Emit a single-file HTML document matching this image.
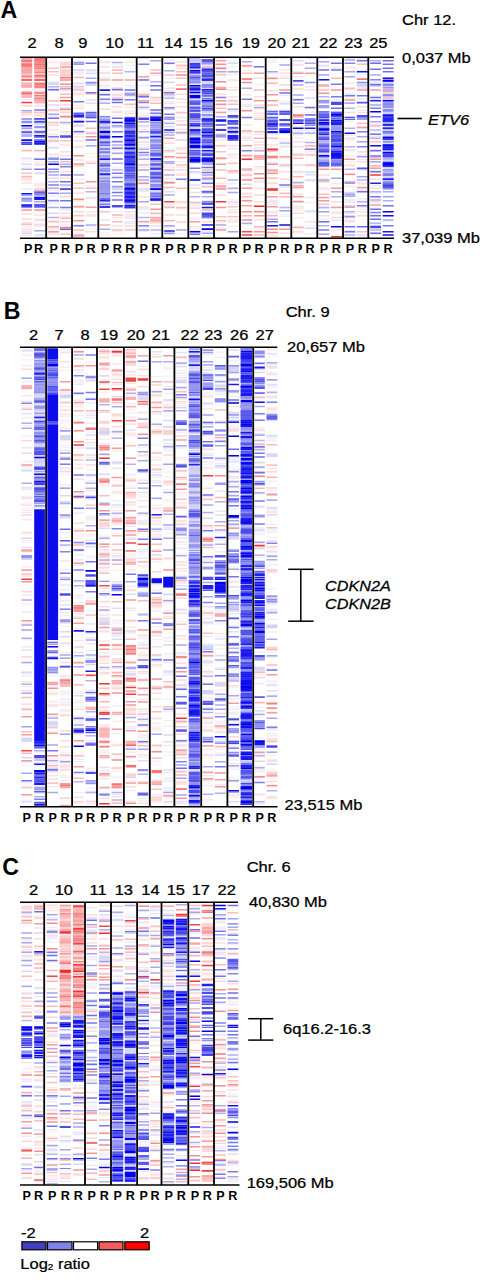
<!DOCTYPE html>
<html><head><meta charset="utf-8"><style>
html,body{margin:0;padding:0;background:#fff;width:486px;height:1280px;overflow:hidden}
svg{display:block;font-family:"Liberation Sans",sans-serif;fill:#000}
</style></head><body>
<svg width="486" height="1280" viewBox="0 0 486 1280"><defs><filter id="bl" x="0" y="0" width="1" height="1"><feGaussianBlur stdDeviation="0.3 0.55"/></filter></defs>
<g filter="url(#bl)"><path fill="#eaeafc" d="M21.3 63.1h10.9v1.6h-10.9zM21.3 69.2h10.9v1.0h-10.9zM21.3 72.4h10.9v1.6h-10.9zM21.3 99.1h10.9v1.0h-10.9zM21.3 102.0h10.9v1.6h-10.9zM21.3 158.6h10.9v1.0h-10.9zM21.3 188.5h10.9v1.6h-10.9zM34.2 69.1h10.8v1.3h-10.8zM34.2 78.7h10.8v1.3h-10.8zM34.2 85.4h10.8v1.0h-10.8zM34.2 89.7h10.8v1.3h-10.8zM34.2 93.2h10.8v1.0h-10.8zM34.2 140.2h10.8v1.0h-10.8zM34.2 149.2h10.8v1.6h-10.8zM34.2 158.7h10.8v1.6h-10.8zM34.2 182.7h10.8v1.0h-10.8zM48.2 87.5h10.8v1.3h-10.8zM48.2 147.4h10.8v1.6h-10.8zM48.2 156.7h10.8v1.0h-10.8zM48.2 172.3h10.8v1.0h-10.8zM48.2 199.1h10.8v1.0h-10.8zM48.2 220.3h10.8v1.6h-10.8zM48.2 231.7h10.8v1.6h-10.8zM60.0 107.0h11.0v1.3h-11.0zM60.0 208.8h11.0v1.6h-11.0zM73.5 63.2h10.7v1.0h-10.7zM73.5 133.5h10.7v1.6h-10.7zM85.6 112.1h10.9v1.6h-10.9zM85.6 117.6h10.9v1.3h-10.9zM85.6 190.9h10.9v1.3h-10.9zM85.6 205.9h10.9v1.3h-10.9zM99.6 77.6h10.6v1.6h-10.6zM99.6 85.0h10.6v1.0h-10.6zM99.6 93.1h10.6v1.3h-10.6zM99.6 133.1h10.6v1.0h-10.6zM99.6 143.1h10.6v1.6h-10.6zM99.6 147.6h10.6v1.6h-10.6zM99.6 168.9h10.6v1.0h-10.6zM99.6 204.1h10.6v1.0h-10.6zM111.8 65.8h11.0v1.3h-11.0zM111.8 93.2h11.0v1.6h-11.0zM111.8 167.5h11.0v1.0h-11.0zM111.8 228.9h11.0v1.3h-11.0zM124.5 86.6h10.8v1.0h-10.8zM124.5 95.7h10.8v1.3h-10.8zM124.5 155.7h10.8v1.6h-10.8zM124.5 165.3h10.8v1.6h-10.8zM124.5 172.7h10.8v1.0h-10.8zM124.5 216.1h10.8v1.6h-10.8zM124.5 218.0h10.8v1.0h-10.8zM138.4 78.6h10.8v1.3h-10.8zM138.4 84.7h10.8v1.6h-10.8zM138.4 106.5h10.8v1.6h-10.8zM138.4 109.1h10.8v1.0h-10.8zM138.4 142.3h10.8v1.0h-10.8zM138.4 146.5h10.8v1.6h-10.8zM138.4 155.9h10.8v1.3h-10.8zM138.4 158.2h10.8v1.0h-10.8zM138.4 167.0h10.8v1.0h-10.8zM138.4 181.4h10.8v1.3h-10.8zM138.4 183.7h10.8v1.0h-10.8zM138.4 212.1h10.8v1.3h-10.8zM138.4 225.9h10.8v1.6h-10.8zM138.4 231.0h10.8v1.0h-10.8zM138.4 236.9h10.8v0.6h-10.8zM150.2 74.7h11.0v1.0h-11.0zM150.2 80.8h11.0v1.0h-11.0zM150.2 89.2h11.0v1.0h-11.0zM150.2 130.1h11.0v1.0h-11.0zM150.2 154.7h11.0v1.3h-11.0zM150.2 159.0h11.0v1.6h-11.0zM150.2 191.8h11.0v1.0h-11.0zM150.2 233.0h11.0v1.3h-11.0zM150.2 236.6h11.0v0.9h-11.0zM164.2 77.7h10.5v1.3h-10.5zM164.2 90.0h10.5v1.6h-10.5zM164.2 96.1h10.5v1.6h-10.5zM164.2 124.6h10.5v1.0h-10.5zM164.2 130.4h10.5v1.3h-10.5zM164.2 166.7h10.5v1.6h-10.5zM164.2 178.0h10.5v1.3h-10.5zM164.2 194.5h10.5v1.0h-10.5zM164.2 205.9h10.5v1.3h-10.5zM164.2 224.9h10.5v1.0h-10.5zM164.2 226.2h10.5v1.6h-10.5zM175.8 124.0h10.9v1.0h-10.9zM189.7 60.0h10.7v1.3h-10.7zM189.7 71.6h10.7v1.3h-10.7zM189.7 82.2h10.7v1.0h-10.7zM189.7 103.2h10.7v1.3h-10.7zM189.7 106.4h10.7v1.3h-10.7zM189.7 131.4h10.7v1.6h-10.7zM189.7 178.5h10.7v1.6h-10.7zM189.7 204.5h10.7v1.6h-10.7zM189.7 218.9h10.7v1.0h-10.7zM189.7 233.5h10.7v1.0h-10.7zM201.7 62.2h11.3v1.6h-11.3zM201.7 98.2h11.3v1.3h-11.3zM201.7 125.1h11.3v1.6h-11.3zM201.7 127.0h11.3v1.0h-11.3zM201.7 179.0h11.3v1.3h-11.3zM201.7 207.2h11.3v1.3h-11.3zM201.7 230.5h11.3v1.6h-11.3zM215.6 100.8h10.7v1.3h-10.7zM215.6 104.7h10.7v1.0h-10.7zM215.6 120.6h10.7v1.6h-10.7zM215.6 124.1h10.7v1.3h-10.7zM215.6 227.6h10.7v1.3h-10.7zM227.5 73.8h10.9v1.3h-10.9zM227.5 110.6h10.9v1.6h-10.9zM227.5 123.9h10.9v1.0h-10.9zM227.5 138.4h10.9v1.0h-10.9zM227.5 199.5h10.9v1.0h-10.9zM227.5 203.4h10.9v1.3h-10.9zM241.6 157.9h10.6v1.3h-10.6zM241.6 194.1h10.6v1.0h-10.6zM267.2 58.0h10.7v1.3h-10.7zM267.2 61.9h10.7v1.0h-10.7zM267.2 201.7h10.7v1.3h-10.7zM267.2 212.4h10.7v1.6h-10.7zM279.3 94.7h10.9v1.3h-10.9zM279.3 103.5h10.9v1.6h-10.9zM279.3 109.6h10.9v1.3h-10.9zM279.3 120.6h10.9v1.6h-10.9zM279.3 144.4h10.9v1.0h-10.9zM279.3 186.3h10.9v1.6h-10.9zM279.3 195.7h10.9v1.6h-10.9zM293.0 70.9h10.6v1.3h-10.6zM293.0 76.0h10.6v1.3h-10.6zM293.0 114.6h10.6v1.3h-10.6zM293.0 116.9h10.6v1.0h-10.6zM293.0 129.9h10.6v1.6h-10.6zM293.0 134.0h10.6v1.6h-10.6zM293.0 137.5h10.6v1.3h-10.6zM293.0 195.2h10.6v1.6h-10.6zM293.0 200.0h10.6v1.6h-10.6zM304.7 130.0h10.9v1.6h-10.9zM304.7 132.6h10.9v1.0h-10.9zM304.7 164.2h10.9v1.3h-10.9zM304.7 180.8h10.9v1.0h-10.9zM318.7 58.0h10.6v1.0h-10.6zM318.7 88.7h10.6v1.6h-10.6zM318.7 99.6h10.6v1.3h-10.6zM318.7 114.0h10.6v1.6h-10.6zM318.7 137.2h10.6v1.3h-10.6zM318.7 153.7h10.6v1.6h-10.6zM318.7 156.3h10.6v1.3h-10.6zM318.7 166.7h10.6v1.6h-10.6zM318.7 168.9h10.6v1.0h-10.6zM318.7 178.5h10.6v1.6h-10.6zM318.7 218.4h10.6v1.3h-10.6zM331.0 67.9h10.8v1.3h-10.8zM331.0 111.3h10.8v1.3h-10.8zM331.0 140.4h10.8v1.6h-10.8zM331.0 182.9h10.8v1.6h-10.8zM331.0 206.0h10.8v1.0h-10.8zM344.5 58.0h10.7v1.0h-10.7zM344.5 93.1h10.7v1.6h-10.7zM344.5 97.9h10.7v1.0h-10.7zM344.5 120.8h10.7v1.3h-10.7zM344.5 134.6h10.7v1.3h-10.7zM344.5 155.3h10.7v1.3h-10.7zM344.5 181.4h10.7v1.3h-10.7zM344.5 194.6h10.7v1.6h-10.7zM344.5 215.2h10.7v1.0h-10.7zM344.5 220.1h10.7v1.3h-10.7zM344.5 231.7h10.7v1.0h-10.7zM344.5 236.5h10.7v1.0h-10.7zM356.8 58.0h10.9v1.6h-10.9zM356.8 63.5h10.9v1.3h-10.9zM356.8 70.2h10.9v1.6h-10.9zM356.8 98.3h10.9v1.6h-10.9zM356.8 102.5h10.9v1.6h-10.9zM356.8 109.7h10.9v1.3h-10.9zM356.8 116.8h10.9v1.6h-10.9zM356.8 128.3h10.9v1.0h-10.9zM356.8 168.8h10.9v1.6h-10.9zM356.8 188.3h10.9v1.6h-10.9zM356.8 200.8h10.9v1.6h-10.9zM356.8 208.9h10.9v1.0h-10.9zM356.8 214.8h10.9v1.0h-10.9zM356.8 234.6h10.9v1.3h-10.9zM370.2 81.2h10.8v1.6h-10.8zM370.2 83.8h10.8v1.0h-10.8zM370.2 105.5h10.8v1.0h-10.8zM370.2 123.6h10.8v1.6h-10.8zM370.2 126.2h10.8v1.3h-10.8zM370.2 164.7h10.8v1.0h-10.8zM370.2 167.6h10.8v1.6h-10.8zM370.2 174.4h10.8v1.6h-10.8zM370.2 184.9h10.8v1.6h-10.8zM370.2 218.1h10.8v1.3h-10.8zM370.2 225.1h10.8v1.0h-10.8zM382.7 97.5h10.9v1.3h-10.9zM382.7 130.9h10.9v1.6h-10.9zM382.7 139.9h10.9v1.3h-10.9zM382.7 141.5h10.9v1.3h-10.9zM382.7 143.4h10.9v1.6h-10.9zM382.7 160.1h10.9v1.6h-10.9zM382.7 162.0h10.9v1.3h-10.9zM382.7 186.5h10.9v1.6h-10.9zM382.7 205.7h10.9v1.3h-10.9zM21.3 350.6h10.9v1.3h-10.9zM21.3 408.6h10.9v1.3h-10.9zM21.3 446.8h10.9v1.6h-10.9zM21.3 465.7h10.9v1.6h-10.9zM21.3 469.8h10.9v1.0h-10.9zM21.3 498.3h10.9v1.0h-10.9zM34.2 358.1h10.7v1.3h-10.7zM34.2 360.0h10.7v1.6h-10.7zM34.2 374.1h10.7v1.3h-10.7zM34.2 413.5h10.7v1.6h-10.7zM34.2 419.3h10.7v1.6h-10.7zM34.2 463.7h10.7v1.6h-10.7zM34.2 476.5h10.7v1.3h-10.7zM34.2 486.5h10.7v1.0h-10.7zM34.2 489.1h10.7v1.3h-10.7zM34.2 490.7h10.7v1.0h-10.7zM34.2 494.9h10.7v1.3h-10.7zM34.2 497.2h10.7v1.0h-10.7zM47.3 355.4h10.8v1.6h-10.8zM47.3 361.3h10.8v1.6h-10.8zM47.3 378.3h10.8v1.6h-10.8zM47.3 385.7h10.8v1.0h-10.8zM47.3 408.4h10.8v1.3h-10.8zM47.3 449.7h10.8v1.0h-10.8zM47.3 466.1h10.8v1.3h-10.8zM47.3 498.7h10.8v1.3h-10.8zM59.8 348.3h10.7v1.0h-10.7zM59.8 366.8h10.7v1.0h-10.7zM59.8 393.4h10.7v1.6h-10.7zM59.8 406.3h10.7v1.0h-10.7zM73.5 384.0h10.4v1.0h-10.4zM73.5 393.7h10.4v1.3h-10.4zM73.5 414.6h10.4v1.0h-10.4zM73.5 474.8h10.4v1.3h-10.4zM73.5 493.0h10.4v1.6h-10.4zM73.5 495.2h10.4v1.3h-10.4zM85.5 379.2h10.3v1.0h-10.3zM85.5 402.3h10.3v1.3h-10.3zM85.5 422.5h10.3v1.6h-10.3zM85.5 448.4h10.3v1.0h-10.3zM85.5 469.3h10.3v1.0h-10.3zM85.5 475.9h10.3v1.3h-10.3zM85.5 482.0h10.3v1.0h-10.3zM85.5 487.9h10.3v1.3h-10.3zM85.5 499.0h10.3v1.3h-10.3zM34.2 542.2h10.7v1.6h-10.7zM34.2 581.9h10.7v1.3h-10.7zM34.2 607.4h10.7v1.6h-10.7zM34.2 617.5h10.7v1.3h-10.7zM34.2 631.0h10.7v1.6h-10.7zM34.2 640.0h10.7v1.6h-10.7zM47.3 520.2h10.8v1.0h-10.8zM47.3 542.7h10.8v1.0h-10.8zM47.3 594.7h10.8v1.0h-10.8zM59.8 516.3h10.7v1.0h-10.7zM59.8 569.0h10.7v1.3h-10.7zM59.8 583.8h10.7v1.3h-10.7zM59.8 585.4h10.7v1.0h-10.7zM59.8 592.9h10.7v1.6h-10.7zM59.8 599.9h10.7v1.6h-10.7zM59.8 608.3h10.7v1.6h-10.7zM59.8 612.1h10.7v1.3h-10.7zM59.8 657.0h10.7v0.5h-10.7zM73.5 507.9h10.4v1.6h-10.4zM73.5 512.4h10.4v1.6h-10.4zM73.5 558.8h10.4v1.6h-10.4zM73.5 564.2h10.4v1.6h-10.4zM85.5 519.5h10.3v1.0h-10.3zM85.5 579.9h10.3v1.3h-10.3zM85.5 601.2h10.3v1.3h-10.3zM85.5 623.1h10.3v1.6h-10.3zM85.5 633.2h10.3v1.0h-10.3zM85.5 637.0h10.3v1.6h-10.3zM85.5 639.6h10.3v1.0h-10.3zM85.5 643.1h10.3v1.3h-10.3zM85.5 649.9h10.3v1.3h-10.3zM85.5 655.8h10.3v1.0h-10.3zM21.3 707.7h10.9v1.6h-10.9zM21.3 782.3h10.9v1.3h-10.9zM34.2 657.5h10.7v1.0h-10.7zM34.2 679.8h10.7v1.0h-10.7zM34.2 699.1h10.7v1.3h-10.7zM34.2 720.6h10.7v1.6h-10.7zM34.2 745.3h10.7v1.3h-10.7zM34.2 763.9h10.7v1.3h-10.7zM34.2 770.9h10.7v1.6h-10.7zM34.2 775.7h10.7v1.0h-10.7zM34.2 778.9h10.7v1.6h-10.7zM34.2 792.7h10.7v1.0h-10.7zM47.3 657.5h10.8v1.3h-10.8zM47.3 706.0h10.8v1.3h-10.8zM47.3 722.4h10.8v1.3h-10.8zM47.3 767.0h10.8v1.0h-10.8zM59.8 690.4h10.7v1.0h-10.7zM59.8 698.2h10.7v1.6h-10.7zM73.5 720.6h10.4v1.0h-10.4zM73.5 758.4h10.4v1.6h-10.4zM73.5 791.9h10.4v1.0h-10.4zM85.5 689.4h10.3v1.6h-10.3zM85.5 727.2h10.3v1.0h-10.3zM85.5 740.0h10.3v1.0h-10.3zM85.5 790.6h10.3v1.6h-10.3zM85.5 805.5h10.3v0.3h-10.3zM99.2 380.9h10.5v1.6h-10.5zM99.2 438.5h10.5v1.3h-10.5zM99.2 462.1h10.5v1.3h-10.5zM99.2 465.6h10.5v1.0h-10.5zM111.6 350.5h10.7v1.0h-10.7zM111.6 460.8h10.7v1.0h-10.7zM125.6 348.3h10.5v1.0h-10.5zM125.6 418.8h10.5v1.6h-10.5zM125.6 475.5h10.5v1.0h-10.5zM137.6 398.7h10.6v1.3h-10.6zM137.6 435.2h10.6v1.0h-10.6zM151.5 413.2h10.4v1.6h-10.4zM151.5 459.0h10.4v1.6h-10.4zM151.5 470.0h10.4v1.3h-10.4zM151.5 480.0h10.4v1.3h-10.4zM163.2 392.8h10.1v1.3h-10.1zM163.2 400.5h10.1v1.0h-10.1zM163.2 442.6h10.1v1.3h-10.1zM163.2 476.5h10.1v1.0h-10.1zM99.2 510.0h10.5v1.0h-10.5zM99.2 535.5h10.5v1.3h-10.5zM99.2 566.7h10.5v1.6h-10.5zM99.2 594.6h10.5v1.0h-10.5zM111.6 513.2h10.7v1.6h-10.7zM111.6 552.8h10.7v1.3h-10.7zM111.6 582.9h10.7v1.3h-10.7zM111.6 590.9h10.7v1.3h-10.7zM111.6 633.2h10.7v1.6h-10.7zM111.6 635.1h10.7v1.6h-10.7zM125.6 536.8h10.5v1.0h-10.5zM125.6 609.7h10.5v1.3h-10.5zM125.6 650.0h10.5v1.0h-10.5zM137.6 520.0h10.6v1.3h-10.6zM137.6 523.5h10.6v1.6h-10.6zM137.6 548.8h10.6v1.6h-10.6zM137.6 550.7h10.6v1.6h-10.6zM137.6 591.2h10.6v1.0h-10.6zM137.6 642.2h10.6v1.3h-10.6zM151.5 589.5h10.4v1.3h-10.4zM163.2 549.6h10.1v1.3h-10.1zM163.2 594.2h10.1v1.3h-10.1zM163.2 612.0h10.1v1.6h-10.1zM163.2 653.3h10.1v1.3h-10.1zM111.6 776.5h10.7v1.3h-10.7zM125.6 678.7h10.5v1.0h-10.5zM125.6 725.9h10.5v1.6h-10.5zM125.6 728.1h10.5v1.3h-10.5zM125.6 745.1h10.5v1.6h-10.5zM125.6 755.0h10.5v1.3h-10.5zM137.6 681.4h10.6v1.0h-10.6zM137.6 688.9h10.6v1.6h-10.6zM137.6 698.7h10.6v1.3h-10.6zM137.6 711.3h10.6v1.3h-10.6zM137.6 734.7h10.6v1.6h-10.6zM137.6 798.0h10.6v1.0h-10.6zM151.5 718.4h10.4v1.0h-10.4zM151.5 793.9h10.4v1.0h-10.4zM163.2 670.1h10.1v1.3h-10.1zM163.2 672.0h10.1v1.6h-10.1zM163.2 674.2h10.1v1.3h-10.1zM163.2 751.4h10.1v1.0h-10.1zM163.2 771.7h10.1v1.6h-10.1zM163.2 781.0h10.1v1.0h-10.1zM163.2 787.4h10.1v1.6h-10.1zM163.2 790.0h10.1v1.3h-10.1zM176.0 372.4h10.8v1.6h-10.8zM176.0 388.4h10.8v1.3h-10.8zM176.0 445.5h10.8v1.3h-10.8zM176.0 467.0h10.8v1.3h-10.8zM176.0 470.9h10.8v1.3h-10.8zM188.8 350.2h11.0v1.0h-11.0zM188.8 354.8h11.0v1.6h-11.0zM188.8 370.5h11.0v1.3h-11.0zM188.8 385.5h11.0v1.3h-11.0zM188.8 397.5h11.0v1.0h-11.0zM188.8 439.7h11.0v1.0h-11.0zM188.8 452.1h11.0v1.3h-11.0zM188.8 465.6h11.0v1.6h-11.0zM188.8 469.4h11.0v1.3h-11.0zM188.8 483.5h11.0v1.6h-11.0zM188.8 494.0h11.0v1.3h-11.0zM188.8 501.7h11.0v0.8h-11.0zM202.6 353.7h10.7v1.6h-10.7zM202.6 380.1h10.7v1.6h-10.7zM202.6 382.3h10.7v1.0h-10.7zM202.6 385.5h10.7v1.3h-10.7zM202.6 388.4h10.7v1.0h-10.7zM202.6 393.6h10.7v1.0h-10.7zM202.6 403.9h10.7v1.3h-10.7zM202.6 414.2h10.7v1.6h-10.7zM202.6 421.6h10.7v1.6h-10.7zM202.6 445.4h10.7v1.3h-10.7zM202.6 448.6h10.7v1.6h-10.7zM202.6 455.1h10.7v1.0h-10.7zM214.8 368.7h11.0v1.3h-11.0zM214.8 383.9h11.0v1.6h-11.0zM214.8 389.4h11.0v1.0h-11.0zM214.8 393.7h11.0v1.6h-11.0zM214.8 430.6h11.0v1.0h-11.0zM214.8 438.3h11.0v1.0h-11.0zM214.8 441.9h11.0v1.0h-11.0zM214.8 459.1h11.0v1.6h-11.0zM214.8 463.0h11.0v1.6h-11.0zM214.8 490.3h11.0v1.6h-11.0zM228.3 365.8h10.7v1.6h-10.7zM228.3 369.9h10.7v1.3h-10.7zM228.3 392.5h10.7v1.3h-10.7zM228.3 396.0h10.7v1.0h-10.7zM228.3 401.2h10.7v1.0h-10.7zM228.3 426.2h10.7v1.0h-10.7zM228.3 477.7h10.7v1.3h-10.7zM228.3 480.0h10.7v1.3h-10.7zM228.3 493.7h10.7v1.0h-10.7zM240.7 374.1h11.3v1.6h-11.3zM240.7 376.7h11.3v1.3h-11.3zM240.7 378.6h11.3v1.3h-11.3zM240.7 382.1h11.3v1.3h-11.3zM240.7 386.9h11.3v1.0h-11.3zM240.7 398.4h11.3v1.6h-11.3zM240.7 406.6h11.3v1.3h-11.3zM240.7 410.8h11.3v1.0h-11.3zM240.7 413.4h11.3v1.6h-11.3zM240.7 419.5h11.3v1.6h-11.3zM240.7 431.1h11.3v1.0h-11.3zM240.7 460.0h11.3v1.3h-11.3zM240.7 465.4h11.3v1.0h-11.3zM240.7 467.4h11.3v1.3h-11.3zM240.7 482.2h11.3v1.0h-11.3zM240.7 483.5h11.3v1.6h-11.3zM240.7 485.4h11.3v1.0h-11.3zM240.7 488.9h11.3v1.6h-11.3zM240.7 500.7h11.3v1.3h-11.3zM176.0 521.3h10.8v1.0h-10.8zM176.0 541.1h10.8v1.6h-10.8zM176.0 547.6h10.8v1.6h-10.8zM176.0 576.0h10.8v1.0h-10.8zM176.0 577.6h10.8v1.0h-10.8zM176.0 578.9h10.8v1.3h-10.8zM176.0 654.4h10.8v1.0h-10.8zM188.8 527.7h11.0v1.0h-11.0zM188.8 534.1h11.0v1.3h-11.0zM188.8 538.3h11.0v1.3h-11.0zM188.8 552.9h11.0v1.0h-11.0zM188.8 558.4h11.0v1.6h-11.0zM188.8 575.1h11.0v1.6h-11.0zM188.8 577.0h11.0v1.6h-11.0zM188.8 600.3h11.0v1.0h-11.0zM188.8 626.0h11.0v1.6h-11.0zM188.8 630.2h11.0v1.0h-11.0zM202.6 527.3h10.7v1.3h-10.7zM202.6 543.6h10.7v1.6h-10.7zM202.6 558.1h10.7v1.3h-10.7zM202.6 565.9h10.7v1.0h-10.7zM202.6 576.5h10.7v1.0h-10.7zM202.6 615.0h10.7v1.0h-10.7zM202.6 617.0h10.7v1.0h-10.7zM202.6 622.8h10.7v1.6h-10.7zM202.6 635.7h10.7v1.6h-10.7zM202.6 643.5h10.7v1.6h-10.7zM202.6 646.1h10.7v1.6h-10.7zM202.6 655.1h10.7v1.6h-10.7zM214.8 510.3h11.0v1.6h-11.0zM214.8 589.1h11.0v1.6h-11.0zM214.8 597.2h11.0v1.3h-11.0zM214.8 609.7h11.0v1.6h-11.0zM214.8 620.0h11.0v1.3h-11.0zM228.3 506.0h10.7v1.0h-10.7zM228.3 508.6h10.7v1.3h-10.7zM228.3 524.8h10.7v1.6h-10.7zM228.3 532.8h10.7v1.0h-10.7zM228.3 566.4h10.7v1.0h-10.7zM228.3 597.0h10.7v1.6h-10.7zM228.3 613.1h10.7v1.6h-10.7zM228.3 624.9h10.7v1.3h-10.7zM228.3 650.7h10.7v1.6h-10.7zM240.7 537.3h11.3v1.6h-11.3zM240.7 543.9h11.3v1.3h-11.3zM240.7 549.7h11.3v1.3h-11.3zM240.7 559.3h11.3v1.3h-11.3zM240.7 580.8h11.3v1.6h-11.3zM240.7 588.3h11.3v1.3h-11.3zM240.7 592.5h11.3v1.0h-11.3zM240.7 596.0h11.3v1.6h-11.3zM240.7 607.9h11.3v1.0h-11.3zM240.7 616.9h11.3v1.3h-11.3zM240.7 644.2h11.3v1.3h-11.3zM176.0 687.3h10.8v1.6h-10.8zM176.0 719.5h10.8v1.0h-10.8zM176.0 741.7h10.8v1.3h-10.8zM176.0 774.6h10.8v1.3h-10.8zM188.8 687.4h11.0v1.6h-11.0zM188.8 697.0h11.0v1.6h-11.0zM188.8 705.7h11.0v1.0h-11.0zM188.8 713.7h11.0v1.3h-11.0zM188.8 717.2h11.0v1.3h-11.0zM188.8 743.7h11.0v1.6h-11.0zM188.8 774.7h11.0v1.3h-11.0zM188.8 801.7h11.0v1.6h-11.0zM202.6 659.8h10.7v1.3h-10.7zM202.6 707.0h10.7v1.6h-10.7zM202.6 716.0h10.7v1.3h-10.7zM202.6 720.8h10.7v1.3h-10.7zM202.6 775.0h10.7v1.3h-10.7zM202.6 784.9h10.7v1.0h-10.7zM214.8 659.4h11.0v1.0h-11.0zM214.8 667.3h11.0v1.0h-11.0zM214.8 683.3h11.0v1.3h-11.0zM214.8 689.4h11.0v1.0h-11.0zM214.8 712.9h11.0v1.6h-11.0zM214.8 728.3h11.0v1.0h-11.0zM214.8 731.8h11.0v1.6h-11.0zM214.8 752.4h11.0v1.0h-11.0zM214.8 784.0h11.0v1.6h-11.0zM228.3 673.0h10.7v1.3h-10.7zM228.3 697.9h10.7v1.6h-10.7zM228.3 708.2h10.7v1.6h-10.7zM228.3 711.7h10.7v1.6h-10.7zM228.3 722.6h10.7v1.3h-10.7zM228.3 728.4h10.7v1.0h-10.7zM228.3 739.9h10.7v1.0h-10.7zM228.3 741.5h10.7v1.0h-10.7zM228.3 746.1h10.7v1.6h-10.7zM228.3 759.6h10.7v1.0h-10.7zM228.3 762.9h10.7v1.0h-10.7zM240.7 665.5h11.3v1.3h-11.3zM240.7 703.5h11.3v1.0h-11.3zM240.7 729.5h11.3v1.6h-11.3zM240.7 774.6h11.3v1.3h-11.3zM240.7 795.5h11.3v1.3h-11.3zM254.5 398.2h10.3v1.0h-10.3zM254.5 427.3h10.3v1.3h-10.3zM254.5 479.9h10.3v1.3h-10.3zM254.5 493.5h10.3v1.3h-10.3zM254.5 514.0h10.3v1.6h-10.3zM254.5 527.2h10.3v1.0h-10.3zM254.5 528.5h10.3v1.0h-10.3zM254.5 532.4h10.3v1.0h-10.3zM254.5 547.5h10.3v1.0h-10.3zM254.5 562.6h10.3v1.6h-10.3zM254.5 576.0h10.3v1.0h-10.3zM266.5 363.6h10.8v1.6h-10.8zM266.5 367.7h10.8v1.0h-10.8zM266.5 386.5h10.8v1.3h-10.8zM266.5 411.6h10.8v1.0h-10.8zM266.5 417.8h10.8v1.0h-10.8zM266.5 464.1h10.8v1.0h-10.8zM266.5 487.0h10.8v1.6h-10.8zM266.5 493.1h10.8v1.0h-10.8zM266.5 529.0h10.8v1.3h-10.8zM266.5 556.5h10.8v1.3h-10.8zM254.5 593.4h10.3v1.6h-10.3zM254.5 607.9h10.3v1.0h-10.3zM254.5 609.5h10.3v1.0h-10.3zM254.5 651.4h10.3v1.3h-10.3zM254.5 668.1h10.3v1.6h-10.3zM254.5 676.2h10.3v1.6h-10.3zM254.5 720.8h10.3v1.6h-10.3zM254.5 748.6h10.3v1.0h-10.3zM254.5 769.0h10.3v1.3h-10.3zM254.5 775.7h10.3v1.3h-10.3zM266.5 618.9h10.8v1.0h-10.8zM266.5 638.8h10.8v1.3h-10.8zM266.5 680.4h10.8v1.3h-10.8zM266.5 711.8h10.8v1.0h-10.8zM266.5 733.0h10.8v1.3h-10.8zM266.5 760.6h10.8v1.3h-10.8zM266.5 805.7h10.8v0.1h-10.8zM21.3 1008.2h10.9v1.3h-10.9zM21.3 1016.9h10.9v1.0h-10.9zM21.3 1026.2h10.9v1.6h-10.9zM34.2 904.3h8.9v1.6h-8.9zM34.2 955.1h8.9v1.3h-8.9zM34.2 1010.1h8.9v1.0h-8.9zM34.2 1017.8h8.9v1.6h-8.9zM46.7 917.1h10.9v1.3h-10.9zM46.7 936.2h10.9v1.0h-10.9zM46.7 975.5h10.9v1.0h-10.9zM46.7 1002.3h10.9v1.0h-10.9zM46.7 1031.0h10.9v1.6h-10.9zM46.7 1033.6h10.9v1.6h-10.9zM59.7 909.8h11.1v1.0h-11.1zM59.7 911.1h11.1v1.3h-11.1zM59.7 980.5h11.1v1.0h-11.1zM59.7 1004.3h11.1v1.0h-11.1zM73.0 916.9h10.8v1.3h-10.8zM73.0 937.8h10.8v1.0h-10.8zM73.0 984.4h10.8v1.6h-10.8zM73.0 1008.0h10.8v1.0h-10.8zM73.0 1010.0h10.8v1.6h-10.8zM86.5 956.6h10.5v1.6h-10.5zM86.5 972.3h10.5v1.3h-10.5zM86.5 974.6h10.5v1.6h-10.5zM99.0 902.7h10.8v1.0h-10.8zM99.0 910.5h10.8v1.6h-10.8zM99.0 921.2h10.8v1.0h-10.8zM99.0 962.0h10.8v1.3h-10.8zM99.0 974.0h10.8v1.3h-10.8zM99.0 985.4h10.8v1.0h-10.8zM99.0 987.0h10.8v1.6h-10.8zM112.3 913.0h10.9v1.0h-10.9zM112.3 915.0h10.9v1.6h-10.9zM112.3 931.3h10.9v1.3h-10.9zM112.3 952.5h10.9v1.6h-10.9zM112.3 971.0h10.9v1.3h-10.9zM112.3 980.6h10.9v1.0h-10.9zM112.3 990.6h10.9v1.0h-10.9zM112.3 1005.4h10.9v1.0h-10.9zM112.3 1025.6h10.9v1.3h-10.9zM124.8 916.3h10.9v1.6h-10.9zM124.8 921.1h10.9v1.0h-10.9zM124.8 944.9h10.9v1.3h-10.9zM124.8 957.1h10.9v1.3h-10.9zM124.8 966.1h10.9v1.6h-10.9zM124.8 1031.4h10.9v1.3h-10.9zM124.8 1040.7h10.9v1.0h-10.9zM138.2 904.7h10.8v1.0h-10.8zM138.2 930.8h10.8v1.3h-10.8zM138.2 932.7h10.8v1.3h-10.8zM138.2 948.4h10.8v1.0h-10.8zM138.2 977.0h10.8v1.6h-10.8zM138.2 1001.2h10.8v1.6h-10.8zM138.2 1003.8h10.8v1.0h-10.8zM150.3 930.4h9.5v1.6h-9.5zM163.0 905.0h11.2v1.3h-11.2zM163.0 912.8h11.2v1.6h-11.2zM163.0 923.3h11.2v1.6h-11.2zM163.0 925.5h11.2v1.3h-11.2zM163.0 982.9h11.2v1.6h-11.2zM163.0 986.8h11.2v1.3h-11.2zM163.0 994.1h11.2v1.6h-11.2zM163.0 1015.2h11.2v1.3h-11.2zM163.0 1028.0h11.2v1.0h-11.2zM163.0 1035.4h11.2v1.0h-11.2zM163.0 1040.0h11.2v1.3h-11.2zM175.8 916.0h11.2v1.0h-11.2zM175.8 952.8h11.2v1.3h-11.2zM175.8 954.7h11.2v1.6h-11.2zM175.8 973.0h11.2v1.3h-11.2zM175.8 1022.7h11.2v1.3h-11.2zM175.8 1026.2h11.2v1.0h-11.2zM189.7 906.9h10.5v1.3h-10.5zM189.7 932.4h10.5v1.6h-10.5zM189.7 951.4h10.5v1.6h-10.5zM189.7 973.8h10.5v1.6h-10.5zM201.7 906.0h11.3v1.3h-11.3zM201.7 948.4h11.3v1.0h-11.3zM201.7 991.8h11.3v1.6h-11.3zM201.7 1040.0h11.3v1.6h-11.3zM215.0 909.8h10.8v1.3h-10.8zM215.0 915.0h10.8v1.3h-10.8zM215.0 928.1h10.8v1.3h-10.8zM215.0 939.3h10.8v1.3h-10.8zM215.0 953.9h10.8v1.6h-10.8zM215.0 1034.2h10.8v1.6h-10.8zM227.5 923.0h10.8v1.0h-10.8zM227.5 954.3h10.8v1.0h-10.8zM227.5 983.0h10.8v1.0h-10.8zM227.5 1030.2h10.8v1.0h-10.8zM227.5 1041.6h10.8v1.0h-10.8zM227.5 1047.1h10.8v1.6h-10.8zM21.3 1055.9h10.9v1.0h-10.9zM21.3 1080.4h10.9v1.6h-10.9zM21.3 1117.2h10.9v1.6h-10.9zM21.3 1124.6h10.9v1.3h-10.9zM21.3 1135.6h10.9v1.6h-10.9zM21.3 1147.2h10.9v1.6h-10.9zM34.2 1056.6h8.9v1.0h-8.9zM34.2 1068.0h8.9v1.0h-8.9zM34.2 1151.1h8.9v1.0h-8.9zM34.2 1171.6h8.9v1.3h-8.9zM34.2 1178.4h8.9v1.6h-8.9zM46.7 1056.2h10.9v1.3h-10.9zM46.7 1059.8h10.9v1.3h-10.9zM46.7 1098.7h10.9v1.3h-10.9zM46.7 1101.0h10.9v1.6h-10.9zM46.7 1111.6h10.9v1.0h-10.9zM46.7 1129.0h10.9v1.0h-10.9zM46.7 1137.9h10.9v1.6h-10.9zM46.7 1144.0h10.9v1.6h-10.9zM46.7 1150.4h10.9v1.0h-10.9zM46.7 1157.9h10.9v1.3h-10.9zM46.7 1181.0h10.9v1.3h-10.9zM59.7 1065.4h11.1v1.6h-11.1zM59.7 1170.2h11.1v1.0h-11.1zM59.7 1173.1h11.1v1.6h-11.1zM59.7 1180.7h11.1v1.6h-11.1zM73.0 1060.1h10.8v1.3h-10.8zM73.0 1085.1h10.8v1.0h-10.8zM73.0 1103.3h10.8v1.3h-10.8zM73.0 1175.2h10.8v1.0h-10.8zM86.5 1098.0h10.5v1.0h-10.5zM86.5 1105.4h10.5v1.3h-10.5zM86.5 1110.0h10.5v1.0h-10.5zM86.5 1133.2h10.5v1.3h-10.5zM86.5 1164.7h10.5v1.3h-10.5zM99.0 1144.5h10.8v1.6h-10.8zM99.0 1152.8h10.8v1.0h-10.8zM99.0 1154.4h10.8v1.3h-10.8zM99.0 1164.1h10.8v1.6h-10.8zM99.0 1170.6h10.8v1.0h-10.8zM112.3 1063.3h10.9v1.0h-10.9zM112.3 1076.6h10.9v1.0h-10.9zM112.3 1081.7h10.9v1.3h-10.9zM112.3 1086.5h10.9v1.3h-10.9zM112.3 1088.1h10.9v1.3h-10.9zM112.3 1091.6h10.9v1.0h-10.9zM112.3 1106.5h10.9v1.0h-10.9zM112.3 1118.8h10.9v1.0h-10.9zM124.8 1054.0h10.9v1.0h-10.9zM124.8 1056.0h10.9v1.3h-10.9zM124.8 1091.7h10.9v1.0h-10.9zM124.8 1105.6h10.9v1.6h-10.9zM124.8 1109.8h10.9v1.6h-10.9zM124.8 1115.5h10.9v1.3h-10.9zM124.8 1121.8h10.9v1.0h-10.9zM124.8 1128.8h10.9v1.6h-10.9zM124.8 1152.2h10.9v1.3h-10.9zM124.8 1178.8h10.9v1.6h-10.9zM138.2 1063.6h10.8v1.6h-10.8zM138.2 1095.8h10.8v1.3h-10.8zM138.2 1099.6h10.8v1.6h-10.8zM138.2 1107.5h10.8v1.3h-10.8zM138.2 1124.7h10.8v1.0h-10.8zM138.2 1148.2h10.8v1.6h-10.8zM138.2 1157.6h10.8v1.0h-10.8zM138.2 1165.4h10.8v1.6h-10.8zM150.3 1105.7h9.5v1.0h-9.5zM150.3 1121.6h9.5v1.6h-9.5zM150.3 1176.7h9.5v1.3h-9.5zM163.0 1059.2h11.2v1.6h-11.2zM163.0 1088.7h11.2v1.6h-11.2zM163.0 1101.2h11.2v1.6h-11.2zM163.0 1139.1h11.2v1.0h-11.2zM163.0 1156.4h11.2v1.0h-11.2zM163.0 1163.3h11.2v1.3h-11.2zM175.8 1059.4h11.2v1.3h-11.2zM175.8 1123.3h11.2v1.6h-11.2zM175.8 1125.5h11.2v1.6h-11.2zM175.8 1143.3h11.2v1.0h-11.2zM189.7 1060.0h10.5v1.6h-10.5zM189.7 1064.4h10.5v1.6h-10.5zM189.7 1077.7h10.5v1.6h-10.5zM189.7 1083.8h10.5v1.0h-10.5zM189.7 1144.2h10.5v1.0h-10.5zM189.7 1168.8h10.5v1.6h-10.5zM201.7 1082.4h11.3v1.6h-11.3zM215.0 1059.2h10.8v1.3h-10.8zM215.0 1128.9h10.8v1.6h-10.8zM215.0 1148.3h10.8v1.0h-10.8zM227.5 1062.8h10.8v1.3h-10.8zM227.5 1099.8h10.8v1.0h-10.8zM227.5 1110.6h10.8v1.0h-10.8zM227.5 1115.2h10.8v1.3h-10.8zM227.5 1141.6h10.8v1.6h-10.8zM227.5 1153.0h10.8v1.3h-10.8zM227.5 1180.5h10.8v1.6h-10.8z"/><path fill="#fce4e4" d="M21.3 75.0h10.9v1.6h-10.9zM21.3 126.5h10.9v1.0h-10.9zM21.3 130.1h10.9v1.3h-10.9zM21.3 148.9h10.9v1.3h-10.9zM21.3 177.5h10.9v1.6h-10.9zM21.3 181.7h10.9v1.0h-10.9zM21.3 222.1h10.9v1.3h-10.9zM21.3 225.6h10.9v1.0h-10.9zM21.3 231.1h10.9v1.3h-10.9zM21.3 234.6h10.9v1.3h-10.9zM34.2 62.9h10.8v1.6h-10.8zM34.2 67.1h10.8v1.0h-10.8zM34.2 71.0h10.8v1.3h-10.8zM34.2 202.4h10.8v1.0h-10.8zM34.2 218.7h10.8v1.0h-10.8zM34.2 220.0h10.8v1.3h-10.8zM48.2 61.6h10.8v1.6h-10.8zM48.2 89.1h10.8v1.6h-10.8zM48.2 100.3h10.8v1.6h-10.8zM48.2 116.4h10.8v1.6h-10.8zM48.2 118.3h10.8v1.0h-10.8zM48.2 121.8h10.8v1.6h-10.8zM48.2 129.2h10.8v1.6h-10.8zM48.2 134.1h10.8v1.3h-10.8zM48.2 137.6h10.8v1.6h-10.8zM48.2 189.8h10.8v1.0h-10.8zM48.2 227.9h10.8v1.6h-10.8zM60.0 62.5h11.0v1.6h-11.0zM60.0 69.6h11.0v1.0h-11.0zM60.0 79.1h11.0v1.0h-11.0zM60.0 87.4h11.0v1.6h-11.0zM60.0 110.2h11.0v1.6h-11.0zM60.0 122.1h11.0v1.6h-11.0zM60.0 135.4h11.0v1.6h-11.0zM60.0 165.4h11.0v1.6h-11.0zM60.0 215.8h11.0v1.0h-11.0zM60.0 229.2h11.0v1.0h-11.0zM73.5 69.1h10.7v1.6h-10.7zM73.5 84.5h10.7v1.6h-10.7zM73.5 86.7h10.7v1.0h-10.7zM73.5 94.0h10.7v1.6h-10.7zM73.5 122.0h10.7v1.3h-10.7zM73.5 123.9h10.7v1.6h-10.7zM73.5 136.1h10.7v1.3h-10.7zM73.5 146.3h10.7v1.3h-10.7zM73.5 200.2h10.7v1.6h-10.7zM73.5 206.2h10.7v1.3h-10.7zM73.5 224.6h10.7v1.0h-10.7zM85.6 142.6h10.9v1.0h-10.9zM85.6 180.6h10.9v1.6h-10.9zM85.6 187.4h10.9v1.6h-10.9zM85.6 211.0h10.9v1.6h-10.9zM85.6 215.1h10.9v1.6h-10.9zM99.6 151.8h10.6v1.6h-10.6zM99.6 156.6h10.6v1.6h-10.6zM99.6 193.9h10.6v1.0h-10.6zM111.8 79.6h11.0v1.3h-11.0zM111.8 110.5h11.0v1.6h-11.0zM111.8 146.6h11.0v1.3h-11.0zM111.8 159.5h11.0v1.0h-11.0zM111.8 199.0h11.0v1.0h-11.0zM124.5 61.5h10.8v1.3h-10.8zM124.5 110.8h10.8v1.3h-10.8zM138.4 95.9h10.8v1.6h-10.8zM138.4 104.9h10.8v1.0h-10.8zM138.4 114.9h10.8v1.6h-10.8zM138.4 129.0h10.8v1.3h-10.8zM150.2 112.2h11.0v1.0h-11.0zM150.2 113.5h11.0v1.3h-11.0zM150.2 131.4h11.0v1.0h-11.0zM150.2 138.6h11.0v1.0h-11.0zM150.2 221.7h11.0v1.3h-11.0zM164.2 106.8h10.5v1.3h-10.5zM164.2 115.9h10.5v1.3h-10.5zM164.2 157.2h10.5v1.3h-10.5zM164.2 164.7h10.5v1.0h-10.5zM164.2 204.6h10.5v1.0h-10.5zM164.2 230.7h10.5v1.3h-10.5zM175.8 64.1h10.9v1.3h-10.9zM175.8 74.1h10.9v1.3h-10.9zM175.8 101.7h10.9v1.6h-10.9zM175.8 112.0h10.9v1.6h-10.9zM175.8 147.1h10.9v1.6h-10.9zM175.8 149.3h10.9v1.3h-10.9zM175.8 156.8h10.9v1.6h-10.9zM175.8 207.9h10.9v1.6h-10.9zM189.7 145.3h10.7v1.3h-10.7zM189.7 150.7h10.7v1.0h-10.7zM201.7 87.0h11.3v1.3h-11.3zM201.7 88.9h11.3v1.0h-11.3zM201.7 151.8h11.3v1.6h-11.3zM215.6 58.0h10.7v1.3h-10.7zM215.6 69.3h10.7v1.0h-10.7zM215.6 73.2h10.7v1.3h-10.7zM215.6 88.2h10.7v1.3h-10.7zM215.6 133.1h10.7v1.6h-10.7zM215.6 137.0h10.7v1.0h-10.7zM215.6 182.6h10.7v1.6h-10.7zM227.5 71.2h10.9v1.6h-10.9zM227.5 87.1h10.9v1.0h-10.9zM227.5 157.2h10.9v1.0h-10.9zM227.5 188.3h10.9v1.3h-10.9zM227.5 208.9h10.9v1.0h-10.9zM227.5 216.3h10.9v1.3h-10.9zM241.6 66.8h10.6v1.0h-10.6zM241.6 70.3h10.6v1.0h-10.6zM241.6 79.3h10.6v1.0h-10.6zM241.6 103.4h10.6v1.3h-10.6zM241.6 132.1h10.6v1.3h-10.6zM241.6 135.7h10.6v1.0h-10.6zM241.6 154.1h10.6v1.3h-10.6zM241.6 187.3h10.6v1.0h-10.6zM241.6 197.6h10.6v1.0h-10.6zM241.6 223.0h10.6v1.0h-10.6zM241.6 224.3h10.6v1.0h-10.6zM253.8 89.9h10.7v1.0h-10.7zM253.8 106.4h10.7v1.0h-10.7zM253.8 108.0h10.7v1.6h-10.7zM253.8 112.5h10.7v1.6h-10.7zM253.8 114.7h10.7v1.0h-10.7zM253.8 116.7h10.7v1.3h-10.7zM253.8 141.3h10.7v1.6h-10.7zM253.8 143.9h10.7v1.0h-10.7zM253.8 147.1h10.7v1.6h-10.7zM253.8 210.0h10.7v1.3h-10.7zM253.8 211.9h10.7v1.3h-10.7zM267.2 73.2h10.7v1.0h-10.7zM267.2 79.3h10.7v1.0h-10.7zM267.2 90.3h10.7v1.0h-10.7zM267.2 105.2h10.7v1.3h-10.7zM267.2 118.8h10.7v1.0h-10.7zM267.2 120.4h10.7v1.6h-10.7zM267.2 126.4h10.7v1.3h-10.7zM267.2 192.8h10.7v1.0h-10.7zM267.2 199.8h10.7v1.3h-10.7zM267.2 235.7h10.7v1.0h-10.7zM279.3 69.3h10.9v1.3h-10.9zM279.3 84.4h10.9v1.3h-10.9zM279.3 128.9h10.9v1.6h-10.9zM279.3 157.9h10.9v1.3h-10.9zM279.3 210.0h10.9v1.6h-10.9zM293.0 87.9h10.6v1.6h-10.6zM293.0 132.1h10.6v1.3h-10.6zM293.0 152.7h10.6v1.6h-10.6zM293.0 183.0h10.6v1.6h-10.6zM293.0 185.2h10.6v1.6h-10.6zM293.0 193.6h10.6v1.3h-10.6zM293.0 208.3h10.6v1.3h-10.6zM293.0 217.4h10.6v1.0h-10.6zM293.0 226.1h10.6v1.6h-10.6zM304.7 108.2h10.9v1.0h-10.9zM304.7 151.2h10.9v1.3h-10.9zM318.7 64.4h10.6v1.6h-10.6zM318.7 237.1h10.6v0.4h-10.6zM331.0 66.6h10.8v1.0h-10.8zM331.0 159.7h10.8v1.0h-10.8zM331.0 191.5h10.8v1.0h-10.8zM331.0 225.8h10.8v1.6h-10.8zM344.5 66.8h10.7v1.6h-10.7zM344.5 82.4h10.7v1.6h-10.7zM344.5 88.5h10.7v1.6h-10.7zM344.5 165.2h10.7v1.3h-10.7zM344.5 210.7h10.7v1.3h-10.7zM344.5 216.5h10.7v1.3h-10.7zM356.8 126.4h10.9v1.6h-10.9zM356.8 135.7h10.9v1.0h-10.9zM356.8 154.3h10.9v1.6h-10.9zM356.8 158.9h10.9v1.3h-10.9zM356.8 190.5h10.9v1.3h-10.9zM356.8 204.7h10.9v1.3h-10.9zM356.8 236.5h10.9v1.0h-10.9zM370.2 61.9h10.8v1.0h-10.8zM370.2 135.8h10.8v1.3h-10.8zM370.2 170.2h10.8v1.3h-10.8zM370.2 223.2h10.8v1.3h-10.8zM370.2 233.9h10.8v1.0h-10.8zM382.7 82.7h10.9v1.6h-10.9zM21.3 354.5h10.9v1.0h-10.9zM21.3 395.1h10.9v1.3h-10.9zM21.3 400.5h10.9v1.6h-10.9zM21.3 404.7h10.9v1.0h-10.9zM59.8 413.8h10.7v1.6h-10.7zM59.8 419.9h10.7v1.0h-10.7zM59.8 427.4h10.7v1.3h-10.7zM59.8 451.4h10.7v1.6h-10.7zM59.8 456.3h10.7v1.3h-10.7zM59.8 470.4h10.7v1.0h-10.7zM73.5 359.0h10.4v1.0h-10.4zM73.5 365.8h10.4v1.6h-10.4zM73.5 369.3h10.4v1.6h-10.4zM73.5 380.2h10.4v1.3h-10.4zM73.5 399.5h10.4v1.6h-10.4zM73.5 405.9h10.4v1.3h-10.4zM73.5 430.7h10.4v1.3h-10.4zM73.5 454.0h10.4v1.3h-10.4zM73.5 463.4h10.4v1.6h-10.4zM73.5 467.6h10.4v1.3h-10.4zM85.5 348.3h10.3v1.0h-10.3zM85.5 361.5h10.3v1.0h-10.3zM85.5 417.0h10.3v1.3h-10.3zM85.5 438.9h10.3v1.0h-10.3zM85.5 456.7h10.3v1.3h-10.3zM85.5 489.8h10.3v1.6h-10.3zM21.3 509.8h10.9v1.0h-10.9zM21.3 518.9h10.9v1.6h-10.9zM21.3 550.9h10.9v1.6h-10.9zM21.3 575.2h10.9v1.6h-10.9zM21.3 594.4h10.9v1.3h-10.9zM21.3 603.5h10.9v1.0h-10.9zM21.3 612.0h10.9v1.0h-10.9zM21.3 624.4h10.9v1.6h-10.9zM21.3 629.2h10.9v1.0h-10.9zM21.3 655.7h10.9v1.3h-10.9zM34.2 521.3h10.7v1.0h-10.7zM34.2 654.9h10.7v1.0h-10.7zM47.3 563.6h10.8v1.6h-10.8zM59.8 559.9h10.7v1.0h-10.7zM59.8 572.9h10.7v1.3h-10.7zM59.8 652.2h10.7v1.0h-10.7zM73.5 528.3h10.4v1.3h-10.4zM73.5 550.2h10.4v1.6h-10.4zM73.5 594.7h10.4v1.3h-10.4zM73.5 613.1h10.4v1.3h-10.4zM73.5 640.1h10.4v1.3h-10.4zM73.5 646.9h10.4v1.6h-10.4zM85.5 517.3h10.3v1.6h-10.3zM85.5 555.8h10.3v1.0h-10.3zM85.5 578.0h10.3v1.6h-10.3zM21.3 675.5h10.9v1.0h-10.9zM21.3 681.0h10.9v1.6h-10.9zM21.3 709.9h10.9v1.0h-10.9zM34.2 727.7h10.7v1.6h-10.7zM47.3 669.6h10.8v1.0h-10.8zM47.3 694.3h10.8v1.0h-10.8zM47.3 771.0h10.8v1.6h-10.8zM47.3 774.8h10.8v1.6h-10.8zM47.3 778.3h10.8v1.6h-10.8zM47.3 786.1h10.8v1.0h-10.8zM59.8 657.5h10.7v1.0h-10.7zM59.8 666.3h10.7v1.6h-10.7zM59.8 676.3h10.7v1.0h-10.7zM59.8 694.3h10.7v1.0h-10.7zM59.8 709.6h10.7v1.3h-10.7zM59.8 715.0h10.7v1.6h-10.7zM59.8 759.8h10.7v1.3h-10.7zM59.8 764.1h10.7v1.6h-10.7zM59.8 775.4h10.7v1.0h-10.7zM59.8 786.0h10.7v1.6h-10.7zM73.5 662.7h10.4v1.6h-10.4zM73.5 702.3h10.4v1.0h-10.4zM73.5 726.8h10.4v1.0h-10.4zM73.5 734.3h10.4v1.0h-10.4zM73.5 801.8h10.4v1.6h-10.4zM85.5 719.1h10.3v1.3h-10.3zM85.5 743.6h10.3v1.0h-10.3zM85.5 767.7h10.3v1.0h-10.3zM85.5 803.2h10.3v1.3h-10.3zM99.2 357.7h10.5v1.3h-10.5zM99.2 382.8h10.5v1.6h-10.5zM99.2 442.7h10.5v1.6h-10.5zM99.2 454.2h10.5v1.6h-10.5zM99.2 464.0h10.5v1.3h-10.5zM99.2 481.2h10.5v1.0h-10.5zM99.2 484.8h10.5v1.3h-10.5zM111.6 363.2h10.7v1.3h-10.7zM111.6 374.9h10.7v1.6h-10.7zM111.6 383.9h10.7v1.6h-10.7zM111.6 414.0h10.7v1.3h-10.7zM111.6 421.5h10.7v1.3h-10.7zM111.6 493.2h10.7v1.0h-10.7zM125.6 383.1h10.5v1.0h-10.5zM125.6 394.4h10.5v1.3h-10.5zM125.6 397.9h10.5v1.3h-10.5zM125.6 416.6h10.5v1.6h-10.5zM125.6 432.4h10.5v1.6h-10.5zM125.6 434.6h10.5v1.3h-10.5zM137.6 348.3h10.6v1.0h-10.6zM137.6 454.0h10.6v1.0h-10.6zM137.6 479.6h10.6v1.6h-10.6zM137.6 487.0h10.6v1.0h-10.6zM137.6 500.1h10.6v1.3h-10.6zM151.5 400.9h10.4v1.3h-10.4zM151.5 403.2h10.4v1.3h-10.4zM151.5 431.9h10.4v1.6h-10.4zM151.5 451.5h10.4v1.6h-10.4zM151.5 464.2h10.4v1.6h-10.4zM151.5 471.9h10.4v1.0h-10.4zM163.2 367.4h10.1v1.3h-10.1zM163.2 385.8h10.1v1.3h-10.1zM163.2 406.0h10.1v1.0h-10.1zM163.2 433.3h10.1v1.6h-10.1zM163.2 444.5h10.1v1.6h-10.1zM163.2 483.9h10.1v1.6h-10.1zM163.2 499.4h10.1v1.0h-10.1zM99.2 523.3h10.5v1.0h-10.5zM99.2 537.8h10.5v1.6h-10.5zM99.2 560.3h10.5v1.0h-10.5zM99.2 572.7h10.5v1.3h-10.5zM99.2 580.4h10.5v1.3h-10.5zM99.2 610.0h10.5v1.6h-10.5zM99.2 630.3h10.5v1.3h-10.5zM99.2 640.3h10.5v1.3h-10.5zM99.2 645.9h10.5v1.0h-10.5zM99.2 651.7h10.5v1.0h-10.5zM111.6 506.7h10.7v1.0h-10.7zM111.6 510.0h10.7v1.3h-10.7zM111.6 522.7h10.7v1.3h-10.7zM111.6 524.6h10.7v1.0h-10.7zM111.6 627.5h10.7v1.6h-10.7zM111.6 631.0h10.7v1.6h-10.7zM111.6 643.8h10.7v1.3h-10.7zM125.6 502.5h10.5v1.0h-10.5zM125.6 532.2h10.5v1.3h-10.5zM125.6 553.8h10.5v1.0h-10.5zM125.6 585.8h10.5v1.3h-10.5zM125.6 590.4h10.5v1.0h-10.5zM125.6 626.4h10.5v1.6h-10.5zM137.6 514.2h10.6v1.3h-10.6zM137.6 566.6h10.6v1.0h-10.6zM137.6 580.3h10.6v1.3h-10.6zM151.5 514.9h10.4v1.0h-10.4zM151.5 521.6h10.4v1.0h-10.4zM151.5 523.6h10.4v1.6h-10.4zM151.5 527.8h10.4v1.0h-10.4zM151.5 533.9h10.4v1.0h-10.4zM151.5 535.5h10.4v1.3h-10.4zM151.5 557.0h10.4v1.3h-10.4zM151.5 578.6h10.4v1.0h-10.4zM151.5 591.8h10.4v1.6h-10.4zM151.5 605.1h10.4v1.6h-10.4zM151.5 607.3h10.4v1.3h-10.4zM151.5 634.4h10.4v1.6h-10.4zM163.2 602.0h10.1v1.0h-10.1zM163.2 615.8h10.1v1.3h-10.1zM163.2 640.5h10.1v1.3h-10.1zM99.2 659.8h10.5v1.3h-10.5zM99.2 668.9h10.5v1.3h-10.5zM99.2 673.7h10.5v1.0h-10.5zM99.2 706.3h10.5v1.0h-10.5zM99.2 709.5h10.5v1.3h-10.5zM99.2 714.0h10.5v1.0h-10.5zM99.2 723.9h10.5v1.3h-10.5zM99.2 725.8h10.5v1.6h-10.5zM99.2 751.7h10.5v1.0h-10.5zM99.2 774.6h10.5v1.0h-10.5zM99.2 775.9h10.5v1.0h-10.5zM99.2 777.9h10.5v1.6h-10.5zM99.2 805.2h10.5v0.6h-10.5zM111.6 668.1h10.7v1.0h-10.7zM111.6 672.7h10.7v1.3h-10.7zM111.6 676.5h10.7v1.6h-10.7zM111.6 680.4h10.7v1.3h-10.7zM111.6 684.3h10.7v1.3h-10.7zM111.6 686.2h10.7v1.6h-10.7zM111.6 688.8h10.7v1.0h-10.7zM111.6 733.3h10.7v1.0h-10.7zM111.6 743.7h10.7v1.3h-10.7zM111.6 745.3h10.7v1.0h-10.7zM111.6 771.3h10.7v1.0h-10.7zM111.6 801.5h10.7v1.6h-10.7zM111.6 805.4h10.7v0.4h-10.7zM125.6 660.4h10.5v1.6h-10.5zM125.6 670.7h10.5v1.6h-10.5zM125.6 711.9h10.5v1.3h-10.5zM125.6 721.1h10.5v1.6h-10.5zM125.6 747.3h10.5v1.3h-10.5zM125.6 751.5h10.5v1.3h-10.5zM125.6 800.7h10.5v1.3h-10.5zM137.6 672.9h10.6v1.3h-10.6zM137.6 725.6h10.6v1.3h-10.6zM137.6 736.6h10.6v1.6h-10.6zM137.6 740.5h10.6v1.3h-10.6zM137.6 742.8h10.6v1.0h-10.6zM137.6 770.6h10.6v1.6h-10.6zM137.6 780.9h10.6v1.0h-10.6zM151.5 729.7h10.4v1.0h-10.4zM151.5 743.9h10.4v1.0h-10.4zM151.5 750.4h10.4v1.0h-10.4zM151.5 772.0h10.4v1.0h-10.4zM151.5 795.5h10.4v1.6h-10.4zM151.5 799.3h10.4v1.6h-10.4zM163.2 708.8h10.1v1.0h-10.1zM163.2 744.9h10.1v1.0h-10.1zM163.2 777.5h10.1v1.6h-10.1zM163.2 796.5h10.1v1.3h-10.1zM176.0 356.2h10.8v1.0h-10.8zM176.0 363.7h10.8v1.6h-10.8zM176.0 398.5h10.8v1.3h-10.8zM176.0 402.7h10.8v1.0h-10.8zM176.0 463.1h10.8v1.0h-10.8zM176.0 478.4h10.8v1.3h-10.8zM176.0 492.3h10.8v1.3h-10.8zM202.6 467.1h10.7v1.0h-10.7zM202.6 468.4h10.7v1.0h-10.7zM214.8 351.5h11.0v1.0h-11.0zM228.3 367.7h10.7v1.6h-10.7zM228.3 379.8h10.7v1.6h-10.7zM228.3 406.0h10.7v1.3h-10.7zM228.3 456.5h10.7v1.6h-10.7zM176.0 502.5h10.8v1.3h-10.8zM176.0 522.9h10.8v1.0h-10.8zM176.0 524.2h10.8v1.6h-10.8zM176.0 553.4h10.8v1.3h-10.8zM176.0 564.1h10.8v1.6h-10.8zM176.0 567.9h10.8v1.0h-10.8zM176.0 582.1h10.8v1.6h-10.8zM176.0 608.4h10.8v1.3h-10.8zM176.0 638.5h10.8v1.3h-10.8zM176.0 656.0h10.8v1.3h-10.8zM188.8 606.8h11.0v1.6h-11.0zM214.8 529.0h11.0v1.6h-11.0zM214.8 551.2h11.0v1.3h-11.0zM214.8 632.9h11.0v1.3h-11.0zM228.3 616.9h10.7v1.6h-10.7zM176.0 783.5h10.8v1.6h-10.8zM176.0 802.9h10.8v1.3h-10.8zM188.8 683.5h11.0v1.0h-11.0zM202.6 662.1h10.7v1.6h-10.7zM202.6 670.5h10.7v1.3h-10.7zM202.6 749.0h10.7v1.3h-10.7zM214.8 745.3h11.0v1.0h-11.0zM240.7 688.6h11.3v1.3h-11.3zM254.5 471.0h10.3v1.0h-10.3zM254.5 541.7h10.3v1.3h-10.3zM266.5 372.3h10.8v1.3h-10.8zM266.5 391.9h10.8v1.0h-10.8zM266.5 409.0h10.8v1.6h-10.8zM266.5 467.6h10.8v1.6h-10.8zM266.5 489.2h10.8v1.3h-10.8zM266.5 509.6h10.8v1.0h-10.8zM266.5 569.5h10.8v1.6h-10.8zM254.5 615.3h10.3v1.6h-10.3zM254.5 637.9h10.3v1.3h-10.3zM254.5 672.0h10.3v1.3h-10.3zM254.5 673.9h10.3v1.3h-10.3zM254.5 683.0h10.3v1.3h-10.3zM254.5 724.9h10.3v1.3h-10.3zM254.5 802.9h10.3v1.6h-10.3zM266.5 685.3h10.8v1.0h-10.8zM266.5 745.5h10.8v1.3h-10.8zM266.5 751.2h10.8v1.3h-10.8zM266.5 795.7h10.8v1.6h-10.8zM21.3 915.4h10.9v1.3h-10.9zM21.3 948.9h10.9v1.3h-10.9zM21.3 954.4h10.9v1.0h-10.9zM21.3 976.0h10.9v1.0h-10.9zM21.3 986.4h10.9v1.3h-10.9zM21.3 1028.8h10.9v1.0h-10.9zM21.3 1033.0h10.9v1.3h-10.9zM34.2 932.1h8.9v1.6h-8.9zM34.2 995.7h8.9v1.6h-8.9zM34.2 1001.4h8.9v1.6h-8.9zM34.2 1035.7h8.9v1.6h-8.9zM46.7 927.1h10.9v1.0h-10.9zM46.7 948.5h10.9v1.6h-10.9zM46.7 952.3h10.9v1.6h-10.9zM46.7 977.5h10.9v1.0h-10.9zM46.7 992.4h10.9v1.6h-10.9zM46.7 1000.7h10.9v1.0h-10.9zM59.7 928.7h11.1v1.6h-11.1zM59.7 935.1h11.1v1.6h-11.1zM59.7 942.1h11.1v1.6h-11.1zM59.7 946.0h11.1v1.3h-11.1zM59.7 960.8h11.1v1.3h-11.1zM59.7 984.4h11.1v1.0h-11.1zM59.7 997.6h11.1v1.0h-11.1zM59.7 999.2h11.1v1.3h-11.1zM59.7 1021.5h11.1v1.0h-11.1zM59.7 1023.1h11.1v1.0h-11.1zM59.7 1039.5h11.1v1.6h-11.1zM59.7 1045.2h11.1v1.6h-11.1zM73.0 922.3h10.8v1.0h-10.8zM73.0 955.7h10.8v1.3h-10.8zM73.0 973.1h10.8v1.0h-10.8zM73.0 1017.8h10.8v1.6h-10.8zM73.0 1019.7h10.8v1.0h-10.8zM73.0 1046.3h10.8v1.3h-10.8zM73.0 1049.8h10.8v1.6h-10.8zM86.5 969.4h10.5v1.0h-10.5zM86.5 978.8h10.5v1.3h-10.5zM86.5 986.7h10.5v1.6h-10.5zM86.5 1027.3h10.5v1.6h-10.5zM99.0 908.9h10.8v1.3h-10.8zM99.0 933.2h10.8v1.0h-10.8zM99.0 953.6h10.8v1.3h-10.8zM99.0 1037.1h10.8v1.0h-10.8zM99.0 1050.0h10.8v1.3h-10.8zM112.3 940.1h10.9v1.3h-10.9zM112.3 954.7h10.9v1.3h-10.9zM112.3 1009.6h10.9v1.6h-10.9zM124.8 928.9h10.9v1.6h-10.9zM138.2 967.0h10.8v1.6h-10.8zM138.2 968.9h10.8v1.3h-10.8zM138.2 1007.3h10.8v1.0h-10.8zM138.2 1030.8h10.8v1.6h-10.8zM138.2 1044.9h10.8v1.3h-10.8zM150.3 944.2h9.5v1.0h-9.5zM150.3 961.6h9.5v1.0h-9.5zM163.0 947.7h11.2v1.3h-11.2zM163.0 1018.8h11.2v1.3h-11.2zM175.8 988.2h11.2v1.3h-11.2zM175.8 1040.3h11.2v1.3h-11.2zM189.7 913.1h10.5v1.3h-10.5zM189.7 943.4h10.5v1.6h-10.5zM189.7 985.6h10.5v1.6h-10.5zM189.7 1025.5h10.5v1.3h-10.5zM189.7 1039.1h10.5v1.3h-10.5zM201.7 943.2h11.3v1.6h-11.3zM201.7 952.3h11.3v1.6h-11.3zM201.7 954.5h11.3v1.3h-11.3zM201.7 988.2h11.3v1.0h-11.3zM201.7 1003.4h11.3v1.6h-11.3zM201.7 1007.9h11.3v1.6h-11.3zM201.7 1045.4h11.3v1.3h-11.3zM215.0 949.7h10.8v1.6h-10.8zM215.0 978.0h10.8v1.3h-10.8zM215.0 1038.4h10.8v1.0h-10.8zM215.0 1043.2h10.8v1.0h-10.8zM215.0 1046.8h10.8v1.3h-10.8zM227.5 989.6h10.8v1.0h-10.8zM227.5 998.7h10.8v1.6h-10.8zM21.3 1068.2h10.9v1.0h-10.9zM21.3 1071.4h10.9v1.0h-10.9zM21.3 1078.5h10.9v1.6h-10.9zM21.3 1126.5h10.9v1.3h-10.9zM21.3 1154.3h10.9v1.0h-10.9zM21.3 1176.8h10.9v1.0h-10.9zM34.2 1066.7h8.9v1.0h-8.9zM34.2 1111.0h8.9v1.0h-8.9zM34.2 1116.8h8.9v1.6h-8.9zM34.2 1120.6h8.9v1.0h-8.9zM34.2 1132.4h8.9v1.6h-8.9zM34.2 1144.3h8.9v1.6h-8.9zM34.2 1147.5h8.9v1.3h-8.9zM46.7 1072.9h10.9v1.0h-10.9zM46.7 1109.3h10.9v1.3h-10.9zM46.7 1118.7h10.9v1.6h-10.9zM46.7 1139.8h10.9v1.6h-10.9zM46.7 1168.1h10.9v1.6h-10.9zM46.7 1174.9h10.9v1.3h-10.9zM46.7 1178.8h10.9v1.6h-10.9zM59.7 1072.7h11.1v1.6h-11.1zM59.7 1081.4h11.1v1.6h-11.1zM59.7 1175.3h11.1v1.6h-11.1zM73.0 1078.9h10.8v1.0h-10.8zM73.0 1087.1h10.8v1.6h-10.8zM73.0 1104.9h10.8v1.0h-10.8zM73.0 1155.2h10.8v1.6h-10.8zM86.5 1107.7h10.5v1.3h-10.5zM86.5 1113.5h10.5v1.6h-10.5zM99.0 1100.4h10.8v1.0h-10.8zM99.0 1114.5h10.8v1.6h-10.8zM138.2 1101.8h10.8v1.3h-10.8zM138.2 1163.1h10.8v1.3h-10.8zM138.2 1170.8h10.8v1.3h-10.8zM150.3 1055.9h9.5v1.0h-9.5zM150.3 1067.4h9.5v1.0h-9.5zM150.3 1080.7h9.5v1.3h-9.5zM150.3 1101.2h9.5v1.6h-9.5zM150.3 1123.8h9.5v1.3h-9.5zM150.3 1131.1h9.5v1.6h-9.5zM150.3 1140.1h9.5v1.6h-9.5zM150.3 1145.5h9.5v1.6h-9.5zM150.3 1148.1h9.5v1.3h-9.5zM150.3 1158.7h9.5v1.0h-9.5zM150.3 1161.9h9.5v1.3h-9.5zM163.0 1094.1h11.2v1.3h-11.2zM163.0 1183.0h11.2v0.8h-11.2zM189.7 1100.6h10.5v1.3h-10.5zM189.7 1133.0h10.5v1.6h-10.5zM201.7 1106.3h11.3v1.6h-11.3zM201.7 1133.1h11.3v1.3h-11.3zM201.7 1139.2h11.3v1.0h-11.3zM201.7 1140.5h11.3v1.0h-11.3zM201.7 1155.8h11.3v1.0h-11.3zM201.7 1161.2h11.3v1.6h-11.3zM215.0 1111.6h10.8v1.0h-10.8zM215.0 1112.9h10.8v1.6h-10.8zM215.0 1146.4h10.8v1.3h-10.8zM215.0 1168.4h10.8v1.3h-10.8zM215.0 1176.4h10.8v1.6h-10.8zM227.5 1101.4h10.8v1.0h-10.8zM227.5 1178.3h10.8v1.6h-10.8z"/><path fill="#f0f0fc" d="M21.3 77.6h10.9v1.0h-10.9zM21.3 82.1h10.9v1.6h-10.9zM21.3 160.6h10.9v1.0h-10.9zM21.3 166.1h10.9v1.3h-10.9zM21.3 195.0h10.9v1.3h-10.9zM21.3 203.7h10.9v1.3h-10.9zM21.3 206.0h10.9v1.3h-10.9zM21.3 207.6h10.9v1.6h-10.9zM21.3 227.6h10.9v1.6h-10.9zM34.2 83.8h10.8v1.0h-10.8zM34.2 101.0h10.8v1.6h-10.8zM34.2 116.0h10.8v1.0h-10.8zM34.2 143.8h10.8v1.3h-10.8zM34.2 153.4h10.8v1.0h-10.8zM34.2 157.4h10.8v1.0h-10.8zM34.2 210.4h10.8v1.3h-10.8zM34.2 223.2h10.8v1.6h-10.8zM34.2 225.8h10.8v1.3h-10.8zM48.2 108.7h10.8v1.3h-10.8zM48.2 110.6h10.8v1.6h-10.8zM48.2 124.4h10.8v1.6h-10.8zM48.2 139.5h10.8v1.0h-10.8zM48.2 155.1h10.8v1.0h-10.8zM48.2 164.3h10.8v1.0h-10.8zM48.2 195.3h10.8v1.6h-10.8zM60.0 146.5h11.0v1.0h-11.0zM60.0 151.1h11.0v1.0h-11.0zM60.0 223.7h11.0v1.3h-11.0zM73.5 61.3h10.7v1.6h-10.7zM73.5 71.3h10.7v1.6h-10.7zM73.5 125.8h10.7v1.3h-10.7zM73.5 164.3h10.7v1.0h-10.7zM73.5 165.9h10.7v1.0h-10.7zM73.5 171.4h10.7v1.0h-10.7zM73.5 178.6h10.7v1.6h-10.7zM73.5 204.3h10.7v1.6h-10.7zM73.5 219.8h10.7v1.0h-10.7zM73.5 235.3h10.7v1.6h-10.7zM85.6 70.6h10.9v1.6h-10.9zM85.6 130.8h10.9v1.6h-10.9zM85.6 133.4h10.9v1.6h-10.9zM85.6 185.1h10.9v1.3h-10.9zM85.6 196.3h10.9v1.0h-10.9zM85.6 227.9h10.9v1.6h-10.9zM99.6 62.2h10.6v1.3h-10.6zM99.6 97.7h10.6v1.6h-10.6zM99.6 145.7h10.6v1.3h-10.6zM99.6 170.9h10.6v1.3h-10.6zM99.6 232.0h10.6v1.6h-10.6zM99.6 234.6h10.6v1.6h-10.6zM111.8 64.2h11.0v1.0h-11.0zM111.8 72.2h11.0v1.0h-11.0zM111.8 95.4h11.0v1.0h-11.0zM111.8 97.4h11.0v1.3h-11.0zM111.8 115.3h11.0v1.3h-11.0zM111.8 121.4h11.0v1.3h-11.0zM111.8 131.8h11.0v1.6h-11.0zM111.8 137.2h11.0v1.6h-11.0zM111.8 149.8h11.0v1.0h-11.0zM111.8 174.9h11.0v1.0h-11.0zM111.8 189.7h11.0v1.0h-11.0zM111.8 197.7h11.0v1.0h-11.0zM111.8 210.8h11.0v1.3h-11.0zM124.5 65.0h10.8v1.0h-10.8zM124.5 84.7h10.8v1.3h-10.8zM124.5 113.1h10.8v1.6h-10.8zM124.5 125.6h10.8v1.3h-10.8zM124.5 146.1h10.8v1.6h-10.8zM124.5 161.8h10.8v1.6h-10.8zM124.5 163.7h10.8v1.3h-10.8zM124.5 186.1h10.8v1.6h-10.8zM138.4 92.7h10.8v1.3h-10.8zM138.4 112.7h10.8v1.6h-10.8zM138.4 126.4h10.8v1.6h-10.8zM138.4 138.1h10.8v1.6h-10.8zM138.4 206.3h10.8v1.6h-10.8zM138.4 220.1h10.8v1.3h-10.8zM138.4 229.4h10.8v1.3h-10.8zM150.2 85.6h11.0v1.3h-11.0zM150.2 115.1h11.0v1.6h-11.0zM150.2 133.4h11.0v1.3h-11.0zM150.2 139.9h11.0v1.0h-11.0zM150.2 167.4h11.0v1.3h-11.0zM164.2 59.6h10.5v1.3h-10.5zM164.2 63.9h10.5v1.0h-10.5zM164.2 81.2h10.5v1.6h-10.5zM164.2 101.0h10.5v1.3h-10.5zM164.2 103.3h10.5v1.0h-10.5zM164.2 148.5h10.5v1.3h-10.5zM164.2 151.7h10.5v1.3h-10.5zM189.7 75.7h10.7v1.0h-10.7zM189.7 96.1h10.7v1.6h-10.7zM189.7 135.6h10.7v1.0h-10.7zM189.7 137.6h10.7v1.0h-10.7zM189.7 143.4h10.7v1.3h-10.7zM189.7 162.3h10.7v1.6h-10.7zM189.7 172.9h10.7v1.0h-10.7zM189.7 217.0h10.7v1.6h-10.7zM189.7 227.7h10.7v1.0h-10.7zM189.7 231.6h10.7v1.6h-10.7zM189.7 236.4h10.7v1.0h-10.7zM201.7 70.3h11.3v1.3h-11.3zM201.7 77.1h11.3v1.3h-11.3zM201.7 85.1h11.3v1.3h-11.3zM201.7 96.9h11.3v1.0h-11.3zM201.7 102.0h11.3v1.0h-11.3zM201.7 103.3h11.3v1.6h-11.3zM201.7 118.7h11.3v1.3h-11.3zM201.7 148.2h11.3v1.0h-11.3zM201.7 149.5h11.3v1.3h-11.3zM201.7 164.9h11.3v1.3h-11.3zM201.7 172.6h11.3v1.0h-11.3zM201.7 183.9h11.3v1.6h-11.3zM201.7 235.3h11.3v1.6h-11.3zM215.6 65.8h10.7v1.0h-10.7zM215.6 77.4h10.7v1.0h-10.7zM215.6 81.4h10.7v1.3h-10.7zM227.5 60.6h10.9v1.3h-10.9zM227.5 101.4h10.9v1.3h-10.9zM227.5 153.0h10.9v1.3h-10.9zM241.6 77.7h10.6v1.3h-10.6zM241.6 159.8h10.6v1.3h-10.6zM241.6 175.7h10.6v1.6h-10.6zM253.8 149.7h10.7v1.0h-10.7zM253.8 154.3h10.7v1.3h-10.7zM253.8 179.4h10.7v1.3h-10.7zM267.2 60.3h10.7v1.3h-10.7zM267.2 109.5h10.7v1.6h-10.7zM267.2 114.9h10.7v1.3h-10.7zM267.2 134.5h10.7v1.0h-10.7zM267.2 155.0h10.7v1.3h-10.7zM279.3 58.0h10.9v1.6h-10.9zM279.3 100.6h10.9v1.3h-10.9zM279.3 118.4h10.9v1.6h-10.9zM279.3 143.1h10.9v1.0h-10.9zM279.3 193.4h10.9v1.3h-10.9zM279.3 207.1h10.9v1.3h-10.9zM279.3 213.8h10.9v1.3h-10.9zM279.3 215.4h10.9v1.6h-10.9zM293.0 58.0h10.6v1.0h-10.6zM293.0 63.5h10.6v1.3h-10.6zM293.0 97.9h10.6v1.3h-10.6zM293.0 121.1h10.6v1.6h-10.6zM293.0 187.8h10.6v1.6h-10.6zM304.7 58.0h10.9v1.6h-10.9zM304.7 96.9h10.9v1.0h-10.9zM304.7 111.7h10.9v1.3h-10.9zM304.7 123.5h10.9v1.0h-10.9zM304.7 127.4h10.9v1.6h-10.9zM304.7 148.0h10.9v1.0h-10.9zM304.7 201.9h10.9v1.0h-10.9zM318.7 73.4h10.6v1.3h-10.6zM318.7 79.8h10.6v1.3h-10.6zM318.7 121.7h10.6v1.3h-10.6zM318.7 174.7h10.6v1.6h-10.6zM318.7 189.1h10.6v1.3h-10.6zM318.7 197.2h10.6v1.3h-10.6zM318.7 205.6h10.6v1.0h-10.6zM318.7 222.0h10.6v1.0h-10.6zM318.7 233.0h10.6v1.3h-10.6zM331.0 69.8h10.8v1.3h-10.8zM331.0 93.8h10.8v1.0h-10.8zM331.0 136.6h10.8v1.3h-10.8zM331.0 145.2h10.8v1.3h-10.8zM331.0 210.9h10.8v1.6h-10.8zM344.5 192.7h10.7v1.6h-10.7zM356.8 74.0h10.9v1.0h-10.9zM356.8 83.4h10.9v1.0h-10.9zM356.8 184.1h10.9v1.3h-10.9zM356.8 197.9h10.9v1.0h-10.9zM370.2 138.1h10.8v1.3h-10.8zM370.2 140.4h10.8v1.0h-10.8zM370.2 178.5h10.8v1.6h-10.8zM370.2 191.0h10.8v1.0h-10.8zM370.2 204.0h10.8v1.0h-10.8zM370.2 207.6h10.8v1.3h-10.8zM370.2 212.5h10.8v1.0h-10.8zM370.2 214.5h10.8v1.0h-10.8zM370.2 221.9h10.8v1.0h-10.8zM370.2 231.7h10.8v1.6h-10.8zM382.7 100.7h10.9v1.6h-10.9zM382.7 107.2h10.9v1.6h-10.9zM382.7 113.4h10.9v1.6h-10.9zM382.7 122.5h10.9v1.3h-10.9zM382.7 133.5h10.9v1.3h-10.9zM382.7 152.4h10.9v1.6h-10.9zM382.7 158.8h10.9v1.0h-10.9zM382.7 167.4h10.9v1.6h-10.9zM382.7 195.3h10.9v1.3h-10.9zM382.7 221.1h10.9v1.0h-10.9zM382.7 231.4h10.9v1.6h-10.9zM21.3 380.8h10.9v1.6h-10.9zM21.3 425.3h10.9v1.0h-10.9zM21.3 467.9h10.9v1.6h-10.9zM34.2 369.5h10.7v1.6h-10.7zM34.2 383.4h10.7v1.3h-10.7zM34.2 407.7h10.7v1.0h-10.7zM34.2 415.7h10.7v1.0h-10.7zM34.2 435.0h10.7v1.3h-10.7zM34.2 446.8h10.7v1.6h-10.7zM34.2 451.7h10.7v1.3h-10.7zM34.2 492.7h10.7v1.6h-10.7zM34.2 501.4h10.7v1.1h-10.7zM47.3 369.0h10.8v1.0h-10.8zM47.3 402.0h10.8v1.6h-10.8zM47.3 404.2h10.8v1.0h-10.8zM47.3 406.2h10.8v1.6h-10.8zM47.3 424.4h10.8v1.0h-10.8zM47.3 426.0h10.8v1.6h-10.8zM47.3 432.1h10.8v1.3h-10.8zM47.3 479.4h10.8v1.3h-10.8zM47.3 493.8h10.8v1.3h-10.8zM47.3 502.2h10.8v0.3h-10.8zM59.8 349.6h10.7v1.6h-10.7zM59.8 439.7h10.7v1.6h-10.7zM59.8 444.9h10.7v1.0h-10.7zM59.8 446.9h10.7v1.3h-10.7zM59.8 458.2h10.7v1.0h-10.7zM59.8 468.1h10.7v1.3h-10.7zM59.8 484.1h10.7v1.6h-10.7zM59.8 501.5h10.7v1.0h-10.7zM73.5 351.5h10.4v1.0h-10.4zM73.5 371.9h10.4v1.6h-10.4zM73.5 382.1h10.4v1.6h-10.4zM85.5 396.9h10.3v1.6h-10.3zM85.5 398.8h10.3v1.6h-10.3zM85.5 412.2h10.3v1.6h-10.3zM85.5 431.2h10.3v1.6h-10.3zM85.5 444.5h10.3v1.3h-10.3zM85.5 446.8h10.3v1.3h-10.3zM85.5 480.1h10.3v1.3h-10.3zM21.3 541.4h10.9v1.3h-10.9zM21.3 565.9h10.9v1.6h-10.9zM21.3 610.4h10.9v1.3h-10.9zM21.3 638.6h10.9v1.6h-10.9zM34.2 514.0h10.7v1.0h-10.7zM34.2 519.4h10.7v1.6h-10.7zM34.2 533.2h10.7v1.0h-10.7zM34.2 534.5h10.7v1.0h-10.7zM34.2 560.8h10.7v1.0h-10.7zM34.2 562.1h10.7v1.0h-10.7zM34.2 566.0h10.7v1.3h-10.7zM34.2 593.8h10.7v1.0h-10.7zM34.2 612.0h10.7v1.0h-10.7zM34.2 653.0h10.7v1.6h-10.7zM47.3 504.7h10.8v1.3h-10.8zM47.3 518.6h10.8v1.3h-10.8zM47.3 540.5h10.8v1.6h-10.8zM47.3 556.2h10.8v1.0h-10.8zM47.3 557.8h10.8v1.3h-10.8zM47.3 580.8h10.8v1.3h-10.8zM47.3 640.8h10.8v1.0h-10.8zM47.3 654.4h10.8v1.3h-10.8zM59.8 506.7h10.7v1.0h-10.7zM59.8 531.9h10.7v1.0h-10.7zM59.8 537.0h10.7v1.3h-10.7zM59.8 545.7h10.7v1.0h-10.7zM59.8 561.2h10.7v1.0h-10.7zM59.8 579.7h10.7v1.3h-10.7zM59.8 615.0h10.7v1.3h-10.7zM59.8 620.5h10.7v1.0h-10.7zM59.8 626.0h10.7v1.0h-10.7zM59.8 644.7h10.7v1.0h-10.7zM73.5 533.5h10.4v1.3h-10.4zM73.5 543.1h10.4v1.6h-10.4zM73.5 554.3h10.4v1.6h-10.4zM73.5 581.5h10.4v1.6h-10.4zM73.5 587.9h10.4v1.0h-10.4zM73.5 601.9h10.4v1.3h-10.4zM73.5 607.0h10.4v1.6h-10.4zM73.5 615.4h10.4v1.6h-10.4zM73.5 656.7h10.4v0.8h-10.4zM85.5 507.8h10.3v1.0h-10.3zM85.5 509.4h10.3v1.0h-10.3zM85.5 515.4h10.3v1.6h-10.3zM85.5 522.1h10.3v1.0h-10.3zM85.5 544.3h10.3v1.3h-10.3zM85.5 557.8h10.3v1.0h-10.3zM85.5 581.8h10.3v1.0h-10.3zM85.5 590.9h10.3v1.0h-10.3zM85.5 597.7h10.3v1.0h-10.3zM85.5 610.3h10.3v1.3h-10.3zM85.5 631.0h10.3v1.6h-10.3zM85.5 657.4h10.3v0.1h-10.3zM21.3 672.9h10.9v1.6h-10.9zM21.3 685.5h10.9v1.6h-10.9zM21.3 765.3h10.9v1.0h-10.9zM21.3 799.8h10.9v1.3h-10.9zM34.2 661.3h10.7v1.3h-10.7zM34.2 681.4h10.7v1.0h-10.7zM34.2 715.1h10.7v1.3h-10.7zM34.2 731.2h10.7v1.3h-10.7zM34.2 752.0h10.7v1.0h-10.7zM34.2 757.5h10.7v1.6h-10.7zM34.2 761.7h10.7v1.6h-10.7zM34.2 765.5h10.7v1.3h-10.7zM34.2 784.8h10.7v1.6h-10.7zM47.3 683.9h10.8v1.0h-10.8zM47.3 715.0h10.8v1.0h-10.8zM59.8 677.6h10.7v1.6h-10.7zM59.8 700.4h10.7v1.0h-10.7zM59.8 711.2h10.7v1.0h-10.7zM59.8 752.0h10.7v1.0h-10.7zM59.8 776.7h10.7v1.3h-10.7zM59.8 779.9h10.7v1.3h-10.7zM73.5 690.5h10.4v1.0h-10.4zM73.5 700.0h10.4v1.3h-10.4zM73.5 705.5h10.4v1.3h-10.4zM73.5 722.2h10.4v1.0h-10.4zM85.5 693.2h10.3v1.6h-10.3zM85.5 721.0h10.3v1.3h-10.3zM85.5 769.3h10.3v1.3h-10.3zM85.5 787.4h10.3v1.3h-10.3zM85.5 792.8h10.3v1.0h-10.3zM85.5 800.0h10.3v1.3h-10.3zM99.2 350.2h10.5v1.6h-10.5zM99.2 379.0h10.5v1.6h-10.5zM111.6 443.5h10.7v1.3h-10.7zM111.6 485.7h10.7v1.3h-10.7zM137.6 369.4h10.6v1.0h-10.6zM137.6 446.6h10.6v1.3h-10.6zM151.5 348.3h10.4v1.0h-10.4zM151.5 375.9h10.4v1.0h-10.4zM151.5 498.7h10.4v1.3h-10.4zM163.2 375.5h10.1v1.0h-10.1zM163.2 411.2h10.1v1.0h-10.1zM163.2 419.1h10.1v1.3h-10.1zM163.2 447.7h10.1v1.6h-10.1zM163.2 449.9h10.1v1.6h-10.1zM163.2 488.7h10.1v1.6h-10.1zM163.2 501.4h10.1v1.0h-10.1zM99.2 568.6h10.5v1.3h-10.5zM99.2 653.3h10.5v1.0h-10.5zM99.2 656.2h10.5v1.0h-10.5zM111.6 515.4h10.7v1.3h-10.7zM111.6 621.0h10.7v1.3h-10.7zM111.6 623.3h10.7v1.3h-10.7zM111.6 653.5h10.7v1.6h-10.7zM125.6 530.6h10.5v1.0h-10.5zM137.6 554.5h10.6v1.0h-10.6zM137.6 565.0h10.6v1.3h-10.6zM137.6 592.5h10.6v1.0h-10.6zM137.6 637.6h10.6v1.6h-10.6zM151.5 518.1h10.4v1.0h-10.4zM151.5 544.2h10.4v1.0h-10.4zM151.5 617.0h10.4v1.6h-10.4zM151.5 638.9h10.4v1.0h-10.4zM151.5 655.5h10.4v1.6h-10.4zM163.2 532.8h10.1v1.0h-10.1zM163.2 585.6h10.1v1.3h-10.1zM163.2 632.5h10.1v1.0h-10.1zM163.2 655.6h10.1v1.0h-10.1zM99.2 757.6h10.5v1.0h-10.5zM111.6 705.1h10.7v1.6h-10.7zM125.6 696.4h10.5v1.6h-10.5zM125.6 785.7h10.5v1.0h-10.5zM137.6 677.2h10.6v1.6h-10.6zM137.6 709.0h10.6v1.3h-10.6zM137.6 715.9h10.6v1.6h-10.6zM137.6 721.3h10.6v1.3h-10.6zM137.6 732.7h10.6v1.0h-10.6zM137.6 738.5h10.6v1.0h-10.6zM137.6 748.9h10.6v1.6h-10.6zM137.6 799.6h10.6v1.6h-10.6zM151.5 662.6h10.4v1.0h-10.4zM151.5 692.4h10.4v1.3h-10.4zM151.5 784.8h10.4v1.0h-10.4zM163.2 661.7h10.1v1.3h-10.1zM163.2 698.8h10.1v1.3h-10.1zM163.2 710.8h10.1v1.6h-10.1zM163.2 725.2h10.1v1.6h-10.1zM163.2 755.0h10.1v1.0h-10.1zM163.2 779.7h10.1v1.0h-10.1zM176.0 348.3h10.8v1.6h-10.8zM176.0 362.1h10.8v1.0h-10.8zM176.0 369.8h10.8v1.6h-10.8zM176.0 394.2h10.8v1.3h-10.8zM176.0 404.7h10.8v1.3h-10.8zM176.0 431.7h10.8v1.3h-10.8zM176.0 447.1h10.8v1.6h-10.8zM176.0 485.9h10.8v1.3h-10.8zM188.8 352.2h11.0v1.6h-11.0zM188.8 357.0h11.0v1.6h-11.0zM188.8 392.9h11.0v1.0h-11.0zM188.8 394.9h11.0v1.6h-11.0zM188.8 409.9h11.0v1.6h-11.0zM188.8 415.9h11.0v1.0h-11.0zM188.8 420.1h11.0v1.6h-11.0zM188.8 423.9h11.0v1.6h-11.0zM188.8 472.6h11.0v1.6h-11.0zM202.6 350.2h10.7v1.0h-10.7zM202.6 363.9h10.7v1.0h-10.7zM202.6 367.1h10.7v1.0h-10.7zM202.6 432.5h10.7v1.0h-10.7zM202.6 452.5h10.7v1.0h-10.7zM202.6 463.5h10.7v1.3h-10.7zM202.6 477.2h10.7v1.0h-10.7zM202.6 478.8h10.7v1.3h-10.7zM202.6 494.2h10.7v1.3h-10.7zM202.6 499.7h10.7v1.6h-10.7zM214.8 348.3h11.0v1.3h-11.0zM214.8 370.6h11.0v1.3h-11.0zM214.8 374.1h11.0v1.6h-11.0zM214.8 404.6h11.0v1.0h-11.0zM214.8 409.7h11.0v1.3h-11.0zM214.8 420.0h11.0v1.6h-11.0zM214.8 456.9h11.0v1.6h-11.0zM228.3 359.7h10.7v1.6h-10.7zM228.3 417.4h10.7v1.0h-10.7zM228.3 424.6h10.7v1.0h-10.7zM228.3 427.5h10.7v1.3h-10.7zM228.3 460.6h10.7v1.6h-10.7zM228.3 466.4h10.7v1.0h-10.7zM228.3 468.4h10.7v1.3h-10.7zM228.3 484.1h10.7v1.3h-10.7zM240.7 348.3h11.3v1.3h-11.3zM240.7 353.5h11.3v1.3h-11.3zM240.7 357.4h11.3v1.3h-11.3zM240.7 366.7h11.3v1.3h-11.3zM240.7 380.2h11.3v1.3h-11.3zM240.7 383.7h11.3v1.3h-11.3zM240.7 391.7h11.3v1.6h-11.3zM240.7 393.9h11.3v1.6h-11.3zM240.7 422.1h11.3v1.3h-11.3zM240.7 480.6h11.3v1.0h-11.3zM240.7 490.8h11.3v1.0h-11.3zM176.0 562.2h10.8v1.3h-10.8zM176.0 569.2h10.8v1.6h-10.8zM176.0 612.3h10.8v1.6h-10.8zM176.0 623.9h10.8v1.0h-10.8zM188.8 508.3h11.0v1.3h-11.0zM188.8 525.5h11.0v1.6h-11.0zM188.8 542.2h11.0v1.0h-11.0zM188.8 548.0h11.0v1.6h-11.0zM188.8 554.2h11.0v1.6h-11.0zM188.8 571.5h11.0v1.0h-11.0zM188.8 578.9h11.0v1.6h-11.0zM188.8 616.0h11.0v1.6h-11.0zM188.8 627.9h11.0v1.3h-11.0zM188.8 636.4h11.0v1.3h-11.0zM188.8 642.6h11.0v1.3h-11.0zM188.8 647.2h11.0v1.3h-11.0zM188.8 651.1h11.0v1.0h-11.0zM202.6 512.4h10.7v1.3h-10.7zM202.6 529.2h10.7v1.0h-10.7zM202.6 559.7h10.7v1.0h-10.7zM202.6 593.4h10.7v1.0h-10.7zM202.6 620.9h10.7v1.3h-10.7zM214.8 532.5h11.0v1.0h-11.0zM214.8 539.4h11.0v1.3h-11.0zM214.8 547.0h11.0v1.0h-11.0zM214.8 572.7h11.0v1.3h-11.0zM214.8 605.8h11.0v1.0h-11.0zM214.8 611.9h11.0v1.3h-11.0zM214.8 623.5h11.0v1.0h-11.0zM214.8 636.1h11.0v1.0h-11.0zM228.3 528.6h10.7v1.0h-10.7zM228.3 534.1h10.7v1.0h-10.7zM228.3 590.3h10.7v1.0h-10.7zM228.3 602.4h10.7v1.3h-10.7zM228.3 637.2h10.7v1.0h-10.7zM240.7 502.5h11.3v1.0h-11.3zM240.7 531.5h11.3v1.3h-11.3zM240.7 557.4h11.3v1.3h-11.3zM240.7 571.0h11.3v1.6h-11.3zM240.7 587.0h11.3v1.0h-11.3zM240.7 599.8h11.3v1.0h-11.3zM240.7 614.0h11.3v1.0h-11.3zM240.7 641.3h11.3v1.0h-11.3zM240.7 646.5h11.3v1.0h-11.3zM176.0 689.5h10.8v1.0h-10.8zM176.0 694.1h10.8v1.3h-10.8zM176.0 753.4h10.8v1.3h-10.8zM176.0 769.8h10.8v1.6h-10.8zM188.8 657.5h11.0v1.6h-11.0zM188.8 669.7h11.0v1.3h-11.0zM188.8 685.5h11.0v1.3h-11.0zM188.8 691.5h11.0v1.0h-11.0zM188.8 715.3h11.0v1.3h-11.0zM188.8 727.0h11.0v1.0h-11.0zM188.8 756.0h11.0v1.6h-11.0zM188.8 759.5h11.0v1.3h-11.0zM188.8 771.1h11.0v1.3h-11.0zM188.8 781.8h11.0v1.3h-11.0zM188.8 783.7h11.0v1.3h-11.0zM188.8 795.6h11.0v1.6h-11.0zM188.8 803.6h11.0v1.6h-11.0zM202.6 664.7h10.7v1.0h-10.7zM202.6 691.5h10.7v1.6h-10.7zM202.6 697.3h10.7v1.6h-10.7zM202.6 726.0h10.7v1.6h-10.7zM202.6 745.4h10.7v1.0h-10.7zM202.6 799.1h10.7v1.6h-10.7zM214.8 661.4h11.0v1.0h-11.0zM214.8 695.5h11.0v1.6h-11.0zM214.8 697.4h11.0v1.0h-11.0zM214.8 720.6h11.0v1.3h-11.0zM214.8 738.6h11.0v1.6h-11.0zM228.3 661.7h10.7v1.6h-10.7zM228.3 670.1h10.7v1.0h-10.7zM228.3 674.6h10.7v1.3h-10.7zM228.3 705.9h10.7v1.3h-10.7zM228.3 768.4h10.7v1.6h-10.7zM228.3 778.4h10.7v1.6h-10.7zM228.3 796.9h10.7v1.3h-10.7zM240.7 664.2h11.3v1.0h-11.3zM240.7 677.1h11.3v1.0h-11.3zM240.7 716.3h11.3v1.0h-11.3zM240.7 725.0h11.3v1.3h-11.3zM240.7 734.4h11.3v1.3h-11.3zM240.7 749.3h11.3v1.6h-11.3zM240.7 767.7h11.3v1.6h-11.3zM240.7 787.5h11.3v1.3h-11.3zM240.7 793.2h11.3v1.3h-11.3zM240.7 805.1h11.3v0.7h-11.3zM254.5 352.5h10.3v1.0h-10.3zM254.5 367.3h10.3v1.0h-10.3zM254.5 391.5h10.3v1.0h-10.3zM254.5 456.8h10.3v1.0h-10.3zM254.5 462.6h10.3v1.3h-10.3zM254.5 467.5h10.3v1.6h-10.3zM254.5 505.7h10.3v1.0h-10.3zM254.5 534.0h10.3v1.3h-10.3zM254.5 556.5h10.3v1.6h-10.3zM266.5 355.7h10.8v1.0h-10.8zM266.5 365.8h10.8v1.3h-10.8zM266.5 384.9h10.8v1.3h-10.8zM266.5 401.2h10.8v1.0h-10.8zM266.5 437.2h10.8v1.6h-10.8zM266.5 439.4h10.8v1.6h-10.8zM266.5 455.4h10.8v1.6h-10.8zM266.5 480.5h10.8v1.6h-10.8zM266.5 531.3h10.8v1.6h-10.8zM266.5 536.4h10.8v1.3h-10.8zM266.5 552.3h10.8v1.3h-10.8zM266.5 564.1h10.8v1.6h-10.8zM254.5 641.4h10.3v1.6h-10.3zM254.5 670.7h10.3v1.0h-10.3zM254.5 706.7h10.3v1.3h-10.3zM254.5 712.4h10.3v1.6h-10.3zM254.5 716.9h10.3v1.0h-10.3zM254.5 737.7h10.3v1.3h-10.3zM254.5 765.8h10.3v1.0h-10.3zM254.5 794.2h10.3v1.3h-10.3zM266.5 588.3h10.8v1.3h-10.8zM266.5 610.6h10.8v1.6h-10.8zM266.5 668.0h10.8v1.0h-10.8zM266.5 700.6h10.8v1.0h-10.8zM266.5 726.2h10.8v1.3h-10.8zM266.5 783.7h10.8v1.3h-10.8zM266.5 789.8h10.8v1.0h-10.8zM21.3 902.7h10.9v1.6h-10.9zM21.3 919.6h10.9v1.6h-10.9zM21.3 925.4h10.9v1.0h-10.9zM21.3 938.4h10.9v1.6h-10.9zM21.3 957.3h10.9v1.3h-10.9zM21.3 961.1h10.9v1.0h-10.9zM21.3 979.9h10.9v1.0h-10.9zM34.2 951.5h8.9v1.3h-8.9zM34.2 1037.6h8.9v1.3h-8.9zM46.7 904.6h10.9v1.3h-10.9zM46.7 933.0h10.9v1.3h-10.9zM46.7 941.4h10.9v1.3h-10.9zM46.7 950.7h10.9v1.0h-10.9zM46.7 1011.5h10.9v1.0h-10.9zM73.0 951.3h10.8v1.6h-10.8zM73.0 959.2h10.8v1.3h-10.8zM86.5 920.0h10.5v1.6h-10.5zM86.5 982.6h10.5v1.6h-10.5zM86.5 984.8h10.5v1.3h-10.5zM99.0 915.4h10.8v1.0h-10.8zM99.0 947.7h10.8v1.3h-10.8zM99.0 950.0h10.8v1.0h-10.8zM99.0 972.7h10.8v1.0h-10.8zM99.0 983.1h10.8v1.3h-10.8zM99.0 1007.8h10.8v1.6h-10.8zM99.0 1032.6h10.8v1.6h-10.8zM99.0 1053.9h10.8v0.1h-10.8zM112.3 919.5h10.9v1.6h-10.9zM112.3 978.7h10.9v1.6h-10.9zM112.3 1033.0h10.9v1.6h-10.9zM124.8 902.7h10.9v1.6h-10.9zM124.8 914.3h10.9v1.0h-10.9zM124.8 922.7h10.9v1.3h-10.9zM124.8 982.9h10.9v1.3h-10.9zM124.8 1010.3h10.9v1.3h-10.9zM124.8 1021.5h10.9v1.6h-10.9zM124.8 1029.5h10.9v1.3h-10.9zM124.8 1044.9h10.9v1.3h-10.9zM138.2 908.9h10.8v1.3h-10.8zM138.2 925.7h10.8v1.3h-10.8zM138.2 929.2h10.8v1.0h-10.8zM138.2 936.2h10.8v1.3h-10.8zM138.2 990.6h10.8v1.3h-10.8zM138.2 996.7h10.8v1.3h-10.8zM150.3 926.8h9.5v1.3h-9.5zM150.3 936.9h9.5v1.3h-9.5zM150.3 951.3h9.5v1.0h-9.5zM150.3 957.8h9.5v1.6h-9.5zM150.3 963.2h9.5v1.6h-9.5zM150.3 992.0h9.5v1.6h-9.5zM163.0 914.7h11.2v1.3h-11.2zM163.0 937.9h11.2v1.0h-11.2zM163.0 963.5h11.2v1.3h-11.2zM163.0 972.7h11.2v1.6h-11.2zM163.0 1022.0h11.2v1.6h-11.2zM163.0 1037.4h11.2v1.6h-11.2zM163.0 1042.3h11.2v1.6h-11.2zM175.8 920.8h11.2v1.0h-11.2zM175.8 926.3h11.2v1.3h-11.2zM175.8 933.3h11.2v1.6h-11.2zM175.8 938.1h11.2v1.0h-11.2zM175.8 964.3h11.2v1.3h-11.2zM175.8 986.0h11.2v1.6h-11.2zM175.8 993.9h11.2v1.0h-11.2zM175.8 1021.1h11.2v1.3h-11.2zM175.8 1030.1h11.2v1.3h-11.2zM175.8 1036.8h11.2v1.0h-11.2zM175.8 1044.5h11.2v1.3h-11.2zM175.8 1046.1h11.2v1.3h-11.2zM189.7 902.7h10.5v1.0h-10.5zM189.7 976.0h10.5v1.3h-10.5zM189.7 1037.2h10.5v1.6h-10.5zM201.7 931.5h11.3v1.6h-11.3zM201.7 950.0h11.3v1.3h-11.3zM201.7 965.6h11.3v1.3h-11.3zM201.7 970.2h11.3v1.3h-11.3zM201.7 997.3h11.3v1.3h-11.3zM201.7 1044.1h11.3v1.0h-11.3zM201.7 1047.3h11.3v1.3h-11.3zM215.0 916.6h10.8v1.6h-10.8zM215.0 919.8h10.8v1.3h-10.8zM215.0 926.2h10.8v1.6h-10.8zM215.0 1045.2h10.8v1.3h-10.8zM227.5 943.6h10.8v1.6h-10.8zM227.5 981.0h10.8v1.0h-10.8zM227.5 1001.3h10.8v1.6h-10.8zM227.5 1043.2h10.8v1.6h-10.8zM227.5 1049.0h10.8v1.0h-10.8zM21.3 1072.7h10.9v1.3h-10.9zM21.3 1170.1h10.9v1.6h-10.9zM34.2 1106.6h8.9v1.6h-8.9zM34.2 1140.8h8.9v1.0h-8.9zM46.7 1081.5h10.9v1.3h-10.9zM46.7 1113.6h10.9v1.6h-10.9zM46.7 1148.1h10.9v1.3h-10.9zM46.7 1159.5h10.9v1.6h-10.9zM46.7 1177.2h10.9v1.0h-10.9zM59.7 1078.8h11.1v1.0h-11.1zM59.7 1084.0h11.1v1.6h-11.1zM59.7 1112.3h11.1v1.3h-11.1zM59.7 1141.4h11.1v1.6h-11.1zM86.5 1082.8h10.5v1.6h-10.5zM86.5 1140.7h10.5v1.3h-10.5zM86.5 1159.9h10.5v1.0h-10.5zM99.0 1054.0h10.8v1.3h-10.8zM99.0 1058.9h10.8v1.3h-10.8zM99.0 1066.9h10.8v1.6h-10.8zM99.0 1093.7h10.8v1.6h-10.8zM99.0 1106.3h10.8v1.0h-10.8zM99.0 1156.7h10.8v1.6h-10.8zM99.0 1159.3h10.8v1.0h-10.8zM99.0 1162.5h10.8v1.3h-10.8zM99.0 1168.6h10.8v1.0h-10.8zM99.0 1172.2h10.8v1.3h-10.8zM112.3 1083.3h10.9v1.6h-10.9zM112.3 1094.5h10.9v1.6h-10.9zM112.3 1122.3h10.9v1.3h-10.9zM112.3 1128.1h10.9v1.6h-10.9zM112.3 1164.7h10.9v1.3h-10.9zM124.8 1086.0h10.9v1.0h-10.9zM124.8 1096.3h10.9v1.6h-10.9zM124.8 1102.4h10.9v1.0h-10.9zM124.8 1103.7h10.9v1.3h-10.9zM124.8 1126.6h10.9v1.6h-10.9zM124.8 1154.5h10.9v1.3h-10.9zM124.8 1159.6h10.9v1.0h-10.9zM124.8 1182.7h10.9v1.1h-10.9zM138.2 1061.6h10.8v1.0h-10.8zM138.2 1080.2h10.8v1.0h-10.8zM138.2 1105.6h10.8v1.6h-10.8zM138.2 1118.6h10.8v1.6h-10.8zM138.2 1144.3h10.8v1.3h-10.8zM138.2 1155.6h10.8v1.0h-10.8zM138.2 1179.6h10.8v1.6h-10.8zM150.3 1082.6h9.5v1.6h-9.5zM150.3 1149.7h9.5v1.0h-9.5zM163.0 1063.4h11.2v1.3h-11.2zM163.0 1105.3h11.2v1.0h-11.2zM163.0 1110.5h11.2v1.0h-11.2zM163.0 1116.6h11.2v1.6h-11.2zM163.0 1126.6h11.2v1.3h-11.2zM163.0 1148.7h11.2v1.6h-11.2zM163.0 1172.6h11.2v1.3h-11.2zM175.8 1091.9h11.2v1.6h-11.2zM175.8 1157.5h11.2v1.6h-11.2zM189.7 1102.5h10.5v1.3h-10.5zM201.7 1066.6h11.3v1.3h-11.3zM201.7 1137.2h11.3v1.0h-11.3zM215.0 1067.3h10.8v1.6h-10.8zM215.0 1076.9h10.8v1.0h-10.8zM215.0 1078.5h10.8v1.6h-10.8zM215.0 1144.8h10.8v1.0h-10.8zM215.0 1159.7h10.8v1.0h-10.8zM215.0 1172.2h10.8v1.0h-10.8zM227.5 1070.2h10.8v1.6h-10.8zM227.5 1093.3h10.8v1.3h-10.8zM227.5 1094.9h10.8v1.3h-10.8zM227.5 1122.0h10.8v1.3h-10.8z"/><path fill="#fcf0f0" d="M21.3 144.0h10.9v1.0h-10.9zM21.3 174.9h10.9v1.6h-10.9zM21.3 209.8h10.9v1.6h-10.9zM34.2 114.1h10.8v1.3h-10.8zM34.2 161.3h10.8v1.6h-10.8zM34.2 200.2h10.8v1.6h-10.8zM48.2 181.7h10.8v1.3h-10.8zM60.0 132.8h11.0v1.6h-11.0zM60.0 161.2h11.0v1.6h-11.0zM60.0 189.6h11.0v1.0h-11.0zM124.5 93.4h10.8v1.3h-10.8zM138.4 119.5h10.8v1.0h-10.8zM138.4 136.5h10.8v1.0h-10.8zM138.4 177.5h10.8v1.0h-10.8zM164.2 120.7h10.5v1.3h-10.5zM175.8 165.4h10.9v1.0h-10.9zM189.7 234.8h10.7v1.3h-10.7zM215.6 96.3h10.7v1.6h-10.7zM215.6 222.1h10.7v1.0h-10.7zM227.5 66.3h10.9v1.6h-10.9zM241.6 129.9h10.6v1.6h-10.6zM253.8 99.3h10.7v1.3h-10.7zM267.2 187.3h10.7v1.6h-10.7zM279.3 75.1h10.9v1.6h-10.9zM279.3 139.5h10.9v1.0h-10.9zM279.3 190.1h10.9v1.0h-10.9zM293.0 83.7h10.6v1.6h-10.6zM293.0 123.0h10.6v1.6h-10.6zM293.0 173.1h10.6v1.3h-10.6zM293.0 210.2h10.6v1.0h-10.6zM293.0 232.5h10.6v1.6h-10.6zM304.7 165.8h10.9v1.3h-10.9zM304.7 225.3h10.9v1.0h-10.9zM318.7 228.9h10.6v1.6h-10.6zM344.5 206.5h10.7v1.3h-10.7zM21.3 359.3h10.9v1.3h-10.9zM21.3 435.0h10.9v1.6h-10.9zM59.8 395.3h10.7v1.6h-10.7zM59.8 421.9h10.7v1.6h-10.7zM73.5 402.1h10.4v1.6h-10.4zM85.5 442.5h10.3v1.0h-10.3zM21.3 502.5h10.9v1.3h-10.9zM21.3 549.6h10.9v1.0h-10.9zM21.3 579.4h10.9v1.0h-10.9zM73.5 633.9h10.4v1.6h-10.4zM85.5 535.6h10.3v1.0h-10.3zM21.3 682.9h10.9v1.6h-10.9zM34.2 738.0h10.7v1.6h-10.7zM47.3 675.5h10.8v1.0h-10.8zM47.3 732.5h10.8v1.6h-10.8zM47.3 758.6h10.8v1.3h-10.8zM59.8 668.5h10.7v1.0h-10.7zM73.5 683.2h10.4v1.3h-10.4zM73.5 742.3h10.4v1.0h-10.4zM73.5 746.6h10.4v1.0h-10.4zM85.5 665.6h10.3v1.0h-10.3zM99.2 391.6h10.5v1.3h-10.5zM99.2 486.4h10.5v1.0h-10.5zM111.6 402.3h10.7v1.3h-10.7zM111.6 433.6h10.7v1.3h-10.7zM111.6 479.7h10.7v1.0h-10.7zM125.6 408.9h10.5v1.6h-10.5zM125.6 412.7h10.5v1.3h-10.5zM125.6 442.6h10.5v1.0h-10.5zM125.6 485.4h10.5v1.0h-10.5zM137.6 456.0h10.6v1.0h-10.6zM137.6 496.0h10.6v1.6h-10.6zM151.5 384.0h10.4v1.3h-10.4zM151.5 444.7h10.4v1.0h-10.4zM163.2 479.7h10.1v1.3h-10.1zM99.2 590.4h10.5v1.6h-10.5zM111.6 533.0h10.7v1.0h-10.7zM111.6 570.0h10.7v1.0h-10.7zM125.6 618.4h10.5v1.6h-10.5zM137.6 533.2h10.6v1.0h-10.6zM137.6 651.9h10.6v1.0h-10.6zM137.6 653.2h10.6v1.6h-10.6zM137.6 655.8h10.6v1.6h-10.6zM163.2 610.1h10.1v1.6h-10.1zM99.2 697.7h10.5v1.6h-10.5zM111.6 785.9h10.7v1.3h-10.7zM125.6 756.9h10.5v1.6h-10.5zM137.6 657.5h10.6v1.3h-10.6zM151.5 685.4h10.4v1.6h-10.4zM151.5 764.0h10.4v1.0h-10.4zM176.0 375.0h10.8v1.0h-10.8zM176.0 429.8h10.8v1.3h-10.8zM176.0 494.6h10.8v1.6h-10.8zM188.8 491.8h11.0v1.6h-11.0zM202.6 392.0h10.7v1.3h-10.7zM176.0 543.7h10.8v1.3h-10.8zM214.8 654.2h11.0v1.6h-11.0zM176.0 665.7h10.8v1.3h-10.8zM176.0 699.9h10.8v1.0h-10.8zM228.3 686.4h10.7v1.6h-10.7zM228.3 766.2h10.7v1.6h-10.7zM254.5 419.2h10.3v1.6h-10.3zM266.5 548.4h10.8v1.0h-10.8zM254.5 626.5h10.3v1.0h-10.3zM266.5 651.3h10.8v1.3h-10.8zM266.5 682.7h10.8v1.6h-10.8zM266.5 768.7h10.8v1.0h-10.8zM266.5 770.7h10.8v1.3h-10.8zM21.3 950.5h10.9v1.3h-10.9zM21.3 1013.1h10.9v1.0h-10.9zM34.2 953.1h8.9v1.0h-8.9zM34.2 1023.0h8.9v1.6h-8.9zM46.7 929.1h10.9v1.0h-10.9zM46.7 965.3h10.9v1.0h-10.9zM46.7 981.0h10.9v1.6h-10.9zM59.7 921.7h11.1v1.3h-11.1zM59.7 949.9h11.1v1.0h-11.1zM59.7 967.3h11.1v1.6h-11.1zM73.0 927.5h10.8v1.0h-10.8zM86.5 935.4h10.5v1.6h-10.5zM86.5 999.9h10.5v1.6h-10.5zM99.0 989.6h10.8v1.6h-10.8zM112.3 969.1h10.9v1.3h-10.9zM124.8 950.7h10.9v1.6h-10.9zM150.3 1039.6h9.5v1.6h-9.5zM163.0 979.4h11.2v1.6h-11.2zM189.7 1015.1h10.5v1.0h-10.5zM189.7 1017.1h10.5v1.6h-10.5zM189.7 1042.9h10.5v1.0h-10.5zM215.0 951.9h10.8v1.0h-10.8zM215.0 964.2h10.8v1.0h-10.8zM227.5 992.8h10.8v1.0h-10.8zM227.5 1007.7h10.8v1.0h-10.8zM227.5 1010.6h10.8v1.0h-10.8zM227.5 1014.9h10.8v1.0h-10.8zM21.3 1074.3h10.9v1.3h-10.9zM34.2 1093.0h8.9v1.0h-8.9zM46.7 1065.4h10.9v1.3h-10.9zM46.7 1130.6h10.9v1.3h-10.9zM46.7 1151.7h10.9v1.3h-10.9zM59.7 1089.8h11.1v1.0h-11.1zM59.7 1121.3h11.1v1.3h-11.1zM73.0 1111.4h10.8v1.0h-10.8zM86.5 1059.2h10.5v1.3h-10.5zM99.0 1071.1h10.8v1.0h-10.8zM138.2 1126.3h10.8v1.6h-10.8zM150.3 1059.8h9.5v1.3h-9.5zM150.3 1061.7h9.5v1.3h-9.5zM150.3 1065.2h9.5v1.6h-9.5zM150.3 1109.6h9.5v1.3h-9.5zM150.3 1182.5h9.5v1.3h-9.5zM163.0 1178.8h11.2v1.3h-11.2zM201.7 1147.8h11.3v1.6h-11.3zM215.0 1092.9h10.8v1.6h-10.8zM215.0 1109.0h10.8v1.6h-10.8zM215.0 1164.9h10.8v1.3h-10.8zM227.5 1056.6h10.8v1.6h-10.8zM227.5 1117.1h10.8v1.6h-10.8z"/><path fill="#fceaea" d="M21.3 183.0h10.9v1.3h-10.9zM21.3 198.5h10.9v1.0h-10.9zM21.3 217.8h10.9v1.3h-10.9zM21.3 236.9h10.9v0.6h-10.9zM34.2 110.6h10.8v1.3h-10.8zM34.2 120.9h10.8v1.3h-10.8zM34.2 133.8h10.8v1.3h-10.8zM34.2 163.2h10.8v1.3h-10.8zM34.2 173.6h10.8v1.0h-10.8zM34.2 187.3h10.8v1.6h-10.8zM34.2 236.5h10.8v1.0h-10.8zM48.2 158.0h10.8v1.3h-10.8zM48.2 187.5h10.8v1.3h-10.8zM48.2 202.6h10.8v1.6h-10.8zM60.0 71.6h11.0v1.3h-11.0zM60.0 124.0h11.0v1.0h-11.0zM60.0 186.1h11.0v1.0h-11.0zM60.0 187.4h11.0v1.6h-11.0zM60.0 236.9h11.0v0.6h-11.0zM73.5 103.5h10.7v1.0h-10.7zM73.5 105.1h10.7v1.0h-10.7zM73.5 115.0h10.7v1.0h-10.7zM73.5 118.2h10.7v1.6h-10.7zM73.5 130.0h10.7v1.6h-10.7zM73.5 173.4h10.7v1.6h-10.7zM73.5 214.6h10.7v1.3h-10.7zM85.6 73.2h10.9v1.3h-10.9zM85.6 145.9h10.9v1.6h-10.9zM85.6 152.7h10.9v1.3h-10.9zM85.6 156.6h10.9v1.0h-10.9zM85.6 160.2h10.9v1.6h-10.9zM85.6 225.6h10.9v1.3h-10.9zM99.6 86.3h10.6v1.3h-10.6zM99.6 100.3h10.6v1.6h-10.6zM99.6 190.0h10.6v1.0h-10.6zM99.6 197.1h10.6v1.6h-10.6zM111.8 153.4h11.0v1.6h-11.0zM111.8 233.4h11.0v1.0h-11.0zM124.5 104.3h10.8v1.3h-10.8zM124.5 106.6h10.8v1.6h-10.8zM124.5 148.0h10.8v1.6h-10.8zM138.4 121.5h10.8v1.3h-10.8zM138.4 143.9h10.8v1.6h-10.8zM150.2 110.3h11.0v1.6h-11.0zM164.2 202.6h10.5v1.0h-10.5zM175.8 67.9h10.9v1.3h-10.9zM175.8 105.9h10.9v1.6h-10.9zM175.8 153.2h10.9v1.0h-10.9zM175.8 160.9h10.9v1.3h-10.9zM175.8 173.1h10.9v1.0h-10.9zM175.8 179.6h10.9v1.0h-10.9zM175.8 222.3h10.9v1.3h-10.9zM175.8 228.8h10.9v1.6h-10.9zM175.8 233.3h10.9v1.0h-10.9zM189.7 206.7h10.7v1.6h-10.7zM189.7 229.7h10.7v1.6h-10.7zM201.7 90.2h11.3v1.0h-11.3zM201.7 128.3h11.3v1.0h-11.3zM201.7 132.1h11.3v1.3h-11.3zM201.7 175.8h11.3v1.0h-11.3zM215.6 110.6h10.7v1.0h-10.7zM215.6 127.6h10.7v1.6h-10.7zM227.5 121.9h10.9v1.0h-10.9zM227.5 170.7h10.9v1.0h-10.9zM227.5 183.1h10.9v1.3h-10.9zM227.5 210.5h10.9v1.3h-10.9zM227.5 225.4h10.9v1.6h-10.9zM241.6 58.0h10.6v1.0h-10.6zM241.6 94.1h10.6v1.6h-10.6zM241.6 109.5h10.6v1.3h-10.6zM241.6 124.1h10.6v1.6h-10.6zM241.6 177.9h10.6v1.3h-10.6zM241.6 199.6h10.6v1.3h-10.6zM241.6 219.8h10.6v1.0h-10.6zM241.6 230.5h10.6v1.3h-10.6zM253.8 83.8h10.7v1.0h-10.7zM253.8 104.4h10.7v1.0h-10.7zM253.8 168.3h10.7v1.3h-10.7zM253.8 228.4h10.7v1.0h-10.7zM267.2 113.3h10.7v1.0h-10.7zM267.2 148.6h10.7v1.0h-10.7zM267.2 157.3h10.7v1.6h-10.7zM279.3 88.9h10.9v1.0h-10.9zM279.3 138.2h10.9v1.0h-10.9zM279.3 226.3h10.9v1.3h-10.9zM293.0 81.8h10.6v1.6h-10.6zM293.0 105.9h10.6v1.3h-10.6zM293.0 125.6h10.6v1.3h-10.6zM304.7 145.8h10.9v1.6h-10.9zM304.7 233.0h10.9v1.6h-10.9zM318.7 69.8h10.6v1.0h-10.6zM318.7 141.1h10.6v1.3h-10.6zM318.7 163.8h10.6v1.0h-10.6zM331.0 99.6h10.8v1.6h-10.8zM331.0 118.2h10.8v1.0h-10.8zM344.5 138.8h10.7v1.6h-10.7zM344.5 149.8h10.7v1.6h-10.7zM344.5 160.7h10.7v1.6h-10.7zM344.5 174.0h10.7v1.6h-10.7zM344.5 185.6h10.7v1.6h-10.7zM344.5 212.6h10.7v1.6h-10.7zM344.5 218.8h10.7v1.0h-10.7zM356.8 142.1h10.9v1.0h-10.9zM356.8 181.8h10.9v1.3h-10.9zM356.8 199.2h10.9v1.0h-10.9zM356.8 207.0h10.9v1.3h-10.9zM370.2 95.2h10.8v1.6h-10.8zM370.2 103.6h10.8v1.3h-10.8zM21.3 365.0h10.9v1.6h-10.9zM21.3 406.7h10.9v1.3h-10.9zM21.3 417.2h10.9v1.3h-10.9zM21.3 460.9h10.9v1.3h-10.9zM21.3 495.7h10.9v1.6h-10.9zM34.2 459.8h10.7v1.3h-10.7zM59.8 370.0h10.7v1.0h-10.7zM59.8 391.5h10.7v1.6h-10.7zM59.8 416.0h10.7v1.0h-10.7zM59.8 463.3h10.7v1.3h-10.7zM59.8 474.3h10.7v1.0h-10.7zM73.5 404.3h10.4v1.3h-10.4zM73.5 447.3h10.4v1.6h-10.4zM73.5 456.3h10.4v1.3h-10.4zM21.3 508.2h10.9v1.0h-10.9zM21.3 539.8h10.9v1.0h-10.9zM21.3 622.5h10.9v1.6h-10.9zM21.3 630.5h10.9v1.0h-10.9zM21.3 646.0h10.9v1.6h-10.9zM34.2 531.3h10.7v1.6h-10.7zM47.3 539.2h10.8v1.0h-10.8zM73.5 535.4h10.4v1.0h-10.4zM73.5 537.4h10.4v1.3h-10.4zM73.5 562.6h10.4v1.0h-10.4zM73.5 597.0h10.4v1.6h-10.4zM73.5 605.4h10.4v1.0h-10.4zM73.5 628.0h10.4v1.3h-10.4zM85.5 533.7h10.3v1.6h-10.3zM21.3 662.6h10.9v1.0h-10.9zM21.3 670.7h10.9v1.6h-10.9zM21.3 703.6h10.9v1.6h-10.9zM21.3 713.4h10.9v1.0h-10.9zM47.3 700.2h10.8v1.0h-10.8zM47.3 701.5h10.8v1.3h-10.8zM47.3 730.9h10.8v1.3h-10.8zM47.3 762.8h10.8v1.6h-10.8zM47.3 782.2h10.8v1.3h-10.8zM59.8 675.0h10.7v1.0h-10.7zM59.8 692.0h10.7v1.3h-10.7zM59.8 702.0h10.7v1.6h-10.7zM59.8 762.1h10.7v1.0h-10.7zM59.8 768.3h10.7v1.6h-10.7zM59.8 803.8h10.7v1.6h-10.7zM73.5 715.5h10.4v1.3h-10.4zM73.5 761.0h10.4v1.3h-10.4zM73.5 805.6h10.4v0.2h-10.4zM85.5 676.1h10.3v1.3h-10.3zM99.2 399.0h10.5v1.0h-10.5zM99.2 456.8h10.5v1.0h-10.5zM99.2 467.6h10.5v1.0h-10.5zM111.6 354.5h10.7v1.0h-10.7zM111.6 389.7h10.7v1.6h-10.7zM111.6 404.2h10.7v1.0h-10.7zM111.6 417.6h10.7v1.0h-10.7zM111.6 430.0h10.7v1.3h-10.7zM111.6 432.3h10.7v1.0h-10.7zM111.6 449.7h10.7v1.6h-10.7zM111.6 483.5h10.7v1.6h-10.7zM111.6 500.0h10.7v1.6h-10.7zM125.6 351.5h10.5v1.0h-10.5zM125.6 374.1h10.5v1.6h-10.5zM125.6 379.2h10.5v1.6h-10.5zM125.6 402.8h10.5v1.0h-10.5zM125.6 404.4h10.5v1.3h-10.5zM125.6 444.6h10.5v1.3h-10.5zM125.6 467.7h10.5v1.0h-10.5zM125.6 473.6h10.5v1.3h-10.5zM137.6 365.8h10.6v1.0h-10.6zM137.6 417.7h10.6v1.3h-10.6zM137.6 423.9h10.6v1.6h-10.6zM137.6 426.5h10.6v1.0h-10.6zM137.6 459.2h10.6v1.0h-10.6zM137.6 494.4h10.6v1.0h-10.6zM151.5 353.5h10.4v1.6h-10.4zM151.5 361.8h10.4v1.0h-10.4zM151.5 390.5h10.4v1.6h-10.4zM151.5 426.0h10.4v1.3h-10.4zM151.5 456.7h10.4v1.3h-10.4zM151.5 476.5h10.4v1.6h-10.4zM163.2 403.8h10.1v1.6h-10.1zM163.2 408.0h10.1v1.0h-10.1zM163.2 415.5h10.1v1.0h-10.1zM163.2 427.2h10.1v1.3h-10.1zM163.2 471.4h10.1v1.0h-10.1zM99.2 514.6h10.5v1.3h-10.5zM99.2 524.6h10.5v1.6h-10.5zM99.2 570.5h10.5v1.6h-10.5zM99.2 654.9h10.5v1.0h-10.5zM111.6 517.3h10.7v1.6h-10.7zM111.6 557.0h10.7v1.3h-10.7zM111.6 597.7h10.7v1.0h-10.7zM111.6 619.4h10.7v1.0h-10.7zM111.6 646.1h10.7v1.3h-10.7zM111.6 651.5h10.7v1.0h-10.7zM125.6 510.3h10.5v1.3h-10.5zM125.6 524.0h10.5v1.0h-10.5zM125.6 555.8h10.5v1.6h-10.5zM125.6 569.3h10.5v1.6h-10.5zM137.6 529.0h10.6v1.3h-10.6zM137.6 633.4h10.6v1.0h-10.6zM151.5 504.5h10.4v1.3h-10.4zM151.5 509.4h10.4v1.0h-10.4zM151.5 519.7h10.4v1.3h-10.4zM151.5 529.4h10.4v1.3h-10.4zM151.5 537.1h10.4v1.3h-10.4zM151.5 549.0h10.4v1.3h-10.4zM151.5 561.2h10.4v1.3h-10.4zM151.5 576.6h10.4v1.0h-10.4zM151.5 583.8h10.4v1.6h-10.4zM151.5 610.2h10.4v1.3h-10.4zM151.5 626.0h10.4v1.0h-10.4zM151.5 632.2h10.4v1.6h-10.4zM163.2 583.7h10.1v1.3h-10.1zM163.2 598.8h10.1v1.0h-10.1zM99.2 657.5h10.5v1.3h-10.5zM99.2 695.4h10.5v1.3h-10.5zM99.2 737.4h10.5v1.3h-10.5zM99.2 739.7h10.5v1.0h-10.5zM99.2 741.0h10.5v1.0h-10.5zM99.2 749.8h10.5v1.3h-10.5zM99.2 770.1h10.5v1.6h-10.5zM111.6 665.5h10.7v1.0h-10.7zM111.6 712.7h10.7v1.3h-10.7zM111.6 720.5h10.7v1.6h-10.7zM125.6 672.6h10.5v1.3h-10.5zM125.6 684.8h10.5v1.6h-10.5zM125.6 706.4h10.5v1.3h-10.5zM125.6 708.3h10.5v1.0h-10.5zM125.6 760.7h10.5v1.0h-10.5zM125.6 764.3h10.5v1.0h-10.5zM125.6 780.2h10.5v1.3h-10.5zM125.6 790.0h10.5v1.6h-10.5zM137.6 719.4h10.6v1.6h-10.6zM137.6 756.4h10.6v1.6h-10.6zM137.6 784.4h10.6v1.0h-10.6zM151.5 664.2h10.4v1.0h-10.4zM151.5 666.2h10.4v1.3h-10.4zM151.5 698.1h10.4v1.6h-10.4zM151.5 722.7h10.4v1.6h-10.4zM151.5 726.2h10.4v1.0h-10.4zM151.5 727.8h10.4v1.6h-10.4zM151.5 760.8h10.4v1.0h-10.4zM163.2 720.0h10.1v1.3h-10.1zM163.2 794.2h10.1v1.3h-10.1zM176.0 380.4h10.8v1.3h-10.8zM176.0 414.3h10.8v1.0h-10.8zM176.0 456.7h10.8v1.6h-10.8zM176.0 458.6h10.8v1.3h-10.8zM202.6 394.9h10.7v1.3h-10.7zM202.6 408.1h10.7v1.3h-10.7zM202.6 460.9h10.7v1.6h-10.7zM214.8 356.8h11.0v1.3h-11.0zM214.8 391.4h11.0v1.3h-11.0zM176.0 504.8h10.8v1.3h-10.8zM176.0 571.1h10.8v1.0h-10.8zM176.0 574.7h10.8v1.0h-10.8zM176.0 621.0h10.8v1.0h-10.8zM176.0 628.4h10.8v1.0h-10.8zM202.6 581.6h10.7v1.0h-10.7zM202.6 610.5h10.7v1.6h-10.7zM202.6 612.7h10.7v1.3h-10.7zM202.6 618.6h10.7v1.3h-10.7zM202.6 653.2h10.7v1.6h-10.7zM214.8 530.9h11.0v1.3h-11.0zM214.8 648.3h11.0v1.3h-11.0zM176.0 685.4h10.8v1.6h-10.8zM176.0 744.0h10.8v1.6h-10.8zM176.0 755.0h10.8v1.3h-10.8zM176.0 780.3h10.8v1.3h-10.8zM176.0 787.3h10.8v1.6h-10.8zM202.6 672.4h10.7v1.3h-10.7zM202.6 728.6h10.7v1.6h-10.7zM202.6 757.3h10.7v1.0h-10.7zM214.8 722.2h11.0v1.6h-11.0zM214.8 748.8h11.0v1.0h-11.0zM228.3 776.4h10.7v1.0h-10.7zM228.3 795.6h10.7v1.0h-10.7zM254.5 414.3h10.3v1.3h-10.3zM266.5 348.3h10.8v1.0h-10.8zM266.5 349.6h10.8v1.0h-10.8zM266.5 395.1h10.8v1.0h-10.8zM266.5 402.5h10.8v1.3h-10.8zM266.5 523.8h10.8v1.3h-10.8zM254.5 741.2h10.3v1.3h-10.3zM254.5 770.9h10.3v1.3h-10.3zM266.5 595.8h10.8v1.6h-10.8zM266.5 631.2h10.8v1.6h-10.8zM266.5 734.9h10.8v1.6h-10.8zM266.5 754.4h10.8v1.3h-10.8zM266.5 778.2h10.8v1.0h-10.8zM21.3 910.5h10.9v1.6h-10.9zM21.3 940.3h10.9v1.3h-10.9zM21.3 991.9h10.9v1.6h-10.9zM34.2 947.3h8.9v1.6h-8.9zM34.2 963.9h8.9v1.6h-8.9zM34.2 1053.6h8.9v0.4h-8.9zM46.7 906.9h10.9v1.6h-10.9zM46.7 913.6h10.9v1.0h-10.9zM46.7 961.1h10.9v1.3h-10.9zM59.7 906.3h11.1v1.0h-11.1zM59.7 923.6h11.1v1.6h-11.1zM59.7 978.6h11.1v1.6h-11.1zM59.7 981.8h11.1v1.6h-11.1zM59.7 995.0h11.1v1.6h-11.1zM59.7 1047.8h11.1v1.6h-11.1zM73.0 990.6h10.8v1.6h-10.8zM73.0 993.2h10.8v1.6h-10.8zM86.5 916.5h10.5v1.6h-10.5zM86.5 1037.9h10.5v1.3h-10.5zM99.0 916.7h10.8v1.0h-10.8zM99.0 963.6h10.8v1.0h-10.8zM99.0 991.8h10.8v1.0h-10.8zM99.0 1003.3h10.8v1.0h-10.8zM99.0 1044.8h10.8v1.0h-10.8zM112.3 958.5h10.9v1.0h-10.9zM124.8 924.6h10.9v1.3h-10.9zM124.8 946.5h10.9v1.6h-10.9zM124.8 960.7h10.9v1.3h-10.9zM124.8 978.8h10.9v1.6h-10.9zM124.8 1049.0h10.9v1.0h-10.9zM138.2 953.5h10.8v1.6h-10.8zM138.2 988.0h10.8v1.6h-10.8zM150.3 945.8h9.5v1.0h-9.5zM150.3 983.3h9.5v1.0h-9.5zM150.3 987.2h9.5v1.6h-9.5zM150.3 993.9h9.5v1.6h-9.5zM150.3 1004.5h9.5v1.6h-9.5zM150.3 1034.7h9.5v1.3h-9.5zM163.0 968.9h11.2v1.3h-11.2zM163.0 1002.1h11.2v1.6h-11.2zM189.7 949.5h10.5v1.6h-10.5zM189.7 988.2h10.5v1.0h-10.5zM189.7 992.4h10.5v1.0h-10.5zM189.7 999.7h10.5v1.3h-10.5zM201.7 974.4h11.3v1.0h-11.3zM201.7 1011.7h11.3v1.0h-11.3zM201.7 1051.2h11.3v1.3h-11.3zM215.0 972.9h10.8v1.6h-10.8zM215.0 1003.0h10.8v1.6h-10.8zM227.5 951.7h10.8v1.6h-10.8zM227.5 969.5h10.8v1.6h-10.8zM34.2 1086.2h8.9v1.0h-8.9zM34.2 1114.9h8.9v1.3h-8.9zM34.2 1136.2h8.9v1.3h-8.9zM34.2 1142.1h8.9v1.6h-8.9zM34.2 1165.2h8.9v1.6h-8.9zM34.2 1169.4h8.9v1.6h-8.9zM46.7 1075.8h10.9v1.0h-10.9zM46.7 1087.0h10.9v1.3h-10.9zM59.7 1137.5h11.1v1.3h-11.1zM73.0 1055.6h10.8v1.6h-10.8zM73.0 1099.8h10.8v1.0h-10.8zM73.0 1106.2h10.8v1.0h-10.8zM73.0 1121.7h10.8v1.6h-10.8zM73.0 1125.2h10.8v1.3h-10.8zM73.0 1147.2h10.8v1.6h-10.8zM86.5 1078.9h10.5v1.0h-10.5zM86.5 1080.2h10.5v1.6h-10.5zM86.5 1172.3h10.5v1.6h-10.5zM99.0 1092.1h10.8v1.3h-10.8zM99.0 1183.5h10.8v0.3h-10.8zM138.2 1141.0h10.8v1.0h-10.8zM138.2 1151.7h10.8v1.3h-10.8zM150.3 1103.4h9.5v1.3h-9.5zM150.3 1160.3h9.5v1.3h-9.5zM150.3 1172.6h9.5v1.6h-9.5zM175.8 1087.9h11.2v1.0h-11.2zM189.7 1094.5h10.5v1.3h-10.5zM189.7 1112.9h10.5v1.3h-10.5zM189.7 1117.5h10.5v1.6h-10.5zM189.7 1150.0h10.5v1.3h-10.5zM189.7 1157.7h10.5v1.3h-10.5zM189.7 1178.8h10.5v1.0h-10.5zM201.7 1077.0h11.3v1.6h-11.3zM201.7 1110.8h11.3v1.6h-11.3zM201.7 1124.0h11.3v1.0h-11.3zM201.7 1135.0h11.3v1.6h-11.3zM215.0 1071.4h10.8v1.0h-10.8zM215.0 1122.1h10.8v1.0h-10.8zM215.0 1130.8h10.8v1.3h-10.8zM227.5 1081.4h10.8v1.6h-10.8zM227.5 1126.2h10.8v1.6h-10.8zM227.5 1136.5h10.8v1.0h-10.8zM227.5 1164.2h10.8v1.6h-10.8z"/><path fill="#e4e4fc" d="M21.3 200.5h10.9v1.0h-10.9zM34.2 189.9h10.8v1.0h-10.8zM48.2 114.8h10.8v1.0h-10.8zM48.2 140.8h10.8v1.6h-10.8zM73.5 73.2h10.7v1.0h-10.7zM73.5 88.0h10.7v1.0h-10.7zM99.6 71.8h10.6v1.0h-10.6zM99.6 120.6h10.6v1.0h-10.6zM99.6 121.9h10.6v1.3h-10.6zM99.6 224.6h10.6v1.3h-10.6zM111.8 69.3h11.0v1.3h-11.0zM111.8 135.9h11.0v1.0h-11.0zM111.8 139.8h11.0v1.3h-11.0zM111.8 148.5h11.0v1.0h-11.0zM111.8 230.5h11.0v1.0h-11.0zM124.5 90.1h10.8v1.0h-10.8zM124.5 144.8h10.8v1.0h-10.8zM124.5 221.2h10.8v1.0h-10.8zM124.5 222.5h10.8v1.3h-10.8zM138.4 58.0h10.8v1.3h-10.8zM138.4 208.5h10.8v1.3h-10.8zM150.2 214.3h11.0v1.0h-11.0zM150.2 220.1h11.0v1.0h-11.0zM164.2 182.2h10.5v1.0h-10.5zM175.8 166.7h10.9v1.0h-10.9zM189.7 77.0h10.7v1.6h-10.7zM189.7 152.3h10.7v1.3h-10.7zM189.7 171.0h10.7v1.6h-10.7zM189.7 201.9h10.7v1.6h-10.7zM201.7 95.3h11.3v1.0h-11.3zM201.7 169.1h11.3v1.3h-11.3zM201.7 180.6h11.3v1.0h-11.3zM201.7 209.1h11.3v1.6h-11.3zM227.5 80.0h10.9v1.3h-10.9zM227.5 134.2h10.9v1.3h-10.9zM227.5 148.2h10.9v1.0h-10.9zM227.5 201.5h10.9v1.6h-10.9zM227.5 219.2h10.9v1.3h-10.9zM241.6 105.3h10.6v1.6h-10.6zM241.6 139.9h10.6v1.0h-10.6zM253.8 133.8h10.7v1.3h-10.7zM267.2 124.5h10.7v1.3h-10.7zM267.2 161.7h10.7v1.6h-10.7zM267.2 203.6h10.7v1.3h-10.7zM279.3 165.7h10.9v1.6h-10.9zM279.3 184.4h10.9v1.6h-10.9zM304.7 86.3h10.9v1.3h-10.9zM304.7 172.5h10.9v1.0h-10.9zM304.7 174.1h10.9v1.6h-10.9zM304.7 209.9h10.9v1.6h-10.9zM318.7 112.4h10.6v1.0h-10.6zM318.7 115.9h10.6v1.6h-10.6zM318.7 126.8h10.6v1.3h-10.6zM318.7 207.2h10.6v1.6h-10.6zM331.0 116.9h10.8v1.0h-10.8zM331.0 219.4h10.8v1.6h-10.8zM344.5 101.9h10.7v1.3h-10.7zM344.5 201.6h10.7v1.3h-10.7zM344.5 229.7h10.7v1.0h-10.7zM356.8 87.3h10.9v1.6h-10.9zM356.8 151.1h10.9v1.3h-10.9zM370.2 85.8h10.8v1.3h-10.8zM370.2 99.1h10.8v1.6h-10.8zM370.2 149.3h10.8v1.6h-10.8zM370.2 166.0h10.8v1.3h-10.8zM370.2 192.3h10.8v1.3h-10.8zM370.2 196.2h10.8v1.0h-10.8zM382.7 155.0h10.9v1.6h-10.9zM21.3 412.8h10.9v1.6h-10.9zM21.3 488.6h10.9v1.3h-10.9zM34.2 363.8h10.7v1.6h-10.7zM34.2 366.0h10.7v1.3h-10.7zM34.2 381.5h10.7v1.3h-10.7zM34.2 425.9h10.7v1.3h-10.7zM34.2 487.8h10.7v1.0h-10.7zM47.3 367.1h10.8v1.6h-10.8zM47.3 455.2h10.8v1.6h-10.8zM47.3 487.7h10.8v1.6h-10.8zM59.8 389.2h10.7v1.3h-10.7zM59.8 449.8h10.7v1.3h-10.7zM59.8 486.7h10.7v1.0h-10.7zM85.5 414.4h10.3v1.6h-10.3zM85.5 454.5h10.3v1.6h-10.3zM85.5 495.5h10.3v1.0h-10.3zM21.3 511.8h10.9v1.0h-10.9zM34.2 544.4h10.7v1.3h-10.7zM34.2 564.1h10.7v1.3h-10.7zM47.3 575.7h10.8v1.0h-10.8zM47.3 588.6h10.8v1.6h-10.8zM47.3 617.0h10.8v1.3h-10.8zM47.3 618.9h10.8v1.3h-10.8zM59.8 589.3h10.7v1.0h-10.7zM59.8 604.1h10.7v1.6h-10.7zM59.8 643.1h10.7v1.0h-10.7zM85.5 539.5h10.3v1.6h-10.3zM21.3 690.0h10.9v1.0h-10.9zM21.3 761.4h10.9v1.0h-10.9zM34.2 709.9h10.7v1.0h-10.7zM34.2 739.9h10.7v1.0h-10.7zM34.2 741.5h10.7v1.6h-10.7zM34.2 749.8h10.7v1.6h-10.7zM34.2 772.8h10.7v1.0h-10.7zM34.2 782.8h10.7v1.0h-10.7zM47.3 685.2h10.8v1.0h-10.8zM47.3 716.3h10.8v1.6h-10.8zM47.3 720.8h10.8v1.3h-10.8zM59.8 679.8h10.7v1.6h-10.7zM59.8 755.2h10.7v1.6h-10.7zM59.8 797.0h10.7v1.6h-10.7zM73.5 692.5h10.4v1.0h-10.4zM73.5 719.0h10.4v1.3h-10.4zM73.5 796.4h10.4v1.6h-10.4zM85.5 716.2h10.3v1.3h-10.3zM99.2 401.6h10.5v1.0h-10.5zM99.2 542.9h10.5v1.3h-10.5zM99.2 551.8h10.5v1.0h-10.5zM99.2 616.7h10.5v1.0h-10.5zM125.6 526.0h10.5v1.0h-10.5zM137.6 521.6h10.6v1.3h-10.6zM137.6 557.4h10.6v1.6h-10.6zM137.6 629.2h10.6v1.3h-10.6zM151.5 531.0h10.4v1.0h-10.4zM163.2 527.1h10.1v1.0h-10.1zM163.2 625.3h10.1v1.6h-10.1zM163.2 637.3h10.1v1.0h-10.1zM111.6 794.0h10.7v1.0h-10.7zM137.6 713.6h10.6v1.3h-10.6zM176.0 378.8h10.8v1.0h-10.8zM176.0 428.2h10.8v1.3h-10.8zM176.0 435.9h10.8v1.3h-10.8zM188.8 367.0h11.0v1.6h-11.0zM188.8 474.5h11.0v1.0h-11.0zM188.8 487.6h11.0v1.0h-11.0zM202.6 372.3h10.7v1.6h-10.7zM202.6 423.5h10.7v1.6h-10.7zM202.6 453.8h10.7v1.0h-10.7zM202.6 495.8h10.7v1.0h-10.7zM214.8 376.0h11.0v1.3h-11.0zM228.3 458.7h10.7v1.3h-10.7zM240.7 372.2h11.3v1.6h-11.3zM240.7 389.8h11.3v1.6h-11.3zM240.7 400.6h11.3v1.6h-11.3zM240.7 447.8h11.3v1.3h-11.3zM240.7 476.4h11.3v1.6h-11.3zM176.0 507.1h10.8v1.6h-10.8zM176.0 588.5h10.8v1.6h-10.8zM176.0 652.2h10.8v1.6h-10.8zM188.8 530.9h11.0v1.0h-11.0zM188.8 540.6h11.0v1.0h-11.0zM188.8 545.7h11.0v1.3h-11.0zM188.8 560.6h11.0v1.6h-11.0zM188.8 588.1h11.0v1.3h-11.0zM188.8 654.7h11.0v1.0h-11.0zM188.8 656.0h11.0v1.0h-11.0zM214.8 561.2h11.0v1.3h-11.0zM214.8 564.8h11.0v1.0h-11.0zM214.8 638.1h11.0v1.6h-11.0zM214.8 644.2h11.0v1.6h-11.0zM228.3 502.5h10.7v1.0h-10.7zM228.3 526.7h10.7v1.6h-10.7zM228.3 535.7h10.7v1.3h-10.7zM228.3 642.3h10.7v1.3h-10.7zM228.3 652.6h10.7v1.6h-10.7zM240.7 564.9h11.3v1.6h-11.3zM240.7 609.5h11.3v1.0h-11.3zM240.7 615.3h11.3v1.0h-11.3zM176.0 739.5h10.8v1.6h-10.8zM176.0 757.3h10.8v1.6h-10.8zM202.6 682.6h10.7v1.3h-10.7zM202.6 717.6h10.7v1.3h-10.7zM202.6 770.8h10.7v1.0h-10.7zM228.3 713.6h10.7v1.0h-10.7zM228.3 743.5h10.7v1.6h-10.7zM228.3 781.0h10.7v1.0h-10.7zM240.7 657.5h11.3v1.3h-11.3zM240.7 671.3h11.3v1.0h-11.3zM240.7 701.9h11.3v1.0h-11.3zM240.7 732.1h11.3v1.3h-11.3zM240.7 737.6h11.3v1.0h-11.3zM240.7 745.1h11.3v1.0h-11.3zM240.7 746.7h11.3v1.6h-11.3zM240.7 756.5h11.3v1.3h-11.3zM254.5 428.9h10.3v1.6h-10.3zM254.5 433.1h10.3v1.6h-10.3zM254.5 444.1h10.3v1.6h-10.3zM254.5 475.8h10.3v1.6h-10.3zM266.5 353.1h10.8v1.6h-10.8zM266.5 396.4h10.8v1.0h-10.8zM266.5 507.7h10.8v1.6h-10.8zM266.5 540.3h10.8v1.6h-10.8zM254.5 658.2h10.3v1.6h-10.3zM254.5 753.1h10.3v1.3h-10.3zM266.5 608.7h10.8v1.6h-10.8zM266.5 655.8h10.8v1.6h-10.8zM266.5 694.7h10.8v1.0h-10.8zM266.5 729.4h10.8v1.0h-10.8zM266.5 741.3h10.8v1.3h-10.8zM21.3 913.1h10.9v1.3h-10.9zM21.3 1043.7h10.9v1.3h-10.9zM34.2 1020.4h8.9v1.6h-8.9zM34.2 1050.4h8.9v1.3h-8.9zM46.7 937.5h10.9v1.3h-10.9zM73.0 1027.4h10.8v1.3h-10.8zM73.0 1038.2h10.8v1.0h-10.8zM86.5 906.9h10.5v1.3h-10.5zM86.5 929.6h10.5v1.6h-10.5zM86.5 959.2h10.5v1.0h-10.5zM86.5 1008.6h10.5v1.3h-10.5zM86.5 1041.7h10.5v1.3h-10.5zM86.5 1051.6h10.5v1.3h-10.5zM99.0 918.3h10.8v1.3h-10.8zM99.0 931.2h10.8v1.0h-10.8zM99.0 945.8h10.8v1.3h-10.8zM112.3 959.8h10.9v1.6h-10.9zM124.8 941.4h10.9v1.3h-10.9zM124.8 954.5h10.9v1.6h-10.9zM124.8 1015.4h10.9v1.3h-10.9zM124.8 1050.3h10.9v1.3h-10.9zM138.2 921.6h10.8v1.6h-10.8zM138.2 972.7h10.8v1.0h-10.8zM138.2 974.7h10.8v1.3h-10.8zM138.2 985.7h10.8v1.3h-10.8zM150.3 906.9h9.5v1.3h-9.5zM150.3 908.5h9.5v1.0h-9.5zM150.3 913.0h9.5v1.3h-9.5zM150.3 985.3h9.5v1.3h-9.5zM150.3 1009.0h9.5v1.3h-9.5zM163.0 930.0h11.2v1.6h-11.2zM163.0 1026.1h11.2v1.3h-11.2zM163.0 1048.1h11.2v1.0h-11.2zM175.8 1004.6h11.2v1.6h-11.2zM175.8 1007.2h11.2v1.3h-11.2zM175.8 1038.1h11.2v1.6h-11.2zM189.7 955.5h10.5v1.3h-10.5zM189.7 1052.0h10.5v1.0h-10.5zM201.7 910.5h11.3v1.6h-11.3zM201.7 961.7h11.3v1.0h-11.3zM215.0 1040.0h10.8v1.3h-10.8zM227.5 1003.9h10.8v1.3h-10.8zM21.3 1094.8h10.9v1.6h-10.9zM21.3 1103.6h10.9v1.3h-10.9zM21.3 1105.9h10.9v1.3h-10.9zM21.3 1108.2h10.9v1.3h-10.9zM34.2 1080.1h8.9v1.3h-8.9zM34.2 1091.4h8.9v1.3h-8.9zM34.2 1173.9h8.9v1.3h-8.9zM46.7 1183.3h10.9v0.5h-10.9zM59.7 1113.9h11.1v1.3h-11.1zM73.0 1095.6h10.8v1.6h-10.8zM73.0 1131.7h10.8v1.3h-10.8zM73.0 1133.6h10.8v1.3h-10.8zM86.5 1064.7h10.5v1.3h-10.5zM86.5 1137.4h10.5v1.0h-10.5zM99.0 1062.7h10.8v1.6h-10.8zM99.0 1177.0h10.8v1.3h-10.8zM112.3 1064.9h10.9v1.0h-10.9zM112.3 1144.8h10.9v1.3h-10.9zM124.8 1099.8h10.9v1.0h-10.9zM124.8 1113.9h10.9v1.0h-10.9zM124.8 1172.0h10.9v1.3h-10.9zM138.2 1057.8h10.8v1.6h-10.8zM138.2 1082.2h10.8v1.3h-10.8zM138.2 1088.4h10.8v1.3h-10.8zM138.2 1128.5h10.8v1.3h-10.8zM138.2 1130.4h10.8v1.0h-10.8zM163.0 1065.0h11.2v1.0h-11.2zM163.0 1122.4h11.2v1.3h-11.2zM175.8 1067.8h11.2v1.0h-11.2zM175.8 1169.0h11.2v1.6h-11.2zM189.7 1076.4h10.5v1.0h-10.5zM215.0 1085.2h10.8v1.6h-10.8zM215.0 1139.7h10.8v1.3h-10.8zM215.0 1162.9h10.8v1.0h-10.8zM227.5 1138.1h10.8v1.3h-10.8z"/><path fill="#9c9cf0" d="M99.6 118.3h10.6v1.8h-10.6zM99.6 125.5h10.6v1.8h-10.6zM99.6 179.5h10.6v1.8h-10.6zM99.6 189.6h10.6v2.4h-10.6zM124.5 132.1h10.8v2.0h-10.8zM124.5 139.5h10.8v1.8h-10.8zM124.5 147.0h10.8v1.5h-10.8zM124.5 180.6h10.8v2.0h-10.8zM124.5 182.6h10.8v1.8h-10.8zM124.5 186.2h10.8v1.8h-10.8zM124.5 199.9h10.8v1.2h-10.8zM124.5 203.1h10.8v2.4h-10.8zM150.2 115.8h11.0v2.4h-11.0zM150.2 139.0h11.0v1.2h-11.0zM150.2 141.4h11.0v1.5h-11.0zM150.2 146.9h11.0v1.5h-11.0zM150.2 153.1h11.0v1.2h-11.0zM150.2 157.8h11.0v2.4h-11.0zM150.2 160.2h11.0v2.4h-11.0zM150.2 187.5h11.0v2.0h-11.0zM189.7 63.4h10.7v1.2h-10.7zM189.7 67.0h10.7v2.4h-10.7zM189.7 86.9h10.7v1.2h-10.7zM189.7 107.9h10.7v1.2h-10.7zM189.7 144.6h10.7v1.2h-10.7zM201.7 102.5h11.3v1.8h-11.3zM201.7 138.1h11.3v1.2h-11.3zM201.7 147.0h11.3v1.5h-11.3zM318.7 114.4h10.6v1.2h-10.6zM318.7 133.8h10.6v2.0h-10.6zM318.7 138.0h10.6v2.0h-10.6zM318.7 144.3h10.6v1.5h-10.6zM318.7 161.1h10.6v2.0h-10.6zM318.7 165.5h10.6v1.2h-10.6zM331.0 111.7h10.8v1.5h-10.8zM331.0 114.7h10.8v1.2h-10.8zM331.0 119.5h10.8v2.4h-10.8zM331.0 123.9h10.8v2.4h-10.8zM331.0 128.3h10.8v2.0h-10.8zM331.0 158.9h10.8v1.2h-10.8zM382.7 80.2h10.9v1.2h-10.9zM382.7 90.2h10.9v1.5h-10.9zM382.7 102.0h10.9v2.4h-10.9zM382.7 110.6h10.9v1.5h-10.9zM382.7 122.3h10.9v1.5h-10.9zM382.7 126.8h10.9v1.2h-10.9zM382.7 130.7h10.9v2.0h-10.9zM382.7 135.9h10.9v2.4h-10.9zM382.7 147.3h10.9v1.8h-10.9zM382.7 149.1h10.9v1.8h-10.9zM382.7 156.4h10.9v2.0h-10.9zM382.7 165.5h10.9v1.2h-10.9zM382.7 170.3h10.9v1.5h-10.9zM382.7 182.9h10.9v1.8h-10.9zM34.2 352.5h10.7v2.0h-10.7zM34.2 360.4h10.7v1.2h-10.7zM34.2 374.1h10.7v1.5h-10.7zM34.2 381.6h10.7v1.2h-10.7zM34.2 387.0h10.7v2.0h-10.7zM34.2 406.7h10.7v2.4h-10.7zM34.2 416.3h10.7v2.0h-10.7zM34.2 420.1h10.7v1.8h-10.7zM34.2 427.1h10.7v1.8h-10.7zM34.2 446.5h10.7v1.8h-10.7zM34.2 449.8h10.7v1.5h-10.7zM34.2 466.2h10.7v1.8h-10.7zM34.2 468.0h10.7v1.2h-10.7zM34.2 470.7h10.7v1.5h-10.7zM34.2 480.3h10.7v2.0h-10.7zM34.2 482.3h10.7v2.0h-10.7zM34.2 500.7h10.7v1.8h-10.7zM188.8 348.3h11.0v1.8h-11.0zM188.8 350.7h11.0v2.0h-11.0zM188.8 378.2h11.0v1.5h-11.0zM188.8 408.2h11.0v1.2h-11.0zM188.8 417.2h11.0v1.2h-11.0zM188.8 426.2h11.0v2.4h-11.0zM188.8 439.0h11.0v1.5h-11.0zM188.8 443.8h11.0v1.5h-11.0zM188.8 447.3h11.0v1.5h-11.0zM188.8 459.6h11.0v1.8h-11.0zM188.8 469.8h11.0v1.2h-11.0zM188.8 474.3h11.0v1.5h-11.0zM188.8 475.8h11.0v1.5h-11.0zM240.7 463.8h11.3v2.4h-11.3zM188.8 509.0h11.0v2.4h-11.0zM188.8 516.6h11.0v1.5h-11.0zM188.8 526.1h11.0v1.2h-11.0zM188.8 534.1h11.0v2.4h-11.0zM188.8 536.5h11.0v1.8h-11.0zM188.8 538.3h11.0v2.4h-11.0zM188.8 540.7h11.0v2.0h-11.0zM188.8 545.7h11.0v1.5h-11.0zM188.8 567.6h11.0v2.0h-11.0zM188.8 569.6h11.0v1.8h-11.0zM188.8 571.4h11.0v1.5h-11.0zM188.8 592.2h11.0v1.8h-11.0zM188.8 610.0h11.0v1.2h-11.0zM188.8 614.8h11.0v2.4h-11.0zM188.8 622.0h11.0v2.0h-11.0zM188.8 634.5h11.0v2.0h-11.0zM188.8 637.3h11.0v1.2h-11.0zM188.8 640.0h11.0v1.2h-11.0zM240.7 526.3h11.3v2.0h-11.3zM240.7 535.4h11.3v2.0h-11.3zM240.7 549.1h11.3v1.5h-11.3zM240.7 579.4h11.3v1.8h-11.3zM240.7 596.7h11.3v2.4h-11.3zM240.7 603.6h11.3v1.2h-11.3zM240.7 644.9h11.3v1.8h-11.3zM240.7 651.2h11.3v1.5h-11.3zM188.8 663.1h11.0v2.0h-11.0zM188.8 670.2h11.0v2.0h-11.0zM188.8 682.1h11.0v2.4h-11.0zM188.8 691.3h11.0v1.2h-11.0zM188.8 697.9h11.0v1.5h-11.0zM188.8 708.4h11.0v2.0h-11.0zM188.8 710.4h11.0v2.4h-11.0zM188.8 715.5h11.0v1.8h-11.0zM188.8 723.4h11.0v2.4h-11.0zM188.8 740.1h11.0v1.5h-11.0zM188.8 786.6h11.0v1.5h-11.0zM188.8 796.3h11.0v2.4h-11.0zM188.8 799.3h11.0v1.2h-11.0zM188.8 801.7h11.0v1.5h-11.0zM240.7 710.3h11.3v2.0h-11.3zM240.7 750.9h11.3v2.0h-11.3zM240.7 755.3h11.3v1.2h-11.3zM240.7 764.5h11.3v1.5h-11.3zM240.7 779.3h11.3v2.4h-11.3zM99.0 1026.8h10.8v2.0h-10.8zM99.0 1037.2h10.8v2.4h-10.8zM99.0 1043.1h10.8v2.0h-10.8zM99.0 1047.8h10.8v1.2h-10.8zM99.0 1052.8h10.8v1.2h-10.8zM112.3 1040.5h10.9v2.0h-10.9zM112.3 1043.7h10.9v1.8h-10.9zM112.3 1048.8h10.9v1.5h-10.9zM124.8 1003.4h10.9v2.4h-10.9zM124.8 1009.0h10.9v2.0h-10.9zM124.8 1016.8h10.9v1.2h-10.9zM124.8 1026.4h10.9v1.2h-10.9zM124.8 1032.4h10.9v1.2h-10.9zM163.0 991.7h11.2v2.0h-11.2zM163.0 998.2h11.2v1.5h-11.2zM163.0 1012.5h11.2v1.5h-11.2zM163.0 1021.4h11.2v1.5h-11.2zM163.0 1022.9h11.2v2.4h-11.2zM163.0 1025.3h11.2v1.8h-11.2zM175.8 920.7h11.2v1.5h-11.2zM175.8 926.4h11.2v2.4h-11.2zM175.8 934.9h11.2v1.5h-11.2zM175.8 944.3h11.2v1.5h-11.2zM175.8 950.0h11.2v1.2h-11.2zM175.8 951.2h11.2v2.4h-11.2zM175.8 992.0h11.2v2.0h-11.2zM175.8 994.0h11.2v2.0h-11.2zM175.8 1004.9h11.2v1.5h-11.2zM175.8 1008.3h11.2v1.5h-11.2zM175.8 1012.0h11.2v1.2h-11.2zM175.8 1022.0h11.2v2.0h-11.2zM175.8 1033.4h11.2v1.5h-11.2zM175.8 1042.7h11.2v1.8h-11.2zM175.8 1048.5h11.2v2.0h-11.2zM175.8 1050.9h11.2v1.8h-11.2zM59.7 1056.0h11.1v1.8h-11.1zM59.7 1057.8h11.1v1.2h-11.1zM59.7 1078.3h11.1v1.2h-11.1zM59.7 1079.5h11.1v2.0h-11.1zM99.0 1066.7h10.8v2.0h-10.8zM99.0 1088.3h10.8v2.4h-10.8zM112.3 1054.0h10.9v0.8h-10.9zM112.3 1057.2h10.9v2.4h-10.9zM112.3 1063.5h10.9v1.8h-10.9zM112.3 1078.6h10.9v2.4h-10.9zM112.3 1144.4h10.9v1.8h-10.9zM112.3 1147.4h10.9v1.5h-10.9zM112.3 1150.4h10.9v2.4h-10.9zM112.3 1156.1h10.9v2.4h-10.9zM112.3 1158.5h10.9v1.2h-10.9zM112.3 1159.7h10.9v1.8h-10.9zM112.3 1163.9h10.9v2.0h-10.9zM112.3 1176.0h10.9v2.0h-10.9zM112.3 1181.6h10.9v0.1h-10.9zM124.8 1054.1h10.9v2.4h-10.9zM124.8 1057.7h10.9v1.5h-10.9zM124.8 1063.2h10.9v2.0h-10.9zM124.8 1065.2h10.9v1.5h-10.9zM124.8 1083.9h10.9v1.8h-10.9zM124.8 1087.2h10.9v1.5h-10.9zM124.8 1091.1h10.9v1.2h-10.9zM124.8 1100.3h10.9v1.2h-10.9zM124.8 1106.6h10.9v1.8h-10.9zM124.8 1130.6h10.9v1.8h-10.9zM124.8 1135.4h10.9v2.4h-10.9zM124.8 1139.0h10.9v1.5h-10.9zM124.8 1156.9h10.9v1.8h-10.9zM124.8 1164.3h10.9v1.2h-10.9zM163.0 1068.4h11.2v1.5h-11.2zM163.0 1125.5h11.2v1.2h-11.2zM163.0 1126.7h11.2v2.4h-11.2zM163.0 1129.9h11.2v2.0h-11.2zM163.0 1133.4h11.2v2.4h-11.2zM175.8 1054.0h11.2v1.9h-11.2zM175.8 1055.9h11.2v1.5h-11.2zM175.8 1063.3h11.2v1.2h-11.2zM175.8 1066.5h11.2v1.2h-11.2zM175.8 1084.6h11.2v1.8h-11.2zM175.8 1134.0h11.2v2.4h-11.2z"/><path fill="#d2d2f6" d="M99.6 120.1h10.6v1.5h-10.6zM99.6 123.1h10.6v2.4h-10.6zM99.6 128.8h10.6v2.4h-10.6zM99.6 139.6h10.6v1.2h-10.6zM99.6 145.9h10.6v2.4h-10.6zM99.6 160.0h10.6v1.8h-10.6zM99.6 161.8h10.6v2.0h-10.6zM99.6 169.6h10.6v2.0h-10.6zM99.6 176.0h10.6v1.5h-10.6zM99.6 177.5h10.6v2.0h-10.6zM99.6 184.9h10.6v2.0h-10.6zM99.6 186.9h10.6v1.2h-10.6zM99.6 188.1h10.6v1.5h-10.6zM99.6 200.0h10.6v2.4h-10.6zM99.6 203.6h10.6v2.4h-10.6zM150.2 121.2h11.0v2.4h-11.0zM150.2 124.8h11.0v1.5h-11.0zM150.2 137.8h11.0v1.2h-11.0zM150.2 142.9h11.0v2.0h-11.0zM150.2 156.3h11.0v1.5h-11.0zM150.2 162.6h11.0v2.0h-11.0zM150.2 165.4h11.0v1.2h-11.0zM150.2 168.4h11.0v2.4h-11.0zM150.2 182.5h11.0v2.0h-11.0zM150.2 184.5h11.0v1.5h-11.0zM150.2 191.9h11.0v2.0h-11.0zM150.2 200.2h11.0v1.4h-11.0zM189.7 62.2h10.7v1.2h-10.7zM189.7 69.4h10.7v2.0h-10.7zM189.7 71.4h10.7v1.2h-10.7zM189.7 80.0h10.7v1.5h-10.7zM189.7 83.0h10.7v1.5h-10.7zM189.7 91.6h10.7v1.8h-10.7zM189.7 95.4h10.7v1.5h-10.7zM189.7 96.9h10.7v2.4h-10.7zM189.7 99.3h10.7v2.0h-10.7zM189.7 103.1h10.7v1.8h-10.7zM189.7 109.1h10.7v1.2h-10.7zM189.7 119.8h10.7v1.2h-10.7zM189.7 128.1h10.7v1.5h-10.7zM189.7 147.8h10.7v2.4h-10.7zM189.7 161.2h10.7v1.2h-10.7zM201.7 61.0h11.3v1.5h-11.3zM201.7 62.5h11.3v2.4h-11.3zM201.7 65.5h11.3v2.0h-11.3zM201.7 80.2h11.3v2.4h-11.3zM201.7 96.4h11.3v1.8h-11.3zM201.7 99.4h11.3v1.5h-11.3zM201.7 106.1h11.3v2.0h-11.3zM201.7 111.1h11.3v2.4h-11.3zM201.7 115.9h11.3v2.0h-11.3zM201.7 128.9h11.3v2.4h-11.3zM201.7 136.1h11.3v2.0h-11.3zM201.7 141.1h11.3v1.5h-11.3zM201.7 156.1h11.3v1.5h-11.3zM318.7 117.6h10.6v1.8h-10.6zM318.7 120.0h10.6v1.5h-10.6zM318.7 121.5h10.6v2.0h-10.6zM318.7 132.3h10.6v1.5h-10.6zM318.7 141.6h10.6v1.2h-10.6zM318.7 153.7h10.6v2.4h-10.6zM318.7 158.1h10.6v1.2h-10.6zM382.7 78.2h10.9v2.0h-10.9zM382.7 81.4h10.9v2.4h-10.9zM382.7 88.4h10.9v1.8h-10.9zM382.7 91.7h10.9v2.0h-10.9zM382.7 96.1h10.9v1.2h-10.9zM382.7 97.3h10.9v2.0h-10.9zM382.7 99.3h10.9v1.5h-10.9zM382.7 112.1h10.9v2.0h-10.9zM382.7 117.6h10.9v2.0h-10.9zM382.7 129.5h10.9v1.2h-10.9zM382.7 133.9h10.9v2.0h-10.9zM382.7 138.3h10.9v1.5h-10.9zM382.7 139.8h10.9v1.2h-10.9zM382.7 143.4h10.9v1.5h-10.9zM382.7 159.6h10.9v2.0h-10.9zM382.7 161.6h10.9v2.4h-10.9zM382.7 166.7h10.9v1.8h-10.9zM382.7 171.8h10.9v1.2h-10.9zM382.7 179.6h10.9v1.5h-10.9zM382.7 186.7h10.9v1.2h-10.9zM382.7 189.4h10.9v0.6h-10.9zM34.2 350.7h10.7v1.8h-10.7zM34.2 357.7h10.7v1.2h-10.7zM34.2 358.9h10.7v1.5h-10.7zM34.2 361.6h10.7v1.2h-10.7zM34.2 365.2h10.7v2.4h-10.7zM34.2 371.4h10.7v1.5h-10.7zM34.2 379.8h10.7v1.8h-10.7zM34.2 385.2h10.7v1.8h-10.7zM34.2 394.8h10.7v1.2h-10.7zM34.2 404.3h10.7v2.4h-10.7zM34.2 409.1h10.7v2.4h-10.7zM34.2 412.1h10.7v1.8h-10.7zM34.2 413.9h10.7v2.4h-10.7zM34.2 422.5h10.7v1.8h-10.7zM34.2 428.9h10.7v1.2h-10.7zM34.2 435.7h10.7v2.4h-10.7zM34.2 440.5h10.7v1.2h-10.7zM34.2 441.7h10.7v2.4h-10.7zM34.2 444.1h10.7v2.4h-10.7zM34.2 451.3h10.7v1.8h-10.7zM34.2 458.2h10.7v2.0h-10.7zM34.2 462.6h10.7v1.2h-10.7zM34.2 469.2h10.7v1.5h-10.7zM34.2 477.9h10.7v2.0h-10.7zM34.2 484.3h10.7v1.2h-10.7zM34.2 485.5h10.7v1.8h-10.7zM34.2 493.3h10.7v1.2h-10.7zM34.2 494.5h10.7v1.8h-10.7zM34.2 497.5h10.7v2.0h-10.7zM34.2 499.5h10.7v1.2h-10.7zM188.8 357.4h11.0v1.2h-11.0zM188.8 366.0h11.0v1.5h-11.0zM188.8 369.6h11.0v1.5h-11.0zM188.8 372.9h11.0v1.8h-11.0zM188.8 376.7h11.0v1.5h-11.0zM188.8 379.7h11.0v1.8h-11.0zM188.8 389.9h11.0v2.0h-11.0zM188.8 393.4h11.0v2.0h-11.0zM188.8 395.4h11.0v1.8h-11.0zM188.8 397.2h11.0v2.0h-11.0zM188.8 401.6h11.0v2.4h-11.0zM188.8 406.4h11.0v1.8h-11.0zM188.8 424.2h11.0v2.0h-11.0zM188.8 428.6h11.0v1.5h-11.0zM188.8 432.5h11.0v1.8h-11.0zM188.8 435.1h11.0v1.5h-11.0zM188.8 436.6h11.0v2.4h-11.0zM188.8 449.6h11.0v2.0h-11.0zM188.8 454.2h11.0v1.5h-11.0zM188.8 457.2h11.0v2.4h-11.0zM188.8 465.4h11.0v1.8h-11.0zM188.8 471.0h11.0v1.5h-11.0zM188.8 472.5h11.0v1.8h-11.0zM188.8 480.9h11.0v2.0h-11.0zM188.8 488.9h11.0v1.5h-11.0zM188.8 490.4h11.0v1.2h-11.0zM188.8 493.4h11.0v1.8h-11.0zM188.8 501.4h11.0v1.1h-11.0zM188.8 504.2h11.0v2.4h-11.0zM188.8 506.6h11.0v2.4h-11.0zM188.8 521.7h11.0v2.4h-11.0zM188.8 527.3h11.0v2.4h-11.0zM188.8 531.7h11.0v2.4h-11.0zM188.8 542.7h11.0v1.5h-11.0zM188.8 559.4h11.0v1.8h-11.0zM188.8 563.2h11.0v2.4h-11.0zM188.8 574.1h11.0v1.8h-11.0zM188.8 575.9h11.0v2.4h-11.0zM188.8 578.3h11.0v2.0h-11.0zM188.8 599.8h11.0v1.8h-11.0zM188.8 608.0h11.0v2.0h-11.0zM188.8 611.2h11.0v1.8h-11.0zM188.8 613.0h11.0v1.8h-11.0zM188.8 624.0h11.0v1.2h-11.0zM188.8 627.2h11.0v1.2h-11.0zM188.8 628.4h11.0v1.5h-11.0zM188.8 632.3h11.0v1.8h-11.0zM188.8 645.9h11.0v2.4h-11.0zM188.8 661.5h11.0v1.2h-11.0zM188.8 665.1h11.0v1.5h-11.0zM188.8 666.6h11.0v1.8h-11.0zM188.8 689.3h11.0v2.0h-11.0zM188.8 702.2h11.0v2.4h-11.0zM188.8 719.1h11.0v1.5h-11.0zM188.8 728.2h11.0v2.0h-11.0zM188.8 732.9h11.0v2.4h-11.0zM188.8 735.3h11.0v1.2h-11.0zM188.8 738.9h11.0v1.2h-11.0zM188.8 741.6h11.0v2.4h-11.0zM188.8 745.8h11.0v1.5h-11.0zM188.8 750.4h11.0v2.4h-11.0zM188.8 760.6h11.0v1.5h-11.0zM188.8 762.1h11.0v2.0h-11.0zM188.8 771.0h11.0v2.0h-11.0zM188.8 777.3h11.0v2.4h-11.0zM188.8 792.5h11.0v1.2h-11.0zM188.8 800.5h11.0v1.2h-11.0zM99.0 1009.7h10.8v2.4h-10.8zM99.0 1014.5h10.8v2.4h-10.8zM99.0 1024.8h10.8v2.0h-10.8zM99.0 1028.8h10.8v2.4h-10.8zM99.0 1032.0h10.8v1.2h-10.8zM99.0 1034.4h10.8v1.2h-10.8zM99.0 1041.6h10.8v1.5h-10.8zM99.0 1045.1h10.8v1.2h-10.8zM99.0 1046.3h10.8v1.5h-10.8zM99.0 1049.0h10.8v1.2h-10.8zM112.3 991.3h10.9v2.0h-10.9zM112.3 996.9h10.9v1.5h-10.9zM112.3 998.4h10.9v1.8h-10.9zM112.3 1011.0h10.9v1.2h-10.9zM112.3 1014.2h10.9v1.2h-10.9zM112.3 1019.3h10.9v2.4h-10.9zM112.3 1028.3h10.9v1.2h-10.9zM112.3 1029.5h10.9v1.2h-10.9zM112.3 1030.7h10.9v2.0h-10.9zM112.3 1047.3h10.9v1.5h-10.9zM112.3 1050.3h10.9v2.4h-10.9zM112.3 1052.7h10.9v1.3h-10.9zM124.8 990.5h10.9v1.5h-10.9zM124.8 992.0h10.9v1.2h-10.9zM124.8 996.8h10.9v1.8h-10.9zM124.8 998.6h10.9v1.2h-10.9zM124.8 1002.2h10.9v1.2h-10.9zM124.8 1011.0h10.9v1.5h-10.9zM124.8 1012.5h10.9v1.5h-10.9zM124.8 1014.0h10.9v2.0h-10.9zM124.8 1020.0h10.9v1.8h-10.9zM124.8 1029.4h10.9v1.8h-10.9zM124.8 1031.2h10.9v1.2h-10.9zM124.8 1035.4h10.9v2.0h-10.9zM124.8 1037.4h10.9v2.4h-10.9zM124.8 1046.6h10.9v1.5h-10.9zM124.8 1050.1h10.9v2.4h-10.9zM163.0 925.3h11.2v2.4h-11.2zM163.0 940.5h11.2v2.0h-11.2zM163.0 942.5h11.2v1.5h-11.2zM163.0 993.7h11.2v1.5h-11.2zM163.0 1001.2h11.2v2.4h-11.2zM163.0 1003.6h11.2v1.8h-11.2zM163.0 1008.6h11.2v1.2h-11.2zM163.0 1014.0h11.2v1.2h-11.2zM163.0 1018.4h11.2v1.2h-11.2zM163.0 1042.8h11.2v2.0h-11.2zM163.0 1049.0h11.2v2.4h-11.2zM175.8 919.2h11.2v1.5h-11.2zM175.8 922.2h11.2v1.8h-11.2zM175.8 924.0h11.2v2.4h-11.2zM175.8 940.4h11.2v1.5h-11.2zM175.8 941.9h11.2v2.4h-11.2zM175.8 947.6h11.2v2.4h-11.2zM175.8 955.4h11.2v2.0h-11.2zM175.8 957.4h11.2v2.0h-11.2zM175.8 990.5h11.2v1.5h-11.2zM175.8 999.0h11.2v2.0h-11.2zM175.8 1003.7h11.2v1.2h-11.2zM175.8 1015.2h11.2v1.2h-11.2zM175.8 1029.8h11.2v2.4h-11.2zM175.8 1034.9h11.2v1.8h-11.2zM175.8 1041.2h11.2v1.5h-11.2zM175.8 1044.9h11.2v1.8h-11.2zM175.8 1052.7h11.2v1.3h-11.2zM59.7 1060.6h11.1v1.8h-11.1zM59.7 1063.9h11.1v1.5h-11.1zM59.7 1065.4h11.1v2.4h-11.1zM59.7 1072.6h11.1v1.5h-11.1zM59.7 1074.1h11.1v1.8h-11.1zM59.7 1081.5h11.1v1.0h-11.1zM99.0 1057.2h10.8v1.8h-10.8zM99.0 1062.3h10.8v2.4h-10.8zM99.0 1079.8h10.8v1.2h-10.8zM99.0 1085.6h10.8v1.5h-10.8zM112.3 1060.0h10.9v1.5h-10.9zM112.3 1065.3h10.9v2.0h-10.9zM112.3 1077.0h10.9v1.2h-10.9zM112.3 1089.9h10.9v1.5h-10.9zM112.3 1098.8h10.9v2.0h-10.9zM112.3 1106.5h10.9v2.4h-10.9zM112.3 1108.9h10.9v1.5h-10.9zM112.3 1112.8h10.9v1.8h-10.9zM112.3 1114.6h10.9v2.0h-10.9zM112.3 1118.4h10.9v2.4h-10.9zM112.3 1123.6h10.9v2.0h-10.9zM112.3 1128.0h10.9v1.5h-10.9zM112.3 1129.5h10.9v1.5h-10.9zM112.3 1146.2h10.9v1.2h-10.9zM112.3 1148.9h10.9v1.5h-10.9zM112.3 1165.9h10.9v2.4h-10.9zM112.3 1170.5h10.9v2.0h-10.9zM112.3 1174.5h10.9v1.5h-10.9zM124.8 1056.5h10.9v1.2h-10.9zM124.8 1059.2h10.9v2.0h-10.9zM124.8 1069.5h10.9v1.8h-10.9zM124.8 1071.7h10.9v1.5h-10.9zM124.8 1073.2h10.9v1.5h-10.9zM124.8 1074.7h10.9v2.0h-10.9zM124.8 1081.5h10.9v2.4h-10.9zM124.8 1085.7h10.9v1.5h-10.9zM124.8 1095.5h10.9v1.5h-10.9zM124.8 1101.5h10.9v1.5h-10.9zM124.8 1116.0h10.9v1.5h-10.9zM124.8 1120.2h10.9v2.0h-10.9zM124.8 1125.4h10.9v2.4h-10.9zM124.8 1128.6h10.9v2.0h-10.9zM124.8 1132.4h10.9v1.8h-10.9zM124.8 1137.8h10.9v1.2h-10.9zM124.8 1140.5h10.9v1.8h-10.9zM124.8 1142.3h10.9v1.5h-10.9zM124.8 1148.0h10.9v2.0h-10.9zM124.8 1158.7h10.9v1.5h-10.9zM124.8 1176.7h10.9v1.2h-10.9zM163.0 1061.5h11.2v1.5h-11.2zM163.0 1066.6h11.2v1.8h-11.2zM163.0 1072.3h11.2v1.8h-11.2zM163.0 1079.9h11.2v2.4h-11.2zM163.0 1082.9h11.2v1.8h-11.2zM163.0 1115.3h11.2v1.8h-11.2zM163.0 1123.5h11.2v2.0h-11.2zM163.0 1131.9h11.2v1.5h-11.2zM163.0 1135.8h11.2v1.2h-11.2zM163.0 1143.8h11.2v0.4h-11.2zM175.8 1057.8h11.2v2.0h-11.2zM175.8 1059.8h11.2v2.0h-11.2zM175.8 1067.7h11.2v1.2h-11.2zM175.8 1068.9h11.2v2.4h-11.2zM175.8 1071.9h11.2v1.8h-11.2zM175.8 1078.8h11.2v2.0h-11.2zM175.8 1080.8h11.2v2.0h-11.2zM175.8 1082.8h11.2v1.8h-11.2zM175.8 1086.4h11.2v1.9h-11.2zM175.8 1120.2h11.2v2.4h-11.2zM175.8 1126.8h11.2v2.4h-11.2zM175.8 1144.3h11.2v1.5h-11.2z"/><path fill="#9090f0" d="M99.6 121.6h10.6v1.5h-10.6zM99.6 127.3h10.6v1.5h-10.6zM99.6 148.3h10.6v1.2h-10.6zM99.6 157.6h10.6v2.4h-10.6zM99.6 166.0h10.6v1.5h-10.6zM99.6 197.8h10.6v1.8h-10.6zM99.6 206.6h10.6v0.9h-10.6zM124.5 116.7h10.8v1.5h-10.8zM124.5 122.2h10.8v2.0h-10.8zM124.5 130.1h10.8v2.0h-10.8zM124.5 134.7h10.8v1.2h-10.8zM124.5 141.7h10.8v1.8h-10.8zM124.5 152.9h10.8v2.4h-10.8zM124.5 162.5h10.8v2.4h-10.8zM124.5 164.9h10.8v2.4h-10.8zM124.5 177.1h10.8v2.0h-10.8zM124.5 195.5h10.8v2.0h-10.8zM150.2 119.4h11.0v1.8h-11.0zM150.2 129.1h11.0v1.5h-11.0zM150.2 130.6h11.0v1.2h-11.0zM150.2 132.2h11.0v2.0h-11.0zM150.2 140.2h11.0v1.2h-11.0zM150.2 149.6h11.0v2.0h-11.0zM150.2 180.1h11.0v1.2h-11.0zM150.2 186.0h11.0v1.5h-11.0zM150.2 198.7h11.0v1.5h-11.0zM189.7 58.3h10.7v1.2h-10.7zM189.7 72.6h10.7v1.8h-10.7zM189.7 76.2h10.7v1.5h-10.7zM189.7 77.7h10.7v1.5h-10.7zM189.7 90.1h10.7v1.5h-10.7zM189.7 110.3h10.7v1.8h-10.7zM189.7 137.4h10.7v2.4h-10.7zM189.7 154.6h10.7v2.0h-10.7zM201.7 84.1h11.3v1.2h-11.3zM201.7 85.3h11.3v1.5h-11.3zM201.7 109.6h11.3v1.5h-11.3zM201.7 117.9h11.3v1.8h-11.3zM201.7 124.1h11.3v1.5h-11.3zM201.7 131.3h11.3v2.4h-11.3zM201.7 157.6h11.3v2.0h-11.3zM201.7 161.4h11.3v2.4h-11.3zM318.7 111.7h10.6v1.5h-10.6zM318.7 123.5h10.6v2.0h-10.6zM318.7 125.5h10.6v1.2h-10.6zM318.7 128.5h10.6v1.8h-10.6zM318.7 136.2h10.6v1.8h-10.6zM318.7 142.8h10.6v1.5h-10.6zM318.7 147.8h10.6v1.2h-10.6zM318.7 163.1h10.6v2.4h-10.6zM331.0 126.3h10.8v2.0h-10.8zM331.0 137.1h10.8v2.0h-10.8zM331.0 139.1h10.8v2.0h-10.8zM331.0 147.3h10.8v2.0h-10.8zM331.0 150.5h10.8v1.8h-10.8zM382.7 93.7h10.9v2.4h-10.9zM382.7 104.4h10.9v2.0h-10.9zM382.7 106.4h10.9v1.8h-10.9zM382.7 119.6h10.9v1.5h-10.9zM382.7 121.1h10.9v1.2h-10.9zM382.7 123.8h10.9v1.2h-10.9zM382.7 128.0h10.9v1.5h-10.9zM382.7 132.7h10.9v1.2h-10.9zM382.7 141.0h10.9v1.8h-10.9zM382.7 145.3h10.9v2.0h-10.9zM382.7 158.4h10.9v1.2h-10.9zM382.7 173.0h10.9v2.4h-10.9zM382.7 181.1h10.9v1.8h-10.9zM34.2 348.3h10.7v2.4h-10.7zM34.2 354.5h10.7v1.2h-10.7zM34.2 389.0h10.7v2.0h-10.7zM34.2 396.0h10.7v2.0h-10.7zM34.2 398.0h10.7v2.4h-10.7zM34.2 431.9h10.7v2.0h-10.7zM34.2 433.9h10.7v1.8h-10.7zM34.2 438.1h10.7v2.4h-10.7zM34.2 453.1h10.7v2.4h-10.7zM34.2 457.0h10.7v1.2h-10.7zM34.2 460.8h10.7v1.8h-10.7zM34.2 496.3h10.7v1.2h-10.7zM188.8 356.2h11.0v1.2h-11.0zM188.8 360.4h11.0v2.0h-11.0zM188.8 363.6h11.0v2.4h-11.0zM188.8 374.7h11.0v2.0h-11.0zM188.8 381.5h11.0v1.8h-11.0zM188.8 383.3h11.0v1.2h-11.0zM188.8 384.5h11.0v1.8h-11.0zM188.8 386.3h11.0v1.8h-11.0zM188.8 388.7h11.0v1.2h-11.0zM188.8 409.4h11.0v1.2h-11.0zM188.8 410.6h11.0v1.2h-11.0zM188.8 411.8h11.0v1.5h-11.0zM188.8 431.3h11.0v1.2h-11.0zM188.8 442.0h11.0v1.8h-11.0zM188.8 445.3h11.0v2.0h-11.0zM188.8 452.2h11.0v2.0h-11.0zM188.8 491.6h11.0v1.8h-11.0zM188.8 499.6h11.0v1.8h-11.0zM240.7 365.7h11.3v1.8h-11.3zM240.7 369.9h11.3v1.8h-11.3zM240.7 373.5h11.3v1.5h-11.3zM240.7 375.8h11.3v1.8h-11.3zM240.7 377.6h11.3v1.8h-11.3zM240.7 387.7h11.3v1.8h-11.3zM240.7 398.0h11.3v1.5h-11.3zM240.7 408.1h11.3v2.4h-11.3zM240.7 427.1h11.3v1.8h-11.3zM240.7 439.7h11.3v1.5h-11.3zM240.7 456.0h11.3v2.0h-11.3zM240.7 489.7h11.3v2.0h-11.3zM240.7 496.4h11.3v1.2h-11.3zM188.8 502.5h11.0v1.7h-11.0zM188.8 524.1h11.0v2.0h-11.0zM188.8 551.7h11.0v1.2h-11.0zM188.8 553.5h11.0v1.5h-11.0zM188.8 565.6h11.0v2.0h-11.0zM188.8 597.1h11.0v1.2h-11.0zM188.8 603.4h11.0v2.4h-11.0zM188.8 605.8h11.0v1.8h-11.0zM188.8 619.6h11.0v2.4h-11.0zM188.8 625.2h11.0v2.0h-11.0zM188.8 629.9h11.0v2.4h-11.0zM188.8 644.7h11.0v1.2h-11.0zM188.8 656.4h11.0v1.1h-11.0zM240.7 509.6h11.3v2.0h-11.3zM240.7 550.6h11.3v2.0h-11.3zM240.7 576.2h11.3v1.2h-11.3zM240.7 592.1h11.3v2.0h-11.3zM240.7 606.8h11.3v2.4h-11.3zM240.7 618.5h11.3v1.2h-11.3zM240.7 623.0h11.3v1.2h-11.3zM188.8 657.5h11.0v1.0h-11.0zM188.8 692.5h11.0v2.4h-11.0zM188.8 694.9h11.0v1.5h-11.0zM188.8 699.8h11.0v2.4h-11.0zM188.8 714.3h11.0v1.2h-11.0zM188.8 721.0h11.0v2.4h-11.0zM188.8 744.0h11.0v1.8h-11.0zM188.8 747.3h11.0v1.2h-11.0zM188.8 755.2h11.0v2.4h-11.0zM188.8 783.0h11.0v1.2h-11.0zM188.8 784.2h11.0v2.4h-11.0zM188.8 788.1h11.0v2.0h-11.0zM188.8 790.5h11.0v2.0h-11.0zM188.8 803.2h11.0v1.2h-11.0zM240.7 658.0h11.3v1.5h-11.3zM240.7 659.5h11.3v2.4h-11.3zM240.7 679.3h11.3v1.5h-11.3zM240.7 680.8h11.3v1.8h-11.3zM240.7 684.6h11.3v1.2h-11.3zM240.7 695.6h11.3v1.2h-11.3zM240.7 707.7h11.3v1.8h-11.3zM240.7 724.3h11.3v2.0h-11.3zM240.7 760.9h11.3v2.4h-11.3zM240.7 774.0h11.3v2.0h-11.3zM240.7 784.3h11.3v1.8h-11.3zM240.7 790.0h11.3v1.5h-11.3zM240.7 797.6h11.3v2.4h-11.3zM99.0 1018.9h10.8v2.4h-10.8zM99.0 1023.3h10.8v1.5h-10.8zM99.0 1050.2h10.8v2.0h-10.8zM112.3 1008.6h10.9v2.4h-10.9zM112.3 1012.2h10.9v2.0h-10.9zM112.3 1016.9h10.9v1.8h-10.9zM112.3 1022.5h10.9v1.2h-10.9zM112.3 1035.1h10.9v1.5h-10.9zM112.3 1042.5h10.9v1.2h-10.9zM124.8 1006.6h10.9v2.0h-10.9zM124.8 1018.0h10.9v2.0h-10.9zM124.8 1044.2h10.9v2.4h-10.9zM163.0 922.9h11.2v2.4h-11.2zM163.0 927.7h11.2v2.0h-11.2zM163.0 933.3h11.2v2.0h-11.2zM163.0 938.5h11.2v2.0h-11.2zM163.0 944.0h11.2v1.2h-11.2zM163.0 948.6h11.2v0.2h-11.2zM163.0 997.0h11.2v1.2h-11.2zM163.0 1011.3h11.2v1.2h-11.2zM163.0 1031.0h11.2v2.0h-11.2zM163.0 1047.8h11.2v1.2h-11.2zM163.0 1052.2h11.2v1.8h-11.2zM175.8 931.6h11.2v1.8h-11.2zM175.8 945.8h11.2v1.8h-11.2zM175.8 1001.0h11.2v1.5h-11.2zM175.8 1013.2h11.2v2.0h-11.2zM175.8 1016.4h11.2v2.0h-11.2zM175.8 1018.4h11.2v1.2h-11.2zM175.8 1027.9h11.2v1.5h-11.2zM175.8 1039.7h11.2v1.5h-11.2zM59.7 1059.0h11.1v1.2h-11.1zM99.0 1054.0h10.8v2.4h-10.8zM99.0 1064.7h10.8v1.2h-10.8zM99.0 1069.9h10.8v1.8h-10.8zM99.0 1077.4h10.8v2.4h-10.8zM99.0 1082.2h10.8v1.2h-10.8zM99.0 1090.7h10.8v1.2h-10.8zM99.0 1091.9h10.8v1.2h-10.8zM99.0 1093.1h10.8v1.5h-10.8zM99.0 1094.6h10.8v1.8h-10.8zM99.0 1096.4h10.8v2.4h-10.8zM112.3 1054.8h10.9v2.4h-10.9zM112.3 1061.5h10.9v2.0h-10.9zM112.3 1068.8h10.9v2.4h-10.9zM112.3 1075.2h10.9v1.2h-10.9zM112.3 1081.0h10.9v1.2h-10.9zM112.3 1096.8h10.9v2.0h-10.9zM112.3 1100.8h10.9v1.5h-10.9zM112.3 1102.3h10.9v1.8h-10.9zM112.3 1132.2h10.9v2.4h-10.9zM112.3 1134.6h10.9v2.0h-10.9zM112.3 1139.4h10.9v2.4h-10.9zM112.3 1142.4h10.9v2.0h-10.9zM112.3 1161.5h10.9v2.4h-10.9zM112.3 1168.7h10.9v1.8h-10.9zM112.3 1172.5h10.9v2.0h-10.9zM112.3 1178.0h10.9v1.8h-10.9zM124.8 1068.3h10.9v1.2h-10.9zM124.8 1097.0h10.9v1.8h-10.9zM124.8 1098.8h10.9v1.5h-10.9zM124.8 1117.5h10.9v1.5h-10.9zM124.8 1119.0h10.9v1.2h-10.9zM124.8 1143.8h10.9v1.2h-10.9zM124.8 1146.5h10.9v1.5h-10.9zM124.8 1160.2h10.9v1.8h-10.9zM124.8 1162.0h10.9v1.5h-10.9zM124.8 1167.5h10.9v2.4h-10.9zM163.0 1063.0h11.2v1.8h-11.2zM163.0 1137.6h11.2v2.4h-11.2zM175.8 1064.5h11.2v2.0h-11.2zM175.8 1074.5h11.2v2.4h-11.2zM175.8 1077.3h11.2v1.5h-11.2zM175.8 1122.6h11.2v1.8h-11.2zM175.8 1140.8h11.2v1.5h-11.2z"/><path fill="#d8d8f6" d="M99.6 131.2h10.6v1.2h-10.6zM99.6 132.4h10.6v1.8h-10.6zM99.6 136.0h10.6v1.8h-10.6zM99.6 143.9h10.6v2.0h-10.6zM99.6 149.5h10.6v1.5h-10.6zM99.6 152.8h10.6v2.4h-10.6zM99.6 167.5h10.6v1.5h-10.6zM99.6 171.6h10.6v2.4h-10.6zM99.6 181.3h10.6v1.8h-10.6zM99.6 202.4h10.6v1.2h-10.6zM150.2 123.6h11.0v1.2h-11.0zM150.2 127.1h11.0v2.0h-11.0zM150.2 148.4h11.0v1.2h-11.0zM150.2 154.3h11.0v2.0h-11.0zM150.2 170.8h11.0v2.4h-11.0zM150.2 173.2h11.0v2.0h-11.0zM150.2 181.3h11.0v1.2h-11.0zM150.2 189.5h11.0v2.4h-11.0zM150.2 195.9h11.0v2.0h-11.0zM189.7 74.4h10.7v1.8h-10.7zM189.7 104.9h10.7v1.8h-10.7zM189.7 112.1h10.7v1.8h-10.7zM189.7 124.2h10.7v2.4h-10.7zM189.7 126.6h10.7v1.5h-10.7zM189.7 135.0h10.7v2.4h-10.7zM189.7 150.2h10.7v1.8h-10.7zM189.7 156.6h10.7v1.8h-10.7zM189.7 162.4h10.7v0.9h-10.7zM201.7 76.2h11.3v1.8h-11.3zM201.7 82.6h11.3v1.5h-11.3zM201.7 88.0h11.3v2.4h-11.3zM201.7 139.3h11.3v1.8h-11.3zM201.7 148.5h11.3v2.0h-11.3zM201.7 150.5h11.3v1.8h-11.3zM318.7 113.2h10.6v1.2h-10.6zM318.7 115.6h10.6v2.0h-10.6zM318.7 131.1h10.6v1.2h-10.6zM318.7 140.4h10.6v1.2h-10.6zM318.7 145.8h10.6v2.0h-10.6zM318.7 151.3h10.6v2.4h-10.6zM318.7 159.9h10.6v1.2h-10.6zM382.7 76.7h10.9v1.5h-10.9zM382.7 85.0h10.9v1.2h-10.9zM382.7 100.8h10.9v1.2h-10.9zM382.7 108.2h10.9v2.4h-10.9zM382.7 114.1h10.9v1.5h-10.9zM382.7 115.6h10.9v2.0h-10.9zM382.7 125.0h10.9v1.8h-10.9zM382.7 150.9h10.9v2.0h-10.9zM382.7 152.9h10.9v2.0h-10.9zM382.7 154.9h10.9v1.5h-10.9zM382.7 175.4h10.9v2.4h-10.9zM34.2 355.7h10.7v2.0h-10.7zM34.2 362.8h10.7v2.4h-10.7zM34.2 367.6h10.7v2.0h-10.7zM34.2 369.6h10.7v1.8h-10.7zM34.2 383.4h10.7v1.8h-10.7zM34.2 400.4h10.7v2.4h-10.7zM34.2 402.8h10.7v1.5h-10.7zM34.2 418.3h10.7v1.8h-10.7zM34.2 448.3h10.7v1.5h-10.7zM34.2 455.5h10.7v1.5h-10.7zM34.2 463.8h10.7v2.4h-10.7zM34.2 472.2h10.7v1.5h-10.7zM34.2 475.9h10.7v2.0h-10.7zM34.2 489.3h10.7v2.0h-10.7zM34.2 491.3h10.7v2.0h-10.7zM188.8 352.7h11.0v2.0h-11.0zM188.8 354.7h11.0v1.5h-11.0zM188.8 362.4h11.0v1.2h-11.0zM188.8 368.1h11.0v1.5h-11.0zM188.8 404.0h11.0v2.4h-11.0zM188.8 413.7h11.0v1.5h-11.0zM188.8 419.2h11.0v1.8h-11.0zM188.8 421.8h11.0v2.4h-11.0zM188.8 440.5h11.0v1.5h-11.0zM188.8 463.8h11.0v1.2h-11.0zM188.8 477.3h11.0v1.2h-11.0zM188.8 487.1h11.0v1.8h-11.0zM188.8 518.1h11.0v1.2h-11.0zM188.8 519.3h11.0v2.4h-11.0zM188.8 582.9h11.0v1.2h-11.0zM188.8 591.0h11.0v1.2h-11.0zM188.8 594.4h11.0v1.5h-11.0zM188.8 595.9h11.0v1.2h-11.0zM188.8 617.2h11.0v2.4h-11.0zM188.8 668.4h11.0v1.8h-11.0zM188.8 672.2h11.0v1.2h-11.0zM188.8 673.4h11.0v2.4h-11.0zM188.8 675.8h11.0v1.2h-11.0zM188.8 677.0h11.0v1.5h-11.0zM188.8 678.5h11.0v1.8h-11.0zM188.8 680.3h11.0v1.8h-11.0zM188.8 686.0h11.0v1.5h-11.0zM188.8 687.5h11.0v1.8h-11.0zM188.8 696.4h11.0v1.5h-11.0zM188.8 704.6h11.0v2.0h-11.0zM188.8 717.3h11.0v1.2h-11.0zM188.8 731.4h11.0v1.5h-11.0zM188.8 736.5h11.0v2.0h-11.0zM188.8 752.8h11.0v2.4h-11.0zM188.8 759.1h11.0v1.5h-11.0zM188.8 764.1h11.0v1.5h-11.0zM188.8 768.6h11.0v2.4h-11.0zM188.8 773.0h11.0v2.4h-11.0zM188.8 775.8h11.0v1.5h-11.0zM99.0 1012.1h10.8v2.4h-10.8zM99.0 1016.9h10.8v2.0h-10.8zM99.0 1033.2h10.8v1.2h-10.8zM112.3 994.5h10.9v2.4h-10.9zM112.3 1002.2h10.9v2.0h-10.9zM112.3 1004.2h10.9v1.2h-10.9zM112.3 1006.6h10.9v2.0h-10.9zM112.3 1023.7h10.9v2.0h-10.9zM112.3 1026.3h10.9v2.0h-10.9zM112.3 1045.5h10.9v1.8h-10.9zM124.8 1022.6h10.9v2.0h-10.9zM124.8 1024.6h10.9v1.8h-10.9zM124.8 1027.6h10.9v1.8h-10.9zM124.8 1041.8h10.9v2.4h-10.9zM124.8 1048.1h10.9v2.0h-10.9zM124.8 1052.5h10.9v1.5h-10.9zM163.0 929.7h11.2v1.2h-11.2zM163.0 935.3h11.2v2.4h-11.2zM163.0 945.2h11.2v1.2h-11.2zM163.0 995.2h11.2v1.8h-11.2zM163.0 1015.2h11.2v2.4h-11.2zM163.0 1019.6h11.2v1.8h-11.2zM163.0 1027.1h11.2v1.5h-11.2zM163.0 1029.8h11.2v1.2h-11.2zM163.0 1038.9h11.2v1.5h-11.2zM163.0 1040.4h11.2v2.4h-11.2zM163.0 1045.4h11.2v2.4h-11.2zM175.8 918.0h11.2v1.2h-11.2zM175.8 929.6h11.2v1.2h-11.2zM175.8 936.4h11.2v1.2h-11.2zM175.8 938.4h11.2v2.0h-11.2zM175.8 953.6h11.2v1.8h-11.2zM175.8 961.8h11.2v1.5h-11.2zM175.8 963.9h11.2v1.5h-11.2zM175.8 1002.5h11.2v1.2h-11.2zM175.8 1006.4h11.2v1.5h-11.2zM175.8 1010.2h11.2v1.8h-11.2zM175.8 1036.7h11.2v1.8h-11.2zM59.7 1054.0h11.1v1.6h-11.1zM59.7 1062.4h11.1v1.5h-11.1zM59.7 1067.8h11.1v2.4h-11.1zM59.7 1070.2h11.1v2.4h-11.1zM59.7 1075.9h11.1v2.4h-11.1zM99.0 1059.0h10.8v1.5h-10.8zM99.0 1068.7h10.8v1.2h-10.8zM99.0 1071.7h10.8v1.8h-10.8zM99.0 1081.0h10.8v1.2h-10.8zM99.0 1098.8h10.8v2.4h-10.8zM99.0 1101.6h10.8v1.7h-10.8zM112.3 1071.2h10.9v1.2h-10.9zM112.3 1072.4h10.9v2.4h-10.9zM112.3 1082.2h10.9v2.4h-10.9zM112.3 1104.1h10.9v2.4h-10.9zM112.3 1110.4h10.9v1.2h-10.9zM112.3 1116.6h10.9v1.8h-10.9zM112.3 1125.6h10.9v2.4h-10.9zM112.3 1131.0h10.9v1.2h-10.9zM112.3 1136.6h10.9v2.4h-10.9zM112.3 1152.8h10.9v1.8h-10.9zM112.3 1154.6h10.9v1.5h-10.9zM124.8 1066.7h10.9v1.2h-10.9zM124.8 1076.7h10.9v2.4h-10.9zM124.8 1088.7h10.9v2.4h-10.9zM124.8 1092.3h10.9v2.4h-10.9zM124.8 1103.0h10.9v1.2h-10.9zM124.8 1104.2h10.9v2.4h-10.9zM124.8 1111.6h10.9v2.4h-10.9zM124.8 1124.2h10.9v1.2h-10.9zM124.8 1150.0h10.9v2.4h-10.9zM124.8 1154.5h10.9v2.4h-10.9zM124.8 1165.5h10.9v2.0h-10.9zM124.8 1169.9h10.9v1.8h-10.9zM124.8 1172.9h10.9v2.0h-10.9zM124.8 1177.9h10.9v2.0h-10.9zM163.0 1057.9h11.2v2.4h-11.2zM163.0 1064.8h11.2v1.8h-11.2zM163.0 1074.1h11.2v1.2h-11.2zM163.0 1076.1h11.2v1.8h-11.2zM163.0 1077.9h11.2v2.0h-11.2zM163.0 1112.5h11.2v1.2h-11.2zM163.0 1114.1h11.2v1.2h-11.2zM163.0 1117.9h11.2v1.2h-11.2zM163.0 1120.3h11.2v1.2h-11.2zM163.0 1121.5h11.2v2.0h-11.2zM163.0 1142.0h11.2v1.8h-11.2zM175.8 1061.8h11.2v1.5h-11.2zM175.8 1115.8h11.2v2.4h-11.2zM175.8 1118.2h11.2v2.0h-11.2zM175.8 1131.6h11.2v2.4h-11.2zM175.8 1142.3h11.2v2.0h-11.2z"/><path fill="#9696f0" d="M99.6 134.2h10.6v1.8h-10.6zM99.6 137.8h10.6v1.8h-10.6zM99.6 140.8h10.6v1.5h-10.6zM99.6 151.0h10.6v1.8h-10.6zM99.6 155.2h10.6v2.0h-10.6zM99.6 183.1h10.6v1.8h-10.6zM99.6 192.6h10.6v2.4h-10.6zM124.5 120.2h10.8v2.0h-10.8zM124.5 124.2h10.8v2.0h-10.8zM124.5 127.7h10.8v2.4h-10.8zM124.5 150.3h10.8v1.8h-10.8zM124.5 170.9h10.8v1.5h-10.8zM124.5 197.5h10.8v2.4h-10.8zM124.5 206.7h10.8v1.7h-10.8zM150.2 118.2h11.0v1.2h-11.0zM150.2 144.9h11.0v2.0h-11.0zM150.2 151.6h11.0v1.5h-11.0zM150.2 166.6h11.0v1.8h-11.0zM150.2 175.8h11.0v2.4h-11.0zM150.2 178.2h11.0v1.5h-11.0zM189.7 64.6h10.7v2.4h-10.7zM189.7 139.8h10.7v1.8h-10.7zM201.7 86.8h11.3v1.2h-11.3zM201.7 94.0h11.3v1.8h-11.3zM201.7 119.7h11.3v2.4h-11.3zM201.7 122.1h11.3v2.0h-11.3zM201.7 125.6h11.3v1.5h-11.3zM201.7 142.6h11.3v2.4h-11.3zM318.7 126.7h10.6v1.8h-10.6zM318.7 149.0h10.6v1.5h-10.6zM318.7 156.1h10.6v2.0h-10.6zM331.0 113.2h10.8v1.5h-10.8zM331.0 116.5h10.8v1.8h-10.8zM331.0 130.3h10.8v2.4h-10.8zM331.0 152.3h10.8v2.4h-10.8zM382.7 86.6h10.9v1.8h-10.9zM382.7 164.0h10.9v1.5h-10.9zM382.7 169.1h10.9v1.2h-10.9zM382.7 177.8h10.9v1.8h-10.9zM382.7 187.9h10.9v1.5h-10.9zM34.2 372.9h10.7v1.2h-10.7zM34.2 375.6h10.7v1.8h-10.7zM34.2 377.4h10.7v2.4h-10.7zM34.2 424.3h10.7v2.4h-10.7zM188.8 358.6h11.0v1.8h-11.0zM188.8 371.1h11.0v1.8h-11.0zM188.8 391.9h11.0v1.5h-11.0zM188.8 399.2h11.0v2.4h-11.0zM188.8 430.1h11.0v1.2h-11.0zM188.8 455.7h11.0v1.5h-11.0zM188.8 485.3h11.0v1.8h-11.0zM188.8 495.2h11.0v2.4h-11.0zM188.8 497.6h11.0v2.0h-11.0zM240.7 367.5h11.3v2.4h-11.3zM240.7 379.8h11.3v2.4h-11.3zM240.7 422.3h11.3v2.4h-11.3zM240.7 430.4h11.3v1.8h-11.3zM240.7 433.7h11.3v2.4h-11.3zM240.7 450.4h11.3v1.2h-11.3zM240.7 469.5h11.3v1.8h-11.3zM240.7 477.5h11.3v1.8h-11.3zM240.7 487.7h11.3v2.0h-11.3zM240.7 493.2h11.3v1.2h-11.3zM188.8 512.2h11.0v2.4h-11.0zM188.8 514.6h11.0v2.0h-11.0zM188.8 529.7h11.0v2.0h-11.0zM188.8 544.2h11.0v1.5h-11.0zM188.8 547.2h11.0v2.4h-11.0zM188.8 549.6h11.0v1.5h-11.0zM188.8 555.0h11.0v2.4h-11.0zM188.8 557.4h11.0v2.0h-11.0zM188.8 561.2h11.0v2.0h-11.0zM188.8 572.9h11.0v1.2h-11.0zM188.8 580.9h11.0v2.0h-11.0zM188.8 584.5h11.0v2.4h-11.0zM188.8 589.5h11.0v1.5h-11.0zM188.8 601.6h11.0v1.8h-11.0zM188.8 638.5h11.0v1.5h-11.0zM188.8 641.2h11.0v1.5h-11.0zM188.8 643.5h11.0v1.2h-11.0zM188.8 652.5h11.0v2.4h-11.0zM240.7 534.2h11.3v1.2h-11.3zM240.7 542.2h11.3v1.8h-11.3zM240.7 557.3h11.3v2.0h-11.3zM240.7 577.4h11.3v2.0h-11.3zM240.7 585.2h11.3v1.8h-11.3zM240.7 588.8h11.3v1.8h-11.3zM240.7 600.9h11.3v1.2h-11.3zM240.7 654.5h11.3v1.8h-11.3zM188.8 684.5h11.0v1.5h-11.0zM188.8 706.6h11.0v1.8h-11.0zM188.8 712.8h11.0v1.5h-11.0zM188.8 725.8h11.0v2.4h-11.0zM188.8 730.2h11.0v1.2h-11.0zM188.8 748.9h11.0v1.5h-11.0zM188.8 767.1h11.0v1.5h-11.0zM188.8 781.5h11.0v1.5h-11.0zM188.8 793.7h11.0v1.8h-11.0zM240.7 663.7h11.3v2.4h-11.3zM240.7 668.1h11.3v2.0h-11.3zM240.7 690.5h11.3v2.4h-11.3zM240.7 718.5h11.3v1.8h-11.3zM240.7 731.1h11.3v1.2h-11.3zM240.7 746.5h11.3v1.8h-11.3zM240.7 769.2h11.3v2.4h-11.3zM99.0 1035.6h10.8v1.2h-10.8zM99.0 1040.4h10.8v1.2h-10.8zM112.3 1005.4h10.9v1.2h-10.9zM112.3 1015.4h10.9v1.5h-10.9zM112.3 1032.7h10.9v2.4h-10.9zM112.3 1036.6h10.9v1.5h-10.9zM112.3 1038.1h10.9v2.4h-10.9zM124.8 995.6h10.9v1.2h-10.9zM124.8 999.8h10.9v2.4h-10.9zM163.0 918.8h11.2v2.0h-11.2zM163.0 920.8h11.2v1.5h-11.2zM163.0 999.7h11.2v1.5h-11.2zM163.0 1006.2h11.2v2.0h-11.2zM163.0 1035.0h11.2v2.4h-11.2zM163.0 1037.4h11.2v1.5h-11.2zM175.8 933.4h11.2v1.5h-11.2zM175.8 965.4h11.2v2.4h-11.2zM175.8 967.8h11.2v0.2h-11.2zM175.8 1019.6h11.2v2.4h-11.2zM175.8 1024.0h11.2v2.4h-11.2zM175.8 1032.2h11.2v1.2h-11.2zM175.8 1038.5h11.2v1.2h-11.2zM175.8 1046.7h11.2v1.8h-11.2zM99.0 1060.5h10.8v1.8h-10.8zM99.0 1075.9h10.8v1.5h-10.8zM99.0 1083.4h10.8v1.8h-10.8zM99.0 1087.1h10.8v1.2h-10.8zM112.3 1084.6h10.9v1.8h-10.9zM112.3 1086.4h10.9v1.5h-10.9zM112.3 1091.4h10.9v1.5h-10.9zM112.3 1092.9h10.9v2.4h-10.9zM112.3 1111.6h10.9v1.2h-10.9zM112.3 1179.8h10.9v1.8h-10.9zM124.8 1061.2h10.9v2.0h-10.9zM124.8 1108.4h10.9v1.2h-10.9zM124.8 1109.6h10.9v2.0h-10.9zM124.8 1122.2h10.9v1.2h-10.9zM124.8 1174.9h10.9v1.2h-10.9zM124.8 1180.7h10.9v1.0h-10.9zM163.0 1060.3h11.2v1.2h-11.2zM163.0 1069.9h11.2v2.4h-11.2zM163.0 1087.7h11.2v1.5h-11.2zM163.0 1140.0h11.2v2.0h-11.2zM175.8 1124.4h11.2v2.4h-11.2zM175.8 1129.2h11.2v2.4h-11.2zM175.8 1136.4h11.2v1.8h-11.2z"/><path fill="#ccccf6" d="M99.6 142.3h10.6v1.2h-10.6zM150.2 136.0h11.0v1.8h-11.0zM189.7 93.4h10.7v2.0h-10.7zM189.7 121.0h10.7v2.0h-10.7zM201.7 127.1h11.3v1.8h-11.3zM382.7 184.7h10.9v2.0h-10.9zM34.2 392.8h10.7v2.0h-10.7zM34.2 430.1h10.7v1.8h-10.7zM188.8 415.2h11.0v2.0h-11.0zM188.8 654.9h11.0v1.5h-11.0zM188.8 804.4h11.0v0.6h-11.0zM124.8 1039.8h10.9v2.0h-10.9zM163.0 946.4h11.2v1.8h-11.2zM163.0 1028.6h11.2v1.2h-11.2zM175.8 959.4h11.2v2.4h-11.2zM99.0 1073.5h10.8v2.4h-10.8zM124.8 1114.0h10.9v2.0h-10.9zM124.8 1171.7h10.9v1.2h-10.9zM163.0 1084.7h11.2v2.4h-11.2z"/><path fill="#8a8af0" d="M99.6 164.2h10.6v1.8h-10.6zM124.5 174.7h10.8v2.4h-10.8zM150.2 193.9h11.0v2.0h-11.0zM201.7 104.3h11.3v1.8h-11.3zM331.0 141.1h10.8v2.4h-10.8zM382.7 83.8h10.9v1.2h-10.9zM34.2 391.0h10.7v1.8h-10.7zM34.2 473.7h10.7v1.8h-10.7zM34.2 487.3h10.7v2.0h-10.7zM188.8 467.8h11.0v2.0h-11.0zM188.8 478.5h11.0v2.4h-11.0zM188.8 482.9h11.0v2.4h-11.0zM240.7 444.4h11.3v2.4h-11.3zM188.8 587.7h11.0v1.8h-11.0zM188.8 598.3h11.0v1.5h-11.0zM188.8 648.3h11.0v2.4h-11.0zM188.8 650.7h11.0v1.2h-11.0zM240.7 564.1h11.3v2.0h-11.3zM188.8 659.1h11.0v2.4h-11.0zM188.8 757.6h11.0v1.5h-11.0zM188.8 765.6h11.0v1.5h-11.0zM188.8 779.7h11.0v1.8h-11.0zM240.7 670.1h11.3v2.4h-11.3zM240.7 672.5h11.3v1.5h-11.3zM99.0 1021.3h10.8v2.0h-10.8zM112.3 993.3h10.9v1.2h-10.9zM112.3 1000.2h10.9v2.0h-10.9zM124.8 1033.6h10.9v1.8h-10.9zM163.0 930.9h11.2v2.4h-11.2zM163.0 989.7h11.2v2.0h-11.2zM163.0 1009.8h11.2v1.5h-11.2zM163.0 1033.0h11.2v2.0h-11.2zM175.8 1026.4h11.2v1.5h-11.2zM112.3 1088.7h10.9v1.2h-10.9zM112.3 1095.3h10.9v1.5h-10.9zM124.8 1079.1h10.9v2.4h-10.9zM124.8 1145.0h10.9v1.5h-10.9zM163.0 1119.1h11.2v1.2h-11.2zM175.8 1138.2h11.2v1.8h-11.2z"/><path fill="#a2a2f0" d="M99.6 174.0h10.6v2.0h-10.6zM99.6 195.8h10.6v2.0h-10.6zM124.5 118.2h10.8v2.0h-10.8zM124.5 145.0h10.8v2.0h-10.8zM150.2 134.8h11.0v1.2h-11.0zM201.7 152.3h11.3v2.0h-11.3zM188.8 461.4h11.0v2.4h-11.0zM240.7 449.2h11.3v1.2h-11.3zM240.7 483.8h11.3v1.5h-11.3zM240.7 626.2h11.3v2.4h-11.3zM124.8 993.2h10.9v2.4h-10.9zM175.8 996.0h11.2v2.4h-11.2zM112.3 1067.3h10.9v1.5h-10.9zM112.3 1121.6h10.9v2.0h-10.9zM124.8 1134.2h10.9v1.2h-10.9zM124.8 1152.4h10.9v1.5h-10.9zM163.0 1054.0h11.2v1.1h-11.2zM163.0 1055.9h11.2v2.0h-11.2z"/><path fill="#4848ea" d="M124.5 126.2h10.8v1.5h-10.8zM124.5 156.5h10.8v2.4h-10.8zM124.5 169.1h10.8v1.8h-10.8zM124.5 172.4h10.8v1.5h-10.8zM124.5 179.1h10.8v1.5h-10.8zM124.5 201.1h10.8v2.0h-10.8zM189.7 115.9h10.7v2.4h-10.7zM189.7 141.6h10.7v1.2h-10.7zM189.7 145.8h10.7v2.0h-10.7zM201.7 90.4h11.3v1.8h-11.3zM201.7 101.3h11.3v1.2h-11.3zM201.7 154.3h11.3v1.8h-11.3zM201.7 164.6h11.3v0.4h-11.3zM331.0 118.3h10.8v1.2h-10.8zM331.0 121.9h10.8v2.0h-10.8zM331.0 145.3h10.8v2.0h-10.8zM240.7 442.0h11.3v1.2h-11.3zM240.7 460.0h11.3v1.2h-11.3zM240.7 471.3h11.3v1.2h-11.3zM240.7 531.5h11.3v1.2h-11.3zM240.7 537.4h11.3v2.4h-11.3zM240.7 570.3h11.3v2.4h-11.3zM240.7 582.0h11.3v2.4h-11.3zM240.7 587.0h11.3v1.2h-11.3zM240.7 621.2h11.3v1.8h-11.3zM240.7 641.0h11.3v1.8h-11.3zM240.7 642.8h11.3v1.5h-11.3zM240.7 653.3h11.3v1.2h-11.3zM240.7 682.6h11.3v2.0h-11.3zM240.7 688.5h11.3v1.2h-11.3zM240.7 692.9h11.3v1.2h-11.3zM240.7 694.1h11.3v1.5h-11.3zM240.7 699.5h11.3v2.0h-11.3z"/><path fill="#5454ea" d="M124.5 135.9h10.8v1.2h-10.8zM124.5 143.5h10.8v1.5h-10.8zM124.5 155.3h10.8v1.2h-10.8zM124.5 158.9h10.8v1.8h-10.8zM124.5 160.7h10.8v1.8h-10.8zM124.5 184.4h10.8v1.8h-10.8zM189.7 88.1h10.7v2.0h-10.7zM189.7 101.3h10.7v1.8h-10.7zM189.7 118.3h10.7v1.5h-10.7zM189.7 133.5h10.7v1.5h-10.7zM189.7 152.6h10.7v2.0h-10.7zM201.7 70.7h11.3v2.0h-11.3zM201.7 98.2h11.3v1.2h-11.3zM331.0 132.7h10.8v1.2h-10.8zM240.7 362.4h11.3v1.8h-11.3zM240.7 371.7h11.3v1.8h-11.3zM240.7 391.0h11.3v2.0h-11.3zM240.7 401.9h11.3v2.4h-11.3zM240.7 414.1h11.3v2.4h-11.3zM240.7 418.5h11.3v1.8h-11.3zM240.7 428.9h11.3v1.5h-11.3zM240.7 481.4h11.3v1.8h-11.3zM240.7 485.3h11.3v2.4h-11.3zM240.7 512.8h11.3v1.8h-11.3zM240.7 517.9h11.3v2.4h-11.3zM240.7 545.5h11.3v2.0h-11.3zM240.7 547.5h11.3v1.2h-11.3zM240.7 572.7h11.3v1.5h-11.3zM240.7 624.2h11.3v2.0h-11.3zM240.7 629.4h11.3v2.0h-11.3zM240.7 646.7h11.3v1.5h-11.3zM240.7 648.2h11.3v1.2h-11.3zM240.7 685.8h11.3v1.5h-11.3zM240.7 687.3h11.3v1.2h-11.3zM240.7 698.3h11.3v1.2h-11.3zM240.7 748.3h11.3v1.8h-11.3zM240.7 752.9h11.3v2.4h-11.3zM240.7 791.9h11.3v1.8h-11.3zM240.7 795.2h11.3v2.4h-11.3zM240.7 800.0h11.3v1.2h-11.3z"/><path fill="#6060f0" d="M124.5 137.1h10.8v2.4h-10.8zM124.5 167.3h10.8v1.8h-10.8zM124.5 205.5h10.8v1.2h-10.8zM189.7 113.9h10.7v2.0h-10.7zM189.7 123.0h10.7v1.2h-10.7zM189.7 130.8h10.7v1.5h-10.7zM189.7 142.8h10.7v1.8h-10.7zM201.7 72.7h11.3v1.5h-11.3zM201.7 78.0h11.3v1.8h-11.3zM201.7 114.1h11.3v1.8h-11.3zM201.7 159.6h11.3v1.8h-11.3zM331.0 143.5h10.8v1.8h-10.8zM240.7 353.7h11.3v1.5h-11.3zM240.7 382.2h11.3v1.2h-11.3zM240.7 503.0h11.3v2.4h-11.3zM240.7 516.1h11.3v1.8h-11.3zM240.7 590.6h11.3v1.5h-11.3zM240.7 599.1h11.3v1.2h-11.3zM240.7 609.8h11.3v1.2h-11.3zM240.7 617.3h11.3v1.2h-11.3zM240.7 772.0h11.3v2.0h-11.3zM240.7 801.2h11.3v1.2h-11.3z"/><path fill="#6666f0" d="M124.5 148.5h10.8v1.8h-10.8zM124.5 193.6h10.8v1.5h-10.8zM189.7 60.7h10.7v1.5h-10.7zM189.7 158.4h10.7v2.4h-10.7zM240.7 364.2h11.3v1.5h-11.3zM240.7 437.9h11.3v1.8h-11.3zM240.7 532.7h11.3v1.5h-11.3z"/><path fill="#4e4eea" d="M124.5 188.0h10.8v1.8h-10.8zM124.5 189.8h10.8v1.8h-10.8zM189.7 59.5h10.7v1.2h-10.7zM189.7 85.3h10.7v1.2h-10.7zM189.7 132.3h10.7v1.2h-10.7zM201.7 59.2h11.3v1.8h-11.3zM201.7 74.2h11.3v2.0h-11.3zM201.7 92.2h11.3v1.8h-11.3zM201.7 134.3h11.3v1.8h-11.3zM331.0 134.7h10.8v2.4h-10.8zM331.0 149.3h10.8v1.2h-10.8zM240.7 384.2h11.3v1.5h-11.3zM240.7 420.3h11.3v2.0h-11.3zM240.7 479.9h11.3v1.5h-11.3zM240.7 511.6h11.3v1.2h-11.3zM240.7 528.3h11.3v2.0h-11.3zM240.7 614.9h11.3v1.2h-11.3zM240.7 633.2h11.3v1.8h-11.3zM240.7 677.8h11.3v1.5h-11.3zM240.7 728.7h11.3v2.4h-11.3zM240.7 732.3h11.3v1.8h-11.3zM240.7 739.8h11.3v1.2h-11.3z"/><path fill="#5a5aea" d="M124.5 191.6h10.8v2.0h-10.8zM189.7 81.5h10.7v1.5h-10.7zM189.7 106.7h10.7v1.2h-10.7zM331.0 155.1h10.8v1.8h-10.8zM331.0 161.9h10.8v1.8h-10.8zM331.0 163.7h10.8v1.3h-10.8zM240.7 351.9h11.3v1.8h-11.3zM240.7 355.6h11.3v2.4h-11.3zM240.7 411.7h11.3v2.4h-11.3zM240.7 451.6h11.3v2.0h-11.3zM240.7 495.2h11.3v1.2h-11.3zM240.7 574.2h11.3v2.0h-11.3zM240.7 611.0h11.3v1.5h-11.3zM240.7 661.9h11.3v1.8h-11.3zM240.7 696.8h11.3v1.5h-11.3zM240.7 744.5h11.3v2.0h-11.3zM240.7 776.0h11.3v1.5h-11.3z"/><path fill="#4242ea" d="M189.7 129.6h10.7v1.2h-10.7zM201.7 108.1h11.3v1.5h-11.3zM331.0 157.7h10.8v1.2h-10.8zM331.0 160.1h10.8v1.8h-10.8zM240.7 358.0h11.3v2.4h-11.3zM240.7 360.4h11.3v2.0h-11.3zM240.7 649.4h11.3v1.8h-11.3zM240.7 722.3h11.3v2.0h-11.3z"/><path fill="#6060ea" d="M201.7 67.5h11.3v2.4h-11.3zM201.7 145.0h11.3v2.0h-11.3zM240.7 523.5h11.3v2.0h-11.3zM240.7 720.3h11.3v2.0h-11.3z"/><path fill="#0c0cf0" d="M240.7 348.3h11.3v1.2h-11.3zM240.7 395.4h11.3v2.0h-11.3zM240.7 404.9h11.3v1.2h-11.3zM240.7 406.1h11.3v2.0h-11.3zM240.7 424.7h11.3v2.4h-11.3zM240.7 436.1h11.3v1.8h-11.3zM240.7 453.6h11.3v2.4h-11.3zM240.7 604.8h11.3v2.0h-11.3zM240.7 612.5h11.3v2.4h-11.3zM240.7 631.4h11.3v1.8h-11.3zM240.7 675.8h11.3v2.0h-11.3zM240.7 705.7h11.3v2.0h-11.3zM240.7 803.9h11.3v1.1h-11.3z"/><path fill="#0000ea" d="M240.7 349.5h11.3v2.4h-11.3zM240.7 400.1h11.3v1.8h-11.3zM240.7 432.2h11.3v1.5h-11.3zM240.7 458.0h11.3v2.0h-11.3zM240.7 466.2h11.3v1.5h-11.3zM240.7 507.2h11.3v2.4h-11.3zM240.7 522.3h11.3v1.2h-11.3zM240.7 544.0h11.3v1.5h-11.3zM240.7 566.1h11.3v2.4h-11.3zM240.7 638.6h11.3v2.4h-11.3zM240.7 656.3h11.3v1.2h-11.3zM240.7 666.1h11.3v2.0h-11.3zM240.7 715.3h11.3v2.0h-11.3zM240.7 717.3h11.3v1.2h-11.3zM240.7 726.3h11.3v2.4h-11.3zM240.7 734.1h11.3v2.4h-11.3zM240.7 768.0h11.3v1.2h-11.3zM240.7 777.5h11.3v1.8h-11.3zM240.7 787.9h11.3v1.5h-11.3z"/><path fill="#1212f0" d="M240.7 385.7h11.3v2.0h-11.3zM240.7 505.4h11.3v1.8h-11.3zM240.7 520.3h11.3v2.0h-11.3zM240.7 616.1h11.3v1.2h-11.3zM240.7 702.7h11.3v1.2h-11.3zM240.7 712.3h11.3v1.5h-11.3zM240.7 738.0h11.3v1.8h-11.3zM240.7 782.5h11.3v1.8h-11.3z"/><path fill="#2424f0" d="M240.7 389.5h11.3v1.5h-11.3zM240.7 393.0h11.3v2.4h-11.3zM240.7 499.7h11.3v2.4h-11.3zM240.7 559.3h11.3v1.8h-11.3zM240.7 568.5h11.3v1.8h-11.3zM240.7 594.1h11.3v2.0h-11.3zM240.7 635.0h11.3v1.8h-11.3zM240.7 743.0h11.3v1.5h-11.3zM240.7 766.0h11.3v2.0h-11.3z"/><path fill="#0606f0" d="M240.7 410.5h11.3v1.2h-11.3zM240.7 461.2h11.3v1.8h-11.3zM240.7 539.8h11.3v2.4h-11.3zM240.7 554.6h11.3v1.2h-11.3zM240.7 555.8h11.3v1.5h-11.3zM240.7 562.9h11.3v1.2h-11.3zM240.7 619.7h11.3v1.5h-11.3zM240.7 674.6h11.3v1.2h-11.3zM240.7 701.5h11.3v1.2h-11.3z"/><path fill="#1e1ef0" d="M240.7 416.5h11.3v2.0h-11.3zM240.7 475.7h11.3v1.8h-11.3zM240.7 497.6h11.3v1.5h-11.3zM240.7 514.6h11.3v1.5h-11.3zM240.7 530.3h11.3v1.2h-11.3zM240.7 602.1h11.3v1.5h-11.3zM240.7 736.5h11.3v1.5h-11.3zM240.7 758.9h11.3v2.0h-11.3zM240.7 786.1h11.3v1.8h-11.3z"/><path fill="#0000f0" d="M240.7 443.2h11.3v1.2h-11.3zM240.7 446.8h11.3v2.4h-11.3zM240.7 472.5h11.3v2.0h-11.3zM240.7 491.7h11.3v1.5h-11.3zM240.7 502.1h11.3v0.4h-11.3zM240.7 502.5h11.3v0.5h-11.3zM240.7 552.6h11.3v2.0h-11.3zM240.7 741.0h11.3v2.0h-11.3zM240.7 802.4h11.3v1.5h-11.3z"/><path fill="#1818f0" d="M240.7 467.7h11.3v1.8h-11.3zM240.7 474.5h11.3v1.2h-11.3zM240.7 561.1h11.3v1.8h-11.3zM240.7 636.8h11.3v1.8h-11.3zM240.7 703.9h11.3v1.8h-11.3zM240.7 713.8h11.3v1.5h-11.3zM240.7 756.5h11.3v2.4h-11.3zM240.7 763.3h11.3v1.2h-11.3zM240.7 793.7h11.3v1.5h-11.3z"/><path fill="#fcd8d8" d="M59.7 904.7h11.1v1.5h-11.1zM59.7 906.6h11.1v1.8h-11.1zM59.7 917.3h11.1v2.0h-11.1zM59.7 919.3h11.1v1.5h-11.1zM59.7 924.7h11.1v2.0h-11.1zM59.7 926.7h11.1v1.8h-11.1zM59.7 934.5h11.1v1.8h-11.1zM59.7 943.2h11.1v1.5h-11.1zM59.7 944.7h11.1v1.5h-11.1zM59.7 946.2h11.1v2.0h-11.1zM59.7 957.8h11.1v2.4h-11.1zM59.7 964.4h11.1v1.5h-11.1zM59.7 965.9h11.1v1.2h-11.1zM59.7 967.1h11.1v1.8h-11.1zM59.7 968.9h11.1v1.8h-11.1zM59.7 974.2h11.1v1.5h-11.1zM59.7 980.9h11.1v2.0h-11.1zM59.7 992.6h11.1v2.4h-11.1zM59.7 995.0h11.1v2.0h-11.1z"/><path fill="#fcaeae" d="M59.7 908.8h11.1v2.0h-11.1zM59.7 920.8h11.1v1.5h-11.1zM59.7 930.9h11.1v1.5h-11.1zM59.7 960.2h11.1v1.8h-11.1zM59.7 997.0h11.1v2.0h-11.1zM59.7 1005.9h11.1v1.8h-11.1z"/><path fill="#fcb4b4" d="M59.7 910.8h11.1v1.8h-11.1zM59.7 914.1h11.1v2.0h-11.1zM59.7 916.1h11.1v1.2h-11.1zM59.7 955.8h11.1v2.0h-11.1zM59.7 1011.6h11.1v2.0h-11.1z"/><path fill="#fcd2d2" d="M59.7 912.6h11.1v1.5h-11.1zM59.7 922.3h11.1v2.4h-11.1zM59.7 928.5h11.1v1.8h-11.1zM59.7 937.8h11.1v2.4h-11.1zM59.7 940.2h11.1v1.2h-11.1zM59.7 941.4h11.1v1.8h-11.1zM59.7 950.6h11.1v2.0h-11.1zM59.7 952.6h11.1v2.4h-11.1zM59.7 962.0h11.1v1.8h-11.1zM59.7 970.7h11.1v1.2h-11.1zM59.7 979.7h11.1v1.2h-11.1zM59.7 983.3h11.1v1.5h-11.1zM59.7 987.2h11.1v1.5h-11.1zM59.7 999.0h11.1v1.5h-11.1zM59.7 1000.5h11.1v1.8h-11.1zM59.7 1002.3h11.1v1.2h-11.1zM59.7 1003.5h11.1v1.2h-11.1zM59.7 1004.7h11.1v1.2h-11.1zM59.7 1007.7h11.1v2.4h-11.1zM59.7 1010.1h11.1v1.5h-11.1zM59.7 1013.6h11.1v1.1h-11.1z"/><path fill="#f6a8a8" d="M59.7 932.4h11.1v1.5h-11.1zM59.7 948.2h11.1v1.2h-11.1zM59.7 949.4h11.1v1.2h-11.1zM59.7 972.7h11.1v1.5h-11.1zM59.7 976.1h11.1v1.8h-11.1zM59.7 977.9h11.1v1.8h-11.1zM59.7 984.8h11.1v2.4h-11.1zM59.7 988.7h11.1v1.5h-11.1z"/><path fill="#f6a2a2" d="M59.7 936.3h11.1v1.5h-11.1zM59.7 990.2h11.1v2.4h-11.1z"/><path fill="#f6a8a8" d="M21.3 58.0h10.9v1.5h-10.9zM21.3 67.3h10.9v1.8h-10.9zM21.3 69.1h10.9v1.5h-10.9zM21.3 70.6h10.9v2.0h-10.9zM21.3 72.6h10.9v1.2h-10.9zM21.3 84.3h10.9v2.4h-10.9zM21.3 93.7h10.9v2.0h-10.9zM34.2 76.8h10.8v1.5h-10.8zM34.2 96.2h10.8v1.5h-10.8zM34.2 99.5h10.8v1.8h-10.8zM73.5 234.2h10.7v1.5h-10.7zM73.5 235.7h10.7v1.0h-10.7zM150.2 216.7h11.0v2.0h-11.0zM150.2 219.3h11.0v2.4h-11.0zM215.6 86.7h10.7v2.4h-10.7zM215.6 187.4h10.7v1.5h-10.7zM215.6 188.9h10.7v1.1h-10.7zM227.5 172.6h10.9v0.7h-10.9zM253.8 157.0h10.7v1.2h-10.7zM267.2 169.2h10.7v2.4h-10.7zM293.0 116.2h10.6v1.3h-10.6zM318.7 86.0h10.6v0.7h-10.6zM21.3 388.3h10.9v0.9h-10.9zM73.5 365.0h10.4v1.7h-10.4zM21.3 551.2h10.9v0.5h-10.9zM73.5 530.0h10.4v1.2h-10.4zM85.5 602.4h10.3v1.8h-10.3zM85.5 604.2h10.3v0.8h-10.3zM47.3 681.7h10.8v1.2h-10.8zM47.3 682.9h10.8v1.8h-10.8zM47.3 684.7h10.8v0.3h-10.8zM59.8 681.0h10.7v2.4h-10.7zM59.8 683.4h10.7v1.2h-10.7zM59.8 685.8h10.7v0.9h-10.7zM59.8 786.0h10.7v2.0h-10.7zM59.8 788.0h10.7v0.3h-10.7zM85.5 706.7h10.3v2.0h-10.3zM99.2 350.4h10.5v1.5h-10.5zM99.2 445.0h10.5v1.5h-10.5zM99.2 449.7h10.5v1.1h-10.5zM99.2 478.3h10.5v2.0h-10.5zM125.6 354.8h10.5v1.2h-10.5zM125.6 356.0h10.5v2.0h-10.5zM125.6 396.7h10.5v2.0h-10.5zM137.6 355.0h10.6v1.5h-10.6zM163.2 433.9h10.1v0.3h-10.1zM99.2 519.2h10.5v1.8h-10.5zM99.2 556.5h10.5v1.0h-10.5zM99.2 564.3h10.5v0.7h-10.5zM111.6 519.5h10.7v2.4h-10.7zM125.6 516.7h10.5v2.0h-10.5zM125.6 561.9h10.5v1.5h-10.5zM125.6 647.0h10.5v1.5h-10.5zM125.6 654.7h10.5v0.3h-10.5zM151.5 601.4h10.4v2.0h-10.4zM151.5 630.8h10.4v2.4h-10.4zM163.2 509.5h10.1v2.2h-10.1zM163.2 559.0h10.1v0.2h-10.1zM99.2 755.0h10.5v1.5h-10.5zM99.2 786.7h10.5v1.7h-10.5zM111.6 661.7h10.7v1.5h-10.7zM111.6 680.0h10.7v1.2h-10.7zM111.6 682.7h10.7v1.2h-10.7zM111.6 711.7h10.7v1.8h-10.7zM111.6 785.3h10.7v1.2h-10.7zM125.6 661.7h10.5v1.7h-10.5zM125.6 740.8h10.5v2.0h-10.5zM151.5 783.2h10.4v1.8h-10.4zM214.8 613.3h11.0v2.4h-11.0zM176.0 720.8h10.8v1.5h-10.8zM176.0 749.2h10.8v2.4h-10.8zM34.2 905.5h8.9v2.0h-8.9zM59.7 923.3h11.1v2.4h-11.1zM59.7 925.7h11.1v1.4h-11.1zM59.7 928.8h11.1v2.4h-11.1zM59.7 940.2h11.1v1.2h-11.1zM59.7 941.4h11.1v2.4h-11.1zM59.7 951.3h11.1v0.8h-11.1zM59.7 981.0h11.1v0.4h-11.1zM59.7 983.8h11.1v2.0h-11.1zM59.7 993.8h11.1v2.0h-11.1zM73.0 915.5h10.8v2.4h-10.8zM73.0 924.9h10.8v1.5h-10.8zM73.0 932.7h10.8v1.5h-10.8zM73.0 935.7h10.8v2.4h-10.8zM73.0 965.7h10.8v2.4h-10.8zM73.0 973.7h10.8v1.5h-10.8zM73.0 978.8h10.8v1.2h-10.8zM73.0 980.0h10.8v2.0h-10.8zM73.0 997.3h10.8v1.8h-10.8zM73.0 1008.0h10.8v1.2h-10.8zM73.0 1009.2h10.8v1.8h-10.8zM73.0 1011.0h10.8v1.2h-10.8zM73.0 1012.2h10.8v1.8h-10.8zM201.7 927.0h11.3v2.4h-11.3zM201.7 932.4h11.3v1.8h-11.3zM201.7 953.1h11.3v2.4h-11.3zM201.7 1090.0h11.3v1.2h-11.3zM201.7 1145.8h11.3v2.0h-11.3zM201.7 1175.0h11.3v2.4h-11.3z"/><path fill="#f67878" d="M21.3 59.5h10.9v2.4h-10.9zM21.3 86.7h10.9v0.8h-10.9zM34.2 58.0h10.8v2.0h-10.8zM34.2 60.0h10.8v1.8h-10.8zM34.2 82.5h10.8v2.4h-10.8zM34.2 95.0h10.8v1.2h-10.8zM215.6 89.1h10.7v0.9h-10.7zM215.6 158.7h10.7v0.5h-10.7zM241.6 79.8h10.6v0.2h-10.6zM356.8 78.3h10.9v1.7h-10.9zM85.5 427.5h10.3v2.4h-10.3zM73.5 610.3h10.4v1.4h-10.4zM59.8 784.8h10.7v1.2h-10.7zM99.2 448.5h10.5v1.2h-10.5zM111.6 352.6h10.7v0.7h-10.7zM99.2 745.8h10.5v1.2h-10.5zM111.6 787.7h10.7v0.6h-10.7zM125.6 677.5h10.5v1.5h-10.5zM125.6 680.8h10.5v0.9h-10.5zM151.5 770.0h10.4v1.8h-10.4zM151.5 771.8h10.4v1.5h-10.4zM176.0 483.3h10.8v1.7h-10.8zM202.6 537.5h10.7v1.2h-10.7zM176.0 788.3h10.8v1.7h-10.8zM59.7 962.2h11.1v2.0h-11.1zM73.0 923.7h10.8v1.2h-10.8zM73.0 928.8h10.8v1.5h-10.8zM73.0 939.3h10.8v2.0h-10.8zM73.0 964.2h10.8v1.5h-10.8zM73.0 993.8h10.8v2.0h-10.8zM73.0 1006.8h10.8v1.2h-10.8zM175.8 915.6h11.2v1.5h-11.2zM201.7 951.3h11.3v1.8h-11.3zM201.7 956.1h11.3v0.2h-11.3zM201.7 1104.2h11.3v1.2h-11.3zM201.7 1164.7h11.3v0.3h-11.3z"/><path fill="#f67e7e" d="M21.3 62.5h10.9v1.2h-10.9zM21.3 64.9h10.9v2.4h-10.9zM34.2 67.7h10.8v1.5h-10.8zM34.2 85.3h10.8v2.0h-10.8zM60.0 76.7h11.0v1.8h-11.0zM215.6 67.5h10.7v1.5h-10.7zM215.6 157.5h10.7v1.2h-10.7zM293.0 114.2h10.6v2.0h-10.6zM73.5 605.0h10.4v1.5h-10.4zM59.8 783.3h10.7v1.5h-10.7zM99.2 446.5h10.5v2.0h-10.5zM99.2 480.3h10.5v2.4h-10.5zM125.6 550.0h10.5v1.7h-10.5zM99.2 740.8h10.5v2.0h-10.5zM99.2 747.0h10.5v0.5h-10.5zM111.6 683.9h10.7v0.3h-10.7zM202.6 538.7h10.7v1.8h-10.7zM266.5 702.6h10.8v1.8h-10.8zM59.7 974.7h11.1v1.8h-11.1zM59.7 995.8h11.1v1.5h-11.1zM59.7 999.7h11.1v0.8h-11.1zM73.0 938.1h10.8v1.2h-10.8zM73.0 950.8h10.8v2.0h-10.8zM73.0 968.1h10.8v1.8h-10.8zM73.0 995.8h10.8v1.5h-10.8z"/><path fill="#f67272" d="M21.3 63.7h10.9v1.2h-10.9zM34.2 63.3h10.8v2.4h-10.8zM34.2 74.4h10.8v2.4h-10.8zM34.2 87.3h10.8v1.0h-10.8zM34.2 93.7h10.8v0.5h-10.8zM60.0 117.0h11.0v0.5h-11.0zM175.8 88.3h10.9v1.7h-10.9zM241.6 78.3h10.6v1.5h-10.6zM73.5 421.7h10.4v1.7h-10.4zM111.6 398.3h10.7v2.4h-10.7zM137.6 400.8h10.6v1.2h-10.6zM125.6 648.5h10.5v2.0h-10.5zM99.2 773.3h10.5v1.2h-10.5zM111.6 783.3h10.7v2.0h-10.7zM111.6 786.5h10.7v1.2h-10.7zM125.6 765.0h10.5v1.5h-10.5zM125.6 766.5h10.5v1.0h-10.5zM214.8 615.7h11.0v0.9h-11.0zM59.7 1005.5h11.1v1.5h-11.1zM73.0 914.3h10.8v1.2h-10.8zM73.0 930.3h10.8v2.4h-10.8zM201.7 911.5h11.3v1.5h-11.3zM201.7 931.2h11.3v1.2h-11.3zM34.2 1179.2h8.9v1.8h-8.9zM201.7 1163.2h11.3v1.5h-11.3z"/><path fill="#fcaeae" d="M21.3 74.2h10.9v1.2h-10.9zM21.3 82.5h10.9v1.8h-10.9zM21.3 91.3h10.9v1.2h-10.9zM34.2 69.2h10.8v2.4h-10.8zM34.2 101.3h10.8v1.8h-10.8zM60.0 65.8h11.0v2.4h-11.0zM175.8 202.8h10.9v0.5h-10.9zM215.6 185.0h10.7v2.4h-10.7zM241.6 168.3h10.6v2.4h-10.6zM241.6 170.7h10.6v0.1h-10.6zM253.8 155.0h10.7v2.0h-10.7zM293.0 226.7h10.6v1.5h-10.6zM318.7 84.2h10.6v1.8h-10.6zM21.3 385.0h10.9v1.5h-10.9zM85.5 429.9h10.3v0.1h-10.3zM59.8 684.6h10.7v1.2h-10.7zM73.5 662.9h10.4v0.5h-10.4zM85.5 708.7h10.3v1.3h-10.3zM99.2 364.9h10.5v0.9h-10.5zM99.2 398.3h10.5v2.0h-10.5zM99.2 400.3h10.5v2.2h-10.5zM99.2 410.0h10.5v1.2h-10.5zM99.2 482.7h10.5v0.6h-10.5zM125.6 349.2h10.5v1.2h-10.5zM125.6 360.8h10.5v2.4h-10.5zM125.6 389.0h10.5v1.2h-10.5zM125.6 390.2h10.5v0.6h-10.5zM125.6 480.3h10.5v1.3h-10.5zM125.6 491.7h10.5v2.0h-10.5zM137.6 356.5h10.6v0.2h-10.6zM137.6 426.7h10.6v1.5h-10.6zM151.5 430.7h10.4v2.0h-10.4zM99.2 553.3h10.5v2.4h-10.5zM125.6 519.5h10.5v2.0h-10.5zM125.6 524.7h10.5v0.3h-10.5zM151.5 598.7h10.4v1.5h-10.4zM151.5 633.2h10.4v0.1h-10.4zM163.2 507.5h10.1v1.2h-10.1zM99.2 756.5h10.5v1.8h-10.5zM99.2 774.5h10.5v1.3h-10.5zM111.6 768.7h10.7v0.5h-10.7zM125.6 690.0h10.5v2.4h-10.5zM125.6 692.4h10.5v0.1h-10.5zM151.5 781.2h10.4v2.0h-10.4zM163.2 685.8h10.1v1.2h-10.1zM176.0 476.7h10.8v1.2h-10.8zM176.0 754.0h10.8v1.0h-10.8zM214.8 725.0h11.0v2.0h-11.0zM266.5 649.0h10.8v1.2h-10.8zM266.5 741.2h10.8v0.9h-10.8zM266.5 776.2h10.8v0.7h-10.8zM21.3 947.3h10.9v0.7h-10.9zM34.2 907.5h8.9v2.2h-8.9zM59.7 933.6h11.1v0.2h-11.1zM59.7 979.5h11.1v1.5h-11.1zM73.0 910.1h10.8v2.4h-10.8zM73.0 917.9h10.8v1.2h-10.8zM73.0 919.1h10.8v1.2h-10.8zM73.0 934.2h10.8v1.5h-10.8zM73.0 952.8h10.8v1.8h-10.8zM73.0 957.3h10.8v1.2h-10.8zM73.0 969.9h10.8v1.8h-10.8zM73.0 972.5h10.8v1.2h-10.8zM189.7 1027.9h10.5v0.1h-10.5zM201.7 929.4h11.3v1.8h-11.3zM227.5 912.2h10.8v1.2h-10.8zM21.3 1091.7h10.9v1.8h-10.9zM201.7 1066.7h11.3v1.7h-11.3zM201.7 1091.2h11.3v0.5h-11.3zM201.7 1132.4h11.3v0.9h-11.3zM201.7 1151.0h11.3v0.6h-11.3z"/><path fill="#f68a8a" d="M21.3 75.4h10.9v2.0h-10.9zM60.0 108.4h11.0v1.6h-11.0zM111.6 371.2h10.7v0.5h-10.7zM125.6 645.0h10.5v2.0h-10.5zM99.2 742.8h10.5v0.5h-10.5zM111.6 759.2h10.7v1.6h-10.7zM254.5 475.5h10.3v1.6h-10.3zM254.5 776.0h10.3v1.2h-10.3zM46.7 922.5h10.9v1.6h-10.9zM73.0 941.3h10.8v2.0h-10.8zM73.0 986.6h10.8v1.5h-10.8zM73.0 1005.0h10.8v1.8h-10.8zM124.8 978.9h10.9v1.6h-10.9zM150.3 960.5h9.5v1.6h-9.5zM201.7 1106.2h11.3v0.5h-11.3z"/><path fill="#f6a2a2" d="M21.3 77.4h10.9v0.9h-10.9zM48.2 225.9h10.8v1.6h-10.8zM73.5 163.3h10.7v1.8h-10.7zM85.6 206.5h10.9v1.6h-10.9zM124.5 79.2h10.8v1.6h-10.8zM150.2 72.5h11.0v1.6h-11.0zM241.6 155.0h10.6v1.6h-10.6zM241.6 205.0h10.6v1.6h-10.6zM293.0 187.0h10.6v1.3h-10.6zM370.2 204.2h10.8v1.6h-10.8zM21.3 386.5h10.9v1.8h-10.9zM21.3 549.2h10.9v2.0h-10.9zM73.5 661.7h10.4v1.2h-10.4zM99.2 362.5h10.5v2.4h-10.5zM111.6 369.2h10.7v2.0h-10.7zM151.5 380.9h10.4v1.6h-10.4zM125.6 521.5h10.5v2.4h-10.5zM125.6 650.5h10.5v2.4h-10.5zM111.6 681.2h10.7v1.5h-10.7zM111.6 714.3h10.7v0.7h-10.7zM151.5 678.3h10.4v1.7h-10.4zM151.5 687.3h10.4v1.8h-10.4zM176.0 439.2h10.8v1.6h-10.8zM202.6 717.5h10.7v1.6h-10.7zM214.8 778.9h11.0v1.6h-11.0zM266.5 650.2h10.8v0.1h-10.8zM266.5 774.7h10.8v1.5h-10.8zM73.0 904.7h10.8v1.5h-10.8zM73.0 982.0h10.8v1.2h-10.8zM189.7 1025.5h10.5v2.4h-10.5zM201.7 917.2h11.3v1.6h-11.3zM34.2 1133.4h8.9v1.6h-8.9zM59.7 1113.0h11.1v1.6h-11.1zM201.7 1075.0h11.3v1.3h-11.3z"/><path fill="#f03636" d="M21.3 79.2h10.9v1.6h-10.9zM34.2 79.2h10.8v1.6h-10.8zM60.0 100.0h11.0v1.6h-11.0zM331.0 235.9h10.8v1.6h-10.8zM73.5 444.2h10.4v1.6h-10.4zM137.6 378.3h10.6v1.8h-10.6zM99.2 713.2h10.5v1.5h-10.5zM99.2 802.9h10.5v1.6h-10.5zM202.6 475.0h10.7v1.6h-10.7zM176.0 717.5h10.8v1.6h-10.8zM254.5 544.7h10.3v1.3h-10.3zM59.7 931.2h11.1v2.4h-11.1zM73.0 922.2h10.8v1.6h-10.8zM73.0 949.7h10.8v1.6h-10.8zM138.2 975.9h10.8v1.3h-10.8zM189.7 980.5h10.5v1.6h-10.5zM201.7 904.7h11.3v1.6h-11.3z"/><path fill="#f04242" d="M21.3 92.5h10.9v1.2h-10.9zM21.3 101.7h10.9v1.6h-10.9zM370.2 174.2h10.8v1.6h-10.8zM21.3 750.0h10.9v1.6h-10.9zM85.5 674.5h10.3v1.6h-10.3zM125.6 381.1h10.5v0.6h-10.5zM99.2 644.2h10.5v1.6h-10.5zM137.6 543.4h10.6v1.6h-10.6zM99.2 714.7h10.5v0.3h-10.5zM176.0 593.4h10.8v1.3h-10.8zM124.8 920.0h10.9v1.3h-10.9zM138.2 991.7h10.8v1.3h-10.8zM201.7 964.7h11.3v1.6h-11.3zM215.0 1109.5h10.8v1.3h-10.8z"/><path fill="#fcb4b4" d="M21.3 95.7h10.9v2.4h-10.9zM34.2 150.0h10.8v1.6h-10.8zM34.2 189.2h10.8v1.6h-10.8zM60.0 72.5h11.0v0.9h-11.0zM60.0 78.5h11.0v0.7h-11.0zM60.0 217.5h11.0v1.6h-11.0zM73.5 76.7h10.7v1.6h-10.7zM73.5 89.2h10.7v1.6h-10.7zM85.6 132.5h10.9v1.6h-10.9zM99.6 79.2h10.6v1.6h-10.6zM99.6 224.2h10.6v1.6h-10.6zM111.8 214.2h11.0v1.6h-11.0zM138.4 164.2h10.8v1.6h-10.8zM164.2 169.2h10.5v1.6h-10.5zM164.2 186.7h10.5v1.6h-10.5zM164.2 206.7h10.5v1.6h-10.5zM164.2 220.0h10.5v1.6h-10.5zM175.8 187.5h10.9v1.6h-10.9zM189.7 201.7h10.7v1.6h-10.7zM201.7 66.7h11.3v1.6h-11.3zM227.5 170.0h10.9v1.8h-10.9zM241.6 130.0h10.6v1.7h-10.6zM241.6 174.2h10.6v1.6h-10.6zM253.8 137.5h10.7v1.6h-10.7zM253.8 158.2h10.7v1.8h-10.7zM253.8 225.9h10.7v1.6h-10.7zM253.8 234.2h10.7v1.6h-10.7zM267.2 82.5h10.7v1.6h-10.7zM267.2 171.6h10.7v0.1h-10.7zM267.2 215.0h10.7v1.6h-10.7zM293.0 185.0h10.6v2.0h-10.6zM304.7 145.0h10.9v1.6h-10.9zM73.5 410.0h10.4v1.6h-10.4zM73.5 454.2h10.4v1.6h-10.4zM73.5 531.2h10.4v0.5h-10.4zM99.2 411.8h10.5v0.7h-10.5zM125.6 352.2h10.5v1.8h-10.5zM125.6 399.1h10.5v0.9h-10.5zM125.6 405.9h10.5v1.6h-10.5zM137.6 402.0h10.6v2.0h-10.6zM137.6 428.2h10.6v0.1h-10.6zM151.5 401.7h10.4v1.6h-10.4zM163.2 482.6h10.1v0.7h-10.1zM99.2 545.9h10.5v1.6h-10.5zM99.2 562.5h10.5v1.8h-10.5zM111.6 518.3h10.7v1.2h-10.7zM111.6 563.4h10.7v1.6h-10.7zM125.6 563.4h10.5v1.6h-10.5zM125.6 638.4h10.5v1.6h-10.5zM137.6 560.9h10.6v1.6h-10.6zM151.5 603.4h10.4v1.2h-10.4zM99.2 700.9h10.5v1.6h-10.5zM99.2 727.9h10.5v2.4h-10.5zM99.2 730.3h10.5v2.4h-10.5zM99.2 733.1h10.5v2.4h-10.5zM99.2 735.5h10.5v2.0h-10.5zM111.6 671.7h10.7v1.6h-10.7zM125.6 742.8h10.5v1.8h-10.5zM163.2 687.0h10.1v1.3h-10.1zM214.8 436.7h11.0v1.6h-11.0zM214.8 496.7h11.0v1.6h-11.0zM176.0 506.7h10.8v1.6h-10.8zM202.6 546.7h10.7v1.6h-10.7zM202.6 612.5h10.7v1.6h-10.7zM214.8 525.0h11.0v1.6h-11.0zM202.6 779.2h10.7v1.3h-10.7zM254.5 487.4h10.3v1.6h-10.3zM266.5 476.4h10.8v1.6h-10.8zM254.5 671.5h10.3v1.6h-10.3zM254.5 701.8h10.3v1.6h-10.3zM266.5 773.2h10.8v1.5h-10.8zM21.3 997.2h10.9v1.6h-10.9zM21.3 1015.5h10.9v1.6h-10.9zM34.2 963.0h8.9v1.6h-8.9zM34.2 967.2h8.9v1.6h-8.9zM46.7 969.7h10.9v1.6h-10.9zM46.7 980.5h10.9v1.6h-10.9zM59.7 921.3h11.1v2.0h-11.1zM59.7 937.8h11.1v2.4h-11.1zM59.7 997.9h11.1v1.8h-11.1zM59.7 1007.4h11.1v0.6h-11.1zM73.0 908.1h10.8v2.0h-10.8zM73.0 926.4h10.8v2.4h-10.8zM73.0 943.3h10.8v2.4h-10.8zM73.0 977.0h10.8v1.8h-10.8zM73.0 983.6h10.8v1.2h-10.8zM73.0 1014.0h10.8v0.7h-10.8zM99.0 944.7h10.8v1.6h-10.8zM99.0 968.0h10.8v1.6h-10.8zM124.8 938.5h10.9v1.6h-10.9zM150.3 1031.4h9.5v1.6h-9.5zM163.0 905.5h11.2v1.6h-11.2zM189.7 954.7h10.5v1.6h-10.5zM189.7 983.9h10.5v1.6h-10.5zM227.5 928.9h10.8v1.6h-10.8zM21.3 1157.5h10.9v1.6h-10.9zM34.2 1181.4h8.9v0.3h-8.9zM73.0 1113.4h10.8v1.6h-10.8zM73.0 1118.4h10.8v1.6h-10.8zM86.5 1172.5h10.5v1.6h-10.5zM163.0 1106.7h11.2v1.6h-11.2zM175.8 1180.9h11.2v1.6h-11.2zM189.7 1074.2h10.5v1.6h-10.5zM201.7 1085.0h11.3v1.3h-11.3zM201.7 1120.9h11.3v1.6h-11.3zM201.7 1177.4h11.3v2.4h-11.3zM201.7 1180.2h11.3v1.5h-11.3zM215.0 1119.2h10.8v1.6h-10.8zM227.5 1085.3h10.8v1.3h-10.8z"/><path fill="#fcd8d8" d="M21.3 105.0h10.9v1.6h-10.9zM34.2 114.2h10.8v1.6h-10.8zM34.2 219.2h10.8v1.6h-10.8zM34.2 224.2h10.8v1.6h-10.8zM48.2 124.2h10.8v1.6h-10.8zM60.0 61.7h11.0v1.8h-11.0zM60.0 111.7h11.0v1.6h-11.0zM60.0 130.9h11.0v1.6h-11.0zM60.0 170.9h11.0v1.6h-11.0zM60.0 195.9h11.0v1.6h-11.0zM60.0 220.9h11.0v1.6h-11.0zM73.5 145.9h10.7v1.6h-10.7zM73.5 165.1h10.7v1.5h-10.7zM73.5 210.9h10.7v1.6h-10.7zM85.6 99.2h10.9v1.6h-10.9zM85.6 197.5h10.9v1.6h-10.9zM85.6 230.9h10.9v1.6h-10.9zM99.6 108.4h10.6v1.6h-10.6zM111.8 94.2h11.0v1.6h-11.0zM111.8 111.7h11.0v1.6h-11.0zM150.2 99.2h11.0v1.6h-11.0zM164.2 142.5h10.5v1.6h-10.5zM164.2 214.2h10.5v1.6h-10.5zM175.8 93.4h10.9v1.6h-10.9zM175.8 169.2h10.9v1.6h-10.9zM175.8 174.2h10.9v1.6h-10.9zM175.8 200.8h10.9v2.0h-10.9zM175.8 220.9h10.9v1.6h-10.9zM189.7 187.5h10.7v1.6h-10.7zM189.7 191.7h10.7v1.6h-10.7zM189.7 207.5h10.7v1.6h-10.7zM189.7 212.5h10.7v1.6h-10.7zM201.7 220.9h11.3v1.6h-11.3zM227.5 89.2h10.9v1.6h-10.9zM241.6 137.5h10.6v1.6h-10.6zM253.8 144.2h10.7v1.6h-10.7zM253.8 194.2h10.7v1.6h-10.7zM267.2 182.5h10.7v1.6h-10.7zM279.3 77.5h10.9v1.6h-10.9zM279.3 178.4h10.9v1.6h-10.9zM293.0 64.2h10.6v1.6h-10.6zM293.0 145.9h10.6v1.6h-10.6zM293.0 164.2h10.6v1.6h-10.6zM331.0 200.9h10.8v1.6h-10.8zM331.0 216.7h10.8v1.6h-10.8zM344.5 111.7h10.7v1.6h-10.7zM356.8 105.9h10.9v1.6h-10.9zM356.8 150.9h10.9v1.6h-10.9zM356.8 215.0h10.9v1.6h-10.9zM382.7 92.5h10.9v1.6h-10.9zM21.3 440.0h10.9v1.6h-10.9zM21.3 452.5h10.9v1.6h-10.9zM21.3 497.5h10.9v1.6h-10.9zM59.8 409.2h10.7v1.6h-10.7zM85.5 464.2h10.3v1.6h-10.3zM21.3 515.4h10.9v0.5h-10.9zM21.3 531.7h10.9v1.8h-10.9zM21.3 534.1h10.9v0.1h-10.9zM21.3 590.8h10.9v1.7h-10.9zM21.3 655.9h10.9v1.6h-10.9zM59.8 642.5h10.7v1.6h-10.7zM73.5 522.5h10.4v1.6h-10.4zM73.5 645.9h10.4v1.6h-10.4zM21.3 690.0h10.9v1.6h-10.9zM47.3 704.2h10.8v1.6h-10.8zM47.3 725.0h10.8v1.8h-10.8zM59.8 714.2h10.7v1.6h-10.7zM59.8 730.0h10.7v1.6h-10.7zM59.8 769.2h10.7v1.6h-10.7zM59.8 797.5h10.7v1.6h-10.7zM73.5 800.9h10.4v1.6h-10.4zM85.5 800.9h10.3v1.6h-10.3zM99.2 349.2h10.5v1.2h-10.5zM99.2 351.9h10.5v1.5h-10.5zM99.2 353.4h10.5v0.8h-10.5zM99.2 369.9h10.5v0.1h-10.5zM99.2 422.0h10.5v1.2h-10.5zM99.2 434.6h10.5v1.2h-10.5zM111.6 373.4h10.7v1.6h-10.7zM111.6 413.3h10.7v2.0h-10.7zM111.6 415.3h10.7v1.3h-10.7zM111.6 425.9h10.7v1.6h-10.7zM125.6 350.4h10.5v1.8h-10.5zM125.6 387.5h10.5v1.5h-10.5zM125.6 478.3h10.5v2.0h-10.5zM125.6 496.1h10.5v2.3h-10.5zM137.6 385.9h10.6v1.6h-10.6zM137.6 422.5h10.6v2.4h-10.6zM151.5 355.9h10.4v1.6h-10.4zM151.5 384.2h10.4v1.6h-10.4zM151.5 394.2h10.4v2.0h-10.4zM151.5 429.2h10.4v1.5h-10.4zM151.5 432.7h10.4v1.2h-10.4zM163.2 454.2h10.1v1.6h-10.1zM99.2 521.6h10.5v2.4h-10.5zM99.2 566.7h10.5v1.6h-10.5zM99.2 600.8h10.5v1.5h-10.5zM99.2 602.3h10.5v0.2h-10.5zM99.2 619.5h10.5v2.0h-10.5zM111.6 521.9h10.7v1.4h-10.7zM111.6 555.0h10.7v1.6h-10.7zM125.6 560.7h10.5v1.2h-10.5zM125.6 589.2h10.5v1.6h-10.5zM125.6 630.0h10.5v2.0h-10.5zM151.5 570.9h10.4v1.6h-10.4zM151.5 604.6h10.4v1.2h-10.4zM163.2 557.5h10.1v1.5h-10.1zM163.2 617.5h10.1v1.6h-10.1zM99.2 671.7h10.5v1.2h-10.5zM99.2 706.7h10.5v1.6h-10.5zM99.2 726.7h10.5v1.2h-10.5zM111.6 659.5h10.7v1.8h-10.7zM111.6 663.2h10.7v0.1h-10.7zM111.6 687.5h10.7v1.6h-10.7zM125.6 710.1h10.5v1.5h-10.5zM125.6 720.9h10.5v1.6h-10.5zM137.6 670.9h10.6v1.6h-10.6zM137.6 708.4h10.6v1.6h-10.6zM151.5 689.1h10.4v0.9h-10.4zM151.5 796.7h10.4v2.4h-10.4zM151.5 799.1h10.4v1.2h-10.4zM151.5 800.3h10.4v1.2h-10.4zM176.0 477.9h10.8v2.1h-10.8zM202.6 448.4h10.7v1.6h-10.7zM228.3 428.3h10.7v1.2h-10.7zM228.3 429.5h10.7v1.5h-10.7zM176.0 662.5h10.8v1.6h-10.8zM176.0 679.2h10.8v1.6h-10.8zM176.0 733.4h10.8v1.6h-10.8zM202.6 670.9h10.7v1.6h-10.7zM202.6 731.2h10.7v0.5h-10.7zM202.6 754.2h10.7v1.6h-10.7zM214.8 712.5h11.0v1.6h-11.0zM228.3 735.9h10.7v1.6h-10.7zM266.5 366.2h10.8v1.6h-10.8zM266.5 470.9h10.8v1.6h-10.8zM266.5 546.1h10.8v1.6h-10.8zM266.5 550.7h10.8v1.6h-10.8zM266.5 571.0h10.8v1.5h-10.8zM266.5 572.5h10.8v0.2h-10.8zM266.5 738.4h10.8v2.4h-10.8zM266.5 759.6h10.8v1.6h-10.8zM266.5 771.4h10.8v1.8h-10.8zM266.5 780.7h10.8v1.6h-10.8zM21.3 905.5h10.9v1.8h-10.9zM21.3 907.3h10.9v1.8h-10.9zM21.3 909.1h10.9v0.6h-10.9zM21.3 945.5h10.9v1.8h-10.9zM34.2 916.3h8.9v1.8h-8.9zM34.2 918.1h8.9v1.2h-8.9zM34.2 971.4h8.9v1.6h-8.9zM34.2 1011.4h8.9v1.6h-8.9zM46.7 904.7h10.9v1.6h-10.9zM46.7 988.0h10.9v1.6h-10.9zM46.7 1016.4h10.9v1.6h-10.9zM46.7 1035.5h10.9v1.6h-10.9zM59.7 936.3h11.1v1.5h-11.1zM59.7 947.3h11.1v2.0h-11.1zM59.7 957.8h11.1v1.0h-11.1zM59.7 987.3h11.1v0.7h-11.1zM59.7 1002.2h11.1v1.6h-11.1zM73.0 949.6h10.8v1.2h-10.8zM73.0 954.6h10.8v1.2h-10.8zM73.0 955.8h10.8v1.5h-10.8zM73.0 962.4h10.8v1.8h-10.8zM73.0 975.2h10.8v1.8h-10.8zM73.0 989.3h10.8v1.2h-10.8zM99.0 904.7h10.8v1.6h-10.8zM112.3 975.5h10.9v1.6h-10.9zM124.8 925.5h10.9v1.6h-10.9zM150.3 952.2h9.5v1.6h-9.5zM150.3 1003.9h9.5v1.6h-9.5zM163.0 959.7h11.2v1.6h-11.2zM163.0 970.5h11.2v1.6h-11.2zM189.7 947.2h10.5v1.6h-10.5zM189.7 972.2h10.5v1.6h-10.5zM189.7 992.2h10.5v1.6h-10.5zM201.7 942.2h11.3v1.6h-11.3zM227.5 983.0h10.8v1.6h-10.8zM21.3 1093.9h10.9v0.3h-10.9zM21.3 1140.5h10.9v1.6h-10.9zM34.2 1065.9h8.9v1.6h-8.9zM34.2 1079.2h8.9v1.6h-8.9zM34.2 1099.2h8.9v1.6h-8.9zM34.2 1140.9h8.9v1.6h-8.9zM34.2 1153.9h8.9v1.6h-8.9zM46.7 1091.7h10.9v1.6h-10.9zM59.7 1177.5h11.1v1.6h-11.1zM73.0 1147.5h10.8v1.6h-10.8zM73.0 1173.4h10.8v1.6h-10.8zM86.5 1148.4h10.5v1.6h-10.5zM99.0 1112.5h10.8v1.6h-10.8zM163.0 1177.5h11.2v1.6h-11.2zM201.7 1095.9h11.3v1.6h-11.3zM201.7 1130.0h11.3v2.4h-11.3zM201.7 1147.8h11.3v1.2h-11.3zM201.7 1149.0h11.3v2.0h-11.3zM215.0 1090.9h10.8v1.6h-10.8zM215.0 1129.2h10.8v1.6h-10.8zM215.0 1135.9h10.8v1.6h-10.8z"/><path fill="#a2a2f0" d="M21.3 109.9h10.9v1.6h-10.9zM150.2 126.7h11.0v1.2h-11.0zM164.2 131.7h10.5v1.6h-10.5zM164.2 225.0h10.5v1.6h-10.5zM201.7 114.2h11.3v1.6h-11.3zM267.2 118.2h10.7v1.8h-10.7zM318.7 159.2h10.6v2.4h-10.6zM318.7 210.9h10.6v1.6h-10.6zM356.8 155.9h10.9v1.6h-10.9zM356.8 175.9h10.9v1.6h-10.9zM370.2 160.9h10.8v1.6h-10.8zM34.2 412.5h10.7v1.6h-10.7zM59.8 452.5h10.7v1.6h-10.7zM59.8 487.5h10.7v1.6h-10.7zM21.3 725.9h10.9v1.6h-10.9zM47.3 770.0h10.8v1.3h-10.8zM59.8 733.4h10.7v1.6h-10.7zM59.8 760.9h10.7v1.6h-10.7zM99.2 453.4h10.5v1.6h-10.5zM137.6 450.9h10.6v1.6h-10.6zM151.5 390.9h10.4v1.6h-10.4zM163.2 388.4h10.1v1.6h-10.1zM163.2 463.4h10.1v1.6h-10.1zM111.6 559.2h10.7v1.6h-10.7zM111.6 629.2h10.7v1.6h-10.7zM125.6 580.9h10.5v1.6h-10.5zM151.5 528.4h10.4v1.6h-10.4zM163.2 524.2h10.1v1.6h-10.1zM163.2 549.2h10.1v1.6h-10.1zM99.2 794.7h10.5v1.3h-10.5zM125.6 666.7h10.5v2.0h-10.5zM125.6 748.4h10.5v1.6h-10.5zM137.6 748.4h10.6v1.6h-10.6zM176.0 396.7h10.8v1.6h-10.8zM188.8 391.0h11.0v1.2h-11.0zM188.8 478.4h11.0v1.6h-11.0zM188.8 501.7h11.0v0.8h-11.0zM202.6 561.7h10.7v1.6h-10.7zM214.8 602.5h11.0v1.6h-11.0zM228.3 520.0h10.7v1.6h-10.7zM228.3 523.4h10.7v1.6h-10.7zM228.3 568.4h10.7v1.6h-10.7zM240.7 635.0h11.3v2.4h-11.3zM176.0 777.5h10.8v1.6h-10.8zM228.3 765.0h10.7v1.6h-10.7zM228.3 780.0h10.7v1.6h-10.7zM266.5 379.1h10.8v1.6h-10.8zM21.3 959.7h10.9v1.6h-10.9zM46.7 1012.5h10.9v0.5h-10.9zM86.5 973.8h10.5v1.3h-10.5zM138.2 917.0h10.8v1.3h-10.8zM138.2 1008.8h10.8v1.5h-10.8zM150.3 934.7h9.5v1.6h-9.5zM150.3 1007.2h9.5v1.6h-9.5zM163.0 962.2h11.2v1.6h-11.2zM189.7 911.4h10.5v1.6h-10.5zM189.7 988.9h10.5v1.6h-10.5zM215.0 933.9h10.8v1.6h-10.8zM215.0 958.7h10.8v0.2h-10.8zM227.5 918.0h10.8v1.6h-10.8zM46.7 1061.7h10.9v1.6h-10.9zM46.7 1183.0h10.9v0.8h-10.9zM73.0 1060.0h10.8v1.8h-10.8zM86.5 1110.0h10.5v1.6h-10.5zM112.3 1147.8h10.9v1.5h-10.9zM150.3 1112.5h9.5v1.6h-9.5zM150.3 1129.2h9.5v1.6h-9.5zM150.3 1150.0h9.5v1.3h-9.5zM189.7 1072.5h10.5v1.6h-10.5zM215.0 1062.5h10.8v1.3h-10.8zM215.0 1110.8h10.8v1.3h-10.8zM227.5 1162.3h10.8v1.3h-10.8z"/><path fill="#fcc0c0" d="M21.3 111.9h10.9v1.6h-10.9zM21.3 172.5h10.9v1.6h-10.9zM34.2 111.7h10.8v1.6h-10.8zM48.2 67.5h10.8v1.6h-10.8zM48.2 70.9h10.8v1.6h-10.8zM48.2 121.7h10.8v1.6h-10.8zM60.0 89.2h11.0v1.3h-11.0zM60.0 140.0h11.0v1.6h-11.0zM60.0 160.9h11.0v1.6h-11.0zM60.0 233.4h11.0v1.6h-11.0zM73.5 215.0h10.7v1.6h-10.7zM85.6 162.5h10.9v1.6h-10.9zM99.6 210.9h10.6v1.6h-10.6zM111.8 72.5h11.0v1.6h-11.0zM111.8 87.5h11.0v1.6h-11.0zM111.8 229.2h11.0v1.6h-11.0zM150.2 96.7h11.0v1.6h-11.0zM164.2 74.2h10.5v1.6h-10.5zM164.2 94.2h10.5v1.6h-10.5zM175.8 65.0h10.9v1.6h-10.9zM175.8 77.5h10.9v1.6h-10.9zM175.8 84.2h10.9v1.6h-10.9zM175.8 111.7h10.9v1.6h-10.9zM175.8 152.5h10.9v1.6h-10.9zM175.8 164.2h10.9v1.6h-10.9zM201.7 169.2h11.3v1.6h-11.3zM201.7 177.0h11.3v1.3h-11.3zM215.6 74.2h10.7v1.6h-10.7zM215.6 107.5h10.7v1.6h-10.7zM215.6 145.0h10.7v1.6h-10.7zM215.6 150.9h10.7v1.6h-10.7zM215.6 215.9h10.7v1.6h-10.7zM227.5 100.0h10.9v1.6h-10.9zM227.5 162.5h10.9v1.6h-10.9zM227.5 205.9h10.9v1.6h-10.9zM227.5 215.9h10.9v1.6h-10.9zM241.6 72.5h10.6v1.6h-10.6zM241.6 195.9h10.6v1.6h-10.6zM253.8 89.2h10.7v1.6h-10.7zM253.8 118.4h10.7v1.6h-10.7zM318.7 89.2h10.6v1.6h-10.6zM318.7 203.4h10.6v1.6h-10.6zM356.8 63.4h10.9v1.6h-10.9zM356.8 230.9h10.9v1.6h-10.9zM370.2 140.9h10.8v1.6h-10.8zM21.3 408.4h10.9v1.6h-10.9zM59.8 401.7h10.7v1.6h-10.7zM73.5 459.2h10.4v1.6h-10.4zM21.3 573.4h10.9v1.6h-10.9zM21.3 730.9h10.9v1.6h-10.9zM21.3 786.7h10.9v1.6h-10.9zM47.3 782.5h10.8v1.6h-10.8zM59.8 754.2h10.7v1.6h-10.7zM73.5 684.2h10.4v1.6h-10.4zM125.6 445.0h10.5v1.6h-10.5zM151.5 452.5h10.4v1.6h-10.4zM151.5 468.4h10.4v1.6h-10.4zM163.2 380.9h10.1v1.6h-10.1zM163.2 406.7h10.1v1.6h-10.1zM99.2 572.5h10.5v1.6h-10.5zM99.2 655.9h10.5v1.6h-10.5zM111.6 535.0h10.7v1.6h-10.7zM111.6 543.4h10.7v1.6h-10.7zM111.6 549.2h10.7v1.6h-10.7zM111.6 632.5h10.7v1.6h-10.7zM111.6 648.4h10.7v1.6h-10.7zM125.6 620.0h10.5v1.6h-10.5zM151.5 543.4h10.4v1.6h-10.4zM151.5 558.4h10.4v1.6h-10.4zM151.5 654.2h10.4v1.6h-10.4zM99.2 687.5h10.5v1.6h-10.5zM111.6 802.5h10.7v1.6h-10.7zM125.6 713.4h10.5v1.6h-10.5zM137.6 713.4h10.6v1.6h-10.6zM151.5 745.0h10.4v1.6h-10.4zM151.5 757.5h10.4v1.6h-10.4zM151.5 788.4h10.4v1.6h-10.4zM163.2 680.9h10.1v1.6h-10.1zM176.0 390.9h10.8v1.6h-10.8zM176.0 470.0h10.8v1.6h-10.8zM176.0 498.4h10.8v1.6h-10.8zM202.6 498.4h10.7v1.6h-10.7zM214.8 409.2h11.0v1.6h-11.0zM176.0 580.0h10.8v1.6h-10.8zM176.0 623.4h10.8v1.6h-10.8zM202.6 632.5h10.7v1.6h-10.7zM176.0 725.9h10.8v1.6h-10.8zM176.0 770.9h10.8v1.6h-10.8zM266.5 464.4h10.8v1.6h-10.8zM266.5 526.9h10.8v1.6h-10.8zM21.3 915.9h10.9v1.6h-10.9zM21.3 1005.2h10.9v1.6h-10.9zM21.3 1011.4h10.9v1.6h-10.9zM34.2 945.5h8.9v1.6h-8.9zM34.2 953.9h8.9v1.6h-8.9zM46.7 1030.5h10.9v1.6h-10.9zM86.5 926.4h10.5v1.6h-10.5zM86.5 1010.5h10.5v1.6h-10.5zM99.0 973.0h10.8v1.6h-10.8zM112.3 938.9h10.9v1.6h-10.9zM124.8 958.0h10.9v1.6h-10.9zM138.2 961.4h10.8v1.6h-10.8zM138.2 988.9h10.8v1.6h-10.8zM138.2 996.4h10.8v1.6h-10.8zM150.3 925.5h9.5v1.6h-9.5zM150.3 930.5h9.5v1.6h-9.5zM163.0 975.5h11.2v1.6h-11.2zM189.7 904.7h10.5v1.6h-10.5zM189.7 997.2h10.5v1.6h-10.5zM189.7 1008.0h10.5v1.6h-10.5zM189.7 1039.7h10.5v1.6h-10.5zM189.7 1049.7h10.5v1.6h-10.5zM201.7 968.9h11.3v1.6h-11.3zM201.7 979.7h11.3v1.3h-11.3zM215.0 963.9h10.8v1.6h-10.8zM21.3 1105.0h10.9v1.6h-10.9zM34.2 1120.0h8.9v1.6h-8.9zM34.2 1173.4h8.9v1.6h-8.9zM46.7 1055.5h10.9v1.6h-10.9zM46.7 1075.9h10.9v1.6h-10.9zM46.7 1081.7h10.9v1.6h-10.9zM46.7 1171.7h10.9v1.6h-10.9zM59.7 1121.2h11.1v1.6h-11.1zM59.7 1172.9h11.1v1.6h-11.1zM73.0 1098.9h10.8v1.6h-10.8zM73.0 1140.8h10.8v1.3h-10.8zM99.0 1119.2h10.8v1.6h-10.8zM99.0 1170.0h10.8v1.6h-10.8zM138.2 1177.5h10.8v1.6h-10.8zM150.3 1059.2h9.5v1.6h-9.5zM150.3 1120.0h9.5v1.6h-9.5zM150.3 1177.5h9.5v1.6h-9.5zM189.7 1110.0h10.5v1.6h-10.5zM189.7 1180.0h10.5v1.6h-10.5zM201.7 1108.4h11.3v1.6h-11.3zM215.0 1061.2h10.8v1.3h-10.8zM215.0 1154.2h10.8v1.6h-10.8zM227.5 1075.9h10.8v1.6h-10.8zM227.5 1080.0h10.8v1.6h-10.8zM227.5 1161.0h10.8v1.3h-10.8z"/><path fill="#fcdede" d="M21.3 114.2h10.9v1.6h-10.9zM21.3 179.2h10.9v1.6h-10.9zM21.3 213.4h10.9v1.6h-10.9zM21.3 218.4h10.9v1.6h-10.9zM21.3 229.2h10.9v1.6h-10.9zM34.2 105.0h10.8v1.6h-10.8zM34.2 164.2h10.8v1.6h-10.8zM34.2 184.2h10.8v1.6h-10.8zM34.2 214.2h10.8v1.6h-10.8zM48.2 74.2h10.8v1.6h-10.8zM48.2 153.4h10.8v1.6h-10.8zM48.2 233.4h10.8v1.6h-10.8zM60.0 104.2h11.0v1.6h-11.0zM60.0 144.2h11.0v1.6h-11.0zM60.0 150.9h11.0v1.6h-11.0zM60.0 155.0h11.0v1.6h-11.0zM60.0 177.5h11.0v1.6h-11.0zM60.0 212.5h11.0v1.6h-11.0zM73.5 92.5h10.7v1.6h-10.7zM73.5 107.5h10.7v1.6h-10.7zM73.5 140.0h10.7v1.6h-10.7zM73.5 159.2h10.7v1.6h-10.7zM73.5 192.5h10.7v1.6h-10.7zM85.6 214.2h10.9v1.6h-10.9zM99.6 60.9h10.6v1.6h-10.6zM99.6 65.9h10.6v1.6h-10.6zM99.6 72.5h10.6v1.6h-10.6zM99.6 219.2h10.6v1.6h-10.6zM111.8 66.7h11.0v1.6h-11.0zM111.8 105.9h11.0v1.6h-11.0zM111.8 216.7h11.0v1.6h-11.0zM111.8 225.0h11.0v1.6h-11.0zM124.5 112.5h10.8v1.6h-10.8zM124.5 210.9h10.8v1.6h-10.8zM124.5 214.2h10.8v1.6h-10.8zM124.5 225.0h10.8v1.6h-10.8zM138.4 140.9h10.8v1.6h-10.8zM138.4 195.9h10.8v1.6h-10.8zM138.4 206.7h10.8v1.6h-10.8zM150.2 225.0h11.0v1.6h-11.0zM164.2 87.5h10.5v1.6h-10.5zM164.2 102.5h10.5v1.6h-10.5zM175.8 60.9h10.9v1.6h-10.9zM175.8 67.5h10.9v1.6h-10.9zM175.8 98.4h10.9v1.6h-10.9zM175.8 105.9h10.9v1.6h-10.9zM175.8 116.7h10.9v1.6h-10.9zM175.8 120.0h10.9v1.6h-10.9zM175.8 128.4h10.9v1.6h-10.9zM175.8 147.5h10.9v1.6h-10.9zM175.8 214.2h10.9v1.6h-10.9zM189.7 225.9h10.7v1.6h-10.7zM215.6 93.4h10.7v1.6h-10.7zM215.6 139.2h10.7v1.6h-10.7zM215.6 194.2h10.7v1.6h-10.7zM227.5 79.2h10.9v1.6h-10.9zM227.5 95.9h10.9v1.6h-10.9zM227.5 145.0h10.9v1.6h-10.9zM227.5 154.2h10.9v1.6h-10.9zM227.5 200.9h10.9v1.6h-10.9zM227.5 211.7h10.9v1.6h-10.9zM227.5 220.9h10.9v1.6h-10.9zM241.6 192.5h10.6v1.6h-10.6zM253.8 77.5h10.7v1.6h-10.7zM253.8 95.9h10.7v1.6h-10.7zM253.8 104.2h10.7v1.6h-10.7zM253.8 165.9h10.7v1.6h-10.7zM253.8 180.9h10.7v1.6h-10.7zM253.8 187.5h10.7v1.6h-10.7zM253.8 200.9h10.7v1.6h-10.7zM253.8 219.2h10.7v1.6h-10.7zM267.2 90.0h10.7v1.6h-10.7zM267.2 144.2h10.7v1.6h-10.7zM267.2 200.9h10.7v1.6h-10.7zM267.2 210.9h10.7v1.6h-10.7zM267.2 234.2h10.7v1.6h-10.7zM279.3 72.5h10.9v1.6h-10.9zM279.3 145.9h10.9v1.6h-10.9zM279.3 170.9h10.9v1.6h-10.9zM279.3 232.5h10.9v1.6h-10.9zM293.0 88.4h10.6v1.6h-10.6zM293.0 105.9h10.6v1.6h-10.6zM293.0 140.9h10.6v1.6h-10.6zM293.0 205.9h10.6v1.6h-10.6zM293.0 212.5h10.6v1.6h-10.6zM293.0 230.9h10.6v1.6h-10.6zM304.7 89.2h10.9v1.6h-10.9zM304.7 196.7h10.9v1.6h-10.9zM304.7 220.9h10.9v1.6h-10.9zM318.7 174.2h10.6v1.6h-10.6zM318.7 187.5h10.6v1.6h-10.6zM318.7 215.0h10.6v1.6h-10.6zM331.0 212.5h10.8v1.6h-10.8zM331.0 229.2h10.8v1.6h-10.8zM344.5 137.5h10.7v1.6h-10.7zM344.5 149.2h10.7v1.6h-10.7zM344.5 164.2h10.7v1.6h-10.7zM344.5 199.2h10.7v1.6h-10.7zM344.5 220.9h10.7v1.6h-10.7zM356.8 111.7h10.9v1.6h-10.9zM356.8 160.9h10.9v1.6h-10.9zM356.8 182.5h10.9v1.6h-10.9zM356.8 210.9h10.9v1.6h-10.9zM370.2 178.4h10.8v1.6h-10.8zM370.2 187.5h10.8v1.6h-10.8zM370.2 200.9h10.8v1.6h-10.8zM21.3 368.4h10.9v1.6h-10.9zM21.3 486.7h10.9v1.6h-10.9zM59.8 351.7h10.7v1.6h-10.7zM59.8 360.9h10.7v1.6h-10.7zM59.8 467.5h10.7v1.6h-10.7zM73.5 357.5h10.4v1.6h-10.4zM73.5 478.4h10.4v1.6h-10.4zM85.5 441.7h10.3v1.6h-10.3zM85.5 454.2h10.3v1.6h-10.3zM21.3 504.2h10.9v1.6h-10.9zM21.3 703.4h10.9v1.6h-10.9zM47.3 692.5h10.8v1.6h-10.8zM59.8 661.7h10.7v1.6h-10.7zM59.8 704.2h10.7v1.6h-10.7zM59.8 740.0h10.7v1.6h-10.7zM59.8 745.9h10.7v1.6h-10.7zM59.8 765.9h10.7v1.6h-10.7zM73.5 708.4h10.4v1.6h-10.4zM99.2 355.9h10.5v1.6h-10.5zM111.6 355.0h10.7v1.6h-10.7zM111.6 378.4h10.7v1.6h-10.7zM111.6 467.5h10.7v1.6h-10.7zM111.6 490.9h10.7v1.6h-10.7zM125.6 370.9h10.5v1.6h-10.5zM125.6 423.4h10.5v1.6h-10.5zM125.6 487.5h10.5v1.6h-10.5zM137.6 368.4h10.6v1.6h-10.6zM137.6 375.0h10.6v1.6h-10.6zM137.6 411.7h10.6v1.6h-10.6zM137.6 455.0h10.6v1.6h-10.6zM151.5 481.7h10.4v1.6h-10.4zM99.2 549.2h10.5v1.6h-10.5zM99.2 587.5h10.5v1.6h-10.5zM99.2 605.9h10.5v1.6h-10.5zM99.2 614.2h10.5v1.6h-10.5zM99.2 630.9h10.5v1.6h-10.5zM111.6 614.2h10.7v1.6h-10.7zM125.6 504.2h10.5v1.6h-10.5zM125.6 607.5h10.5v1.6h-10.5zM137.6 505.9h10.6v1.6h-10.6zM137.6 523.4h10.6v1.6h-10.6zM137.6 635.0h10.6v1.6h-10.6zM137.6 654.2h10.6v1.6h-10.6zM151.5 507.5h10.4v1.6h-10.4zM151.5 635.0h10.4v1.6h-10.4zM151.5 645.9h10.4v1.6h-10.4zM99.2 662.5h10.5v1.6h-10.5zM99.2 797.5h10.5v1.6h-10.5zM111.6 744.2h10.7v1.6h-10.7zM111.6 795.9h10.7v1.6h-10.7zM125.6 785.9h10.5v1.6h-10.5zM137.6 754.2h10.6v1.6h-10.6zM137.6 802.5h10.6v1.6h-10.6zM151.5 664.2h10.4v1.6h-10.4zM151.5 692.5h10.4v1.6h-10.4zM151.5 705.9h10.4v1.6h-10.4zM151.5 717.5h10.4v1.6h-10.4zM176.0 376.7h10.8v1.6h-10.8zM176.0 400.9h10.8v1.6h-10.8zM176.0 435.0h10.8v1.6h-10.8zM202.6 395.9h10.7v1.6h-10.7zM202.6 487.5h10.7v1.6h-10.7zM228.3 475.9h10.7v1.6h-10.7zM176.0 520.0h10.8v1.6h-10.8zM176.0 537.5h10.8v1.6h-10.8zM176.0 560.9h10.8v1.6h-10.8zM176.0 597.5h10.8v1.6h-10.8zM176.0 612.5h10.8v1.6h-10.8zM176.0 635.0h10.8v1.6h-10.8zM228.3 580.9h10.7v1.6h-10.7zM176.0 713.4h10.8v1.6h-10.8zM176.0 745.0h10.8v1.6h-10.8zM202.6 722.5h10.7v1.6h-10.7zM214.8 730.9h11.0v1.6h-11.0zM228.3 685.0h10.7v1.6h-10.7zM228.3 794.2h10.7v1.6h-10.7zM254.5 429.6h10.3v1.6h-10.3zM266.5 373.6h10.8v1.6h-10.8zM266.5 396.5h10.8v1.6h-10.8zM266.5 407.5h10.8v1.6h-10.8zM266.5 487.0h10.8v1.6h-10.8zM266.5 511.3h10.8v1.6h-10.8zM254.5 793.6h10.3v1.6h-10.3zM266.5 797.3h10.8v1.6h-10.8zM21.3 955.5h10.9v1.6h-10.9zM21.3 1000.5h10.9v1.6h-10.9zM34.2 927.2h8.9v1.6h-8.9zM34.2 938.0h8.9v1.6h-8.9zM34.2 958.9h8.9v1.6h-8.9zM34.2 978.9h8.9v1.6h-8.9zM46.7 909.7h10.9v1.6h-10.9zM46.7 934.7h10.9v1.6h-10.9zM46.7 1041.4h10.9v1.6h-10.9zM86.5 913.9h10.5v1.6h-10.5zM86.5 938.0h10.5v1.6h-10.5zM86.5 942.2h10.5v1.6h-10.5zM86.5 1030.5h10.5v1.6h-10.5zM99.0 938.0h10.8v1.6h-10.8zM112.3 925.5h10.9v1.6h-10.9zM112.3 958.9h10.9v1.6h-10.9zM138.2 938.9h10.8v1.6h-10.8zM138.2 985.5h10.8v1.6h-10.8zM150.3 997.2h9.5v1.6h-9.5zM150.3 1044.7h9.5v1.6h-9.5zM150.3 1051.4h9.5v1.6h-9.5zM163.0 978.9h11.2v1.6h-11.2zM189.7 1018.9h10.5v1.6h-10.5zM201.7 973.0h11.3v1.6h-11.3zM215.0 921.4h10.8v1.6h-10.8zM215.0 942.2h10.8v1.6h-10.8zM215.0 1048.0h10.8v1.6h-10.8zM21.3 1061.7h10.9v1.6h-10.9zM21.3 1177.5h10.9v1.6h-10.9zM34.2 1105.0h8.9v1.6h-8.9zM59.7 1117.5h11.1v1.6h-11.1zM73.0 1087.5h10.8v1.6h-10.8zM86.5 1091.7h10.5v1.6h-10.5zM86.5 1137.5h10.5v1.6h-10.5zM150.3 1084.2h9.5v1.6h-9.5zM150.3 1125.9h9.5v1.6h-9.5zM150.3 1148.7h9.5v1.3h-9.5zM150.3 1174.2h9.5v1.6h-9.5zM175.8 1155.0h11.2v1.6h-11.2zM189.7 1122.5h10.5v1.6h-10.5zM201.7 1135.9h11.3v1.6h-11.3zM215.0 1065.9h10.8v1.6h-10.8zM227.5 1089.2h10.8v1.6h-10.8zM227.5 1095.9h10.8v1.6h-10.8zM227.5 1153.4h10.8v1.6h-10.8zM227.5 1159.7h10.8v1.3h-10.8z"/><path fill="#8484f0" d="M21.3 118.2h10.9v1.6h-10.9zM48.2 168.4h10.8v1.6h-10.8zM48.2 200.0h10.8v1.6h-10.8zM60.0 165.9h11.0v1.6h-11.0zM99.6 180.9h10.6v1.6h-10.6zM111.8 176.7h11.0v1.6h-11.0zM138.4 225.0h10.8v1.6h-10.8zM150.2 180.9h11.0v1.6h-11.0zM201.7 178.3h11.3v1.3h-11.3zM241.6 150.0h10.6v1.6h-10.6zM344.5 62.5h10.7v1.6h-10.7zM356.8 145.9h10.9v1.6h-10.9zM370.2 78.9h10.8v1.6h-10.8zM370.2 211.7h10.8v1.6h-10.8zM21.3 402.5h10.9v1.6h-10.9zM73.5 375.0h10.4v1.6h-10.4zM59.8 550.9h10.7v1.6h-10.7zM59.8 592.9h10.7v1.3h-10.7zM59.8 608.4h10.7v1.6h-10.7zM73.5 541.7h10.4v1.6h-10.4zM111.6 527.9h10.7v1.6h-10.7zM202.6 601.7h10.7v1.6h-10.7zM214.8 620.0h11.0v1.6h-11.0zM176.0 760.9h10.8v1.6h-10.8zM214.8 715.9h11.0v1.6h-11.0zM266.5 401.5h10.8v1.6h-10.8zM266.5 542.5h10.8v1.6h-10.8zM266.5 669.3h10.8v1.6h-10.8zM46.7 1022.2h10.9v1.6h-10.9zM86.5 1035.5h10.5v1.6h-10.5zM99.0 1025.5h10.8v1.6h-10.8zM138.2 1005.5h10.8v1.3h-10.8zM175.8 953.9h11.2v1.6h-11.2zM215.0 948.0h10.8v1.6h-10.8zM227.5 973.0h10.8v1.6h-10.8zM46.7 1169.2h10.9v1.3h-10.9zM59.7 1157.9h11.1v1.3h-11.1zM99.0 1108.4h10.8v1.6h-10.8zM138.2 1090.0h10.8v1.6h-10.8zM189.7 1060.0h10.5v1.3h-10.5zM215.0 1069.2h10.8v1.6h-10.8zM215.0 1177.5h10.8v1.6h-10.8z"/><path fill="#9090f0" d="M21.3 120.8h10.9v1.5h-10.9zM21.3 122.3h10.9v1.0h-10.9zM21.3 197.5h10.9v1.5h-10.9zM21.3 200.5h10.9v1.2h-10.9zM34.2 193.7h10.8v2.1h-10.8zM48.2 157.5h10.8v1.5h-10.8zM48.2 159.0h10.8v1.0h-10.8zM85.6 81.7h10.9v2.0h-10.9zM85.6 113.2h10.9v1.2h-10.9zM99.6 126.5h10.6v1.2h-10.6zM99.6 127.7h10.6v0.6h-10.6zM99.6 169.5h10.6v1.2h-10.6zM99.6 185.0h10.6v1.5h-10.6zM150.2 128.5h11.0v1.8h-11.0zM189.7 100.0h10.7v1.2h-10.7zM189.7 116.5h10.7v0.1h-10.7zM201.7 143.1h11.3v0.3h-11.3zM201.7 200.8h11.3v1.8h-11.3zM304.7 81.7h10.9v1.5h-10.9zM318.7 146.9h10.6v2.4h-10.6zM356.8 81.7h10.9v1.2h-10.9zM370.2 155.0h10.8v1.5h-10.8zM370.2 156.5h10.8v1.0h-10.8zM34.2 360.0h10.7v1.2h-10.7zM34.2 362.5h10.7v1.5h-10.7zM34.2 391.9h10.7v1.4h-10.7zM34.2 431.7h10.7v2.0h-10.7zM34.2 492.2h10.7v2.0h-10.7zM34.2 497.0h10.7v1.5h-10.7zM59.8 457.5h10.7v2.4h-10.7zM85.5 375.8h10.3v1.8h-10.3zM21.3 555.0h10.9v2.0h-10.9zM59.8 579.1h10.7v0.9h-10.7zM73.5 550.7h10.4v0.2h-10.4zM21.3 741.4h10.9v0.3h-10.9zM47.3 666.7h10.8v1.5h-10.8zM47.3 671.4h10.8v1.8h-10.8zM85.5 659.9h10.3v2.0h-10.3zM85.5 661.9h10.3v1.2h-10.3zM85.5 700.5h10.3v1.2h-10.3zM99.2 463.7h10.5v1.3h-10.5zM137.6 393.7h10.6v1.2h-10.6zM111.6 584.2h10.7v1.5h-10.7zM137.6 594.3h10.6v1.5h-10.6zM137.6 595.8h10.6v0.9h-10.6zM176.0 383.2h10.8v0.1h-10.8zM176.0 420.0h10.8v2.0h-10.8zM188.8 389.2h11.0v1.8h-11.0zM188.8 425.8h11.0v2.0h-11.0zM188.8 436.5h11.0v2.0h-11.0zM214.8 366.5h11.0v1.2h-11.0zM214.8 388.0h11.0v1.8h-11.0zM214.8 400.1h11.0v1.2h-11.0zM214.8 401.3h11.0v1.2h-11.0zM228.3 365.0h10.7v1.8h-10.7zM228.3 378.3h10.7v1.8h-10.7zM228.3 380.1h10.7v0.7h-10.7zM228.3 470.8h10.7v1.7h-10.7zM240.7 395.7h11.3v2.4h-11.3zM240.7 404.9h11.3v1.2h-11.3zM240.7 438.3h11.3v1.2h-11.3zM240.7 460.8h11.3v1.5h-11.3zM176.0 527.5h10.8v1.8h-10.8zM176.0 529.3h10.8v2.0h-10.8zM176.0 576.7h10.8v2.0h-10.8zM176.0 578.7h10.8v0.5h-10.8zM188.8 516.8h11.0v1.5h-11.0zM188.8 532.0h11.0v2.4h-11.0zM188.8 577.8h11.0v0.5h-11.0zM214.8 567.9h11.0v1.5h-11.0zM214.8 571.2h11.0v1.2h-11.0zM228.3 553.3h10.7v2.4h-10.7zM240.7 511.5h11.3v2.0h-11.3zM240.7 535.8h11.3v1.2h-11.3zM240.7 561.8h11.3v2.4h-11.3zM240.7 566.8h11.3v1.5h-11.3zM240.7 572.3h11.3v1.0h-11.3zM240.7 605.4h11.3v2.4h-11.3zM188.8 727.2h11.0v2.4h-11.0zM188.8 751.9h11.0v1.5h-11.0zM188.8 762.9h11.0v2.1h-11.0zM228.3 657.5h10.7v1.8h-10.7zM228.3 673.3h10.7v1.5h-10.7zM228.3 674.8h10.7v2.4h-10.7zM240.7 669.1h11.3v0.9h-11.3zM240.7 703.5h11.3v1.5h-11.3zM240.7 774.4h11.3v0.6h-11.3zM254.5 350.5h10.3v1.8h-10.3zM254.5 352.3h10.3v1.8h-10.3zM254.5 480.9h10.3v1.5h-10.3zM254.5 484.5h10.3v1.0h-10.3zM254.5 560.7h10.3v1.5h-10.3zM266.5 413.8h10.8v1.5h-10.8zM254.5 620.6h10.3v2.0h-10.3zM254.5 622.6h10.3v0.2h-10.3zM254.5 659.9h10.3v0.5h-10.3zM254.5 720.0h10.3v1.5h-10.3zM254.5 723.0h10.3v1.5h-10.3zM254.5 724.5h10.3v2.4h-10.3zM266.5 598.6h10.8v1.8h-10.8zM21.3 1050.5h10.9v2.4h-10.9zM46.7 930.5h10.9v1.5h-10.9zM59.7 1016.7h11.1v2.0h-11.1zM59.7 1052.1h11.1v1.2h-11.1zM73.0 1015.5h10.8v2.4h-10.8zM86.5 1000.9h10.5v1.2h-10.5zM99.0 1018.5h10.8v2.4h-10.8zM99.0 1030.9h10.8v2.0h-10.8zM99.0 1032.9h10.8v2.4h-10.8zM112.3 921.2h10.9v0.1h-10.9zM112.3 999.9h10.9v1.4h-10.9zM112.3 1027.8h10.9v1.5h-10.9zM112.3 1050.6h10.9v2.0h-10.9zM124.8 1004.5h10.9v1.8h-10.9zM124.8 1035.2h10.9v1.2h-10.9zM163.0 1010.8h11.2v2.0h-11.2zM163.0 1030.8h11.2v0.5h-11.2zM163.0 1042.5h11.2v1.5h-11.2zM163.0 1045.8h11.2v1.2h-11.2zM201.7 1002.7h11.3v1.2h-11.3zM201.7 1039.9h11.3v1.4h-11.3zM201.7 1045.9h11.3v1.2h-11.3zM215.0 957.2h10.8v1.5h-10.8zM227.5 964.8h10.8v2.0h-10.8zM227.5 1014.5h10.8v2.0h-10.8zM59.7 1065.8h11.1v2.4h-11.1zM59.7 1080.0h11.1v1.7h-11.1zM73.0 1061.8h10.8v0.7h-10.8zM99.0 1054.0h10.8v1.3h-10.8zM99.0 1064.7h10.8v2.4h-10.8zM99.0 1071.0h10.8v0.7h-10.8zM99.0 1084.0h10.8v1.8h-10.8zM99.0 1095.7h10.8v2.0h-10.8zM112.3 1075.9h10.9v1.8h-10.9zM112.3 1102.8h10.9v1.8h-10.9zM112.3 1108.8h10.9v2.0h-10.9zM112.3 1125.3h10.9v2.4h-10.9zM112.3 1127.7h10.9v0.7h-10.9zM112.3 1140.0h10.9v1.2h-10.9zM112.3 1141.2h10.9v1.5h-10.9zM112.3 1163.7h10.9v1.3h-10.9zM138.2 1134.5h10.8v1.2h-10.8zM138.2 1159.7h10.8v0.3h-10.8zM163.0 1081.0h11.2v1.5h-11.2zM163.0 1121.5h11.2v1.8h-11.2zM175.8 1090.8h11.2v2.0h-11.2zM175.8 1109.2h11.2v1.2h-11.2z"/><path fill="#0000ea" d="M21.3 124.9h10.9v1.6h-10.9zM21.3 143.5h10.9v1.2h-10.9zM34.2 119.5h10.8v0.5h-10.8zM34.2 136.5h10.8v1.0h-10.8zM73.5 116.9h10.7v0.6h-10.7zM99.6 132.0h10.6v1.3h-10.6zM124.5 119.9h10.8v1.8h-10.8zM124.5 139.8h10.8v1.2h-10.8zM124.5 143.4h10.8v2.0h-10.8zM124.5 145.4h10.8v0.4h-10.8zM124.5 187.5h10.8v2.0h-10.8zM124.5 199.2h10.8v2.4h-10.8zM150.2 118.2h11.0v2.0h-11.0zM150.2 120.2h11.0v0.7h-11.0zM150.2 158.3h11.0v1.5h-11.0zM150.2 188.3h11.0v1.7h-11.0zM150.2 200.7h11.0v0.1h-11.0zM189.7 85.0h10.7v1.2h-10.7zM189.7 95.0h10.7v2.4h-10.7zM189.7 97.4h10.7v0.9h-10.7zM189.7 129.2h10.7v1.6h-10.7zM189.7 137.5h10.7v1.5h-10.7zM189.7 139.0h10.7v1.2h-10.7zM189.7 145.0h10.7v1.8h-10.7zM189.7 146.8h10.7v1.5h-10.7zM201.7 79.2h11.3v1.6h-11.3zM201.7 136.5h11.3v1.0h-11.3zM201.7 159.9h11.3v1.8h-11.3zM201.7 228.3h11.3v1.7h-11.3zM215.6 129.2h10.7v1.6h-10.7zM227.5 121.2h10.9v1.2h-10.9zM293.0 119.5h10.6v1.3h-10.6zM293.0 122.5h10.6v1.6h-10.6zM293.0 127.5h10.6v1.6h-10.6zM318.7 122.0h10.6v1.8h-10.6zM318.7 155.0h10.6v1.6h-10.6zM331.0 116.5h10.8v0.2h-10.8zM331.0 145.7h10.8v1.5h-10.8zM370.2 110.9h10.8v1.6h-10.8zM382.7 80.1h10.9v1.6h-10.9zM382.7 100.0h10.9v1.6h-10.9zM382.7 124.2h10.9v1.6h-10.9zM382.7 144.2h10.9v2.4h-10.9zM382.7 165.3h10.9v1.4h-10.9zM47.3 645.9h10.8v1.6h-10.8zM85.5 570.0h10.3v1.7h-10.3zM34.2 745.1h10.7v1.5h-10.7zM85.5 729.8h10.3v1.5h-10.3zM137.6 577.5h10.6v1.2h-10.6zM137.6 578.7h10.6v1.8h-10.6zM188.8 453.4h11.0v1.6h-11.0zM228.3 402.2h10.7v1.6h-10.7zM228.3 455.0h10.7v1.6h-10.7zM240.7 373.5h11.3v0.7h-11.3zM240.7 423.6h11.3v2.0h-11.3zM240.7 462.3h11.3v2.4h-11.3zM240.7 469.2h11.3v1.5h-11.3zM240.7 482.0h11.3v1.8h-11.3zM240.7 487.5h11.3v2.0h-11.3zM240.7 491.9h11.3v1.5h-11.3zM240.7 495.8h11.3v1.5h-11.3zM188.8 590.5h11.0v1.8h-11.0zM214.8 578.7h11.0v1.2h-11.0zM214.8 592.5h11.0v0.9h-11.0zM188.8 706.3h11.0v1.5h-11.0zM188.8 787.0h11.0v1.3h-11.0zM188.8 795.0h11.0v1.6h-11.0zM240.7 685.7h11.3v2.4h-11.3zM240.7 696.6h11.3v1.2h-11.3zM240.7 718.6h11.3v0.6h-11.3zM240.7 723.2h11.3v2.4h-11.3zM240.7 743.9h11.3v1.8h-11.3zM240.7 754.1h11.3v1.2h-11.3zM240.7 792.7h11.3v0.7h-11.3zM240.7 800.8h11.3v2.4h-11.3zM254.5 587.2h10.3v2.0h-10.3zM254.5 594.6h10.3v0.6h-10.3zM254.5 601.9h10.3v1.5h-10.3zM254.5 604.6h10.3v1.6h-10.3zM254.5 622.7h10.3v2.0h-10.3zM254.5 631.1h10.3v2.4h-10.3zM254.5 740.2h10.3v1.8h-10.3zM21.3 1028.7h10.9v2.0h-10.9zM34.2 1026.3h8.9v2.4h-8.9zM34.2 1032.8h8.9v1.2h-8.9zM73.0 1027.5h10.8v0.5h-10.8zM73.0 1029.7h10.8v1.8h-10.8zM99.0 1039.2h10.8v2.4h-10.8zM112.3 992.2h10.9v1.8h-10.9zM112.3 1018.1h10.9v1.2h-10.9zM112.3 1019.3h10.9v0.4h-10.9zM112.3 1041.3h10.9v2.0h-10.9zM124.8 997.5h10.9v2.0h-10.9zM124.8 1021.3h10.9v1.5h-10.9zM124.8 1029.1h10.9v0.5h-10.9zM138.2 1004.2h10.8v1.3h-10.8zM163.0 919.7h11.2v2.4h-11.2zM163.0 943.7h11.2v1.2h-11.2zM163.0 999.7h11.2v1.5h-11.2zM163.0 1002.4h11.2v2.0h-11.2zM163.0 1035.0h11.2v2.4h-11.2zM175.8 993.6h11.2v1.5h-11.2zM175.8 1021.6h11.2v2.4h-11.2zM175.8 1042.8h11.2v2.0h-11.2zM189.7 960.5h10.5v1.6h-10.5zM34.2 1055.0h8.9v1.5h-8.9zM59.7 1056.7h11.1v1.6h-11.1zM73.0 1058.6h10.8v1.4h-10.8zM73.0 1062.5h10.8v1.5h-10.8zM73.0 1071.6h10.8v0.1h-10.8zM99.0 1058.9h10.8v2.0h-10.8zM99.0 1094.2h10.8v1.5h-10.8zM112.3 1060.0h10.9v2.4h-10.9zM112.3 1081.3h10.9v1.8h-10.9zM112.3 1085.3h10.9v2.0h-10.9zM112.3 1130.0h10.9v1.5h-10.9zM112.3 1136.3h10.9v2.0h-10.9zM112.3 1156.1h10.9v1.5h-10.9zM112.3 1166.7h10.9v1.5h-10.9zM124.8 1056.2h10.9v2.0h-10.9zM124.8 1078.6h10.9v2.4h-10.9zM124.8 1106.7h10.9v2.0h-10.9zM124.8 1121.7h10.9v2.4h-10.9zM124.8 1124.1h10.9v0.1h-10.9zM124.8 1138.0h10.9v2.0h-10.9zM124.8 1150.7h10.9v2.4h-10.9zM124.8 1171.7h10.9v2.0h-10.9zM124.8 1173.7h10.9v1.8h-10.9zM124.8 1175.5h10.9v1.5h-10.9zM163.0 1086.9h11.2v1.5h-11.2zM163.0 1141.4h11.2v1.8h-11.2zM175.8 1061.8h11.2v1.6h-11.2zM175.8 1126.5h11.2v1.5h-11.2zM175.8 1130.3h11.2v1.2h-11.2zM175.8 1131.5h11.2v1.2h-11.2zM175.8 1134.2h11.2v0.8h-11.2zM189.7 1095.5h10.5v1.6h-10.5zM201.7 1073.7h11.3v1.3h-11.3zM227.5 1121.2h10.8v1.6h-10.8z"/><path fill="#9c9cf0" d="M21.3 127.5h10.9v1.7h-10.9zM21.3 135.4h10.9v1.3h-10.9zM21.3 199.0h10.9v1.5h-10.9zM73.5 61.7h10.7v1.8h-10.7zM85.6 118.0h10.9v0.4h-10.9zM99.6 119.2h10.6v1.2h-10.6zM99.6 143.2h10.6v2.0h-10.6zM99.6 179.9h10.6v0.1h-10.6zM111.8 125.0h11.0v1.8h-11.0zM111.8 185.8h11.0v2.0h-11.0zM124.5 92.5h10.8v1.2h-10.8zM150.2 123.2h11.0v1.5h-11.0zM150.2 141.2h11.0v1.5h-11.0zM215.6 134.2h10.7v1.2h-10.7zM215.6 135.4h10.7v1.5h-10.7zM215.6 136.9h10.7v0.6h-10.7zM279.3 142.9h10.9v0.5h-10.9zM304.7 115.4h10.9v0.5h-10.9zM318.7 105.0h10.6v1.8h-10.6zM318.7 106.8h10.6v1.5h-10.6zM318.7 166.6h10.6v0.1h-10.6zM331.0 126.7h10.8v1.8h-10.8zM331.0 162.4h10.8v0.9h-10.8zM344.5 193.5h10.7v2.0h-10.7zM356.8 117.4h10.9v2.4h-10.9zM382.7 105.3h10.9v1.3h-10.9zM34.2 361.2h10.7v0.5h-10.7zM34.2 365.8h10.7v1.5h-10.7zM34.2 369.7h10.7v1.2h-10.7zM34.2 370.9h10.7v0.8h-10.7zM34.2 382.3h10.7v1.5h-10.7zM34.2 387.5h10.7v2.4h-10.7zM34.2 389.9h10.7v2.0h-10.7zM34.2 433.7h10.7v1.8h-10.7zM34.2 478.5h10.7v1.5h-10.7zM59.8 430.0h10.7v1.7h-10.7zM85.5 495.8h10.3v1.2h-10.3zM34.2 502.5h10.7v1.4h-10.7zM34.2 503.9h10.7v0.3h-10.7zM47.3 643.5h10.8v1.5h-10.8zM59.8 502.5h10.7v1.2h-10.7zM59.8 621.0h10.7v1.5h-10.7zM34.2 786.7h10.7v1.5h-10.7zM47.3 670.2h10.8v1.2h-10.8zM47.3 673.2h10.8v0.2h-10.8zM137.6 391.7h10.6v2.0h-10.6zM137.6 471.6h10.6v0.9h-10.6zM111.6 589.6h10.7v1.3h-10.7zM137.6 592.5h10.6v1.8h-10.6zM163.2 600.0h10.1v1.2h-10.1zM137.6 794.9h10.6v1.2h-10.6zM188.8 376.3h11.0v1.2h-11.0zM188.8 384.2h11.0v2.0h-11.0zM188.8 401.7h11.0v1.8h-11.0zM188.8 410.6h11.0v1.1h-11.0zM188.8 438.5h11.0v1.5h-11.0zM202.6 351.8h10.7v1.5h-10.7zM202.6 375.7h10.7v1.5h-10.7zM202.6 377.2h10.7v1.8h-10.7zM202.6 382.5h10.7v1.5h-10.7zM202.6 384.0h10.7v1.8h-10.7zM214.8 369.7h11.0v0.3h-11.0zM214.8 380.8h11.0v1.7h-11.0zM214.8 482.5h11.0v1.5h-11.0zM214.8 484.0h11.0v1.0h-11.0zM228.3 371.9h10.7v1.4h-10.7zM228.3 390.0h10.7v1.5h-10.7zM228.3 391.5h10.7v1.0h-10.7zM228.3 413.8h10.7v2.0h-10.7zM240.7 349.5h11.3v1.3h-11.3zM240.7 406.1h11.3v2.2h-11.3zM240.7 439.5h11.3v1.8h-11.3zM240.7 441.3h11.3v1.5h-11.3zM240.7 445.2h11.3v1.4h-11.3zM176.0 533.7h10.8v1.8h-10.8zM188.8 529.2h11.0v2.0h-11.0zM188.8 545.4h11.0v1.2h-11.0zM188.8 557.5h11.0v1.2h-11.0zM188.8 561.5h11.0v1.2h-11.0zM188.8 565.0h11.0v2.4h-11.0zM188.8 583.8h11.0v1.2h-11.0zM202.6 566.7h10.7v2.4h-10.7zM214.8 560.0h11.0v2.0h-11.0zM228.3 534.5h10.7v1.8h-10.7zM228.3 549.2h10.7v1.2h-10.7zM228.3 557.2h10.7v2.0h-10.7zM228.3 596.5h10.7v1.5h-10.7zM228.3 601.7h10.7v1.2h-10.7zM228.3 608.5h10.7v1.2h-10.7zM240.7 570.3h11.3v2.0h-11.3zM240.7 619.2h11.3v1.5h-11.3zM176.0 704.1h10.8v0.9h-10.8zM188.8 724.5h11.0v1.5h-11.0zM188.8 726.0h11.0v1.2h-11.0zM188.8 729.6h11.0v1.8h-11.0zM188.8 757.6h11.0v2.0h-11.0zM202.6 736.7h10.7v2.0h-10.7zM214.8 700.3h11.0v1.3h-11.0zM228.3 720.1h10.7v0.7h-10.7zM240.7 778.3h11.3v1.2h-11.3zM240.7 790.3h11.3v1.8h-11.3zM254.5 562.2h10.3v1.8h-10.3zM254.5 567.6h10.3v1.2h-10.3zM254.5 619.1h10.3v1.5h-10.3zM254.5 656.9h10.3v1.5h-10.3zM254.5 658.4h10.3v1.5h-10.3zM254.5 726.9h10.3v1.2h-10.3zM266.5 595.2h10.8v1.8h-10.8zM266.5 600.4h10.8v2.4h-10.8zM46.7 1010.5h10.9v2.0h-10.9zM59.7 1015.5h11.1v1.2h-11.1zM59.7 1038.0h11.1v1.6h-11.1zM86.5 999.7h10.5v1.2h-10.5zM99.0 960.7h10.8v1.5h-10.8zM99.0 1007.9h10.8v0.1h-10.8zM99.0 1022.5h10.8v2.0h-10.8zM99.0 1029.7h10.8v1.2h-10.8zM99.0 1035.3h10.8v1.1h-10.8zM99.0 1044.4h10.8v1.8h-10.8zM112.3 995.5h10.9v2.4h-10.9zM112.3 1029.3h10.9v2.0h-10.9zM124.8 1003.0h10.9v1.5h-10.9zM124.8 1036.4h10.9v1.6h-10.9zM163.0 1026.3h11.2v1.2h-11.2zM163.0 1047.0h11.2v1.0h-11.2zM175.8 949.0h11.2v0.7h-11.2zM175.8 962.2h11.2v2.0h-11.2zM175.8 1014.6h11.2v2.4h-11.2zM201.7 997.5h11.3v1.2h-11.3zM201.7 1053.6h11.3v0.4h-11.3zM227.5 923.0h10.8v1.7h-10.8zM227.5 948.0h10.8v1.7h-10.8zM227.5 1048.0h10.8v2.0h-10.8zM227.5 1050.0h10.8v0.5h-10.8zM59.7 1103.3h11.1v1.5h-11.1zM99.0 1069.8h10.8v1.2h-10.8zM99.0 1086.4h10.8v1.8h-10.8zM112.3 1059.6h10.9v0.4h-10.9zM112.3 1079.5h10.9v1.8h-10.9zM112.3 1090.9h10.9v0.7h-10.9zM112.3 1142.7h10.9v1.2h-10.9zM124.8 1135.0h10.9v1.5h-10.9zM138.2 1157.0h10.8v1.5h-10.8zM175.8 1093.2h11.2v1.8h-11.2zM175.8 1165.0h11.2v1.7h-11.2z"/><path fill="#5454ea" d="M21.3 131.3h10.9v2.0h-10.9zM34.2 118.0h10.8v1.5h-10.8zM85.6 116.8h10.9v1.2h-10.9zM99.6 121.9h10.6v1.5h-10.6zM99.6 145.2h10.6v0.7h-10.6zM124.5 153.7h10.8v2.4h-10.8zM124.5 170.6h10.8v1.1h-10.8zM150.2 153.3h11.0v2.4h-11.0zM164.2 230.0h10.5v2.0h-10.5zM189.7 76.5h10.7v2.0h-10.7zM189.7 86.2h10.7v2.0h-10.7zM189.7 102.7h10.7v1.2h-10.7zM189.7 121.1h10.7v0.5h-10.7zM201.7 61.1h11.3v1.2h-11.3zM201.7 123.3h11.3v2.0h-11.3zM201.7 126.1h11.3v0.5h-11.3zM201.7 192.8h11.3v0.5h-11.3zM201.7 202.6h11.3v2.4h-11.3zM201.7 214.9h11.3v1.2h-11.3zM201.7 217.3h11.3v1.0h-11.3zM215.6 124.2h10.7v1.2h-10.7zM227.5 126.7h10.9v2.0h-10.9zM267.2 116.7h10.7v1.5h-10.7zM267.2 120.0h10.7v2.4h-10.7zM304.7 119.8h10.9v2.0h-10.9zM318.7 149.3h10.6v1.5h-10.6zM331.0 111.7h10.8v1.8h-10.8zM331.0 134.2h10.8v1.8h-10.8zM331.0 144.5h10.8v1.2h-10.8zM34.2 357.7h10.7v0.6h-10.7zM34.2 367.3h10.7v2.4h-10.7zM34.2 440.0h10.7v1.8h-10.7zM34.2 450.5h10.7v1.5h-10.7zM34.2 476.7h10.7v1.8h-10.7zM34.2 482.3h10.7v1.2h-10.7zM34.2 499.7h10.7v2.4h-10.7zM47.3 361.2h10.8v2.4h-10.8zM47.3 372.8h10.8v1.2h-10.8zM47.3 420.8h10.8v1.8h-10.8zM47.3 422.6h10.8v1.2h-10.8zM85.5 576.0h10.3v0.7h-10.3zM85.5 580.0h10.3v2.4h-10.3zM85.5 582.4h10.3v1.8h-10.3zM34.2 773.9h10.7v1.5h-10.7zM34.2 778.6h10.7v2.4h-10.7zM85.5 731.9h10.3v1.4h-10.3zM111.6 585.7h10.7v1.5h-10.7zM163.2 624.8h10.1v1.0h-10.1zM188.8 355.0h11.0v2.4h-11.0zM188.8 373.3h11.0v1.2h-11.0zM188.8 374.5h11.0v1.8h-11.0zM188.8 381.0h11.0v2.0h-11.0zM188.8 423.4h11.0v2.4h-11.0zM188.8 441.2h11.0v1.8h-11.0zM188.8 459.5h11.0v1.5h-11.0zM188.8 461.0h11.0v0.6h-11.0zM202.6 379.4h10.7v1.5h-10.7zM214.8 365.0h11.0v1.5h-11.0zM240.7 414.4h11.3v1.5h-11.3zM240.7 418.2h11.3v0.1h-11.3zM240.7 465.1h11.3v1.5h-11.3zM240.7 483.8h11.3v1.2h-11.3zM188.8 512.9h11.0v2.4h-11.0zM188.8 567.4h11.0v0.9h-11.0zM188.8 615.7h11.0v1.0h-11.0zM188.8 631.7h11.0v1.7h-11.0zM188.8 639.7h11.0v0.3h-11.0zM188.8 642.5h11.0v2.4h-11.0zM188.8 644.9h11.0v1.5h-11.0zM202.6 576.7h10.7v1.5h-10.7zM214.8 555.0h11.0v1.5h-11.0zM214.8 556.5h11.0v1.0h-11.0zM214.8 564.3h11.0v1.8h-11.0zM228.3 599.8h10.7v0.2h-10.7zM240.7 513.5h11.3v1.5h-11.3zM240.7 604.2h11.3v1.2h-11.3zM240.7 613.3h11.3v1.2h-11.3zM240.7 630.0h11.3v1.5h-11.3zM240.7 631.5h11.3v1.8h-11.3zM240.7 641.6h11.3v0.1h-11.3zM188.8 663.1h11.0v1.2h-11.0zM188.8 664.3h11.0v1.5h-11.0zM188.8 671.4h11.0v2.0h-11.0zM188.8 676.7h11.0v2.4h-11.0zM188.8 687.2h11.0v1.2h-11.0zM188.8 720.7h11.0v1.5h-11.0zM188.8 771.7h11.0v2.0h-11.0zM188.8 773.7h11.0v1.8h-11.0zM188.8 777.9h11.0v1.5h-11.0zM202.6 702.3h10.7v1.8h-10.7zM202.6 704.1h10.7v0.9h-10.7zM228.3 665.0h10.7v1.5h-10.7zM240.7 664.4h11.3v1.5h-11.3zM240.7 694.2h11.3v2.4h-11.3zM240.7 728.0h11.3v1.5h-11.3zM240.7 770.0h11.3v2.0h-11.3zM254.5 378.3h10.3v2.4h-10.3zM254.5 386.3h10.3v1.2h-10.3zM254.5 387.5h10.3v1.5h-10.3zM254.5 624.7h10.3v1.8h-10.3zM21.3 1038.0h10.9v1.8h-10.9zM59.7 1049.7h11.1v2.4h-11.1zM73.0 1033.3h10.8v1.2h-10.8zM73.0 1040.9h10.8v1.8h-10.8zM99.0 998.8h10.8v2.4h-10.8zM99.0 1053.4h10.8v0.6h-10.8zM112.3 1048.8h10.9v1.8h-10.9zM124.8 1009.8h10.9v1.2h-10.9zM163.0 1008.0h11.2v2.0h-11.2zM175.8 947.5h11.2v1.5h-11.2zM175.8 958.8h11.2v1.5h-11.2zM227.5 960.0h10.8v2.4h-10.8zM227.5 966.8h10.8v1.2h-10.8zM227.5 1043.2h10.8v1.4h-10.8zM59.7 1062.6h11.1v0.7h-11.1zM59.7 1168.3h11.1v0.8h-11.1zM73.0 1054.2h10.8v2.4h-10.8zM73.0 1080.5h10.8v1.2h-10.8zM73.0 1096.7h10.8v1.2h-10.8zM99.0 1067.1h10.8v1.2h-10.8zM112.3 1095.1h10.9v2.4h-10.9zM112.3 1100.8h10.9v2.0h-10.9zM112.3 1116.6h10.9v2.4h-10.9zM112.3 1149.3h10.9v0.7h-10.9zM112.3 1151.7h10.9v2.0h-10.9zM112.3 1178.0h10.9v1.8h-10.9zM124.8 1065.2h10.9v1.2h-10.9zM124.8 1087.0h10.9v1.8h-10.9zM124.8 1099.0h10.9v1.8h-10.9zM124.8 1115.6h10.9v2.0h-10.9zM124.8 1119.6h10.9v0.4h-10.9zM138.2 1138.1h10.8v1.9h-10.8zM138.2 1146.7h10.8v1.8h-10.8zM138.2 1148.5h10.8v1.8h-10.8zM163.0 1072.5h11.2v0.8h-11.2zM163.0 1125.0h11.2v1.2h-11.2zM175.8 1110.4h11.2v1.8h-11.2zM175.8 1112.6h11.2v0.8h-11.2zM175.8 1136.7h11.2v1.2h-11.2zM175.8 1139.7h11.2v1.5h-11.2zM175.8 1144.4h11.2v0.6h-11.2zM201.7 1054.2h11.3v0.8h-11.3z"/><path fill="#9696f0" d="M21.3 134.2h10.9v1.2h-10.9zM34.2 126.0h10.8v2.3h-10.8zM73.5 63.5h10.7v1.5h-10.7zM99.6 177.5h10.6v1.8h-10.6zM99.6 188.5h10.6v1.5h-10.6zM124.5 93.7h10.8v1.2h-10.8zM124.5 94.9h10.8v0.9h-10.8zM124.5 180.7h10.8v0.9h-10.8zM138.4 136.7h10.8v1.7h-10.8zM150.2 124.7h11.0v2.0h-11.0zM150.2 142.7h11.0v0.6h-11.0zM150.2 175.2h11.0v1.5h-11.0zM164.2 118.5h10.5v1.5h-10.5zM164.2 232.6h10.5v1.6h-10.5zM189.7 75.0h10.7v1.5h-10.7zM189.7 80.3h10.7v1.5h-10.7zM201.7 62.3h11.3v1.9h-11.3zM318.7 101.2h10.6v1.5h-10.6zM318.7 140.4h10.6v1.3h-10.6zM318.7 143.3h10.6v1.2h-10.6zM331.0 128.5h10.8v1.5h-10.8zM344.5 195.9h10.7v0.8h-10.7zM344.5 215.8h10.7v1.7h-10.7zM34.2 364.0h10.7v1.8h-10.7zM34.2 383.8h10.7v2.4h-10.7zM34.2 398.2h10.7v1.5h-10.7zM34.2 407.3h10.7v1.0h-10.7zM34.2 437.3h10.7v1.1h-10.7zM47.3 378.3h10.8v1.7h-10.8zM47.3 380.0h10.8v2.4h-10.8zM59.8 459.9h10.7v0.1h-10.7zM21.3 557.0h10.9v1.5h-10.9zM34.2 505.0h10.7v1.8h-10.7zM47.3 650.0h10.8v1.8h-10.8zM59.8 503.7h10.7v0.5h-10.7zM59.8 514.2h10.7v2.0h-10.7zM59.8 619.2h10.7v1.8h-10.7zM34.2 788.2h10.7v1.8h-10.7zM47.3 668.2h10.8v2.0h-10.8zM85.5 780.0h10.3v1.8h-10.3zM85.5 782.2h10.3v2.0h-10.3zM99.2 580.8h10.5v1.2h-10.5zM125.6 668.7h10.5v0.5h-10.5zM188.8 386.8h11.0v2.4h-11.0zM188.8 407.9h11.0v1.5h-11.0zM188.8 420.8h11.0v2.0h-11.0zM188.8 435.0h11.0v1.5h-11.0zM202.6 349.2h10.7v1.8h-10.7zM202.6 385.8h10.7v1.8h-10.7zM202.6 435.4h10.7v0.4h-10.7zM214.8 367.7h11.0v2.0h-11.0zM228.3 500.3h10.7v2.0h-10.7zM240.7 348.3h11.3v1.2h-11.3zM240.7 398.1h11.3v1.2h-11.3zM240.7 402.5h11.3v2.4h-11.3zM188.8 544.2h11.0v1.2h-11.0zM188.8 610.0h11.0v1.8h-11.0zM188.8 626.7h11.0v1.2h-11.0zM188.8 651.7h11.0v1.5h-11.0zM188.8 654.4h11.0v2.0h-11.0zM202.6 649.2h10.7v0.8h-10.7zM214.8 574.2h11.0v0.8h-11.0zM228.3 532.5h10.7v2.0h-10.7zM228.3 598.0h10.7v1.2h-10.7zM228.3 603.7h10.7v1.8h-10.7zM240.7 537.0h11.3v1.3h-11.3zM240.7 607.8h11.3v2.0h-11.3zM240.7 637.4h11.3v1.2h-11.3zM188.8 761.4h11.0v1.5h-11.0zM202.6 738.7h10.7v1.5h-10.7zM214.8 742.3h11.0v1.8h-11.0zM228.3 666.5h10.7v1.5h-10.7zM228.3 668.0h10.7v0.3h-10.7zM228.3 729.5h10.7v2.0h-10.7zM228.3 731.5h10.7v1.8h-10.7zM240.7 660.0h11.3v2.0h-11.3zM240.7 731.9h11.3v1.5h-11.3zM254.5 357.4h10.3v0.4h-10.3zM254.5 384.8h10.3v1.5h-10.3zM254.5 514.8h10.3v2.0h-10.3zM254.5 516.8h10.3v0.8h-10.3zM254.5 564.0h10.3v1.2h-10.3zM21.3 1052.9h10.9v0.9h-10.9zM46.7 932.0h10.9v1.0h-10.9zM59.7 1033.8h11.1v2.0h-11.1zM59.7 1053.3h11.1v0.7h-11.1zM73.0 1017.9h10.8v0.9h-10.8zM86.5 1002.1h10.5v0.1h-10.5zM99.0 1001.2h10.8v0.9h-10.8zM99.0 1004.7h10.8v1.2h-10.8zM99.0 1046.2h10.8v1.8h-10.8zM124.8 993.3h10.9v1.3h-10.9zM138.2 1012.3h10.8v1.8h-10.8zM163.0 1041.3h11.2v1.2h-11.2zM175.8 945.5h11.2v2.0h-11.2zM201.7 988.0h11.3v2.4h-11.3zM21.3 1165.7h10.9v0.1h-10.9zM59.7 1060.8h11.1v1.8h-11.1zM99.0 1055.3h10.8v2.4h-10.8zM99.0 1057.7h10.8v1.2h-10.8zM112.3 1054.0h10.9v2.0h-10.9zM112.3 1056.0h10.9v2.4h-10.9zM112.3 1077.7h10.9v1.8h-10.9zM112.3 1087.3h10.9v1.8h-10.9zM112.3 1110.8h10.9v0.8h-10.9zM112.3 1122.9h10.9v2.4h-10.9zM112.3 1143.9h10.9v2.4h-10.9zM124.8 1088.8h10.9v1.5h-10.9zM124.8 1128.0h10.9v2.4h-10.9zM124.8 1136.5h10.9v1.5h-10.9zM138.2 1158.5h10.8v1.2h-10.8zM163.0 1055.8h11.2v1.2h-11.2zM227.5 1113.1h10.8v2.0h-10.8zM227.5 1117.1h10.8v1.2h-10.8z"/><path fill="#0c0cf0" d="M21.3 139.2h10.9v1.7h-10.9zM21.3 193.0h10.9v1.5h-10.9zM34.2 140.7h10.8v2.0h-10.8zM60.0 135.4h11.0v1.3h-11.0zM73.5 120.8h10.7v1.2h-10.7zM99.6 138.2h10.6v0.1h-10.6zM124.5 122.5h10.8v1.8h-10.8zM124.5 189.5h10.8v0.5h-10.8zM189.7 140.2h10.7v1.2h-10.7zM189.7 161.1h10.7v1.4h-10.7zM201.7 157.5h11.3v2.4h-11.3zM279.3 128.3h10.9v1.5h-10.9zM279.3 224.2h10.9v1.6h-10.9zM318.7 78.9h10.6v1.6h-10.6zM331.0 120.0h10.8v1.5h-10.8zM331.0 152.6h10.8v1.5h-10.8zM331.0 154.1h10.8v2.0h-10.8zM331.0 225.9h10.8v1.6h-10.8zM370.2 145.0h10.8v1.6h-10.8zM382.7 114.2h10.9v2.0h-10.9zM382.7 121.0h10.9v0.7h-10.9zM382.7 148.6h10.9v1.4h-10.9zM382.7 215.0h10.9v1.6h-10.9zM34.2 473.4h10.7v1.6h-10.7zM34.2 480.8h10.7v1.5h-10.7zM59.8 594.2h10.7v1.3h-10.7zM34.2 743.2h10.7v1.5h-10.7zM188.8 398.4h11.0v1.6h-11.0zM240.7 370.2h11.3v1.8h-11.3zM240.7 387.3h11.3v1.2h-11.3zM240.7 394.2h11.3v1.5h-11.3zM240.7 421.8h11.3v1.8h-11.3zM240.7 454.2h11.3v2.0h-11.3zM240.7 476.7h11.3v1.5h-11.3zM240.7 501.1h11.3v1.4h-11.3zM188.8 594.7h11.0v2.4h-11.0zM214.8 579.9h11.0v0.1h-11.0zM214.8 585.9h11.0v2.4h-11.0zM214.8 588.3h11.0v2.4h-11.0zM214.8 590.7h11.0v1.8h-11.0zM228.3 517.4h10.7v0.9h-10.7zM240.7 522.1h11.3v2.0h-11.3zM240.7 540.0h11.3v1.2h-11.3zM240.7 594.3h11.3v1.5h-11.3zM240.7 649.3h11.3v2.4h-11.3zM188.8 731.7h11.0v1.8h-11.0zM188.8 738.3h11.0v2.0h-11.0zM214.8 735.9h11.0v1.6h-11.0zM228.3 723.9h10.7v1.6h-10.7zM228.3 790.0h10.7v1.2h-10.7zM240.7 657.5h11.3v0.8h-11.3zM240.7 679.8h11.3v2.0h-11.3zM240.7 681.8h11.3v1.5h-11.3zM240.7 683.3h11.3v2.4h-11.3zM240.7 688.1h11.3v1.8h-11.3zM254.5 401.5h10.3v1.6h-10.3zM254.5 578.8h10.3v1.8h-10.3zM254.5 583.2h10.3v1.5h-10.3zM254.5 589.2h10.3v1.8h-10.3zM254.5 618.8h10.3v0.2h-10.3zM254.5 642.0h10.3v1.5h-10.3zM59.7 1025.5h11.1v1.7h-11.1zM73.0 1031.5h10.8v1.8h-10.8zM73.0 1039.7h10.8v1.2h-10.8zM99.0 1042.0h10.8v2.4h-10.8zM124.8 999.5h10.9v1.8h-10.9zM124.8 1012.8h10.9v1.2h-10.9zM138.2 1044.0h10.8v0.6h-10.8zM163.0 925.7h11.2v1.5h-11.2zM163.0 1048.0h11.2v1.5h-11.2zM175.8 925.2h11.2v0.3h-11.2zM175.8 998.0h11.2v2.0h-11.2zM175.8 1027.6h11.2v2.0h-11.2zM175.8 1033.0h11.2v1.5h-11.2zM201.7 1014.3h11.3v0.3h-11.3zM201.7 1020.5h11.3v1.6h-11.3zM215.0 908.0h10.8v1.6h-10.8zM227.5 1024.7h10.8v1.8h-10.8zM34.2 1115.5h8.9v1.3h-8.9zM59.7 1126.2h11.1v1.6h-11.1zM73.0 1066.4h10.8v1.2h-10.8zM73.0 1068.0h10.8v1.8h-10.8zM73.0 1069.8h10.8v1.8h-10.8zM73.0 1072.5h10.8v1.8h-10.8zM112.3 1063.9h10.9v2.4h-10.9zM112.3 1093.3h10.9v1.8h-10.9zM112.3 1114.5h10.9v1.5h-10.9zM124.8 1177.4h10.9v1.2h-10.9zM138.2 1150.3h10.8v1.4h-10.8zM138.2 1168.3h10.8v1.7h-10.8zM163.0 1131.2h11.2v1.8h-11.2zM175.8 1119.9h11.2v2.0h-11.2zM175.8 1159.5h11.2v1.6h-11.2zM201.7 1054.2h11.3v1.6h-11.3z"/><path fill="#4242ea" d="M21.3 141.7h10.9v1.8h-10.9zM124.5 160.9h10.8v2.4h-10.8zM124.5 166.8h10.8v1.8h-10.8zM34.2 378.5h10.7v1.5h-10.7zM34.2 487.5h10.7v1.2h-10.7zM34.2 805.7h10.7v0.1h-10.7zM202.6 387.6h10.7v2.4h-10.7zM188.8 587.8h11.0v1.2h-11.0zM188.8 646.4h11.0v2.0h-11.0zM188.8 684.1h11.0v1.5h-11.0zM188.8 755.2h11.0v1.2h-11.0zM228.3 742.6h10.7v1.5h-10.7zM99.0 1005.9h10.8v2.0h-10.8zM163.0 1027.5h11.2v1.8h-11.2zM175.8 1012.2h11.2v2.4h-11.2zM201.7 1049.1h11.3v1.8h-11.3zM201.7 1052.4h11.3v1.2h-11.3zM112.3 1105.0h10.9v1.2h-10.9zM112.3 1131.5h10.9v2.4h-10.9zM112.3 1153.7h10.9v2.4h-10.9zM124.8 1111.1h10.9v1.8h-10.9zM124.8 1125.0h10.9v1.2h-10.9z"/><path fill="#6060f0" d="M21.3 144.7h10.9v0.3h-10.9zM34.2 130.8h10.8v1.5h-10.8zM34.2 139.2h10.8v1.5h-10.8zM34.2 191.3h10.8v2.4h-10.8zM60.0 228.5h11.0v1.5h-11.0zM73.5 112.5h10.7v2.0h-10.7zM99.6 120.4h10.6v1.5h-10.6zM99.6 163.3h10.6v1.2h-10.6zM99.6 198.3h10.6v1.5h-10.6zM124.5 133.8h10.8v1.5h-10.8zM124.5 165.3h10.8v1.5h-10.8zM124.5 176.3h10.8v2.4h-10.8zM150.2 171.7h11.0v1.5h-11.0zM150.2 173.2h11.0v2.0h-11.0zM189.7 101.2h10.7v1.5h-10.7zM189.7 103.9h10.7v1.1h-10.7zM189.7 108.2h10.7v1.2h-10.7zM201.7 190.8h11.3v2.0h-11.3zM201.7 216.1h11.3v1.2h-11.3zM227.5 122.4h10.9v2.4h-10.9zM279.3 112.6h10.9v2.4h-10.9zM279.3 133.0h10.9v0.3h-10.9zM304.7 118.3h10.9v1.5h-10.9zM304.7 124.8h10.9v1.0h-10.9zM318.7 113.3h10.6v2.0h-10.6zM318.7 115.3h10.6v1.8h-10.6zM318.7 131.5h10.6v2.4h-10.6zM318.7 136.7h10.6v1.8h-10.6zM318.7 144.5h10.6v2.4h-10.6zM331.0 136.6h10.8v2.0h-10.8zM344.5 119.0h10.7v1.0h-10.7zM356.8 119.8h10.9v0.2h-10.9zM382.7 187.1h10.9v1.2h-10.9zM34.2 350.1h10.7v0.7h-10.7zM34.2 355.7h10.7v2.0h-10.7zM34.2 374.5h10.7v0.5h-10.7zM34.2 428.2h10.7v1.8h-10.7zM34.2 447.5h10.7v2.4h-10.7zM47.3 366.0h10.8v1.5h-10.8zM47.3 376.4h10.8v2.0h-10.8zM47.3 387.1h10.8v2.4h-10.8zM47.3 389.5h10.8v2.0h-10.8zM73.5 495.8h10.4v1.2h-10.4zM47.3 651.8h10.8v1.5h-10.8zM59.8 540.0h10.7v1.5h-10.7zM73.5 549.2h10.4v1.5h-10.4zM85.5 542.5h10.3v1.7h-10.3zM34.2 746.6h10.7v1.8h-10.7zM34.2 784.9h10.7v0.1h-10.7zM73.5 728.3h10.4v1.5h-10.4zM85.5 718.3h10.3v1.8h-10.3zM85.5 744.9h10.3v0.9h-10.3zM137.6 665.0h10.6v2.0h-10.6zM176.0 464.2h10.8v1.8h-10.8zM188.8 409.4h11.0v1.2h-11.0zM188.8 445.4h11.0v1.2h-11.0zM228.3 498.3h10.7v2.0h-10.7zM240.7 366.4h11.3v1.8h-11.3zM240.7 499.1h11.3v2.0h-11.3zM176.0 515.8h10.8v1.7h-10.8zM188.8 535.0h11.0v0.9h-11.0zM188.8 546.6h11.0v0.1h-11.0zM188.8 562.7h11.0v1.5h-11.0zM188.8 575.8h11.0v2.0h-11.0zM188.8 605.0h11.0v1.7h-11.0zM188.8 629.9h11.0v1.8h-11.0zM188.8 656.4h11.0v0.3h-11.0zM228.3 550.4h10.7v1.3h-10.7zM240.7 542.0h11.3v2.0h-11.3zM240.7 544.0h11.3v2.0h-11.3zM240.7 595.8h11.3v0.9h-11.3zM240.7 647.5h11.3v1.8h-11.3zM188.8 679.1h11.0v2.0h-11.0zM188.8 742.5h11.0v1.2h-11.0zM188.8 747.5h11.0v0.8h-11.0zM188.8 775.5h11.0v2.4h-11.0zM202.6 700.8h10.7v1.5h-10.7zM228.3 659.3h10.7v2.4h-10.7zM240.7 735.0h11.3v2.0h-11.3zM240.7 737.0h11.3v1.8h-11.3zM254.5 570.8h10.3v1.8h-10.3zM266.5 415.3h10.8v2.0h-10.8zM266.5 417.3h10.8v2.4h-10.8zM254.5 592.8h10.3v1.2h-10.3zM254.5 608.9h10.3v2.4h-10.3zM254.5 638.0h10.3v2.0h-10.3zM21.3 1044.0h10.9v0.7h-10.9zM34.2 1015.5h8.9v1.5h-8.9zM99.0 1016.1h10.8v2.0h-10.8zM99.0 1024.5h10.8v0.2h-10.8zM99.0 1050.7h10.8v1.2h-10.8zM112.3 1005.5h10.9v1.8h-10.9zM112.3 1013.6h10.9v1.8h-10.9zM112.3 1026.3h10.9v1.5h-10.9zM112.3 1046.3h10.9v1.2h-10.9zM138.2 1042.8h10.8v1.2h-10.8zM163.0 923.9h11.2v1.2h-11.2zM163.0 938.0h11.2v1.2h-11.2zM163.0 1033.0h11.2v2.0h-11.2zM163.0 1039.4h11.2v0.3h-11.2zM201.7 995.5h11.3v2.0h-11.3zM201.7 1050.9h11.3v1.5h-11.3zM227.5 958.8h10.8v1.2h-10.8zM227.5 962.4h10.8v2.4h-10.8zM227.5 1018.8h10.8v0.9h-10.8zM73.0 1074.3h10.8v1.8h-10.8zM99.0 1082.2h10.8v1.8h-10.8zM112.3 1062.4h10.9v1.5h-10.9zM112.3 1067.9h10.9v2.4h-10.9zM112.3 1146.3h10.9v1.5h-10.9zM124.8 1061.7h10.9v1.5h-10.9zM124.8 1068.8h10.9v1.2h-10.9zM124.8 1072.9h10.9v1.8h-10.9zM124.8 1097.0h10.9v2.0h-10.9zM124.8 1102.8h10.9v2.0h-10.9zM124.8 1114.1h10.9v1.5h-10.9zM124.8 1130.4h10.9v2.0h-10.9zM138.2 1135.7h10.8v2.4h-10.8zM138.2 1155.0h10.8v2.0h-10.8zM138.2 1164.1h10.8v0.9h-10.8zM175.8 1064.2h11.2v1.5h-11.2zM175.8 1086.0h11.2v1.5h-11.2zM175.8 1137.9h11.2v1.8h-11.2zM175.8 1141.2h11.2v1.2h-11.2zM201.7 1054.0h11.3v0.2h-11.3z"/><path fill="#fcbaba" d="M21.3 150.0h10.9v1.6h-10.9zM21.3 175.9h10.9v1.6h-10.9zM21.3 223.4h10.9v1.6h-10.9zM48.2 100.0h10.8v1.6h-10.8zM48.2 109.2h10.8v1.6h-10.8zM48.2 140.0h10.8v1.6h-10.8zM48.2 220.9h10.8v1.6h-10.8zM60.0 74.2h11.0v1.6h-11.0zM60.0 85.9h11.0v1.6h-11.0zM60.0 93.4h11.0v1.6h-11.0zM73.5 182.5h10.7v1.6h-10.7zM73.5 187.5h10.7v1.6h-10.7zM73.5 229.2h10.7v1.6h-10.7zM85.6 127.5h10.9v1.6h-10.9zM85.6 187.5h10.9v1.6h-10.9zM111.8 69.5h11.0v1.6h-11.0zM111.8 97.5h11.0v1.6h-11.0zM111.8 220.9h11.0v1.6h-11.0zM124.5 103.4h10.8v1.6h-10.8zM124.5 229.2h10.8v1.6h-10.8zM150.2 69.2h11.0v1.6h-11.0zM150.2 102.5h11.0v1.6h-11.0zM150.2 203.4h11.0v1.6h-11.0zM150.2 212.5h11.0v1.6h-11.0zM164.2 150.0h10.5v1.6h-10.5zM175.8 70.9h10.9v1.6h-10.9zM175.8 124.2h10.9v1.6h-10.9zM175.8 133.0h10.9v1.3h-10.9zM175.8 206.7h10.9v1.6h-10.9zM201.7 185.9h11.3v1.6h-11.3zM201.7 209.2h11.3v1.6h-11.3zM215.6 169.2h10.7v1.6h-10.7zM215.6 177.5h10.7v1.6h-10.7zM215.6 220.0h10.7v1.6h-10.7zM227.5 103.4h10.9v1.6h-10.9zM241.6 215.0h10.6v1.6h-10.6zM253.8 130.9h10.7v1.6h-10.7zM267.2 104.2h10.7v1.6h-10.7zM267.2 137.5h10.7v1.6h-10.7zM267.2 177.5h10.7v1.6h-10.7zM279.3 164.2h10.9v1.6h-10.9zM279.3 192.5h10.9v1.6h-10.9zM279.3 195.9h10.9v1.6h-10.9zM293.0 154.2h10.6v1.6h-10.6zM293.0 157.5h10.6v1.6h-10.6zM293.0 175.9h10.6v1.6h-10.6zM304.7 154.2h10.9v1.6h-10.9zM304.7 164.2h10.9v1.6h-10.9zM318.7 180.9h10.6v1.6h-10.6zM318.7 193.4h10.6v1.6h-10.6zM331.0 77.5h10.8v1.6h-10.8zM344.5 87.5h10.7v1.6h-10.7zM356.8 122.5h10.9v1.6h-10.9zM370.2 125.0h10.8v1.6h-10.8zM370.2 165.0h10.8v1.6h-10.8zM382.7 95.9h10.9v1.6h-10.9zM85.5 410.0h10.3v1.6h-10.3zM73.5 544.2h10.4v1.6h-10.4zM73.5 617.5h10.4v1.6h-10.4zM85.5 614.2h10.3v1.6h-10.3zM21.3 696.7h10.9v1.6h-10.9zM21.3 708.4h10.9v1.6h-10.9zM21.3 752.5h10.9v1.6h-10.9zM47.3 765.0h10.8v1.6h-10.8zM73.5 755.0h10.4v1.6h-10.4zM73.5 777.5h10.4v1.6h-10.4zM99.2 495.0h10.5v1.6h-10.5zM111.6 381.7h10.7v1.6h-10.7zM111.6 401.7h10.7v1.6h-10.7zM111.6 485.0h10.7v1.6h-10.7zM125.6 501.7h10.5v0.8h-10.5zM151.5 410.9h10.4v1.6h-10.4zM111.6 600.9h10.7v1.6h-10.7zM111.6 627.5h10.7v1.6h-10.7zM137.6 600.0h10.6v1.6h-10.6zM137.6 647.5h10.6v1.6h-10.6zM151.5 516.7h10.4v1.6h-10.4zM111.6 753.4h10.7v1.6h-10.7zM137.6 745.0h10.6v1.6h-10.6zM151.5 710.9h10.4v1.6h-10.4zM163.2 705.9h10.1v1.6h-10.1zM176.0 356.7h10.8v1.6h-10.8zM202.6 525.0h10.7v1.6h-10.7zM176.0 774.2h10.8v1.6h-10.8zM214.8 745.9h11.0v1.6h-11.0zM254.5 396.5h10.3v1.6h-10.3zM254.5 443.3h10.3v1.6h-10.3zM266.5 443.9h10.8v1.6h-10.8zM266.5 664.2h10.8v1.6h-10.8zM21.3 922.2h10.9v1.6h-10.9zM21.3 975.5h10.9v1.6h-10.9zM46.7 1005.5h10.9v1.6h-10.9zM59.7 917.2h11.1v1.6h-11.1zM86.5 1018.0h10.5v1.6h-10.5zM124.8 951.4h10.9v1.6h-10.9zM138.2 945.5h10.8v1.3h-10.8zM138.2 952.5h10.8v1.3h-10.8zM150.3 905.5h9.5v1.6h-9.5zM189.7 943.8h10.5v1.3h-10.5zM189.7 963.9h10.5v1.6h-10.5zM201.7 945.5h11.3v1.6h-11.3zM201.7 960.5h11.3v1.6h-11.3zM215.0 1038.9h10.8v1.6h-10.8zM227.5 953.0h10.8v1.6h-10.8zM21.3 1110.0h10.9v1.6h-10.9zM34.2 1070.9h8.9v1.6h-8.9zM46.7 1089.2h10.9v1.6h-10.9zM46.7 1118.3h10.9v1.3h-10.9zM46.7 1137.5h10.9v1.6h-10.9zM59.7 1089.5h11.1v1.3h-11.1zM86.5 1132.5h10.5v1.6h-10.5zM86.5 1178.4h10.5v1.6h-10.5zM99.0 1149.2h10.8v1.6h-10.8zM138.2 1070.9h10.8v1.6h-10.8zM138.2 1084.2h10.8v1.6h-10.8zM138.2 1095.9h10.8v1.6h-10.8zM150.3 1164.2h9.5v1.6h-9.5zM189.7 1091.7h10.5v1.3h-10.5zM189.7 1116.7h10.5v1.6h-10.5zM215.0 1076.7h10.8v1.6h-10.8zM215.0 1140.0h10.8v1.6h-10.8zM215.0 1169.2h10.8v1.6h-10.8zM227.5 1101.7h10.8v1.6h-10.8z"/><path fill="#dedefc" d="M21.3 157.5h10.9v1.6h-10.9zM48.2 146.7h10.8v1.6h-10.8zM48.2 177.5h10.8v1.6h-10.8zM73.5 82.5h10.7v1.6h-10.7zM85.6 72.5h10.9v1.6h-10.9zM85.6 102.5h10.9v1.6h-10.9zM164.2 125.9h10.5v1.6h-10.5zM164.2 190.9h10.5v1.6h-10.5zM189.7 184.2h10.7v1.6h-10.7zM279.3 84.2h10.9v1.6h-10.9zM279.3 102.5h10.9v1.6h-10.9zM304.7 97.5h10.9v1.6h-10.9zM304.7 170.9h10.9v1.6h-10.9zM304.7 210.9h10.9v1.6h-10.9zM318.7 65.0h10.6v1.6h-10.6zM356.8 234.2h10.9v1.6h-10.9zM21.3 349.2h10.9v1.6h-10.9zM59.8 470.9h10.7v1.6h-10.7zM21.3 546.7h10.9v1.6h-10.9zM21.3 649.2h10.9v1.6h-10.9zM73.5 651.7h10.4v1.6h-10.4zM85.5 545.9h10.3v1.6h-10.3zM21.3 800.9h10.9v1.6h-10.9zM125.6 429.2h10.5v1.6h-10.5zM137.6 491.7h10.6v1.6h-10.6zM151.5 350.9h10.4v1.6h-10.4zM163.2 420.0h10.1v1.6h-10.1zM111.6 504.2h10.7v1.6h-10.7zM111.6 580.9h10.7v1.6h-10.7zM111.6 607.5h10.7v1.6h-10.7zM125.6 593.4h10.5v1.6h-10.5zM137.6 644.2h10.6v1.6h-10.6zM163.2 528.4h10.1v1.6h-10.1zM99.2 766.7h10.5v1.6h-10.5zM137.6 760.0h10.6v1.6h-10.6zM163.2 670.9h10.1v1.6h-10.1zM163.2 740.9h10.1v1.6h-10.1zM163.2 769.2h10.1v1.6h-10.1zM176.0 351.7h10.8v1.6h-10.8zM176.0 365.9h10.8v1.6h-10.8zM188.8 495.0h11.0v1.6h-11.0zM228.3 460.9h10.7v1.6h-10.7zM176.0 523.4h10.8v1.6h-10.8zM176.0 585.0h10.8v1.6h-10.8zM176.0 609.2h10.8v1.6h-10.8zM188.8 548.4h11.0v1.6h-11.0zM202.6 605.9h10.7v1.6h-10.7zM214.8 514.2h11.0v1.6h-11.0zM214.8 655.0h11.0v1.6h-11.0zM228.3 585.9h10.7v1.6h-10.7zM228.3 630.9h10.7v1.6h-10.7zM176.0 800.9h10.8v1.6h-10.8zM202.6 660.9h10.7v1.6h-10.7zM254.5 505.8h10.3v1.6h-10.3zM266.5 383.7h10.8v1.6h-10.8zM266.5 506.7h10.8v1.6h-10.8zM254.5 677.0h10.3v1.6h-10.3zM254.5 710.1h10.3v1.6h-10.3zM266.5 684.4h10.8v1.6h-10.8zM266.5 689.9h10.8v1.6h-10.8zM21.3 993.0h10.9v1.6h-10.9zM34.2 932.2h8.9v1.6h-8.9zM86.5 1026.4h10.5v1.6h-10.5zM99.0 913.9h10.8v1.6h-10.8zM124.8 987.2h10.9v1.6h-10.9zM150.3 909.7h9.5v1.6h-9.5zM150.3 1019.7h9.5v1.6h-9.5zM163.0 909.7h11.2v1.6h-11.2zM215.0 937.2h10.8v1.6h-10.8zM215.0 952.2h10.8v1.6h-10.8zM215.0 980.5h10.8v1.6h-10.8zM21.3 1100.9h10.9v1.6h-10.9zM34.2 1129.2h8.9v1.6h-8.9zM46.7 1065.9h10.9v1.6h-10.9zM46.7 1109.2h10.9v1.6h-10.9zM46.7 1149.2h10.9v1.6h-10.9zM59.7 1135.5h11.1v1.6h-11.1zM86.5 1079.2h10.5v1.6h-10.5zM86.5 1101.7h10.5v1.6h-10.5zM138.2 1108.4h10.8v1.6h-10.8zM163.0 1100.9h11.2v1.6h-11.2zM215.0 1142.5h10.8v1.6h-10.8zM227.5 1126.7h10.8v1.6h-10.8z"/><path fill="#d8d8f6" d="M21.3 163.4h10.9v1.6h-10.9zM21.3 232.5h10.9v1.6h-10.9zM34.2 122.8h10.8v2.4h-10.8zM34.2 172.5h10.8v1.6h-10.8zM34.2 234.2h10.8v1.6h-10.8zM48.2 81.7h10.8v2.0h-10.8zM48.2 104.2h10.8v1.6h-10.8zM48.2 212.5h10.8v1.6h-10.8zM73.5 69.2h10.7v1.6h-10.7zM73.5 85.9h10.7v1.6h-10.7zM73.5 125.0h10.7v1.6h-10.7zM85.6 69.2h10.9v1.6h-10.9zM85.6 85.7h10.9v0.2h-10.9zM111.8 187.8h11.0v1.2h-11.0zM138.4 125.0h10.8v1.6h-10.8zM138.4 188.3h10.8v1.5h-10.8zM164.2 81.7h10.5v1.6h-10.5zM175.8 139.2h10.9v1.6h-10.9zM189.7 60.7h10.7v1.8h-10.7zM189.7 170.9h10.7v1.6h-10.7zM227.5 62.5h10.9v1.6h-10.9zM241.6 183.4h10.6v1.6h-10.6zM293.0 60.0h10.6v1.6h-10.6zM293.0 170.9h10.6v1.6h-10.6zM304.7 179.2h10.9v1.6h-10.9zM304.7 227.5h10.9v1.6h-10.9zM21.3 470.0h10.9v1.6h-10.9zM34.2 395.0h10.7v2.0h-10.7zM34.2 460.9h10.7v1.6h-10.7zM59.8 435.0h10.7v2.4h-10.7zM59.8 437.4h10.7v1.5h-10.7zM59.8 438.9h10.7v1.1h-10.7zM59.8 495.0h10.7v1.6h-10.7zM59.8 500.9h10.7v1.6h-10.7zM85.5 380.0h10.3v1.6h-10.3zM85.5 434.2h10.3v1.6h-10.3zM85.5 447.5h10.3v1.6h-10.3zM21.3 537.5h10.9v1.6h-10.9zM59.8 516.2h10.7v2.2h-10.7zM59.8 630.9h10.7v1.6h-10.7zM59.8 635.9h10.7v1.6h-10.7zM21.3 671.7h10.9v1.6h-10.9zM21.3 737.5h10.9v1.5h-10.9zM21.3 739.0h10.9v2.4h-10.9zM21.3 756.7h10.9v1.7h-10.9zM47.3 723.2h10.8v1.8h-10.8zM47.3 728.0h10.8v0.4h-10.8zM73.5 695.0h10.4v1.6h-10.4zM85.5 658.3h10.3v1.2h-10.3zM99.2 473.4h10.5v1.6h-10.5zM111.6 395.9h10.7v1.6h-10.7zM111.6 461.7h10.7v1.8h-10.7zM137.6 396.4h10.6v2.0h-10.6zM137.6 398.4h10.6v1.5h-10.6zM137.6 399.9h10.6v0.1h-10.6zM151.5 474.2h10.4v1.6h-10.4zM163.2 399.2h10.1v1.6h-10.1zM163.2 425.9h10.1v1.6h-10.1zM163.2 439.2h10.1v1.6h-10.1zM99.2 527.5h10.5v1.6h-10.5zM111.6 638.4h10.7v1.6h-10.7zM125.6 538.4h10.5v1.6h-10.5zM137.6 612.9h10.6v1.3h-10.6zM151.5 554.2h10.4v1.6h-10.4zM163.2 593.4h10.1v1.6h-10.1zM163.2 644.2h10.1v1.6h-10.1zM125.6 674.5h10.5v1.3h-10.5zM163.2 734.2h10.1v1.6h-10.1zM163.2 800.9h10.1v1.6h-10.1zM176.0 380.0h10.8v2.0h-10.8zM176.0 406.7h10.8v1.7h-10.8zM188.8 470.7h11.0v0.9h-11.0zM202.6 369.2h10.7v1.6h-10.7zM202.6 402.5h10.7v1.6h-10.7zM214.8 385.0h11.0v2.4h-11.0zM214.8 391.0h11.0v0.7h-11.0zM214.8 466.2h11.0v1.2h-11.0zM228.3 349.2h10.7v1.6h-10.7zM228.3 411.7h10.7v1.5h-10.7zM202.6 517.5h10.7v1.6h-10.7zM202.6 621.7h10.7v1.6h-10.7zM202.6 645.0h10.7v1.8h-10.7zM228.3 539.3h10.7v0.7h-10.7zM228.3 609.7h10.7v2.0h-10.7zM176.0 684.2h10.8v1.6h-10.8zM214.8 668.4h11.0v1.6h-11.0zM214.8 685.3h11.0v1.4h-11.0zM214.8 754.2h11.0v1.6h-11.0zM228.3 677.8h10.7v1.2h-10.7zM228.3 800.9h10.7v1.6h-10.7zM240.7 760.0h11.3v1.5h-11.3zM240.7 762.7h11.3v0.6h-11.3zM240.7 779.5h11.3v2.0h-11.3zM254.5 371.7h10.3v1.6h-10.3zM254.5 461.7h10.3v1.6h-10.3zM254.5 529.6h10.3v1.6h-10.3zM254.5 548.0h10.3v1.6h-10.3zM266.5 435.1h10.8v1.6h-10.8zM266.5 453.3h10.8v2.4h-10.8zM266.5 455.7h10.8v1.3h-10.8zM266.5 514.0h10.8v1.6h-10.8zM254.5 666.8h10.3v1.5h-10.3zM254.5 668.3h10.3v1.5h-10.3zM254.5 760.5h10.3v1.6h-10.3zM266.5 597.0h10.8v1.2h-10.8zM266.5 603.6h10.8v0.8h-10.8zM266.5 763.3h10.8v1.6h-10.8zM21.3 970.5h10.9v1.6h-10.9zM34.2 987.2h8.9v1.6h-8.9zM99.0 955.5h10.8v2.0h-10.8zM99.0 957.5h10.8v2.0h-10.8zM112.3 905.5h10.9v1.6h-10.9zM112.3 918.8h10.9v2.4h-10.9zM112.3 969.7h10.9v1.6h-10.9zM124.8 1049.7h10.9v2.4h-10.9zM138.2 1014.1h10.8v0.5h-10.8zM163.0 965.5h11.2v1.6h-11.2zM21.3 1163.3h10.9v2.4h-10.9zM34.2 1160.9h8.9v1.6h-8.9zM59.7 1140.0h11.1v1.6h-11.1zM59.7 1153.9h11.1v1.6h-11.1zM73.0 1163.4h10.8v1.6h-10.8zM150.3 1069.2h9.5v1.6h-9.5zM150.3 1134.2h9.5v1.6h-9.5zM163.0 1173.4h11.2v1.6h-11.2z"/><path fill="#aeaef0" d="M21.3 168.4h10.9v1.6h-10.9zM48.2 160.9h10.8v1.6h-10.8zM48.2 187.5h10.8v1.6h-10.8zM48.2 216.7h10.8v1.6h-10.8zM60.0 121.7h11.0v1.6h-11.0zM60.0 163.4h11.0v1.6h-11.0zM85.6 224.2h10.9v1.6h-10.9zM99.6 102.5h10.6v1.6h-10.6zM111.8 61.7h11.0v1.6h-11.0zM111.8 144.2h11.0v1.6h-11.0zM111.8 169.2h11.0v1.6h-11.0zM138.4 148.4h10.8v1.6h-10.8zM138.4 158.4h10.8v1.6h-10.8zM150.2 80.9h11.0v1.6h-11.0zM164.2 122.5h10.5v1.6h-10.5zM164.2 134.2h10.5v1.6h-10.5zM164.2 162.5h10.5v1.6h-10.5zM164.2 174.2h10.5v1.6h-10.5zM164.2 194.2h10.5v1.6h-10.5zM201.7 195.9h11.3v1.6h-11.3zM215.6 115.9h10.7v1.6h-10.7zM227.5 108.4h10.9v1.6h-10.9zM227.5 179.2h10.9v1.6h-10.9zM227.5 187.5h10.9v1.6h-10.9zM241.6 60.9h10.6v1.6h-10.6zM241.6 87.5h10.6v1.6h-10.6zM241.6 222.5h10.6v1.6h-10.6zM253.8 106.7h10.7v1.6h-10.7zM293.0 132.5h10.6v1.6h-10.6zM304.7 132.5h10.9v1.6h-10.9zM304.7 141.7h10.9v1.6h-10.9zM318.7 225.0h10.6v1.6h-10.6zM331.0 190.9h10.8v1.6h-10.8zM344.5 127.5h10.7v1.6h-10.7zM344.5 234.2h10.7v1.6h-10.7zM370.2 60.0h10.8v1.6h-10.8zM370.2 137.5h10.8v1.6h-10.8zM370.2 190.9h10.8v1.6h-10.8zM370.2 199.2h10.8v1.6h-10.8zM382.7 170.9h10.9v1.6h-10.9zM382.7 190.9h10.9v1.6h-10.9zM382.7 200.0h10.9v1.6h-10.9zM21.3 422.5h10.9v1.6h-10.9zM21.3 427.5h10.9v1.6h-10.9zM21.3 482.5h10.9v1.6h-10.9zM85.5 474.2h10.3v1.6h-10.3zM85.5 487.5h10.3v1.6h-10.3zM21.3 599.2h10.9v1.6h-10.9zM21.3 637.5h10.9v1.6h-10.9zM59.8 544.2h10.7v1.6h-10.7zM73.5 585.0h10.4v1.6h-10.4zM85.5 507.5h10.3v1.6h-10.3zM85.5 525.0h10.3v1.6h-10.3zM85.5 639.2h10.3v1.6h-10.3zM34.2 759.2h10.7v1.6h-10.7zM34.2 795.9h10.7v1.6h-10.7zM47.3 717.5h10.8v1.6h-10.8zM85.5 710.9h10.3v1.6h-10.3zM111.6 437.5h10.7v1.6h-10.7zM125.6 392.5h10.5v1.6h-10.5zM137.6 418.4h10.6v1.6h-10.6zM137.6 444.2h10.6v1.6h-10.6zM137.6 460.0h10.6v1.6h-10.6zM151.5 360.9h10.4v1.6h-10.4zM163.2 360.9h10.1v1.6h-10.1zM99.2 502.5h10.5v1.6h-10.5zM99.2 537.5h10.5v1.6h-10.5zM99.2 594.2h10.5v1.3h-10.5zM163.2 513.4h10.1v1.6h-10.1zM111.6 791.7h10.7v1.6h-10.7zM111.6 799.2h10.7v1.6h-10.7zM137.6 718.4h10.6v1.6h-10.6zM176.0 410.0h10.8v1.6h-10.8zM176.0 429.2h10.8v1.6h-10.8zM176.0 445.0h10.8v1.6h-10.8zM188.8 490.9h11.0v1.6h-11.0zM214.8 430.8h11.0v1.3h-11.0zM214.8 500.9h11.0v1.6h-11.0zM240.7 429.2h11.3v1.6h-11.3zM176.0 555.0h10.8v1.6h-10.8zM188.8 502.5h11.0v1.6h-11.0zM188.8 520.9h11.0v1.6h-11.0zM202.6 511.7h10.7v1.6h-10.7zM202.6 544.2h10.7v1.6h-10.7zM214.8 543.4h11.0v1.6h-11.0zM188.8 804.2h11.0v1.6h-11.0zM202.6 675.5h10.7v1.6h-10.7zM202.6 711.7h10.7v1.6h-10.7zM202.6 793.4h10.7v1.6h-10.7zM214.8 704.2h11.0v1.6h-11.0zM214.8 792.5h11.0v1.6h-11.0zM240.7 710.9h11.3v1.6h-11.3zM254.5 448.8h10.3v1.6h-10.3zM254.5 554.4h10.3v1.6h-10.3zM266.5 362.0h10.8v1.6h-10.8zM266.5 499.3h10.8v1.6h-10.8zM266.5 559.0h10.8v1.6h-10.8zM254.5 755.0h10.3v1.6h-10.3zM254.5 767.0h10.3v1.6h-10.3zM266.5 695.4h10.8v1.6h-10.8zM21.3 911.4h10.9v1.6h-10.9zM21.3 964.7h10.9v1.6h-10.9zM21.3 985.5h10.9v1.6h-10.9zM46.7 1048.0h10.9v1.6h-10.9zM86.5 931.7h10.5v1.3h-10.5zM86.5 1042.2h10.5v1.6h-10.5zM99.0 910.5h10.8v1.6h-10.8zM99.0 928.9h10.8v1.6h-10.8zM112.3 935.2h10.9v1.6h-10.9zM124.8 973.0h10.9v1.6h-10.9zM124.8 983.0h10.9v1.6h-10.9zM138.2 934.7h10.8v1.6h-10.8zM138.2 970.5h10.8v1.6h-10.8zM138.2 1023.0h10.8v1.6h-10.8zM150.3 945.5h9.5v1.6h-9.5zM150.3 982.2h9.5v1.6h-9.5zM175.8 903.9h11.2v1.6h-11.2zM175.8 984.7h11.2v1.6h-11.2zM175.8 1048.9h11.2v1.6h-11.2zM189.7 918.0h10.5v1.6h-10.5zM189.7 968.9h10.5v1.6h-10.5zM215.0 1025.5h10.8v1.6h-10.8zM227.5 933.4h10.8v1.3h-10.8zM227.5 1053.9h10.8v0.1h-10.8zM46.7 1167.9h10.9v1.3h-10.9zM73.0 1122.5h10.8v1.6h-10.8zM138.2 1055.9h10.8v1.6h-10.8zM138.2 1058.4h10.8v1.6h-10.8zM163.0 1150.0h11.2v1.3h-11.2zM163.0 1160.9h11.2v1.6h-11.2zM163.0 1165.9h11.2v1.6h-11.2zM175.8 1171.7h11.2v1.6h-11.2zM175.8 1178.4h11.2v1.6h-11.2zM189.7 1141.7h10.5v1.6h-10.5zM189.7 1167.5h10.5v1.3h-10.5zM215.0 1105.0h10.8v1.6h-10.8zM215.0 1150.0h10.8v1.6h-10.8zM227.5 1054.2h10.8v1.6h-10.8zM227.5 1150.0h10.8v1.3h-10.8z"/><path fill="#4e4eea" d="M21.3 195.3h10.9v0.5h-10.9zM34.2 120.8h10.8v2.0h-10.8zM34.2 132.3h10.8v1.0h-10.8zM34.2 143.9h10.8v1.1h-10.8zM85.6 114.4h10.9v1.2h-10.9zM99.6 141.7h10.6v1.5h-10.6zM111.8 159.5h11.0v0.5h-11.0zM124.5 141.0h10.8v2.4h-10.8zM124.5 174.5h10.8v1.8h-10.8zM124.5 183.3h10.8v2.0h-10.8zM124.5 190.8h10.8v1.2h-10.8zM138.4 117.5h10.8v2.4h-10.8zM138.4 119.9h10.8v0.1h-10.8zM150.2 131.1h11.0v1.2h-11.0zM150.2 132.3h11.0v1.1h-11.0zM189.7 64.5h10.7v2.4h-10.7zM189.7 90.0h10.7v0.8h-10.7zM189.7 111.2h10.7v0.5h-10.7zM189.7 113.3h10.7v2.0h-10.7zM189.7 115.3h10.7v1.2h-10.7zM189.7 123.3h10.7v1.8h-10.7zM201.7 128.3h11.3v1.8h-11.3zM201.7 130.1h11.3v2.0h-11.3zM201.7 141.6h11.3v1.5h-11.3zM201.7 153.3h11.3v2.0h-11.3zM279.3 123.3h10.9v2.0h-10.9zM318.7 162.2h10.6v2.0h-10.6zM331.0 104.1h10.8v0.9h-10.8zM344.5 116.7h10.7v1.5h-10.7zM356.8 103.2h10.9v0.2h-10.9zM356.8 115.0h10.9v2.4h-10.9zM370.2 228.2h10.8v0.1h-10.8zM34.2 435.5h10.7v1.8h-10.7zM34.2 452.0h10.7v1.8h-10.7zM47.3 374.0h10.8v2.4h-10.8zM47.3 385.6h10.8v1.5h-10.8zM85.5 377.6h10.3v0.7h-10.3zM34.2 775.4h10.7v1.2h-10.7zM73.5 732.5h10.4v0.8h-10.4zM85.5 720.1h10.3v0.7h-10.3zM85.5 771.7h10.3v2.4h-10.3zM176.0 424.0h10.8v1.0h-10.8zM176.0 466.0h10.8v1.5h-10.8zM188.8 377.5h11.0v2.0h-11.0zM188.8 405.5h11.0v2.0h-11.0zM202.6 374.2h10.7v1.5h-10.7zM202.6 430.8h10.7v2.0h-10.7zM188.8 558.7h11.0v2.4h-11.0zM188.8 580.0h11.0v1.8h-11.0zM214.8 596.5h11.0v1.0h-11.0zM228.3 555.7h10.7v1.5h-10.7zM228.3 562.5h10.7v0.8h-10.7zM240.7 530.8h11.3v2.4h-11.3zM240.7 626.1h11.3v0.6h-11.3zM240.7 638.6h11.3v2.4h-11.3zM188.8 658.3h11.0v1.2h-11.0zM188.8 669.4h11.0v2.0h-11.0zM188.8 715.7h11.0v1.0h-11.0zM188.8 718.3h11.0v2.4h-11.0zM202.6 740.8h10.7v1.7h-10.7zM228.3 718.3h10.7v1.8h-10.7zM228.3 740.8h10.7v1.8h-10.7zM228.3 791.2h10.7v1.2h-10.7zM240.7 662.0h11.3v2.4h-11.3zM240.7 789.1h11.3v1.2h-11.3zM254.5 380.7h10.3v1.5h-10.3zM254.5 572.6h10.3v1.5h-10.3zM254.5 654.9h10.3v2.0h-10.3zM21.3 1035.2h10.9v1.2h-10.9zM21.3 1039.8h10.9v1.8h-10.9zM21.3 1047.0h10.9v1.0h-10.9zM34.2 1017.0h8.9v1.8h-8.9zM34.2 1031.3h8.9v1.5h-8.9zM112.3 1038.0h10.9v1.7h-10.9zM124.8 991.3h10.9v2.0h-10.9zM124.8 1033.7h10.9v1.5h-10.9zM163.0 994.3h11.2v1.5h-11.2zM163.0 995.8h11.2v1.5h-11.2zM163.0 997.3h11.2v0.7h-11.2zM163.0 1012.8h11.2v1.9h-11.2zM163.0 1015.5h11.2v1.2h-11.2zM163.0 1016.7h11.2v2.0h-11.2zM163.0 1018.7h11.2v1.8h-11.2zM163.0 1029.3h11.2v1.5h-11.2zM175.8 929.9h11.2v1.5h-11.2zM201.7 1047.1h11.3v2.0h-11.3zM227.5 1041.3h10.8v1.5h-10.8zM21.3 1054.0h10.9v1.0h-10.9zM21.3 1087.0h10.9v0.5h-10.9zM59.7 1068.2h11.1v1.5h-11.1zM73.0 1097.9h10.8v0.5h-10.8zM99.0 1088.2h10.8v0.1h-10.8zM112.3 1176.0h10.9v2.0h-10.9zM124.8 1090.3h10.9v2.0h-10.9zM124.8 1092.3h10.9v1.0h-10.9zM124.8 1133.0h10.9v1.2h-10.9zM124.8 1145.3h10.9v1.8h-10.9zM227.5 1115.1h10.8v1.2h-10.8z"/><path fill="#2424f0" d="M21.3 204.2h10.9v2.0h-10.9zM34.2 204.2h10.8v1.5h-10.8zM73.5 114.5h10.7v2.4h-10.7zM99.6 173.3h10.6v1.7h-10.6zM99.6 199.8h10.6v1.5h-10.6zM124.5 151.7h10.8v2.0h-10.8zM124.5 156.1h10.8v1.8h-10.8zM124.5 192.0h10.8v2.4h-10.8zM124.5 207.7h10.8v0.6h-10.8zM150.2 159.8h11.0v0.2h-11.0zM150.2 169.5h11.0v0.5h-11.0zM189.7 66.9h10.7v1.4h-10.7zM189.7 71.2h10.7v1.5h-10.7zM189.7 125.1h10.7v1.5h-10.7zM189.7 156.7h10.7v2.0h-10.7zM201.7 118.3h11.3v2.0h-11.3zM201.7 135.0h11.3v1.5h-11.3zM227.5 135.0h10.9v2.4h-10.9zM227.5 137.4h10.9v2.0h-10.9zM267.2 130.9h10.7v2.0h-10.7zM279.3 129.8h10.9v1.2h-10.9zM318.7 133.9h10.6v1.1h-10.6zM331.0 121.5h10.8v1.8h-10.8zM331.0 123.3h10.8v1.7h-10.8zM370.2 182.5h10.8v1.6h-10.8zM382.7 117.7h10.9v1.8h-10.9zM382.7 119.5h10.9v1.5h-10.9zM382.7 127.5h10.9v1.6h-10.9zM34.2 416.7h10.7v1.6h-10.7zM34.2 421.2h10.7v1.3h-10.7zM85.5 630.9h10.3v1.6h-10.3zM34.2 776.6h10.7v2.0h-10.7zM151.5 513.9h10.4v1.6h-10.4zM188.8 463.9h11.0v1.6h-11.0zM202.6 444.5h10.7v1.3h-10.7zM240.7 379.4h11.3v1.8h-11.3zM240.7 389.3h11.3v2.4h-11.3zM240.7 391.7h11.3v0.8h-11.3zM240.7 489.5h11.3v2.4h-11.3zM240.7 497.3h11.3v1.8h-11.3zM188.8 581.8h11.0v2.0h-11.0zM188.8 597.1h11.0v1.2h-11.0zM188.8 603.5h11.0v1.5h-11.0zM188.8 619.2h11.0v1.6h-11.0zM202.6 578.2h10.7v1.5h-10.7zM202.6 587.0h10.7v2.4h-10.7zM202.6 590.0h10.7v0.8h-10.7zM214.8 536.7h11.0v1.6h-11.0zM228.3 644.2h10.7v1.3h-10.7zM240.7 502.5h11.3v0.8h-11.3zM240.7 565.0h11.3v1.8h-11.3zM240.7 584.9h11.3v2.4h-11.3zM240.7 588.8h11.3v1.2h-11.3zM240.7 643.4h11.3v1.6h-11.3zM188.8 699.0h11.0v2.4h-11.0zM188.8 734.7h11.0v1.8h-11.0zM188.8 767.3h11.0v1.5h-11.0zM188.8 768.8h11.0v0.3h-11.0zM188.8 785.0h11.0v2.0h-11.0zM240.7 658.3h11.3v0.9h-11.3zM240.7 667.1h11.3v2.0h-11.3zM240.7 691.4h11.3v0.2h-11.3zM240.7 755.9h11.3v2.4h-11.3zM240.7 765.0h11.3v1.6h-11.3zM240.7 796.7h11.3v1.6h-11.3zM254.5 574.1h10.3v2.0h-10.3zM254.5 596.7h10.3v2.4h-10.3zM254.5 599.9h10.3v2.0h-10.3zM254.5 603.4h10.3v1.2h-10.3zM21.3 1030.7h10.9v0.6h-10.9zM21.3 1032.2h10.9v1.5h-10.9zM21.3 1033.7h10.9v1.5h-10.9zM34.2 1045.3h8.9v1.2h-8.9zM73.0 1047.4h10.8v0.6h-10.8zM99.0 992.2h10.8v1.6h-10.8zM112.3 1020.5h10.9v1.2h-10.9zM112.3 1036.5h10.9v1.5h-10.9zM112.3 1045.1h10.9v1.2h-10.9zM124.8 1014.0h10.9v1.2h-10.9zM124.8 1027.6h10.9v1.5h-10.9zM124.8 1042.3h10.9v1.5h-10.9zM175.8 1009.5h11.2v1.2h-11.2zM175.8 1010.7h11.2v0.6h-11.2zM175.8 1031.5h11.2v1.5h-11.2zM201.7 983.8h11.3v2.4h-11.3zM201.7 1007.2h11.3v1.6h-11.3zM99.0 1102.2h10.8v1.6h-10.8zM112.3 1083.5h10.9v1.8h-10.9zM112.3 1097.9h10.9v1.8h-10.9zM112.3 1119.0h10.9v1.0h-10.9zM112.3 1171.2h10.9v0.5h-10.9zM124.8 1117.6h10.9v1.2h-10.9zM124.8 1160.3h10.9v2.0h-10.9zM124.8 1162.3h10.9v1.1h-10.9zM124.8 1178.6h10.9v1.2h-10.9zM163.0 1115.3h11.2v1.8h-11.2zM163.0 1135.1h11.2v1.5h-11.2zM175.8 1054.0h11.2v0.2h-11.2zM175.8 1116.7h11.2v2.0h-11.2zM175.8 1142.4h11.2v2.0h-11.2z"/><path fill="#1818f0" d="M21.3 206.2h10.9v1.3h-10.9zM34.2 135.0h10.8v1.5h-10.8zM34.2 142.7h10.8v1.2h-10.8zM34.2 197.9h10.8v1.5h-10.8zM34.2 199.4h10.8v0.6h-10.8zM34.2 206.3h10.8v1.2h-10.8zM99.6 89.2h10.6v1.7h-10.6zM99.6 201.3h10.6v0.3h-10.6zM124.5 117.5h10.8v2.4h-10.8zM124.5 138.6h10.8v1.2h-10.8zM124.5 206.5h10.8v1.2h-10.8zM150.2 168.3h11.0v1.2h-11.0zM164.2 129.2h10.5v1.6h-10.5zM201.7 88.9h11.3v1.6h-11.3zM201.7 120.3h11.3v1.3h-11.3zM201.7 145.8h11.3v1.2h-11.3zM201.7 147.0h11.3v1.3h-11.3zM215.6 119.2h10.7v1.2h-10.7zM215.6 120.4h10.7v1.3h-10.7zM227.5 139.4h10.9v1.2h-10.9zM267.2 132.9h10.7v0.4h-10.7zM304.7 127.5h10.9v1.6h-10.9zM344.5 132.5h10.7v1.6h-10.7zM356.8 70.9h10.9v1.6h-10.9zM382.7 77.5h10.9v1.8h-10.9zM382.7 116.2h10.9v1.5h-10.9zM382.7 138.2h10.9v1.5h-10.9zM382.7 146.6h10.9v2.0h-10.9zM382.7 155.3h10.9v1.4h-10.9zM34.2 372.5h10.7v2.0h-10.7zM34.2 400.4h10.7v1.3h-10.7zM47.3 423.8h10.8v0.3h-10.8zM73.5 630.0h10.4v1.7h-10.4zM85.5 584.2h10.3v1.8h-10.3zM85.5 586.0h10.3v0.7h-10.3zM34.2 763.4h10.7v1.6h-10.7zM34.2 782.5h10.7v2.4h-10.7zM73.5 729.8h10.4v1.5h-10.4zM188.8 350.9h11.0v1.6h-11.0zM240.7 368.2h11.3v2.0h-11.3zM240.7 381.2h11.3v1.3h-11.3zM240.7 420.0h11.3v1.8h-11.3zM240.7 432.0h11.3v1.3h-11.3zM240.7 448.3h11.3v2.0h-11.3zM240.7 451.1h11.3v0.5h-11.3zM240.7 471.3h11.3v1.2h-11.3zM202.6 579.7h10.7v0.3h-10.7zM214.8 584.1h11.0v1.8h-11.0zM240.7 505.0h11.3v1.6h-11.3zM240.7 556.7h11.3v0.8h-11.3zM176.0 729.5h10.8v1.3h-10.8zM188.8 674.9h11.0v0.1h-11.0zM188.8 689.2h11.0v1.2h-11.0zM188.8 709.3h11.0v2.0h-11.0zM188.8 711.3h11.0v2.4h-11.0zM188.8 713.7h11.0v2.0h-11.0zM188.8 802.4h11.0v0.9h-11.0zM228.3 754.5h10.7v1.3h-10.7zM240.7 678.3h11.3v1.5h-11.3zM240.7 707.2h11.3v1.6h-11.3zM240.7 715.0h11.3v1.2h-11.3zM240.7 716.2h11.3v2.4h-11.3zM240.7 721.7h11.3v1.5h-11.3zM240.7 725.6h11.3v1.8h-11.3zM240.7 751.7h11.3v2.4h-11.3zM254.5 366.6h10.3v1.3h-10.3zM254.5 577.0h10.3v1.2h-10.3zM254.5 581.4h10.3v1.8h-10.3zM254.5 613.7h10.3v1.8h-10.3zM254.5 617.0h10.3v1.8h-10.3zM254.5 626.5h10.3v1.8h-10.3zM254.5 634.7h10.3v0.9h-10.3zM254.5 646.5h10.3v2.0h-10.3zM254.5 742.0h10.3v1.2h-10.3zM254.5 743.2h10.3v2.4h-10.3zM73.0 1019.7h10.8v1.8h-10.8zM73.0 1021.5h10.8v1.8h-10.8zM73.0 1034.5h10.8v2.4h-10.8zM112.3 1004.2h10.9v0.5h-10.9zM112.3 1015.4h10.9v1.2h-10.9zM112.3 1016.6h10.9v1.5h-10.9zM112.3 1033.0h10.9v1.5h-10.9zM112.3 1034.5h10.9v2.0h-10.9zM124.8 1015.2h10.9v1.1h-10.9zM124.8 1040.5h10.9v1.8h-10.9zM138.2 1027.2h10.8v1.8h-10.8zM163.0 927.2h11.2v2.4h-11.2zM163.0 939.2h11.2v1.5h-11.2zM163.0 946.7h11.2v1.3h-11.2zM163.0 1001.2h11.2v1.2h-11.2zM175.8 918.8h11.2v2.0h-11.2zM175.8 937.2h11.2v1.8h-11.2zM175.8 951.4h11.2v1.6h-11.2zM175.8 991.3h11.2v1.5h-11.2zM175.8 1001.2h11.2v2.0h-11.2zM175.8 1038.8h11.2v2.0h-11.2zM175.8 1040.8h11.2v2.0h-11.2zM201.7 992.2h11.3v1.6h-11.3zM201.7 1003.9h11.3v0.8h-11.3zM227.5 1027.1h10.8v0.9h-10.8zM21.3 1055.0h10.9v2.0h-10.9zM21.3 1057.0h10.9v0.5h-10.9zM99.0 1097.7h10.8v2.3h-10.8zM112.3 1073.3h10.9v1.8h-10.9zM112.3 1089.1h10.9v1.8h-10.9zM112.3 1179.8h10.9v1.8h-10.9zM124.8 1076.2h10.9v2.4h-10.9zM124.8 1095.0h10.9v2.0h-10.9zM124.8 1112.9h10.9v1.2h-10.9zM124.8 1143.3h10.9v2.0h-10.9zM124.8 1148.3h10.9v1.2h-10.9zM124.8 1168.2h10.9v1.5h-10.9zM138.2 1062.9h10.8v1.3h-10.8zM163.0 1061.3h11.2v1.5h-11.2zM163.0 1062.8h11.2v1.5h-11.2zM163.0 1070.7h11.2v1.8h-11.2zM175.8 1075.9h11.2v1.6h-11.2zM175.8 1125.0h11.2v1.5h-11.2zM175.8 1132.7h11.2v1.5h-11.2zM189.7 1098.4h10.5v1.6h-10.5zM215.0 1072.9h10.8v1.3h-10.8zM227.5 1105.0h10.8v1.6h-10.8z"/><path fill="#f69c9c" d="M21.3 209.2h10.9v1.6h-10.9zM48.2 230.9h10.8v1.6h-10.8zM60.0 96.7h11.0v1.6h-11.0zM85.6 93.3h10.9v1.3h-10.9zM85.6 180.9h10.9v1.6h-10.9zM111.8 79.2h11.0v1.6h-11.0zM138.4 75.9h10.8v1.6h-10.8zM138.4 100.0h10.8v1.6h-10.8zM138.4 220.9h10.8v1.6h-10.8zM164.2 137.5h10.5v1.6h-10.5zM175.8 156.7h10.9v1.6h-10.9zM189.7 220.9h10.7v1.6h-10.7zM215.6 60.0h10.7v1.6h-10.7zM215.6 100.0h10.7v1.6h-10.7zM215.6 111.7h10.7v1.6h-10.7zM215.6 163.4h10.7v1.6h-10.7zM215.6 229.2h10.7v1.6h-10.7zM241.6 145.0h10.6v1.6h-10.6zM241.6 187.5h10.6v1.6h-10.6zM253.8 72.5h10.7v1.6h-10.7zM253.8 100.0h10.7v1.6h-10.7zM267.2 100.0h10.7v1.6h-10.7zM267.2 195.9h10.7v1.6h-10.7zM279.3 89.2h10.9v1.6h-10.9zM279.3 155.9h10.9v1.6h-10.9zM304.7 72.5h10.9v1.6h-10.9zM318.7 168.4h10.6v1.6h-10.6zM318.7 196.7h10.6v1.6h-10.6zM331.0 168.4h10.8v1.6h-10.8zM331.0 206.7h10.8v1.6h-10.8zM344.5 99.2h10.7v1.6h-10.7zM344.5 181.2h10.7v1.3h-10.7zM344.5 206.7h10.7v1.3h-10.7zM370.2 167.5h10.8v1.6h-10.8zM382.7 89.2h10.9v1.6h-10.9zM59.8 380.9h10.7v1.6h-10.7zM59.8 389.2h10.7v1.6h-10.7zM85.5 365.0h10.3v1.6h-10.3zM73.5 562.5h10.4v1.6h-10.4zM73.5 622.5h10.4v1.6h-10.4zM21.3 715.9h10.9v1.6h-10.9zM21.3 733.9h10.9v1.6h-10.9zM21.3 793.9h10.9v1.6h-10.9zM47.3 713.4h10.8v1.6h-10.8zM47.3 732.5h10.8v1.6h-10.8zM73.5 765.9h10.4v1.6h-10.4zM111.6 447.5h10.7v1.6h-10.7zM111.6 476.7h10.7v1.6h-10.7zM125.6 457.5h10.5v1.6h-10.5zM125.6 510.0h10.5v1.6h-10.5zM125.6 534.2h10.5v1.6h-10.5zM125.6 599.2h10.5v1.6h-10.5zM137.6 629.2h10.6v1.6h-10.6zM151.5 550.5h10.4v1.6h-10.4zM151.5 618.4h10.4v1.6h-10.4zM163.2 628.4h10.1v1.6h-10.1zM111.6 728.4h10.7v1.6h-10.7zM125.6 730.0h10.5v1.6h-10.5zM125.6 755.9h10.5v1.6h-10.5zM125.6 782.2h10.5v1.6h-10.5zM137.6 679.2h10.6v1.6h-10.6zM137.6 693.9h10.6v1.6h-10.6zM137.6 701.2h10.6v1.6h-10.6zM163.2 795.0h10.1v1.6h-10.1zM176.0 488.4h10.8v1.6h-10.8zM202.6 655.0h10.7v1.6h-10.7zM228.3 527.5h10.7v1.6h-10.7zM202.6 745.0h10.7v1.6h-10.7zM202.6 771.7h10.7v1.6h-10.7zM202.6 777.9h10.7v1.3h-10.7zM228.3 702.5h10.7v1.6h-10.7zM266.5 673.9h10.8v1.6h-10.8zM266.5 711.9h10.8v1.6h-10.8zM34.2 923.0h8.9v1.6h-8.9zM34.2 1005.2h8.9v1.6h-8.9zM46.7 1043.9h10.9v1.6h-10.9zM46.7 1051.4h10.9v1.6h-10.9zM59.7 904.7h11.1v1.6h-11.1zM59.7 908.9h11.1v1.6h-11.1zM59.7 1011.4h11.1v1.6h-11.1zM73.0 983.9h10.8v1.6h-10.8zM73.0 1010.5h10.8v1.6h-10.8zM86.5 933.0h10.5v1.3h-10.5zM86.5 975.5h10.5v1.6h-10.5zM99.0 920.8h10.8v1.3h-10.8zM124.8 948.0h10.9v1.6h-10.9zM138.2 918.3h10.8v1.3h-10.8zM150.3 938.0h9.5v1.6h-9.5zM150.3 992.2h9.5v1.6h-9.5zM175.8 982.2h11.2v1.6h-11.2zM201.7 978.4h11.3v1.3h-11.3zM215.0 1043.9h10.8v1.6h-10.8zM215.0 1053.0h10.8v1.0h-10.8zM227.5 1009.7h10.8v1.6h-10.8zM21.3 1120.9h10.9v1.6h-10.9zM21.3 1150.8h10.9v1.3h-10.9zM21.3 1172.5h10.9v1.6h-10.9zM46.7 1113.0h10.9v1.6h-10.9zM73.0 1169.2h10.8v1.6h-10.8zM99.0 1174.2h10.8v1.6h-10.8zM138.2 1076.7h10.8v1.6h-10.8zM150.3 1075.9h9.5v1.6h-9.5zM175.8 1168.4h11.2v1.6h-11.2zM189.7 1058.7h10.5v1.3h-10.5zM189.7 1062.5h10.5v1.6h-10.5zM201.7 1083.7h11.3v1.3h-11.3zM201.7 1140.5h11.3v1.6h-11.3zM201.7 1155.9h11.3v1.6h-11.3zM215.0 1057.5h10.8v1.6h-10.8z"/><path fill="#f68484" d="M34.2 61.8h10.8v1.5h-10.8zM34.2 65.7h10.8v2.0h-10.8zM34.2 71.6h10.8v2.0h-10.8zM34.2 91.7h10.8v2.0h-10.8zM34.2 97.7h10.8v1.8h-10.8zM34.2 103.1h10.8v0.2h-10.8zM60.0 68.2h11.0v0.1h-11.0zM60.0 115.8h11.0v1.2h-11.0zM60.0 226.7h11.0v1.8h-11.0zM164.2 181.7h10.5v1.7h-10.5zM267.2 155.8h10.7v2.4h-10.7zM267.2 158.2h10.7v0.1h-10.7zM73.5 497.0h10.4v1.3h-10.4zM73.5 606.5h10.4v1.2h-10.4zM73.5 607.7h10.4v2.0h-10.4zM59.8 679.2h10.7v1.8h-10.7zM137.6 404.0h10.6v1.0h-10.6zM125.6 652.9h10.5v1.8h-10.5zM125.6 679.0h10.5v1.8h-10.5zM202.6 540.5h10.7v1.2h-10.7zM254.5 777.2h10.3v0.6h-10.3zM59.7 976.5h11.1v2.4h-11.1zM73.0 906.2h10.8v1.5h-10.8zM73.0 912.5h10.8v1.8h-10.8zM73.0 920.3h10.8v1.5h-10.8zM73.0 960.9h10.8v1.5h-10.8zM73.0 984.8h10.8v1.8h-10.8zM73.0 992.0h10.8v1.8h-10.8zM73.0 1001.5h10.8v2.0h-10.8zM73.0 1003.5h10.8v1.5h-10.8zM201.7 909.7h11.3v1.8h-11.3z"/><path fill="#7e7ef0" d="M34.2 109.2h10.8v1.6h-10.8zM48.2 135.9h10.8v1.6h-10.8zM48.2 184.2h10.8v1.6h-10.8zM48.2 192.5h10.8v1.6h-10.8zM60.0 174.2h11.0v1.6h-11.0zM73.5 100.9h10.7v1.6h-10.7zM73.5 225.0h10.7v1.6h-10.7zM99.6 98.4h10.6v1.6h-10.6zM99.6 115.9h10.6v1.6h-10.6zM99.6 203.4h10.6v1.6h-10.6zM111.8 140.9h11.0v1.6h-11.0zM124.5 98.9h10.8v1.6h-10.8zM138.4 63.4h10.8v1.6h-10.8zM138.4 101.7h10.8v1.6h-10.8zM150.2 112.5h11.0v1.6h-11.0zM150.2 144.2h11.0v1.6h-11.0zM164.2 107.0h10.5v1.3h-10.5zM164.2 113.4h10.5v1.6h-10.5zM175.8 178.4h10.9v1.6h-10.9zM201.7 85.0h11.3v1.6h-11.3zM201.7 109.2h11.3v1.6h-11.3zM215.6 96.7h10.7v1.6h-10.7zM304.7 148.4h10.9v1.6h-10.9zM318.7 229.2h10.6v1.6h-10.6zM344.5 182.5h10.7v1.3h-10.7zM356.8 130.9h10.9v1.6h-10.9zM356.8 205.0h10.9v1.6h-10.9zM370.2 107.5h10.8v1.6h-10.8zM382.7 84.2h10.9v1.6h-10.9zM34.2 422.5h10.7v1.3h-10.7zM59.8 463.4h10.7v1.6h-10.7zM85.5 354.2h10.3v1.6h-10.3zM59.8 572.5h10.7v1.6h-10.7zM73.5 569.2h10.4v1.6h-10.4zM34.2 798.4h10.7v1.6h-10.7zM73.5 771.7h10.4v1.6h-10.4zM137.6 659.2h10.6v1.6h-10.6zM176.0 393.9h10.8v1.6h-10.8zM202.6 445.8h10.7v1.3h-10.7zM214.8 421.7h11.0v1.6h-11.0zM214.8 440.5h11.0v1.6h-11.0zM228.3 635.9h10.7v1.6h-10.7zM228.3 747.5h10.7v1.6h-10.7zM228.3 755.8h10.7v1.3h-10.7zM254.5 367.9h10.3v1.3h-10.3zM254.5 413.0h10.3v1.6h-10.3zM254.5 523.2h10.3v1.6h-10.3zM266.5 726.6h10.8v1.6h-10.8zM112.3 953.0h10.9v1.6h-10.9zM138.2 977.2h10.8v1.3h-10.8zM201.7 1017.2h11.3v1.6h-11.3zM215.0 1022.2h10.8v1.6h-10.8zM227.5 934.7h10.8v1.3h-10.8zM227.5 1030.5h10.8v1.6h-10.8zM21.3 1057.5h10.9v1.6h-10.9zM34.2 1114.2h8.9v1.3h-8.9zM73.0 1102.0h10.8v1.6h-10.8zM86.5 1074.2h10.5v1.6h-10.5zM86.5 1097.2h10.5v1.6h-10.5zM86.5 1157.5h10.5v1.6h-10.5zM99.0 1158.4h10.8v1.6h-10.8zM138.2 1064.2h10.8v1.3h-10.8zM150.3 1169.2h9.5v1.6h-9.5zM163.0 1148.7h11.2v1.3h-11.2zM215.0 1074.2h10.8v1.3h-10.8zM215.0 1160.0h10.8v1.3h-10.8zM227.5 1145.5h10.8v1.6h-10.8zM227.5 1148.7h10.8v1.3h-10.8z"/><path fill="#6c6cf0" d="M34.2 158.4h10.8v1.6h-10.8zM48.2 88.9h10.8v1.6h-10.8zM48.2 117.5h10.8v1.6h-10.8zM60.0 180.9h11.0v1.6h-11.0zM73.5 130.9h10.7v1.6h-10.7zM85.6 92.0h10.9v1.3h-10.9zM85.6 139.2h10.9v1.6h-10.9zM99.6 93.9h10.6v1.6h-10.6zM111.8 88.9h11.0v1.6h-11.0zM111.8 98.9h11.0v1.6h-11.0zM111.8 101.7h11.0v1.6h-11.0zM111.8 117.5h11.0v1.6h-11.0zM124.5 89.2h10.8v1.6h-10.8zM138.4 95.9h10.8v1.6h-10.8zM150.2 85.0h11.0v1.6h-11.0zM150.2 109.2h11.0v1.6h-11.0zM201.7 105.9h11.3v1.6h-11.3zM201.7 166.7h11.3v1.6h-11.3zM201.7 171.7h11.3v1.6h-11.3zM201.7 182.5h11.3v1.6h-11.3zM267.2 220.9h10.7v1.6h-10.7zM318.7 220.9h10.6v1.6h-10.6zM331.0 107.5h10.8v1.6h-10.8zM331.0 165.0h10.8v1.6h-10.8zM344.5 225.9h10.7v1.6h-10.7zM356.8 225.9h10.9v1.6h-10.9zM370.2 62.5h10.8v1.6h-10.8zM370.2 68.4h10.8v1.6h-10.8zM370.2 83.7h10.8v1.3h-10.8zM370.2 96.7h10.8v1.6h-10.8zM370.2 133.4h10.8v1.6h-10.8zM370.2 150.0h10.8v1.6h-10.8zM370.2 170.9h10.8v1.6h-10.8zM370.2 215.0h10.8v1.6h-10.8zM382.7 60.0h10.9v1.6h-10.9zM382.7 67.5h10.9v1.6h-10.9zM382.7 130.9h10.9v1.6h-10.9zM382.7 174.2h10.9v1.6h-10.9zM47.3 768.7h10.8v1.3h-10.8zM73.5 717.5h10.4v1.6h-10.4zM85.5 691.7h10.3v1.6h-10.3zM137.6 360.4h10.6v1.6h-10.6zM137.6 528.4h10.6v1.6h-10.6zM151.5 538.4h10.4v1.6h-10.4zM151.5 592.5h10.4v1.6h-10.4zM151.5 622.2h10.4v1.6h-10.4zM99.2 793.4h10.5v1.3h-10.5zM137.6 769.2h10.6v1.6h-10.6zM188.8 430.8h11.0v1.3h-11.0zM202.6 421.7h10.7v1.6h-10.7zM214.8 429.5h11.0v1.3h-11.0zM228.3 399.2h10.7v1.6h-10.7zM228.3 448.4h10.7v1.6h-10.7zM240.7 433.3h11.3v1.3h-11.3zM188.8 622.5h11.0v1.6h-11.0zM176.0 675.5h10.8v1.6h-10.8zM176.0 688.4h10.8v1.6h-10.8zM202.6 708.4h10.7v1.6h-10.7zM254.5 362.6h10.3v1.6h-10.3zM254.5 392.3h10.3v1.6h-10.3zM254.5 471.8h10.3v1.6h-10.3zM34.2 911.0h8.9v1.6h-8.9zM34.2 952.3h8.9v1.3h-8.9zM46.7 954.7h10.9v1.6h-10.9zM46.7 959.7h10.9v1.6h-10.9zM86.5 919.7h10.5v1.3h-10.5zM86.5 1014.7h10.5v1.6h-10.5zM112.3 983.0h10.9v1.3h-10.9zM150.3 917.2h9.5v1.6h-9.5zM175.8 969.7h11.2v1.6h-11.2zM175.8 978.9h11.2v1.6h-11.2zM189.7 928.9h10.5v1.6h-10.5zM189.7 937.2h10.5v1.6h-10.5zM189.7 951.4h10.5v1.6h-10.5zM189.7 1035.5h10.5v1.6h-10.5zM227.5 1033.9h10.8v1.6h-10.8zM21.3 1095.0h10.9v1.6h-10.9zM34.2 1166.7h8.9v1.6h-8.9zM46.7 1158.0h10.9v1.6h-10.9zM59.7 1110.0h11.1v1.6h-11.1zM86.5 1063.4h10.5v1.6h-10.5zM138.2 1129.2h10.8v1.6h-10.8zM175.8 1105.0h11.2v1.6h-11.2zM175.8 1174.5h11.2v1.3h-11.2zM189.7 1090.4h10.5v1.3h-10.5z"/><path fill="#7272f0" d="M34.2 168.4h10.8v1.6h-10.8zM60.0 136.7h11.0v1.3h-11.0zM60.0 158.4h11.0v1.6h-11.0zM60.0 200.0h11.0v1.6h-11.0zM85.6 62.5h10.9v1.6h-10.9zM111.8 191.7h11.0v1.6h-11.0zM138.4 79.2h10.8v1.6h-10.8zM150.2 184.2h11.0v1.6h-11.0zM150.2 192.5h11.0v1.6h-11.0zM150.2 195.9h11.0v1.6h-11.0zM164.2 62.5h10.5v1.6h-10.5zM164.2 92.0h10.5v1.3h-10.5zM189.7 233.4h10.7v1.6h-10.7zM253.8 65.9h10.7v1.6h-10.7zM279.3 92.2h10.9v1.6h-10.9zM293.0 98.9h10.6v1.6h-10.6zM304.7 106.7h10.9v1.6h-10.9zM331.0 62.5h10.8v1.6h-10.8zM356.8 60.0h10.9v1.6h-10.9zM356.8 190.9h10.9v1.6h-10.9zM370.2 208.4h10.8v1.6h-10.8zM370.2 218.4h10.8v1.6h-10.8zM370.2 232.5h10.8v1.6h-10.8zM382.7 63.4h10.9v1.6h-10.9zM382.7 70.9h10.9v1.6h-10.9zM382.7 109.2h10.9v1.6h-10.9zM73.5 392.5h10.4v1.6h-10.4zM85.5 398.4h10.3v1.6h-10.3zM59.8 528.4h10.7v1.6h-10.7zM21.3 780.0h10.9v1.6h-10.9zM99.2 718.0h10.5v1.6h-10.5zM137.6 724.2h10.6v1.6h-10.6zM137.6 740.9h10.6v1.6h-10.6zM151.5 658.7h10.4v1.3h-10.4zM202.6 440.9h10.7v1.6h-10.7zM202.6 494.2h10.7v1.6h-10.7zM188.8 554.2h11.0v1.6h-11.0zM202.6 555.9h10.7v1.6h-10.7zM214.8 606.2h11.0v1.3h-11.0zM228.3 626.7h10.7v1.6h-10.7zM228.3 642.9h10.7v1.3h-10.7zM228.3 655.9h10.7v1.6h-10.7zM176.0 667.2h10.8v1.6h-10.8zM176.0 767.5h10.8v1.6h-10.8zM214.8 675.0h11.0v1.6h-11.0zM254.5 456.2h10.3v1.6h-10.3zM266.5 746.7h10.8v1.3h-10.8zM86.5 972.5h10.5v1.3h-10.5zM86.5 1004.7h10.5v1.6h-10.5zM138.2 930.5h10.8v1.6h-10.8zM138.2 1053.0h10.8v1.0h-10.8zM201.7 1033.9h11.3v1.6h-11.3zM215.0 968.9h10.8v1.6h-10.8zM215.0 975.5h10.8v1.6h-10.8zM215.0 1030.5h10.8v1.6h-10.8zM227.5 904.7h10.8v1.6h-10.8zM227.5 968.0h10.8v1.6h-10.8zM227.5 992.2h10.8v1.6h-10.8zM46.7 1125.5h10.9v1.6h-10.9zM59.7 1072.5h11.1v1.6h-11.1zM59.7 1075.9h11.1v1.6h-11.1zM73.0 1139.5h10.8v1.3h-10.8zM99.0 1090.0h10.8v1.6h-10.8zM175.8 1148.7h11.2v1.3h-11.2zM227.5 1061.7h10.8v1.6h-10.8z"/><path fill="#0606f0" d="M34.2 196.7h10.8v1.2h-10.8zM48.2 163.4h10.8v1.6h-10.8zM73.5 122.0h10.7v0.5h-10.7zM99.6 130.8h10.6v1.2h-10.6zM99.6 206.2h10.6v1.6h-10.6zM111.8 135.9h11.0v1.6h-11.0zM124.5 135.3h10.8v1.5h-10.8zM124.5 147.5h10.8v1.6h-10.8zM124.5 163.3h10.8v2.0h-10.8zM189.7 63.3h10.7v1.2h-10.7zM189.7 70.0h10.7v1.2h-10.7zM189.7 72.7h10.7v0.6h-10.7zM189.7 91.7h10.7v1.6h-10.7zM189.7 141.4h10.7v1.9h-10.7zM189.7 179.2h10.7v1.6h-10.7zM189.7 230.9h10.7v1.6h-10.7zM201.7 132.1h11.3v1.2h-11.3zM227.5 130.8h10.9v1.8h-10.9zM279.3 131.0h10.9v2.0h-10.9zM331.0 113.5h10.8v1.8h-10.8zM382.7 210.9h10.9v1.6h-10.9zM34.2 456.7h10.7v1.6h-10.7zM47.3 363.6h10.8v2.4h-10.8zM34.2 770.0h10.7v2.4h-10.7zM73.5 745.5h10.4v1.6h-10.4zM111.6 593.9h10.7v1.6h-10.7zM240.7 354.5h11.3v1.2h-11.3zM240.7 385.8h11.3v1.5h-11.3zM240.7 480.0h11.3v2.0h-11.3zM188.8 589.0h11.0v1.5h-11.0zM188.8 592.7h11.0v2.0h-11.0zM214.8 581.7h11.0v2.4h-11.0zM228.3 515.0h10.7v2.4h-10.7zM240.7 546.0h11.3v1.5h-11.3zM240.7 549.5h11.3v0.5h-11.3zM240.7 576.7h11.3v1.5h-11.3zM240.7 578.8h11.3v2.0h-11.3zM240.7 580.8h11.3v1.8h-11.3zM240.7 600.0h11.3v1.7h-11.3zM188.8 661.9h11.0v1.2h-11.0zM188.8 682.6h11.0v1.5h-11.0zM188.8 704.3h11.0v2.0h-11.0zM228.3 792.4h10.7v0.1h-10.7zM240.7 701.7h11.3v1.8h-11.3zM240.7 740.3h11.3v1.8h-11.3zM240.7 758.3h11.3v0.1h-11.3zM240.7 786.7h11.3v2.4h-11.3zM240.7 804.4h11.3v0.6h-11.3zM254.5 595.2h10.3v1.5h-10.3zM21.3 1026.3h10.9v2.4h-10.9zM34.2 1034.0h8.9v0.6h-8.9zM34.2 1047.1h8.9v0.9h-8.9zM73.0 1044.2h10.8v2.4h-10.8zM99.0 1038.0h10.8v1.2h-10.8zM124.8 1043.8h10.9v2.4h-10.9zM175.8 1008.0h11.2v1.5h-11.2zM175.8 1026.4h11.2v1.2h-11.2zM73.0 1064.0h10.8v2.4h-10.8zM73.0 1157.9h10.8v1.3h-10.8zM99.0 1062.7h10.8v2.0h-10.8zM99.0 1075.7h10.8v1.8h-10.8zM99.0 1166.7h10.8v1.6h-10.8zM124.8 1081.0h10.9v1.8h-10.9zM124.8 1169.7h10.9v0.3h-10.9zM163.0 1054.0h11.2v0.2h-11.2zM163.0 1059.5h11.2v1.8h-11.2zM163.0 1136.6h11.2v1.2h-11.2zM163.0 1139.0h11.2v2.4h-11.2zM227.5 1068.4h10.8v1.6h-10.8zM227.5 1131.7h10.8v1.7h-10.8z"/><path fill="#a8a8f0" d="M34.2 200.9h10.8v1.6h-10.8zM34.2 230.0h10.8v1.6h-10.8zM48.2 113.4h10.8v1.6h-10.8zM48.2 170.9h10.8v1.6h-10.8zM48.2 174.2h10.8v1.6h-10.8zM48.2 206.7h10.8v1.6h-10.8zM60.0 87.9h11.0v1.3h-11.0zM60.0 192.5h11.0v1.6h-11.0zM73.5 174.2h10.7v1.6h-10.7zM85.6 77.5h10.9v1.6h-10.9zM85.6 145.0h10.9v1.6h-10.9zM99.6 155.0h10.6v1.6h-10.6zM99.6 195.0h10.6v1.6h-10.6zM99.6 228.4h10.6v1.6h-10.6zM111.8 152.5h11.0v1.6h-11.0zM111.8 162.5h11.0v1.6h-11.0zM111.8 195.0h11.0v1.6h-11.0zM138.4 106.7h10.8v1.6h-10.8zM138.4 120.9h10.8v1.6h-10.8zM138.4 130.9h10.8v1.6h-10.8zM138.4 154.2h10.8v1.6h-10.8zM138.4 169.2h10.8v1.6h-10.8zM138.4 175.9h10.8v1.6h-10.8zM138.4 179.2h10.8v1.6h-10.8zM138.4 200.9h10.8v1.6h-10.8zM138.4 229.2h10.8v1.6h-10.8zM150.2 60.0h11.0v1.6h-11.0zM164.2 70.0h10.5v1.6h-10.5zM164.2 93.3h10.5v1.3h-10.5zM164.2 108.3h10.5v1.3h-10.5zM164.2 160.9h10.5v1.6h-10.5zM175.8 131.7h10.9v1.3h-10.9zM175.8 229.2h10.9v1.6h-10.9zM189.7 134.2h10.7v1.6h-10.7zM201.7 174.2h11.3v1.6h-11.3zM201.7 232.5h11.3v1.6h-11.3zM215.6 70.9h10.7v1.6h-10.7zM215.6 224.2h10.7v1.6h-10.7zM227.5 70.9h10.9v1.6h-10.9zM227.5 191.7h10.9v1.6h-10.9zM227.5 230.9h10.9v1.6h-10.9zM253.8 150.0h10.7v1.6h-10.7zM267.2 70.9h10.7v1.6h-10.7zM267.2 218.4h10.7v1.6h-10.7zM279.3 64.2h10.9v1.6h-10.9zM279.3 210.0h10.9v1.6h-10.9zM293.0 84.2h10.6v1.6h-10.6zM293.0 94.2h10.6v1.6h-10.6zM293.0 102.5h10.6v1.6h-10.6zM293.0 181.7h10.6v1.6h-10.6zM304.7 62.5h10.9v1.6h-10.9zM304.7 67.5h10.9v1.6h-10.9zM318.7 60.9h10.6v1.6h-10.6zM318.7 74.2h10.6v1.6h-10.6zM318.7 179.2h10.6v1.6h-10.6zM318.7 233.4h10.6v1.6h-10.6zM331.0 177.5h10.8v1.6h-10.8zM344.5 59.2h10.7v1.6h-10.7zM344.5 70.9h10.7v1.6h-10.7zM344.5 75.9h10.7v1.6h-10.7zM344.5 102.5h10.7v1.6h-10.7zM344.5 205.4h10.7v1.3h-10.7zM356.8 135.9h10.9v1.6h-10.9zM356.8 140.9h10.9v1.6h-10.9zM370.2 74.2h10.8v1.6h-10.8zM370.2 85.0h10.8v1.3h-10.8zM370.2 104.2h10.8v1.6h-10.8zM370.2 120.9h10.8v1.6h-10.8zM382.7 195.9h10.9v1.6h-10.9zM382.7 219.2h10.9v1.6h-10.9zM21.3 377.5h10.9v1.6h-10.9zM73.5 354.2h10.4v1.6h-10.4zM21.3 624.2h10.9v1.6h-10.9zM21.3 629.2h10.9v1.6h-10.9zM59.8 654.2h10.7v1.6h-10.7zM73.5 655.0h10.4v1.6h-10.4zM85.5 654.2h10.3v1.6h-10.3zM21.3 661.7h10.9v1.6h-10.9zM21.3 692.5h10.9v1.6h-10.9zM21.3 772.5h10.9v1.6h-10.9zM47.3 744.2h10.8v1.6h-10.8zM47.3 760.0h10.8v1.6h-10.8zM47.3 791.7h10.8v1.6h-10.8zM59.8 657.5h10.7v1.6h-10.7zM73.5 665.9h10.4v1.6h-10.4zM73.5 724.2h10.4v1.6h-10.4zM111.6 405.9h10.7v1.6h-10.7zM111.6 430.9h10.7v1.6h-10.7zM151.5 423.4h10.4v1.6h-10.4zM151.5 485.0h10.4v1.6h-10.4zM151.5 497.5h10.4v1.6h-10.4zM163.2 410.0h10.1v1.6h-10.1zM163.2 445.9h10.1v1.6h-10.1zM163.2 491.7h10.1v1.6h-10.1zM99.2 514.2h10.5v1.3h-10.5zM99.2 559.2h10.5v1.6h-10.5zM99.2 609.2h10.5v1.6h-10.5zM137.6 512.5h10.6v1.6h-10.6zM137.6 614.2h10.6v1.3h-10.6zM163.2 537.5h10.1v1.6h-10.1zM99.2 666.7h10.5v1.6h-10.5zM111.6 665.9h10.7v1.6h-10.7zM125.6 716.7h10.5v1.6h-10.5zM151.5 660.0h10.4v1.3h-10.4zM151.5 733.4h10.4v1.6h-10.4zM163.2 708.4h10.1v1.6h-10.1zM163.2 791.7h10.1v1.6h-10.1zM176.0 362.2h10.8v1.6h-10.8zM176.0 386.7h10.8v1.6h-10.8zM188.8 360.0h11.0v1.6h-11.0zM188.8 370.9h11.0v1.6h-11.0zM188.8 486.7h11.0v1.3h-11.0zM202.6 360.9h10.7v1.6h-10.7zM202.6 364.2h10.7v1.6h-10.7zM202.6 414.2h10.7v1.6h-10.7zM202.6 425.9h10.7v1.6h-10.7zM214.8 434.2h11.0v1.6h-11.0zM214.8 445.0h11.0v1.6h-11.0zM214.8 457.5h11.0v1.6h-11.0zM228.3 480.9h10.7v1.6h-10.7zM228.3 485.9h10.7v1.6h-10.7zM228.3 495.0h10.7v1.6h-10.7zM176.0 588.4h10.8v1.6h-10.8zM176.0 644.2h10.8v1.6h-10.8zM202.6 504.2h10.7v1.6h-10.7zM202.6 581.7h10.7v1.6h-10.7zM202.6 595.9h10.7v1.6h-10.7zM214.8 520.9h11.0v1.6h-11.0zM214.8 529.2h11.0v1.6h-11.0zM214.8 607.5h11.0v1.3h-11.0zM176.0 764.2h10.8v1.6h-10.8zM176.0 794.2h10.8v1.6h-10.8zM202.6 765.9h10.7v1.6h-10.7zM214.8 659.2h11.0v1.6h-11.0zM214.8 693.4h11.0v1.6h-11.0zM214.8 708.4h11.0v1.6h-11.0zM214.8 760.9h11.0v1.6h-11.0zM228.3 695.0h10.7v1.6h-10.7zM254.5 405.7h10.3v1.6h-10.3zM254.5 434.5h10.3v1.6h-10.3zM254.5 466.3h10.3v1.6h-10.3zM254.5 492.0h10.3v1.6h-10.3zM254.5 541.6h10.3v1.6h-10.3zM266.5 555.3h10.8v1.6h-10.8zM254.5 713.7h10.3v1.6h-10.3zM266.5 611.8h10.8v1.6h-10.8zM266.5 638.5h10.8v1.6h-10.8zM266.5 655.0h10.8v1.6h-10.8zM266.5 717.4h10.8v1.6h-10.8zM266.5 751.4h10.8v1.6h-10.8zM21.3 932.2h10.9v1.6h-10.9zM21.3 941.9h10.9v1.6h-10.9zM21.3 951.5h10.9v1.6h-10.9zM34.2 992.2h8.9v1.6h-8.9zM34.2 1000.5h8.9v1.6h-8.9zM46.7 913.9h10.9v1.6h-10.9zM46.7 992.2h10.9v1.6h-10.9zM46.7 996.4h10.9v1.6h-10.9zM46.7 1000.5h10.9v1.6h-10.9zM86.5 923.9h10.5v1.6h-10.5zM86.5 945.2h10.5v1.6h-10.5zM86.5 953.0h10.5v1.6h-10.5zM86.5 964.7h10.5v1.6h-10.5zM86.5 992.2h10.5v1.6h-10.5zM86.5 1049.7h10.5v1.6h-10.5zM99.0 919.5h10.8v1.3h-10.8zM99.0 983.9h10.8v1.6h-10.8zM112.3 911.4h10.9v1.6h-10.9zM112.3 947.2h10.9v1.6h-10.9zM112.3 981.7h10.9v1.3h-10.9zM124.8 904.7h10.9v1.6h-10.9zM138.2 909.7h10.8v1.6h-10.8zM138.2 953.8h10.8v1.3h-10.8zM138.2 1036.4h10.8v1.6h-10.8zM150.3 958.0h9.5v1.6h-9.5zM150.3 966.4h9.5v1.6h-9.5zM150.3 972.2h9.5v1.6h-9.5zM150.3 1036.4h9.5v1.6h-9.5zM189.7 908.0h10.5v1.6h-10.5zM189.7 1002.2h10.5v1.6h-10.5zM189.7 1012.2h10.5v1.6h-10.5zM189.7 1021.4h10.5v1.6h-10.5zM215.0 913.9h10.8v1.6h-10.8zM215.0 993.0h10.8v1.6h-10.8zM215.0 1001.4h10.8v1.6h-10.8zM227.5 926.4h10.8v1.6h-10.8zM227.5 942.2h10.8v1.6h-10.8zM227.5 980.5h10.8v1.6h-10.8zM227.5 1037.2h10.8v1.6h-10.8zM21.3 1127.5h10.9v1.6h-10.9zM21.3 1167.9h10.9v1.6h-10.9zM34.2 1062.2h8.9v1.6h-8.9zM34.2 1095.0h8.9v1.6h-8.9zM46.7 1070.0h10.9v1.6h-10.9zM46.7 1096.3h10.9v1.3h-10.9zM46.7 1105.0h10.9v1.6h-10.9zM46.7 1145.0h10.9v1.6h-10.9zM59.7 1095.5h11.1v1.6h-11.1zM59.7 1148.9h11.1v1.6h-11.1zM73.0 1110.0h10.8v1.6h-10.8zM73.0 1126.2h10.8v1.6h-10.8zM73.0 1153.4h10.8v1.6h-10.8zM86.5 1054.0h10.5v0.1h-10.5zM86.5 1060.0h10.5v1.6h-10.5zM86.5 1082.5h10.5v1.6h-10.5zM86.5 1168.4h10.5v1.6h-10.5zM99.0 1139.2h10.8v1.6h-10.8zM138.2 1065.9h10.8v1.6h-10.8zM138.2 1080.0h10.8v1.6h-10.8zM138.2 1103.4h10.8v1.6h-10.8zM138.2 1114.2h10.8v1.3h-10.8zM138.2 1120.9h10.8v1.6h-10.8zM138.2 1124.2h10.8v1.6h-10.8zM163.0 1143.4h11.2v1.6h-11.2zM163.0 1153.4h11.2v1.6h-11.2zM163.0 1180.9h11.2v1.6h-11.2zM175.8 1150.0h11.2v1.3h-11.2zM189.7 1089.2h10.5v1.6h-10.5zM189.7 1130.9h10.5v1.6h-10.5zM201.7 1126.7h11.3v1.6h-11.3zM215.0 1164.2h10.8v1.6h-10.8zM227.5 1058.4h10.8v1.6h-10.8zM227.5 1175.9h10.8v1.6h-10.8z"/><path fill="#f69090" d="M34.2 209.2h10.8v1.6h-10.8zM60.0 83.4h11.0v1.6h-11.0zM73.5 155.0h10.7v1.6h-10.7zM73.5 198.4h10.7v1.6h-10.7zM73.5 220.0h10.7v1.6h-10.7zM85.6 135.9h10.9v1.6h-10.9zM138.4 182.5h10.8v1.6h-10.8zM150.2 208.4h11.0v1.6h-11.0zM164.2 155.9h10.5v1.6h-10.5zM175.8 74.2h10.9v1.6h-10.9zM215.6 63.4h10.7v1.6h-10.7zM215.6 80.9h10.7v1.6h-10.7zM215.6 103.4h10.7v1.6h-10.7zM241.6 65.0h10.6v1.6h-10.6zM241.6 81.7h10.6v1.6h-10.6zM241.6 110.0h10.6v1.6h-10.6zM241.6 179.2h10.6v1.6h-10.6zM241.6 210.9h10.6v1.6h-10.6zM241.6 219.2h10.6v1.6h-10.6zM253.8 172.9h10.7v1.6h-10.7zM253.8 177.5h10.7v1.6h-10.7zM253.8 230.9h10.7v1.6h-10.7zM267.2 77.5h10.7v1.6h-10.7zM267.2 163.4h10.7v1.6h-10.7zM267.2 172.5h10.7v1.6h-10.7zM267.2 228.4h10.7v1.6h-10.7zM267.2 231.7h10.7v1.6h-10.7zM293.0 72.5h10.6v1.6h-10.6zM293.0 200.9h10.6v1.6h-10.6zM318.7 92.5h10.6v1.6h-10.6zM344.5 173.4h10.7v1.6h-10.7zM370.2 158.4h10.8v1.6h-10.8zM73.5 350.9h10.4v1.6h-10.4zM73.5 440.9h10.4v1.6h-10.4zM73.5 490.9h10.4v1.6h-10.4zM85.5 530.0h10.3v1.6h-10.3zM47.3 687.5h10.8v1.6h-10.8zM47.3 755.0h10.8v1.6h-10.8zM59.8 805.0h10.7v0.8h-10.7zM73.5 674.2h10.4v1.6h-10.4zM125.6 420.0h10.5v1.6h-10.5zM99.2 503.9h10.5v1.6h-10.5zM99.2 510.0h10.5v1.6h-10.5zM99.2 648.4h10.5v1.6h-10.5zM111.6 644.2h10.7v1.6h-10.7zM163.2 569.2h10.1v1.6h-10.1zM125.6 802.5h10.5v1.6h-10.5zM137.6 687.5h10.6v1.6h-10.6zM137.6 730.5h10.6v1.6h-10.6zM137.6 782.2h10.6v1.6h-10.6zM151.5 750.9h10.4v1.6h-10.4zM214.8 475.0h11.0v1.6h-11.0zM176.0 594.7h10.8v1.3h-10.8zM176.0 655.9h10.8v1.6h-10.8zM176.0 657.5h10.8v0.8h-10.8zM266.5 707.3h10.8v1.6h-10.8zM266.5 785.0h10.8v1.6h-10.8zM46.7 948.0h10.9v1.6h-10.9zM59.7 913.0h11.1v1.6h-11.1zM73.0 935.5h10.8v1.6h-10.8zM86.5 978.9h10.5v1.6h-10.5zM99.0 964.7h10.8v1.6h-10.8zM138.2 905.5h10.8v1.6h-10.8zM138.2 927.2h10.8v1.6h-10.8zM150.3 1011.4h9.5v1.6h-9.5zM163.0 954.7h11.2v1.6h-11.2zM189.7 930.5h10.5v1.6h-10.5zM189.7 942.5h10.5v1.3h-10.5zM189.7 999.7h10.5v1.6h-10.5zM189.7 1016.4h10.5v1.6h-10.5zM189.7 1030.5h10.5v1.6h-10.5zM201.7 938.0h11.3v1.6h-11.3zM215.0 988.9h10.8v1.6h-10.8zM215.0 1010.5h10.8v1.6h-10.8zM21.3 1074.2h10.9v1.6h-10.9zM21.3 1132.5h10.9v1.6h-10.9zM34.2 1074.5h8.9v1.6h-8.9zM34.2 1150.4h8.9v1.6h-8.9zM46.7 1117.0h10.9v1.3h-10.9zM59.7 1159.2h11.1v1.3h-11.1zM86.5 1070.9h10.5v1.6h-10.5zM99.0 1132.5h10.8v1.6h-10.8zM99.0 1144.2h10.8v1.6h-10.8zM150.3 1056.7h9.5v1.6h-9.5zM150.3 1142.5h9.5v1.6h-9.5zM150.3 1160.0h9.5v1.6h-9.5zM163.0 1092.2h11.2v1.6h-11.2zM175.8 1175.8h11.2v1.3h-11.2zM189.7 1145.9h10.5v1.6h-10.5zM189.7 1155.0h10.5v1.6h-10.5zM189.7 1175.9h10.5v1.6h-10.5zM201.7 1060.9h11.3v1.6h-11.3zM201.7 1112.5h11.3v1.6h-11.3zM215.0 1054.0h10.8v1.0h-10.8zM215.0 1132.5h10.8v1.6h-10.8zM215.0 1158.7h10.8v1.3h-10.8zM227.5 1084.0h10.8v1.3h-10.8z"/><path fill="#d2d2f6" d="M48.2 83.7h10.8v1.3h-10.8zM85.6 83.7h10.9v2.0h-10.9zM99.6 125.0h10.6v1.5h-10.6zM111.8 126.8h11.0v1.5h-11.0zM111.8 189.0h11.0v1.0h-11.0zM138.4 190.4h10.8v1.2h-10.8zM189.7 58.3h10.7v2.4h-10.7zM279.3 141.7h10.9v1.2h-10.9zM344.5 191.7h10.7v1.8h-10.7zM356.8 82.9h10.9v2.4h-10.9zM356.8 85.3h10.9v1.4h-10.9zM34.2 397.0h10.7v1.2h-10.7zM34.2 399.7h10.7v0.3h-10.7zM59.8 396.2h10.7v1.5h-10.7zM59.8 397.7h10.7v0.6h-10.7zM21.3 558.5h10.9v1.5h-10.9zM59.8 576.7h10.7v2.4h-10.7zM59.8 622.5h10.7v0.9h-10.7zM47.3 721.7h10.8v1.5h-10.8zM47.3 726.8h10.8v1.2h-10.8zM85.5 663.7h10.3v1.2h-10.3zM85.5 664.9h10.3v0.1h-10.3zM99.2 430.3h10.5v2.4h-10.5zM99.2 432.7h10.5v1.5h-10.5zM111.6 463.5h10.7v0.7h-10.7zM137.6 394.9h10.6v1.5h-10.6zM99.2 618.3h10.5v1.2h-10.5zM99.2 621.5h10.5v2.4h-10.5zM99.2 623.9h10.5v1.1h-10.5zM125.6 632.4h10.5v0.9h-10.5zM163.2 601.2h10.1v0.5h-10.1zM125.6 673.3h10.5v1.2h-10.5zM125.6 776.6h10.5v1.5h-10.5zM176.0 382.0h10.8v1.2h-10.8zM188.8 468.3h11.0v2.4h-11.0zM214.8 389.8h11.0v1.2h-11.0zM214.8 465.0h11.0v1.2h-11.0zM214.8 467.4h11.0v0.9h-11.0zM228.3 366.8h10.7v1.5h-10.7zM228.3 368.3h10.7v2.4h-10.7zM228.3 370.7h10.7v1.2h-10.7zM228.3 416.4h10.7v2.0h-10.7zM228.3 431.0h10.7v0.6h-10.7zM176.0 531.3h10.8v2.4h-10.8zM176.0 535.5h10.8v0.3h-10.8zM202.6 569.1h10.7v0.9h-10.7zM202.6 646.8h10.7v2.4h-10.7zM228.3 536.3h10.7v2.4h-10.7zM202.6 690.0h10.7v2.0h-10.7zM202.6 692.0h10.7v2.4h-10.7zM214.8 683.5h11.0v1.8h-11.0zM214.8 740.8h11.0v1.5h-11.0zM228.3 679.0h10.7v1.5h-10.7zM240.7 761.5h11.3v1.2h-11.3zM240.7 782.3h11.3v1.0h-11.3zM254.5 354.1h10.3v1.5h-10.3zM266.5 624.6h10.8v2.4h-10.8zM266.5 627.0h10.8v1.3h-10.8zM99.0 959.5h10.8v1.2h-10.8zM124.8 968.7h10.9v0.9h-10.9zM124.8 1018.0h10.9v1.2h-10.9zM124.8 1019.2h10.9v0.5h-10.9zM124.8 1052.1h10.9v0.1h-10.9zM34.2 1085.8h8.9v1.8h-8.9zM34.2 1087.6h8.9v0.7h-8.9zM59.7 1104.8h11.1v0.2h-11.1z"/><path fill="#b4b4f0" d="M48.2 85.9h10.8v1.6h-10.8zM48.2 180.9h10.8v1.6h-10.8zM60.0 184.2h11.0v1.6h-11.0zM85.6 190.9h10.9v1.6h-10.9zM138.4 216.7h10.8v1.6h-10.8zM318.7 95.9h10.6v1.6h-10.6zM331.0 195.9h10.8v1.6h-10.8zM344.5 107.5h10.7v1.6h-10.7zM344.5 145.9h10.7v1.6h-10.7zM344.5 210.9h10.7v1.6h-10.7zM370.2 229.2h10.8v1.6h-10.8zM85.5 459.2h10.3v1.6h-10.3zM34.2 750.0h10.7v1.6h-10.7zM73.5 780.9h10.4v1.6h-10.4zM85.5 791.7h10.3v1.6h-10.3zM137.6 487.5h10.6v1.6h-10.6zM137.6 773.4h10.6v1.6h-10.6zM176.0 707.5h10.8v1.6h-10.8zM266.5 789.9h10.8v1.6h-10.8zM21.3 937.2h10.9v1.6h-10.9zM86.5 918.4h10.5v1.3h-10.5zM99.0 951.4h10.8v1.6h-10.8zM99.0 988.0h10.8v1.6h-10.8zM150.3 1027.2h9.5v1.6h-9.5zM163.0 914.7h11.2v1.6h-11.2zM163.0 985.5h11.2v1.6h-11.2zM175.8 1035.5h11.2v1.6h-11.2zM227.5 938.9h10.8v1.6h-10.8zM46.7 1153.4h10.9v1.6h-10.9zM99.0 1180.9h10.8v1.6h-10.8z"/><path fill="#fcd2d2" d="M60.0 63.5h11.0v1.5h-11.0zM60.0 69.2h11.0v1.5h-11.0zM60.0 70.7h11.0v1.8h-11.0zM150.2 221.7h11.0v1.7h-11.0zM21.3 514.2h10.9v1.2h-10.9zM85.5 504.2h10.3v1.7h-10.3zM85.5 600.0h10.3v2.4h-10.3zM99.2 367.5h10.5v2.4h-10.5zM99.2 375.0h10.5v1.5h-10.5zM99.2 376.5h10.5v0.2h-10.5zM99.2 420.8h10.5v1.2h-10.5zM99.2 423.2h10.5v0.9h-10.5zM99.2 427.5h10.5v2.4h-10.5zM125.6 358.0h10.5v0.4h-10.5zM125.6 363.2h10.5v2.0h-10.5zM125.6 365.2h10.5v0.6h-10.5zM125.6 493.7h10.5v2.4h-10.5zM137.6 424.9h10.6v1.8h-10.6zM151.5 396.2h10.4v0.5h-10.4zM151.5 434.5h10.4v0.5h-10.4zM163.2 430.0h10.1v2.4h-10.1zM163.2 432.4h10.1v1.5h-10.1zM163.2 480.8h10.1v1.8h-10.1zM99.2 524.0h10.5v1.2h-10.5zM99.2 525.2h10.5v1.5h-10.5zM125.6 558.3h10.5v2.4h-10.5zM151.5 596.7h10.4v2.0h-10.4zM151.5 600.2h10.4v1.2h-10.4zM151.5 605.8h10.4v0.9h-10.4zM99.2 672.9h10.5v0.5h-10.5zM111.6 658.3h10.7v1.2h-10.7zM111.6 766.7h10.7v2.0h-10.7zM125.6 708.3h10.5v1.8h-10.5zM125.6 773.3h10.5v1.5h-10.5zM125.6 774.8h10.5v1.8h-10.5zM125.6 778.1h10.5v0.2h-10.5zM151.5 685.8h10.4v1.5h-10.4zM151.5 780.0h10.4v1.2h-10.4zM151.5 801.9h10.4v0.6h-10.4zM176.0 722.3h10.8v1.0h-10.8zM176.0 751.6h10.8v2.4h-10.8zM176.0 781.7h10.8v1.7h-10.8zM202.6 730.0h10.7v1.2h-10.7zM214.8 681.7h11.0v1.8h-11.0zM214.8 727.0h11.0v1.3h-11.0zM266.5 569.0h10.8v2.0h-10.8zM266.5 646.6h10.8v2.4h-10.8zM59.7 943.8h11.1v1.5h-11.1zM59.7 945.3h11.1v2.0h-11.1zM59.7 949.3h11.1v2.0h-11.1zM59.7 956.3h11.1v1.5h-11.1zM59.7 985.8h11.1v1.5h-11.1zM73.0 922.2h10.8v1.5h-10.8zM73.0 945.7h10.8v2.4h-10.8zM73.0 948.1h10.8v1.5h-10.8zM73.0 958.5h10.8v2.0h-10.8zM73.0 988.1h10.8v1.2h-10.8zM73.0 990.5h10.8v1.5h-10.8zM73.0 999.1h10.8v1.8h-10.8zM124.8 966.3h10.9v2.4h-10.9zM201.7 923.0h11.3v2.0h-11.3zM201.7 925.0h11.3v2.0h-11.3zM201.7 934.8h11.3v1.5h-11.3zM34.2 1110.8h8.9v1.5h-8.9zM34.2 1112.3h8.9v0.2h-8.9z"/><path fill="#f69696" d="M60.0 79.2h11.0v1.6h-11.0zM73.5 205.9h10.7v1.6h-10.7zM138.4 94.2h10.8v1.6h-10.8zM215.6 206.7h10.7v1.6h-10.7zM241.6 200.0h10.6v1.6h-10.6zM253.8 210.9h10.7v1.6h-10.7zM253.8 215.0h10.7v1.6h-10.7zM267.2 93.9h10.7v1.6h-10.7zM267.2 150.0h10.7v1.6h-10.7zM267.2 205.9h10.7v1.6h-10.7zM279.3 228.4h10.9v1.6h-10.9zM293.0 195.9h10.6v1.6h-10.6zM318.7 200.0h10.6v1.6h-10.6zM331.0 89.2h10.8v1.6h-10.8zM331.0 187.5h10.8v1.6h-10.8zM344.5 158.4h10.7v1.6h-10.7zM356.8 89.2h10.9v1.6h-10.9zM356.8 126.7h10.9v1.6h-10.9zM356.8 186.7h10.9v1.6h-10.9zM370.2 89.2h10.8v1.6h-10.8zM21.3 464.2h10.9v1.6h-10.9zM73.5 401.7h10.4v1.6h-10.4zM73.5 430.0h10.4v1.6h-10.4zM21.3 569.2h10.9v1.6h-10.9zM21.3 580.9h10.9v1.6h-10.9zM21.3 620.0h10.9v1.6h-10.9zM21.3 760.0h10.9v1.6h-10.9zM73.5 740.0h10.4v1.6h-10.4zM111.6 389.2h10.7v1.3h-10.7zM137.6 433.4h10.6v1.6h-10.6zM151.5 406.7h10.4v1.6h-10.4zM163.2 355.0h10.1v1.6h-10.1zM99.2 543.4h10.5v1.6h-10.5zM99.2 626.7h10.5v1.6h-10.5zM125.6 530.0h10.5v1.6h-10.5zM137.6 530.5h10.6v1.6h-10.6zM163.2 612.5h10.1v1.6h-10.1zM99.2 694.2h10.5v1.3h-10.5zM111.6 675.0h10.7v1.6h-10.7zM111.6 692.2h10.7v1.6h-10.7zM125.6 700.9h10.5v1.6h-10.5zM125.6 704.2h10.5v1.6h-10.5zM176.0 670.9h10.8v1.6h-10.8zM176.0 797.5h10.8v1.6h-10.8zM214.8 772.2h11.0v1.6h-11.0zM214.8 785.9h11.0v1.6h-11.0zM254.5 546.0h10.3v1.3h-10.3zM266.5 493.8h10.8v1.6h-10.8zM254.5 751.4h10.3v1.6h-10.3zM21.3 919.7h10.9v1.6h-10.9zM46.7 1027.2h10.9v1.6h-10.9zM59.7 953.0h11.1v1.6h-11.1zM73.0 915.5h10.8v1.6h-10.8zM73.0 957.2h10.8v1.6h-10.8zM73.0 1003.9h10.8v1.6h-10.8zM86.5 948.0h10.5v1.6h-10.5zM99.0 948.0h10.8v1.6h-10.8zM99.0 976.4h10.8v1.6h-10.8zM99.0 978.9h10.8v1.6h-10.8zM112.3 965.9h10.9v1.6h-10.9zM124.8 921.3h10.9v1.3h-10.9zM138.2 944.2h10.8v1.3h-10.8zM138.2 993.0h10.8v1.3h-10.8zM175.8 908.9h11.2v1.6h-11.2zM227.5 988.5h10.8v1.6h-10.8zM46.7 1121.2h10.9v1.6h-10.9zM46.7 1164.2h10.9v1.6h-10.9zM59.7 1088.2h11.1v1.3h-11.1zM73.0 1092.2h10.8v1.6h-10.8zM86.5 1112.2h10.5v1.6h-10.5zM86.5 1119.5h10.5v1.6h-10.5zM86.5 1152.5h10.5v1.6h-10.5zM189.7 1135.9h10.5v1.6h-10.5zM201.7 1100.0h11.3v1.6h-11.3zM215.0 1085.0h10.8v1.6h-10.8zM215.0 1095.0h10.8v1.6h-10.8zM215.0 1125.0h10.8v1.6h-10.8z"/><path fill="#4848ea" d="M60.0 188.3h11.0v1.7h-11.0zM99.6 164.9h10.6v0.9h-10.6zM111.8 205.0h11.0v2.0h-11.0zM124.5 124.3h10.8v1.8h-10.8zM124.5 158.5h10.8v2.4h-10.8zM124.5 194.8h10.8v1.2h-10.8zM150.2 176.7h11.0v1.7h-11.0zM189.7 110.0h10.7v1.2h-10.7zM189.7 150.0h10.7v1.5h-10.7zM201.7 75.0h11.3v1.8h-11.3zM201.7 76.8h11.3v0.7h-11.3zM201.7 155.3h11.3v0.5h-11.3zM201.7 212.5h11.3v1.2h-11.3zM201.7 213.7h11.3v1.2h-11.3zM227.5 115.0h10.9v2.4h-10.9zM227.5 120.0h10.9v1.2h-10.9zM227.5 124.8h10.9v0.2h-10.9zM227.5 128.7h10.9v0.5h-10.9zM267.2 122.4h10.7v1.0h-10.7zM267.2 125.3h10.7v2.0h-10.7zM279.3 110.8h10.9v1.8h-10.9zM293.0 80.0h10.6v1.7h-10.6zM304.7 122.2h10.9v2.0h-10.9zM318.7 117.1h10.6v1.2h-10.6zM318.7 138.5h10.6v1.5h-10.6zM318.7 150.8h10.6v1.7h-10.6zM331.0 101.7h10.8v2.4h-10.8zM331.0 138.6h10.8v2.0h-10.8zM331.0 140.6h10.8v1.1h-10.8zM370.2 225.8h10.8v1.2h-10.8zM370.2 227.0h10.8v1.2h-10.8zM382.7 152.9h10.9v2.4h-10.9zM382.7 185.1h10.9v2.0h-10.9zM34.2 353.7h10.7v2.0h-10.7zM34.2 453.8h10.7v1.2h-10.7zM34.2 466.7h10.7v2.4h-10.7zM34.2 488.7h10.7v1.5h-10.7zM47.3 359.2h10.8v2.0h-10.8zM47.3 371.6h10.8v1.2h-10.8zM47.3 382.4h10.8v1.2h-10.8zM47.3 392.7h10.8v1.5h-10.8zM85.5 497.0h10.3v1.3h-10.3zM85.5 574.2h10.3v1.8h-10.3zM34.2 755.0h10.7v2.0h-10.7zM34.2 757.0h10.7v1.3h-10.7zM34.2 781.0h10.7v1.5h-10.7zM59.8 665.8h10.7v1.7h-10.7zM111.6 587.8h10.7v1.8h-10.7zM137.6 574.2h10.6v2.0h-10.6zM137.6 667.0h10.6v1.2h-10.6zM188.8 392.2h11.0v1.1h-11.0zM188.8 404.3h11.0v1.2h-11.0zM188.8 413.3h11.0v1.5h-11.0zM188.8 440.0h11.0v1.2h-11.0zM240.7 362.5h11.3v1.5h-11.3zM240.7 399.9h11.3v0.1h-11.3zM188.8 515.3h11.0v1.5h-11.0zM188.8 602.0h11.0v1.5h-11.0zM188.8 613.3h11.0v2.4h-11.0zM188.8 653.2h11.0v1.2h-11.0zM214.8 562.0h11.0v1.5h-11.0zM214.8 569.4h11.0v1.2h-11.0zM214.8 572.4h11.0v1.8h-11.0zM214.8 595.0h11.0v1.5h-11.0zM228.3 559.2h10.7v1.5h-10.7zM228.3 595.0h10.7v1.5h-10.7zM240.7 622.5h11.3v1.2h-11.3zM240.7 656.5h11.3v1.0h-11.3zM188.8 659.5h11.0v2.4h-11.0zM188.8 685.6h11.0v1.2h-11.0zM188.8 695.0h11.0v1.2h-11.0zM188.8 753.4h11.0v1.8h-11.0zM188.8 756.4h11.0v1.2h-11.0zM188.8 779.4h11.0v2.3h-11.0zM188.8 790.0h11.0v2.0h-11.0zM188.8 792.0h11.0v1.3h-11.0zM240.7 738.8h11.3v1.5h-11.3zM254.5 483.0h10.3v1.5h-10.3zM254.5 565.2h10.3v1.8h-10.3zM254.5 644.1h10.3v2.4h-10.3zM254.5 728.1h10.3v1.1h-10.3zM254.5 746.4h10.3v1.1h-10.3zM21.3 1041.6h10.9v2.4h-10.9zM21.3 1044.7h10.9v1.5h-10.9zM34.2 1036.3h8.9v1.8h-8.9zM34.2 1038.1h8.9v2.4h-8.9zM73.0 1042.7h10.8v1.5h-10.8zM99.0 1011.7h10.8v2.4h-10.8zM99.0 1014.1h10.8v2.0h-10.8zM99.0 1048.0h10.8v1.2h-10.8zM99.0 1051.9h10.8v1.5h-10.8zM112.3 1008.5h10.9v1.5h-10.9zM124.8 1031.3h10.9v2.4h-10.9zM124.8 1047.7h10.9v0.3h-10.9zM163.0 931.7h11.2v1.8h-11.2zM163.0 933.5h11.2v1.2h-11.2zM163.0 936.2h11.2v0.1h-11.2zM163.0 992.3h11.2v2.0h-11.2zM163.0 1021.3h11.2v2.0h-11.2zM175.8 926.3h11.2v1.8h-11.2zM175.8 932.6h11.2v2.0h-11.2zM175.8 960.7h11.2v1.5h-11.2zM175.8 1018.0h11.2v1.2h-11.2zM175.8 1024.4h11.2v2.0h-11.2zM201.7 1000.7h11.3v2.0h-11.3zM201.7 1011.3h11.3v1.5h-11.3zM201.7 1012.8h11.3v1.5h-11.3zM201.7 1044.7h11.3v1.2h-11.3zM227.5 1013.0h10.8v1.5h-10.8zM227.5 1017.3h10.8v1.5h-10.8zM21.3 1085.8h10.9v1.2h-10.9zM34.2 1054.0h8.9v0.2h-8.9zM73.0 1076.1h10.8v2.4h-10.8zM99.0 1073.3h10.8v2.4h-10.8zM112.3 1058.4h10.9v1.2h-10.9zM112.3 1121.7h10.9v1.2h-10.9zM112.3 1158.0h10.9v2.0h-10.9zM124.8 1054.0h10.9v2.2h-10.9zM124.8 1085.0h10.9v1.2h-10.9zM124.8 1147.1h10.9v1.2h-10.9zM138.2 1132.5h10.8v2.0h-10.8zM163.0 1064.3h11.2v2.4h-11.2zM163.0 1076.0h11.2v2.4h-11.2zM163.0 1082.5h11.2v2.4h-11.2zM163.0 1130.0h11.2v1.2h-11.2zM175.8 1073.9h11.2v2.0h-11.2zM227.5 1136.7h10.8v1.5h-10.8z"/><path fill="#7878f0" d="M60.0 206.7h11.0v1.6h-11.0zM99.6 148.4h10.6v1.6h-10.6zM99.6 151.7h10.6v1.6h-10.6zM99.6 192.5h10.6v1.6h-10.6zM111.8 130.9h11.0v1.6h-11.0zM111.8 147.5h11.0v1.6h-11.0zM111.8 172.5h11.0v1.6h-11.0zM111.8 180.9h11.0v1.6h-11.0zM111.8 199.2h11.0v1.6h-11.0zM138.4 151.7h10.8v1.6h-10.8zM150.2 89.2h11.0v1.6h-11.0zM150.2 147.5h11.0v1.6h-11.0zM189.7 167.5h10.7v1.6h-10.7zM241.6 98.4h10.6v1.6h-10.6zM241.6 116.7h10.6v1.6h-10.6zM279.3 184.2h10.9v1.6h-10.9zM293.0 120.8h10.6v1.3h-10.6zM318.7 69.2h10.6v1.6h-10.6zM318.7 110.9h10.6v1.6h-10.6zM331.0 69.2h10.8v1.6h-10.8zM331.0 83.4h10.8v1.6h-10.8zM331.0 95.9h10.8v1.6h-10.8zM344.5 95.0h10.7v1.6h-10.7zM344.5 230.9h10.7v1.6h-10.7zM356.8 95.0h10.9v1.6h-10.9zM370.2 115.9h10.8v1.6h-10.8zM370.2 195.9h10.8v1.6h-10.8zM382.7 205.0h10.9v1.6h-10.9zM382.7 225.0h10.9v1.6h-10.9zM34.2 401.7h10.7v1.3h-10.7zM73.5 474.2h10.4v1.6h-10.4zM85.5 391.7h10.3v1.6h-10.3zM73.5 507.5h10.4v1.6h-10.4zM85.5 560.9h10.3v1.6h-10.3zM85.5 590.9h10.3v1.6h-10.3zM47.3 750.0h10.8v1.6h-10.8zM85.5 725.9h10.3v1.6h-10.3zM137.6 437.5h10.6v1.6h-10.6zM99.2 512.9h10.5v1.3h-10.5zM99.2 592.9h10.5v1.3h-10.5zM125.6 573.4h10.5v1.6h-10.5zM137.6 538.4h10.6v1.6h-10.6zM137.6 620.0h10.6v1.6h-10.6zM163.2 659.2h10.1v1.6h-10.1zM188.8 394.2h11.0v1.6h-11.0zM188.8 485.4h11.0v1.3h-11.0zM202.6 457.2h10.7v1.6h-10.7zM214.8 374.2h11.0v1.6h-11.0zM228.3 420.4h10.7v1.3h-10.7zM228.3 490.9h10.7v1.6h-10.7zM202.6 530.0h10.7v1.6h-10.7zM202.6 650.9h10.7v1.6h-10.7zM228.3 505.0h10.7v1.6h-10.7zM228.3 575.9h10.7v1.6h-10.7zM228.3 651.7h10.7v1.6h-10.7zM176.0 695.9h10.8v1.6h-10.8zM176.0 730.8h10.8v1.3h-10.8zM176.0 740.0h10.8v1.6h-10.8zM202.6 683.4h10.7v1.6h-10.7zM214.8 765.9h11.0v1.6h-11.0zM254.5 419.5h10.3v1.6h-10.3zM254.5 446.1h10.3v1.6h-10.3zM254.5 452.5h10.3v1.6h-10.3zM254.5 500.2h10.3v1.6h-10.3zM254.5 781.7h10.3v1.6h-10.3zM46.7 951.5h10.9v1.6h-10.9zM86.5 1022.2h10.5v1.6h-10.5zM124.8 930.9h10.9v1.3h-10.9zM138.2 1015.5h10.8v1.6h-10.8zM138.2 1033.0h10.8v1.6h-10.8zM138.2 1047.2h10.8v1.6h-10.8zM163.0 953.0h11.2v1.6h-11.2zM215.0 918.0h10.8v1.6h-10.8zM215.0 930.5h10.8v1.6h-10.8zM215.0 997.2h10.8v1.6h-10.8zM227.5 997.2h10.8v1.6h-10.8zM21.3 1114.7h10.9v1.6h-10.9zM46.7 1095.0h10.9v1.3h-10.9zM73.0 1159.2h10.8v1.3h-10.8zM86.5 1068.4h10.5v1.6h-10.5zM99.0 1125.0h10.8v1.6h-10.8zM138.2 1112.9h10.8v1.3h-10.8zM175.8 1098.9h11.2v1.6h-11.2zM189.7 1159.2h10.5v1.6h-10.5zM189.7 1166.2h10.5v1.3h-10.5zM215.0 1173.4h10.8v1.6h-10.8zM227.5 1141.7h10.8v1.6h-10.8zM227.5 1170.9h10.8v1.6h-10.8z"/><path fill="#6060ea" d="M85.6 111.7h10.9v1.5h-10.9zM124.5 136.8h10.8v1.8h-10.8zM124.5 185.3h10.8v1.3h-10.8zM189.7 153.9h10.7v1.1h-10.7zM47.3 368.3h10.8v0.9h-10.8zM85.5 742.5h10.3v1.2h-10.3zM137.6 586.5h10.6v1.0h-10.6zM228.3 502.3h10.7v0.2h-10.7zM240.7 412.6h11.3v1.8h-11.3zM188.8 635.8h11.0v2.4h-11.0zM240.7 616.0h11.3v0.6h-11.3zM254.5 640.0h10.3v2.0h-10.3zM112.3 997.9h10.9v2.0h-10.9zM175.8 1034.5h11.2v0.2h-11.2zM59.7 1069.7h11.1v0.3h-11.1zM175.8 1067.7h11.2v1.8h-11.2zM175.8 1121.9h11.2v1.5h-11.2z"/><path fill="#6666f0" d="M85.6 115.6h10.9v1.2h-10.9zM85.6 120.8h10.9v1.5h-10.9zM111.8 158.3h11.0v1.2h-11.0zM124.5 128.1h10.8v0.2h-10.8zM150.2 155.7h11.0v0.9h-11.0zM189.7 151.5h10.7v2.4h-10.7zM201.7 95.0h11.3v1.7h-11.3zM267.2 110.8h10.7v1.2h-10.7zM267.2 112.6h10.7v2.4h-10.7zM267.2 127.7h10.7v2.4h-10.7zM279.3 125.3h10.9v1.3h-10.9zM331.0 147.8h10.8v0.5h-10.8zM34.2 348.3h10.7v1.8h-10.7zM34.2 386.2h10.7v0.4h-10.7zM47.3 369.2h10.8v2.4h-10.8zM47.3 641.7h10.8v1.2h-10.8zM34.2 793.2h10.7v0.1h-10.7zM85.5 698.5h10.3v2.0h-10.3zM85.5 743.7h10.3v1.2h-10.3zM137.6 576.2h10.6v0.5h-10.6zM163.2 623.3h10.1v1.5h-10.1zM137.6 792.5h10.6v2.4h-10.6zM188.8 357.4h11.0v0.9h-11.0zM240.7 372.0h11.3v1.5h-11.3zM188.8 611.8h11.0v1.5h-11.0zM188.8 638.2h11.0v1.5h-11.0zM188.8 648.4h11.0v1.6h-11.0zM228.3 560.7h10.7v1.8h-10.7zM240.7 510.0h11.3v1.5h-11.3zM188.8 668.2h11.0v1.2h-11.0zM188.8 702.5h11.0v1.8h-11.0zM188.8 743.7h11.0v2.0h-11.0zM188.8 750.7h11.0v1.2h-11.0zM240.7 742.1h11.3v1.8h-11.3zM240.7 747.2h11.3v1.1h-11.3zM254.5 568.8h10.3v0.2h-10.3zM266.5 419.7h10.8v0.5h-10.8zM254.5 586.0h10.3v1.2h-10.3zM254.5 591.0h10.3v1.8h-10.3zM254.5 607.1h10.3v1.8h-10.3zM34.2 1042.9h8.9v2.4h-8.9zM73.0 1049.7h10.8v2.0h-10.8zM99.0 1020.9h10.8v1.2h-10.8zM124.8 996.3h10.9v1.2h-10.9zM201.7 990.4h11.3v0.9h-11.3zM201.7 998.7h11.3v2.0h-11.3zM201.7 1026.7h11.3v1.3h-11.3zM73.0 1056.6h10.8v2.0h-10.8zM112.3 1161.7h10.9v2.0h-10.9zM112.3 1173.3h10.9v1.2h-10.9zM124.8 1082.8h10.9v0.6h-10.9zM163.0 1074.2h11.2v1.8h-11.2zM163.0 1078.4h11.2v1.8h-11.2zM227.5 1108.3h10.8v1.2h-10.8z"/><path fill="#1e1ef0" d="M99.6 120.9h10.6v1.6h-10.6zM124.5 130.8h10.8v1.8h-10.8zM124.5 205.0h10.8v1.5h-10.8zM150.2 135.9h11.0v1.6h-11.0zM201.7 69.2h11.3v1.6h-11.3zM201.7 150.0h11.3v1.6h-11.3zM201.7 224.2h11.3v1.6h-11.3zM227.5 140.6h10.9v0.2h-10.9zM318.7 119.2h10.6v2.0h-10.6zM318.7 123.8h10.6v1.2h-10.6zM331.0 150.8h10.8v1.8h-10.8zM370.2 100.0h10.8v1.6h-10.8zM382.7 161.7h10.9v1.2h-10.9zM382.7 230.9h10.9v1.6h-10.9zM34.2 484.7h10.7v0.3h-10.7zM34.2 741.7h10.7v1.5h-10.7zM34.2 772.4h10.7v1.5h-10.7zM85.5 670.5h10.3v1.6h-10.3zM137.6 582.9h10.6v2.4h-10.6zM137.6 585.3h10.6v1.2h-10.6zM188.8 429.5h11.0v1.3h-11.0zM228.3 383.7h10.7v1.6h-10.7zM240.7 352.5h11.3v2.0h-11.3zM240.7 357.7h11.3v1.5h-11.3zM240.7 375.0h11.3v2.4h-11.3zM240.7 377.4h11.3v2.0h-11.3zM240.7 425.6h11.3v1.1h-11.3zM240.7 472.5h11.3v0.9h-11.3zM188.8 585.0h11.0v2.4h-11.0zM188.8 600.0h11.0v2.0h-11.0zM202.6 585.0h10.7v2.0h-10.7zM214.8 576.7h11.0v2.0h-11.0zM240.7 568.3h11.3v2.0h-11.3zM240.7 582.6h11.3v1.5h-11.3zM240.7 587.3h11.3v1.5h-11.3zM240.7 620.7h11.3v1.8h-11.3zM240.7 651.7h11.3v2.4h-11.3zM188.8 696.6h11.0v2.4h-11.0zM188.8 740.3h11.0v1.4h-11.0zM188.8 765.8h11.0v1.5h-11.0zM240.7 671.7h11.3v2.0h-11.3zM34.2 951.0h8.9v1.3h-8.9zM34.2 1028.7h8.9v0.9h-8.9zM34.2 1051.9h8.9v2.1h-8.9zM59.7 1022.2h11.1v1.5h-11.1zM73.0 1023.3h10.8v1.2h-10.8zM73.0 1025.1h10.8v2.4h-10.8zM73.0 1051.7h10.8v2.3h-10.8zM112.3 1012.4h10.9v1.2h-10.9zM112.3 1043.3h10.9v1.8h-10.9zM138.2 1019.7h10.8v1.6h-10.8zM163.0 922.1h11.2v1.8h-11.2zM163.0 990.5h11.2v1.8h-11.2zM163.0 1004.4h11.2v2.0h-11.2zM163.0 1023.3h11.2v1.4h-11.2zM163.0 1050.1h11.2v2.4h-11.2zM175.8 920.8h11.2v2.0h-11.2zM175.8 931.4h11.2v1.2h-11.2zM175.8 1019.2h11.2v1.8h-11.2zM175.8 1053.0h11.2v1.0h-11.2zM73.0 1054.0h10.8v0.2h-10.8zM112.3 1070.3h10.9v1.2h-10.9zM124.8 1100.8h10.9v2.0h-10.9zM163.0 1117.1h11.2v2.4h-11.2zM163.0 1126.2h11.2v1.8h-11.2zM163.0 1133.3h11.2v1.8h-11.2zM175.8 1071.5h11.2v2.4h-11.2zM175.8 1128.0h11.2v1.5h-11.2zM189.7 1126.2h10.5v1.6h-10.5z"/><path fill="#1212f0" d="M99.6 135.8h10.6v2.4h-10.6zM99.6 158.4h10.6v1.6h-10.6zM111.8 121.7h11.0v1.6h-11.0zM124.5 132.6h10.8v1.2h-10.8zM124.5 196.0h10.8v2.4h-10.8zM150.2 116.7h11.0v1.5h-11.0zM150.2 198.3h11.0v2.4h-11.0zM189.7 88.2h10.7v1.8h-10.7zM201.7 206.7h11.3v1.6h-11.3zM267.2 123.3h10.7v2.0h-10.7zM267.2 225.0h10.7v1.6h-10.7zM279.3 119.2h10.9v1.6h-10.9zM331.0 156.1h10.8v1.2h-10.8zM331.0 157.3h10.8v1.0h-10.8zM382.7 178.4h10.9v1.6h-10.9zM382.7 234.2h10.9v1.6h-10.9zM34.2 483.5h10.7v1.2h-10.7zM47.3 656.7h10.8v0.8h-10.8zM34.2 803.7h10.7v2.0h-10.7zM85.5 728.3h10.3v1.5h-10.3zM188.8 364.5h11.0v1.6h-11.0zM228.3 421.7h10.7v1.3h-10.7zM240.7 355.7h11.3v2.0h-11.3zM240.7 435.9h11.3v1.6h-11.3zM240.7 456.2h11.3v0.5h-11.3zM240.7 518.3h11.3v1.8h-11.3zM240.7 520.1h11.3v2.0h-11.3zM240.7 547.5h11.3v2.0h-11.3zM240.7 654.1h11.3v2.4h-11.3zM188.8 681.1h11.0v1.5h-11.0zM188.8 690.4h11.0v1.2h-11.0zM188.8 692.8h11.0v0.6h-11.0zM188.8 733.5h11.0v1.2h-11.0zM188.8 736.5h11.0v1.8h-11.0zM188.8 800.0h11.0v1.2h-11.0zM188.8 801.2h11.0v1.2h-11.0zM240.7 673.7h11.3v1.3h-11.3zM240.7 689.9h11.3v1.5h-11.3zM254.5 576.1h10.3v0.2h-10.3zM254.5 611.7h10.3v2.0h-10.3zM254.5 629.5h10.3v1.2h-10.3zM266.5 745.4h10.8v1.3h-10.8zM34.2 1040.5h8.9v2.4h-8.9zM34.2 1049.7h8.9v1.8h-8.9zM73.0 1036.9h10.8v1.1h-10.8zM112.3 994.0h10.9v0.7h-10.9zM112.3 1002.2h10.9v2.0h-10.9zM112.3 1022.5h10.9v1.8h-10.9zM112.3 1024.3h10.9v0.4h-10.9zM124.8 1026.1h10.9v1.5h-10.9zM124.8 1046.2h10.9v1.5h-10.9zM138.2 1029.0h10.8v0.7h-10.8zM163.0 930.5h11.2v1.2h-11.2zM175.8 922.8h11.2v2.4h-11.2zM175.8 928.1h11.2v1.8h-11.2zM175.8 942.2h11.2v2.4h-11.2zM175.8 975.5h11.2v1.5h-11.2zM175.8 977.0h11.2v0.2h-11.2zM175.8 1044.8h11.2v1.2h-11.2zM189.7 975.5h10.5v1.6h-10.5zM201.7 986.2h11.3v0.1h-11.3zM34.2 1056.9h8.9v1.4h-8.9zM73.0 1078.5h10.8v2.0h-10.8zM112.3 1112.5h10.9v2.0h-10.9zM112.3 1168.2h10.9v1.8h-10.9zM112.3 1174.5h10.9v1.5h-10.9zM124.8 1058.6h10.9v1.4h-10.9zM124.8 1149.5h10.9v1.2h-10.9zM124.8 1158.5h10.9v1.8h-10.9zM124.8 1166.7h10.9v1.5h-10.9zM124.8 1179.8h10.9v1.9h-10.9zM163.0 1066.7h11.2v2.0h-11.2zM163.0 1113.3h11.2v2.0h-11.2zM163.0 1137.8h11.2v1.2h-11.2zM163.0 1143.2h11.2v0.1h-11.2zM175.8 1056.7h11.2v1.8h-11.2zM175.8 1058.5h11.2v1.5h-11.2zM175.8 1082.5h11.2v2.0h-11.2zM189.7 1056.7h10.5v1.6h-10.5z"/><path fill="#8a8af0" d="M99.6 168.3h10.6v1.2h-10.6zM99.6 186.5h10.6v2.0h-10.6zM124.5 178.7h10.8v2.0h-10.8zM150.2 121.7h11.0v1.5h-11.0zM150.2 140.0h11.0v1.2h-11.0zM164.2 116.7h10.5v1.8h-10.5zM189.7 78.5h10.7v1.8h-10.7zM189.7 81.8h10.7v1.5h-10.7zM189.7 118.3h10.7v2.0h-10.7zM318.7 100.0h10.6v1.2h-10.6zM331.0 160.0h10.8v2.4h-10.8zM382.7 103.3h10.9v2.0h-10.9zM34.2 405.8h10.7v1.5h-10.7zM34.2 441.8h10.7v1.5h-10.7zM47.3 383.6h10.8v2.0h-10.8zM188.8 379.5h11.0v1.5h-11.0zM188.8 383.0h11.0v1.2h-11.0zM188.8 443.0h11.0v2.4h-11.0zM214.8 398.3h11.0v1.8h-11.0zM240.7 560.0h11.3v1.8h-11.3zM188.8 722.2h11.0v1.5h-11.0zM188.8 748.3h11.0v2.4h-11.0zM228.3 680.5h10.7v1.1h-10.7zM228.3 728.3h10.7v1.2h-10.7zM228.3 751.7h10.7v1.7h-10.7zM254.5 355.6h10.3v1.8h-10.3zM254.5 377.1h10.3v1.2h-10.3zM254.5 382.2h10.3v2.0h-10.3zM59.7 1018.7h11.1v1.0h-11.1zM59.7 1036.2h11.1v1.8h-11.1zM99.0 1010.5h10.8v1.2h-10.8zM138.2 1010.3h10.8v2.0h-10.8zM163.0 944.9h11.2v1.8h-11.2zM201.7 1038.0h11.3v1.5h-11.3zM99.0 1068.3h10.8v1.5h-10.8zM124.8 1074.7h10.9v1.5h-10.9zM124.8 1126.2h10.9v1.8h-10.9zM163.0 1057.0h11.2v0.5h-11.2zM227.5 1109.5h10.8v1.2h-10.8z"/><path fill="#5a5aea" d="M99.6 170.7h10.6v0.9h-10.6zM111.8 207.0h11.0v0.5h-11.0zM124.5 126.1h10.8v2.0h-10.8zM124.5 168.6h10.8v1.2h-10.8zM124.5 173.3h10.8v1.2h-10.8zM150.2 163.3h11.0v1.8h-11.0zM150.2 165.1h11.0v0.7h-11.0zM189.7 106.7h10.7v1.5h-10.7zM201.7 59.2h11.3v1.5h-11.3zM201.7 139.2h11.3v2.4h-11.3zM215.6 125.4h10.7v0.5h-10.7zM227.5 117.4h10.9v0.9h-10.9zM304.7 114.2h10.9v1.2h-10.9zM318.7 102.7h10.6v0.6h-10.6zM318.7 164.2h10.6v2.0h-10.6zM331.0 143.3h10.8v1.2h-10.8zM356.8 101.7h10.9v1.5h-10.9zM356.8 167.5h10.9v1.7h-10.9zM382.7 183.3h10.9v1.8h-10.9zM34.2 352.5h10.7v1.2h-10.7zM34.2 376.7h10.7v1.8h-10.7zM34.2 380.8h10.7v1.5h-10.7zM34.2 426.7h10.7v1.5h-10.7zM34.2 469.1h10.7v0.9h-10.7zM34.2 490.2h10.7v2.0h-10.7zM34.2 494.2h10.7v0.8h-10.7zM34.2 495.8h10.7v1.2h-10.7zM34.2 498.5h10.7v1.2h-10.7zM47.3 391.5h10.8v1.2h-10.8zM34.2 790.8h10.7v1.8h-10.7zM34.2 801.7h10.7v2.0h-10.7zM85.5 696.7h10.3v1.8h-10.3zM99.2 461.7h10.5v2.0h-10.5zM137.6 469.2h10.6v2.4h-10.6zM137.6 580.5h10.6v2.4h-10.6zM176.0 422.0h10.8v2.0h-10.8zM188.8 414.8h11.0v2.4h-11.0zM188.8 417.2h11.0v1.1h-11.0zM188.8 427.8h11.0v0.5h-11.0zM188.8 458.3h11.0v1.2h-11.0zM202.6 432.8h10.7v1.8h-10.7zM228.3 355.8h10.7v1.7h-10.7zM240.7 410.8h11.3v1.8h-11.3zM240.7 416.7h11.3v1.5h-11.3zM240.7 442.8h11.3v2.4h-11.3zM240.7 478.2h11.3v1.2h-11.3zM240.7 493.4h11.3v0.8h-11.3zM188.8 510.8h11.0v1.5h-11.0zM188.8 628.7h11.0v1.2h-11.0zM214.8 566.1h11.0v1.8h-11.0zM228.3 617.5h10.7v1.7h-10.7zM240.7 515.0h11.3v0.8h-11.3zM240.7 614.5h11.3v1.5h-11.3zM176.0 701.7h10.8v2.4h-10.8zM188.8 665.8h11.0v2.4h-11.0zM188.8 673.4h11.0v1.5h-11.0zM188.8 701.4h11.0v0.3h-11.0zM188.8 707.8h11.0v1.5h-11.0zM188.8 745.7h11.0v1.8h-11.0zM188.8 759.6h11.0v1.2h-11.0zM214.8 698.3h11.0v2.0h-11.0zM240.7 665.9h11.3v1.2h-11.3zM240.7 697.8h11.3v0.6h-11.3zM240.7 729.5h11.3v2.4h-11.3zM240.7 745.7h11.3v1.5h-11.3zM240.7 772.0h11.3v2.4h-11.3zM240.7 803.2h11.3v1.2h-11.3zM254.5 628.3h10.3v1.2h-10.3zM254.5 633.5h10.3v1.2h-10.3zM254.5 635.6h10.3v2.4h-10.3zM254.5 696.2h10.3v1.8h-10.3zM254.5 721.5h10.3v1.5h-10.3zM99.0 1049.2h10.8v1.5h-10.8zM112.3 1052.6h10.9v1.4h-10.9zM124.8 1008.0h10.9v1.8h-10.9zM124.8 1011.0h10.9v1.8h-10.9zM124.8 1022.8h10.9v1.8h-10.9zM124.8 1024.6h10.9v1.5h-10.9zM124.8 1053.8h10.9v0.2h-10.9zM138.2 1041.3h10.8v1.5h-10.8zM163.0 934.7h11.2v1.5h-11.2zM163.0 941.3h11.2v2.4h-11.2zM163.0 1037.4h11.2v2.0h-11.2zM163.0 1044.0h11.2v1.8h-11.2zM163.0 1052.5h11.2v1.5h-11.2zM175.8 939.0h11.2v2.4h-11.2zM175.8 944.6h11.2v0.1h-11.2zM175.8 1000.0h11.2v1.2h-11.2zM175.8 1003.2h11.2v1.5h-11.2zM201.7 1024.7h11.3v1.2h-11.3zM99.0 1060.9h10.8v1.8h-10.8zM99.0 1080.0h10.8v1.8h-10.8zM112.3 1066.3h10.9v1.2h-10.9zM112.3 1107.0h10.9v1.8h-10.9zM112.3 1133.9h10.9v2.4h-10.9zM124.8 1063.2h10.9v2.0h-10.9zM124.8 1071.7h10.9v1.2h-10.9zM138.2 1161.7h10.8v2.4h-10.8zM163.0 1054.2h11.2v0.8h-11.2zM163.0 1058.3h11.2v1.2h-11.2zM163.0 1068.7h11.2v2.0h-11.2zM163.0 1119.5h11.2v2.0h-11.2zM163.0 1128.0h11.2v2.0h-11.2zM163.0 1133.0h11.2v0.3h-11.2zM175.8 1065.7h11.2v2.0h-11.2zM175.8 1118.7h11.2v1.2h-11.2zM227.5 1110.7h10.8v2.4h-10.8zM227.5 1138.2h10.8v1.5h-10.8z"/><path fill="#b4b4f6" d="M124.5 70.9h10.8v1.6h-10.8zM150.2 229.2h11.0v1.6h-11.0zM164.2 97.5h10.5v1.6h-10.5zM189.7 195.9h10.7v1.6h-10.7zM279.3 206.7h10.9v1.6h-10.9zM318.7 206.7h10.6v1.6h-10.6zM344.5 168.4h10.7v1.6h-10.7zM356.8 179.2h10.9v1.6h-10.9zM356.8 200.9h10.9v1.6h-10.9zM370.2 129.2h10.8v1.6h-10.8zM370.2 222.5h10.8v1.6h-10.8zM85.5 482.5h10.3v1.6h-10.3zM73.5 580.0h10.4v1.6h-10.4zM21.3 683.4h10.9v1.6h-10.9zM85.5 680.0h10.3v1.6h-10.3zM85.5 735.0h10.3v1.6h-10.3zM99.2 403.9h10.5v1.6h-10.5zM125.6 463.4h10.5v1.6h-10.5zM137.6 482.5h10.6v1.6h-10.6zM111.6 512.5h10.7v1.6h-10.7zM228.3 647.5h10.7v1.6h-10.7zM254.5 439.7h10.3v1.6h-10.3zM266.5 391.6h10.8v1.6h-10.8zM254.5 800.9h10.3v1.6h-10.3zM21.3 1019.7h10.9v1.6h-10.9zM46.7 918.9h10.9v1.6h-10.9zM59.7 1028.9h11.1v1.6h-11.1zM124.8 932.2h10.9v1.3h-10.9zM124.8 945.5h10.9v1.6h-10.9zM138.2 980.5h10.8v1.6h-10.8zM59.7 1163.4h11.1v1.6h-11.1zM86.5 1056.7h10.5v1.6h-10.5zM163.0 1157.2h11.2v1.6h-11.2zM189.7 1105.0h10.5v1.6h-10.5zM189.7 1112.5h10.5v1.6h-10.5zM215.0 1112.5h10.8v1.6h-10.8z"/><path fill="#f04e4e" d="M164.2 200.9h10.5v1.6h-10.5zM241.6 230.9h10.6v1.6h-10.6zM99.2 381.2h10.5v1.6h-10.5zM99.2 585.0h10.5v1.6h-10.5zM189.7 1065.9h10.5v1.6h-10.5zM201.7 1161.7h11.3v1.5h-11.3z"/><path fill="#0000f0" d="M189.7 158.7h10.7v2.4h-10.7zM201.7 100.0h11.3v1.2h-11.3zM227.5 132.6h10.9v0.7h-10.9zM318.7 128.3h10.6v2.4h-10.6zM331.0 115.3h10.8v1.2h-10.8zM331.0 130.9h10.8v1.6h-10.8zM382.7 136.7h10.9v1.5h-10.9zM382.7 139.7h10.9v0.3h-10.9zM382.7 151.7h10.9v1.2h-10.9zM382.7 162.9h10.9v2.4h-10.9zM73.5 731.3h10.4v1.2h-10.4zM228.3 435.5h10.7v1.6h-10.7zM240.7 364.0h11.3v2.4h-11.3zM240.7 552.5h11.3v1.6h-11.3zM240.7 592.5h11.3v1.2h-11.3zM240.7 623.7h11.3v2.4h-11.3zM188.8 691.6h11.0v1.2h-11.0zM254.5 584.7h10.3v1.3h-10.3zM254.5 615.5h10.3v1.5h-10.3zM59.7 1023.7h11.1v1.8h-11.1zM59.7 1044.7h11.1v1.6h-11.1zM112.3 1007.3h10.9v1.2h-10.9zM112.3 1010.0h10.9v2.0h-10.9zM175.8 995.1h11.2v1.2h-11.2zM175.8 1030.0h11.2v1.5h-11.2zM175.8 1046.6h11.2v1.4h-11.2zM201.7 1030.5h11.3v1.6h-11.3zM215.0 904.7h10.8v1.6h-10.8zM112.3 1170.0h10.9v1.2h-10.9zM124.8 1066.4h10.9v2.4h-10.9zM124.8 1104.8h10.9v0.2h-10.9zM124.8 1108.7h10.9v2.4h-10.9zM124.8 1156.7h10.9v1.8h-10.9zM163.0 1084.9h11.2v2.0h-11.2zM175.8 1060.0h11.2v1.8h-11.2zM175.8 1069.5h11.2v2.0h-11.2zM175.8 1084.5h11.2v1.5h-11.2z"/><path fill="#f03c3c" d="M215.6 200.9h10.7v1.6h-10.7zM267.2 148.4h10.7v1.6h-10.7zM21.3 578.4h10.9v1.6h-10.9zM99.2 711.7h10.5v1.5h-10.5zM125.6 686.7h10.5v1.6h-10.5zM125.6 693.4h10.5v1.6h-10.5zM125.6 744.6h10.5v1.2h-10.5zM73.0 905.5h10.8v1.6h-10.8zM73.0 928.0h10.8v1.6h-10.8zM73.0 963.9h10.8v1.6h-10.8zM189.7 1085.5h10.5v1.6h-10.5zM201.7 1170.0h11.3v1.7h-11.3z"/><path fill="#f03030" d="M241.6 158.4h10.6v1.6h-10.6zM267.2 188.3h10.7v1.2h-10.7zM267.2 189.5h10.7v1.3h-10.7zM99.2 457.5h10.5v1.6h-10.5zM111.6 350.8h10.7v1.8h-10.7zM111.6 400.7h10.7v0.1h-10.7zM99.2 682.9h10.5v1.6h-10.5zM73.0 975.9h10.8v1.6h-10.8zM73.0 990.5h10.8v1.6h-10.8zM150.3 978.9h9.5v1.6h-9.5zM175.8 913.8h11.2v1.8h-11.2zM21.3 1149.5h10.9v1.3h-10.9zM189.7 1162.5h10.5v1.6h-10.5z"/><path fill="#f04848" d="M241.6 234.2h10.6v1.6h-10.6zM99.2 388.4h10.5v1.6h-10.5zM111.6 420.0h10.7v1.6h-10.7zM125.6 377.5h10.5v1.8h-10.5zM125.6 379.3h10.5v1.8h-10.5zM137.6 380.1h10.6v0.7h-10.6zM125.6 542.2h10.5v1.6h-10.5zM46.7 975.5h10.9v1.6h-10.9zM59.7 972.1h11.1v0.9h-11.1zM73.0 943.0h10.8v1.6h-10.8zM73.0 995.5h10.8v1.6h-10.8zM99.0 925.5h10.8v1.6h-10.8zM189.7 923.9h10.5v1.6h-10.5zM86.5 1142.2h10.5v1.6h-10.5z"/><path fill="#f02a2a" d="M253.8 205.5h10.7v1.6h-10.7zM111.6 387.9h10.7v1.3h-10.7zM99.2 692.9h10.5v1.3h-10.5zM59.7 969.7h11.1v2.4h-11.1zM73.0 970.5h10.8v1.6h-10.8zM99.0 932.5h10.8v1.6h-10.8zM189.7 1169.5h10.5v1.6h-10.5z"/><path fill="#0a0aec" d="M47.3 348.3h10.8v10.9h-10.8zM47.3 394.2h10.8v26.7h-10.8zM47.3 424.2h10.8v78.3h-10.8zM34.2 509.2h10.7v148.3h-10.7zM47.3 502.5h10.8v137.5h-10.8zM34.2 657.5h10.7v84.2h-10.7zM47.3 657.5h10.8v1.7h-10.8zM151.5 578.3h10.4v5.0h-10.4zM163.2 576.7h10.1v10.8h-10.1z"/><path fill="#ccccf6" d="M59.8 395.0h10.7v1.2h-10.7zM34.2 506.8h10.7v0.7h-10.7zM228.3 606.1h10.7v2.4h-10.7zM254.5 669.8h10.3v0.7h-10.3z"/></g>
<g shape-rendering="auto"><text transform="translate(28.25,252.9) scale(0.97,1)" font-size="13" text-anchor="middle" font-weight="bold" font-style="normal" >P</text><text transform="translate(38.6,252.9) scale(0.97,1)" font-size="13" text-anchor="middle" font-weight="bold" font-style="normal" >R</text><text transform="translate(53.6,252.9) scale(0.97,1)" font-size="13" text-anchor="middle" font-weight="bold" font-style="normal" >P</text><text transform="translate(65.5,252.9) scale(0.97,1)" font-size="13" text-anchor="middle" font-weight="bold" font-style="normal" >R</text><text transform="translate(78.85,252.9) scale(0.97,1)" font-size="13" text-anchor="middle" font-weight="bold" font-style="normal" >P</text><text transform="translate(91.05,252.9) scale(0.97,1)" font-size="13" text-anchor="middle" font-weight="bold" font-style="normal" >R</text><text transform="translate(104.9,252.9) scale(0.97,1)" font-size="13" text-anchor="middle" font-weight="bold" font-style="normal" >P</text><text transform="translate(117.3,252.9) scale(0.97,1)" font-size="13" text-anchor="middle" font-weight="bold" font-style="normal" >R</text><text transform="translate(129.9,252.9) scale(0.97,1)" font-size="13" text-anchor="middle" font-weight="bold" font-style="normal" >R</text><text transform="translate(143.8,252.9) scale(0.97,1)" font-size="13" text-anchor="middle" font-weight="bold" font-style="normal" >P</text><text transform="translate(155.7,252.9) scale(0.97,1)" font-size="13" text-anchor="middle" font-weight="bold" font-style="normal" >R</text><text transform="translate(169.45,252.9) scale(0.97,1)" font-size="13" text-anchor="middle" font-weight="bold" font-style="normal" >P</text><text transform="translate(181.25,252.9) scale(0.97,1)" font-size="13" text-anchor="middle" font-weight="bold" font-style="normal" >R</text><text transform="translate(195.05,252.9) scale(0.97,1)" font-size="13" text-anchor="middle" font-weight="bold" font-style="normal" >P</text><text transform="translate(207.35,252.9) scale(0.97,1)" font-size="13" text-anchor="middle" font-weight="bold" font-style="normal" >R</text><text transform="translate(220.95,252.9) scale(0.97,1)" font-size="13" text-anchor="middle" font-weight="bold" font-style="normal" >P</text><text transform="translate(232.95,252.9) scale(0.97,1)" font-size="13" text-anchor="middle" font-weight="bold" font-style="normal" >R</text><text transform="translate(246.89999999999998,252.9) scale(0.97,1)" font-size="13" text-anchor="middle" font-weight="bold" font-style="normal" >P</text><text transform="translate(259.15,252.9) scale(0.97,1)" font-size="13" text-anchor="middle" font-weight="bold" font-style="normal" >R</text><text transform="translate(272.54999999999995,252.9) scale(0.97,1)" font-size="13" text-anchor="middle" font-weight="bold" font-style="normal" >P</text><text transform="translate(284.75,252.9) scale(0.97,1)" font-size="13" text-anchor="middle" font-weight="bold" font-style="normal" >R</text><text transform="translate(298.3,252.9) scale(0.97,1)" font-size="13" text-anchor="middle" font-weight="bold" font-style="normal" >P</text><text transform="translate(310.15,252.9) scale(0.97,1)" font-size="13" text-anchor="middle" font-weight="bold" font-style="normal" >R</text><text transform="translate(324.0,252.9) scale(0.97,1)" font-size="13" text-anchor="middle" font-weight="bold" font-style="normal" >P</text><text transform="translate(336.4,252.9) scale(0.97,1)" font-size="13" text-anchor="middle" font-weight="bold" font-style="normal" >R</text><text transform="translate(349.85,252.9) scale(0.97,1)" font-size="13" text-anchor="middle" font-weight="bold" font-style="normal" >P</text><text transform="translate(362.25,252.9) scale(0.97,1)" font-size="13" text-anchor="middle" font-weight="bold" font-style="normal" >R</text><text transform="translate(375.6,252.9) scale(0.97,1)" font-size="13" text-anchor="middle" font-weight="bold" font-style="normal" >P</text><text transform="translate(388.15,252.9) scale(0.97,1)" font-size="13" text-anchor="middle" font-weight="bold" font-style="normal" >R</text><text transform="translate(26.75,821.8) scale(0.97,1)" font-size="13" text-anchor="middle" font-weight="bold" font-style="normal" >P</text><text transform="translate(39.55,821.8) scale(0.97,1)" font-size="13" text-anchor="middle" font-weight="bold" font-style="normal" >R</text><text transform="translate(52.7,821.8) scale(0.97,1)" font-size="13" text-anchor="middle" font-weight="bold" font-style="normal" >P</text><text transform="translate(65.15,821.8) scale(0.97,1)" font-size="13" text-anchor="middle" font-weight="bold" font-style="normal" >R</text><text transform="translate(78.7,821.8) scale(0.97,1)" font-size="13" text-anchor="middle" font-weight="bold" font-style="normal" >P</text><text transform="translate(90.65,821.8) scale(0.97,1)" font-size="13" text-anchor="middle" font-weight="bold" font-style="normal" >R</text><text transform="translate(104.45,821.8) scale(0.97,1)" font-size="13" text-anchor="middle" font-weight="bold" font-style="normal" >P</text><text transform="translate(116.94999999999999,821.8) scale(0.97,1)" font-size="13" text-anchor="middle" font-weight="bold" font-style="normal" >R</text><text transform="translate(130.85,821.8) scale(0.97,1)" font-size="13" text-anchor="middle" font-weight="bold" font-style="normal" >P</text><text transform="translate(142.89999999999998,821.8) scale(0.97,1)" font-size="13" text-anchor="middle" font-weight="bold" font-style="normal" >R</text><text transform="translate(156.7,821.8) scale(0.97,1)" font-size="13" text-anchor="middle" font-weight="bold" font-style="normal" >P</text><text transform="translate(168.25,821.8) scale(0.97,1)" font-size="13" text-anchor="middle" font-weight="bold" font-style="normal" >R</text><text transform="translate(181.4,821.8) scale(0.97,1)" font-size="13" text-anchor="middle" font-weight="bold" font-style="normal" >P</text><text transform="translate(194.3,821.8) scale(0.97,1)" font-size="13" text-anchor="middle" font-weight="bold" font-style="normal" >R</text><text transform="translate(207.95,821.8) scale(0.97,1)" font-size="13" text-anchor="middle" font-weight="bold" font-style="normal" >P</text><text transform="translate(220.3,821.8) scale(0.97,1)" font-size="13" text-anchor="middle" font-weight="bold" font-style="normal" >R</text><text transform="translate(233.65,821.8) scale(0.97,1)" font-size="13" text-anchor="middle" font-weight="bold" font-style="normal" >P</text><text transform="translate(246.35,821.8) scale(0.97,1)" font-size="13" text-anchor="middle" font-weight="bold" font-style="normal" >R</text><text transform="translate(259.65,821.8) scale(0.97,1)" font-size="13" text-anchor="middle" font-weight="bold" font-style="normal" >P</text><text transform="translate(271.9,821.8) scale(0.97,1)" font-size="13" text-anchor="middle" font-weight="bold" font-style="normal" >R</text><text transform="translate(26.75,1199.8) scale(0.97,1)" font-size="13" text-anchor="middle" font-weight="bold" font-style="normal" >P</text><text transform="translate(38.650000000000006,1199.8) scale(0.97,1)" font-size="13" text-anchor="middle" font-weight="bold" font-style="normal" >R</text><text transform="translate(52.150000000000006,1199.8) scale(0.97,1)" font-size="13" text-anchor="middle" font-weight="bold" font-style="normal" >P</text><text transform="translate(65.25,1199.8) scale(0.97,1)" font-size="13" text-anchor="middle" font-weight="bold" font-style="normal" >R</text><text transform="translate(78.4,1199.8) scale(0.97,1)" font-size="13" text-anchor="middle" font-weight="bold" font-style="normal" >R</text><text transform="translate(91.75,1199.8) scale(0.97,1)" font-size="13" text-anchor="middle" font-weight="bold" font-style="normal" >P</text><text transform="translate(104.4,1199.8) scale(0.97,1)" font-size="13" text-anchor="middle" font-weight="bold" font-style="normal" >R</text><text transform="translate(117.75,1199.8) scale(0.97,1)" font-size="13" text-anchor="middle" font-weight="bold" font-style="normal" >P</text><text transform="translate(130.25,1199.8) scale(0.97,1)" font-size="13" text-anchor="middle" font-weight="bold" font-style="normal" >R</text><text transform="translate(143.6,1199.8) scale(0.97,1)" font-size="13" text-anchor="middle" font-weight="bold" font-style="normal" >P</text><text transform="translate(155.05,1199.8) scale(0.97,1)" font-size="13" text-anchor="middle" font-weight="bold" font-style="normal" >R</text><text transform="translate(168.6,1199.8) scale(0.97,1)" font-size="13" text-anchor="middle" font-weight="bold" font-style="normal" >P</text><text transform="translate(181.4,1199.8) scale(0.97,1)" font-size="13" text-anchor="middle" font-weight="bold" font-style="normal" >R</text><text transform="translate(194.95,1199.8) scale(0.97,1)" font-size="13" text-anchor="middle" font-weight="bold" font-style="normal" >P</text><text transform="translate(207.35,1199.8) scale(0.97,1)" font-size="13" text-anchor="middle" font-weight="bold" font-style="normal" >R</text><text transform="translate(220.4,1199.8) scale(0.97,1)" font-size="13" text-anchor="middle" font-weight="bold" font-style="normal" >P</text><text transform="translate(232.9,1199.8) scale(0.97,1)" font-size="13" text-anchor="middle" font-weight="bold" font-style="normal" >R</text><text transform="translate(0.5,17.8) scale(1.0,1)" font-size="23.2" text-anchor="start" font-weight="bold" font-style="normal" >A</text><text transform="translate(32.1,48.2) scale(1.1,1)" font-size="15" text-anchor="middle" font-weight="normal" font-style="normal" stroke="#000" stroke-width="0.25">2</text><text transform="translate(59.2,48.2) scale(1.1,1)" font-size="15" text-anchor="middle" font-weight="normal" font-style="normal" stroke="#000" stroke-width="0.25">8</text><text transform="translate(82.8,48.2) scale(1.1,1)" font-size="15" text-anchor="middle" font-weight="normal" font-style="normal" stroke="#000" stroke-width="0.25">9</text><text transform="translate(114.5,48.2) scale(1.1,1)" font-size="15" text-anchor="middle" font-weight="normal" font-style="normal" stroke="#000" stroke-width="0.25">10</text><text transform="translate(145.5,48.2) scale(1.1,1)" font-size="15" text-anchor="middle" font-weight="normal" font-style="normal" stroke="#000" stroke-width="0.25">11</text><text transform="translate(173.5,48.2) scale(1.1,1)" font-size="15" text-anchor="middle" font-weight="normal" font-style="normal" stroke="#000" stroke-width="0.25">14</text><text transform="translate(198.5,48.2) scale(1.1,1)" font-size="15" text-anchor="middle" font-weight="normal" font-style="normal" stroke="#000" stroke-width="0.25">15</text><text transform="translate(223.5,48.2) scale(1.1,1)" font-size="15" text-anchor="middle" font-weight="normal" font-style="normal" stroke="#000" stroke-width="0.25">16</text><text transform="translate(250.8,48.2) scale(1.1,1)" font-size="15" text-anchor="middle" font-weight="normal" font-style="normal" stroke="#000" stroke-width="0.25">19</text><text transform="translate(276.7,48.2) scale(1.1,1)" font-size="15" text-anchor="middle" font-weight="normal" font-style="normal" stroke="#000" stroke-width="0.25">20</text><text transform="translate(300.8,48.2) scale(1.1,1)" font-size="15" text-anchor="middle" font-weight="normal" font-style="normal" stroke="#000" stroke-width="0.25">21</text><text transform="translate(328.3,48.2) scale(1.1,1)" font-size="15" text-anchor="middle" font-weight="normal" font-style="normal" stroke="#000" stroke-width="0.25">22</text><text transform="translate(353.3,48.2) scale(1.1,1)" font-size="15" text-anchor="middle" font-weight="normal" font-style="normal" stroke="#000" stroke-width="0.25">23</text><text transform="translate(378.3,48.2) scale(1.1,1)" font-size="15" text-anchor="middle" font-weight="normal" font-style="normal" stroke="#000" stroke-width="0.25">25</text><text transform="translate(402,24.6) scale(1.1,1)" font-size="15" text-anchor="start" font-weight="normal" font-style="normal" stroke="#000" stroke-width="0.25">Chr 12.</text><text transform="translate(402,62.8) scale(1.1,1)" font-size="15" text-anchor="start" font-weight="normal" font-style="normal" stroke="#000" stroke-width="0.25">0,037 Mb</text><text transform="translate(402,243.3) scale(1.1,1)" font-size="15" text-anchor="start" font-weight="normal" font-style="normal" stroke="#000" stroke-width="0.25">37,039 Mb</text><text transform="translate(428,125) scale(1.1,1)" font-size="15" text-anchor="start" font-weight="normal" font-style="italic" stroke="#000" stroke-width="0.25">ETV6</text><line x1="397.5" y1="118.5" x2="421.8" y2="118.5" stroke="#000" stroke-width="1.6"/><line x1="20" y1="57.3" x2="394" y2="57.3" stroke="#000" stroke-width="1.6"/><line x1="20" y1="238.2" x2="394" y2="238.2" stroke="#000" stroke-width="1.6"/><line x1="46.2" y1="57.3" x2="46.2" y2="238.2" stroke="#000" stroke-width="1.8"/><line x1="72" y1="57.3" x2="72" y2="238.2" stroke="#000" stroke-width="1.8"/><line x1="98.3" y1="57.3" x2="98.3" y2="238.2" stroke="#000" stroke-width="1.8"/><line x1="136.7" y1="57.3" x2="136.7" y2="238.2" stroke="#000" stroke-width="1.8"/><line x1="162.3" y1="57.3" x2="162.3" y2="238.2" stroke="#000" stroke-width="1.8"/><line x1="188.3" y1="57.3" x2="188.3" y2="238.2" stroke="#000" stroke-width="1.8"/><line x1="214" y1="57.3" x2="214" y2="238.2" stroke="#000" stroke-width="1.8"/><line x1="240" y1="57.3" x2="240" y2="238.2" stroke="#000" stroke-width="1.8"/><line x1="265.7" y1="57.3" x2="265.7" y2="238.2" stroke="#000" stroke-width="1.8"/><line x1="291.3" y1="57.3" x2="291.3" y2="238.2" stroke="#000" stroke-width="1.8"/><line x1="317.3" y1="57.3" x2="317.3" y2="238.2" stroke="#000" stroke-width="1.8"/><line x1="343" y1="57.3" x2="343" y2="238.2" stroke="#000" stroke-width="1.8"/><line x1="368.3" y1="57.3" x2="368.3" y2="238.2" stroke="#000" stroke-width="1.8"/><text transform="translate(3.8,319.0) scale(1.0,1)" font-size="23.2" text-anchor="start" font-weight="bold" font-style="normal" >B</text><text transform="translate(33.5,340) scale(1.1,1)" font-size="15" text-anchor="middle" font-weight="normal" font-style="normal" stroke="#000" stroke-width="0.25">2</text><text transform="translate(59,340) scale(1.1,1)" font-size="15" text-anchor="middle" font-weight="normal" font-style="normal" stroke="#000" stroke-width="0.25">7</text><text transform="translate(85,340) scale(1.1,1)" font-size="15" text-anchor="middle" font-weight="normal" font-style="normal" stroke="#000" stroke-width="0.25">8</text><text transform="translate(109,340) scale(1.1,1)" font-size="15" text-anchor="middle" font-weight="normal" font-style="normal" stroke="#000" stroke-width="0.25">19</text><text transform="translate(135.8,340) scale(1.1,1)" font-size="15" text-anchor="middle" font-weight="normal" font-style="normal" stroke="#000" stroke-width="0.25">20</text><text transform="translate(160.8,340) scale(1.1,1)" font-size="15" text-anchor="middle" font-weight="normal" font-style="normal" stroke="#000" stroke-width="0.25">21</text><text transform="translate(189.7,340) scale(1.1,1)" font-size="15" text-anchor="middle" font-weight="normal" font-style="normal" stroke="#000" stroke-width="0.25">22</text><text transform="translate(213.3,340) scale(1.1,1)" font-size="15" text-anchor="middle" font-weight="normal" font-style="normal" stroke="#000" stroke-width="0.25">23</text><text transform="translate(239.2,340) scale(1.1,1)" font-size="15" text-anchor="middle" font-weight="normal" font-style="normal" stroke="#000" stroke-width="0.25">26</text><text transform="translate(264.7,340) scale(1.1,1)" font-size="15" text-anchor="middle" font-weight="normal" font-style="normal" stroke="#000" stroke-width="0.25">27</text><text transform="translate(285.7,317.3) scale(1.1,1)" font-size="15" text-anchor="start" font-weight="normal" font-style="normal" stroke="#000" stroke-width="0.25">Chr. 9</text><text transform="translate(287,352.3) scale(1.1,1)" font-size="15" text-anchor="start" font-weight="normal" font-style="normal" stroke="#000" stroke-width="0.25">20,657 Mb</text><text transform="translate(284.5,810) scale(1.1,1)" font-size="15" text-anchor="start" font-weight="normal" font-style="normal" stroke="#000" stroke-width="0.25">23,515 Mb</text><text transform="translate(325,591.4) scale(1.08,1)" font-size="15" text-anchor="start" font-weight="normal" font-style="italic" stroke="#000" stroke-width="0.25">CDKN2A</text><text transform="translate(325,608.7) scale(1.08,1)" font-size="15" text-anchor="start" font-weight="normal" font-style="italic" stroke="#000" stroke-width="0.25">CDKN2B</text><line x1="288.2" y1="569.3" x2="313.6" y2="569.3" stroke="#000" stroke-width="1.5"/><line x1="288.2" y1="621.2" x2="313.6" y2="621.2" stroke="#000" stroke-width="1.5"/><line x1="300.8" y1="569.3" x2="300.8" y2="621.2" stroke="#000" stroke-width="1.5"/><line x1="20" y1="347.3" x2="277.3" y2="347.3" stroke="#000" stroke-width="1.6"/><line x1="20" y1="806.8" x2="277.5" y2="806.8" stroke="#000" stroke-width="1.6"/><line x1="46.1" y1="347.3" x2="46.1" y2="806.8" stroke="#000" stroke-width="1.8"/><line x1="72.1" y1="347.3" x2="72.1" y2="806.8" stroke="#000" stroke-width="1.8"/><line x1="97" y1="347.3" x2="97" y2="806.8" stroke="#000" stroke-width="1.8"/><line x1="123.9" y1="347.3" x2="123.9" y2="806.8" stroke="#000" stroke-width="1.8"/><line x1="149.8" y1="347.3" x2="149.8" y2="806.8" stroke="#000" stroke-width="1.8"/><line x1="174.4" y1="347.3" x2="174.4" y2="806.8" stroke="#000" stroke-width="1.8"/><line x1="201.2" y1="347.3" x2="201.2" y2="806.8" stroke="#000" stroke-width="1.8"/><line x1="227.4" y1="347.3" x2="227.4" y2="806.8" stroke="#000" stroke-width="1.8"/><line x1="253.2" y1="347.3" x2="253.2" y2="806.8" stroke="#000" stroke-width="1.8"/><text transform="translate(2.3,875.0) scale(1.0,1)" font-size="23.2" text-anchor="start" font-weight="bold" font-style="normal" >C</text><text transform="translate(33.5,895) scale(1.1,1)" font-size="15" text-anchor="middle" font-weight="normal" font-style="normal" stroke="#000" stroke-width="0.25">2</text><text transform="translate(63.8,895) scale(1.1,1)" font-size="15" text-anchor="middle" font-weight="normal" font-style="normal" stroke="#000" stroke-width="0.25">10</text><text transform="translate(98,895) scale(1.1,1)" font-size="15" text-anchor="middle" font-weight="normal" font-style="normal" stroke="#000" stroke-width="0.25">11</text><text transform="translate(123.8,895) scale(1.1,1)" font-size="15" text-anchor="middle" font-weight="normal" font-style="normal" stroke="#000" stroke-width="0.25">13</text><text transform="translate(150.5,895) scale(1.1,1)" font-size="15" text-anchor="middle" font-weight="normal" font-style="normal" stroke="#000" stroke-width="0.25">14</text><text transform="translate(175.8,895) scale(1.1,1)" font-size="15" text-anchor="middle" font-weight="normal" font-style="normal" stroke="#000" stroke-width="0.25">15</text><text transform="translate(200.8,895) scale(1.1,1)" font-size="15" text-anchor="middle" font-weight="normal" font-style="normal" stroke="#000" stroke-width="0.25">17</text><text transform="translate(226.7,895) scale(1.1,1)" font-size="15" text-anchor="middle" font-weight="normal" font-style="normal" stroke="#000" stroke-width="0.25">22</text><text transform="translate(246.7,871.7) scale(1.1,1)" font-size="15" text-anchor="start" font-weight="normal" font-style="normal" stroke="#000" stroke-width="0.25">Chr. 6</text><text transform="translate(249,906.7) scale(1.1,1)" font-size="15" text-anchor="start" font-weight="normal" font-style="normal" stroke="#000" stroke-width="0.25">40,830 Mb</text><text transform="translate(246.7,1187.5) scale(1.1,1)" font-size="15" text-anchor="start" font-weight="normal" font-style="normal" stroke="#000" stroke-width="0.25">169,506 Mb</text><text transform="translate(283,1034.0) scale(1.1,1)" font-size="15" text-anchor="start" font-weight="normal" font-style="normal" stroke="#000" stroke-width="0.25">6q16.2-16.3</text><line x1="248.2" y1="1018.7" x2="273.3" y2="1018.7" stroke="#000" stroke-width="1.5"/><line x1="248.2" y1="1040.1" x2="273.3" y2="1040.1" stroke="#000" stroke-width="1.5"/><line x1="260.8" y1="1018.7" x2="260.8" y2="1040.1" stroke="#000" stroke-width="1.5"/><line x1="20" y1="902.2" x2="238" y2="902.2" stroke="#000" stroke-width="1.6"/><line x1="20" y1="1185" x2="239.5" y2="1185" stroke="#000" stroke-width="1.6"/><line x1="44.2" y1="902.2" x2="44.2" y2="1185" stroke="#000" stroke-width="1.8"/><line x1="85" y1="902.2" x2="85" y2="1185" stroke="#000" stroke-width="1.8"/><line x1="111" y1="902.2" x2="111" y2="1185" stroke="#000" stroke-width="1.8"/><line x1="137.1" y1="902.2" x2="137.1" y2="1185" stroke="#000" stroke-width="1.8"/><line x1="161.5" y1="902.2" x2="161.5" y2="1185" stroke="#000" stroke-width="1.8"/><line x1="188.3" y1="902.2" x2="188.3" y2="1185" stroke="#000" stroke-width="1.8"/><line x1="214" y1="902.2" x2="214" y2="1185" stroke="#000" stroke-width="1.8"/><text transform="translate(21,1238) scale(1.1,1)" font-size="15" text-anchor="start" font-weight="normal" font-style="normal" stroke="#000" stroke-width="0.25">-2</text><text transform="translate(140,1238) scale(1.1,1)" font-size="15" text-anchor="start" font-weight="normal" font-style="normal" stroke="#000" stroke-width="0.25">2</text><rect x="21.9" y="1241.8" width="24.1" height="8" fill="#4040c0" stroke="#000" stroke-width="1.2"/><rect x="47.5" y="1241.8" width="24.5" height="8" fill="#8282ea" stroke="#000" stroke-width="1.2"/><rect x="73.5" y="1241.8" width="24.099999999999994" height="8" fill="#ffffff" stroke="#000" stroke-width="1.2"/><rect x="99" y="1241.8" width="24" height="8" fill="#fa5c5c" stroke="#000" stroke-width="1.2"/><rect x="124.8" y="1241.8" width="24.39999999999999" height="8" fill="#ff0000" stroke="#000" stroke-width="1.2"/><text transform="translate(20.3,1268.6) scale(1.1,1)" font-size="15" stroke="#000" stroke-width="0.25">Log<tspan font-size="9" dy="1.5">2</tspan><tspan dy="-1.5"> ratio</tspan></text></g>
</svg></body></html>
